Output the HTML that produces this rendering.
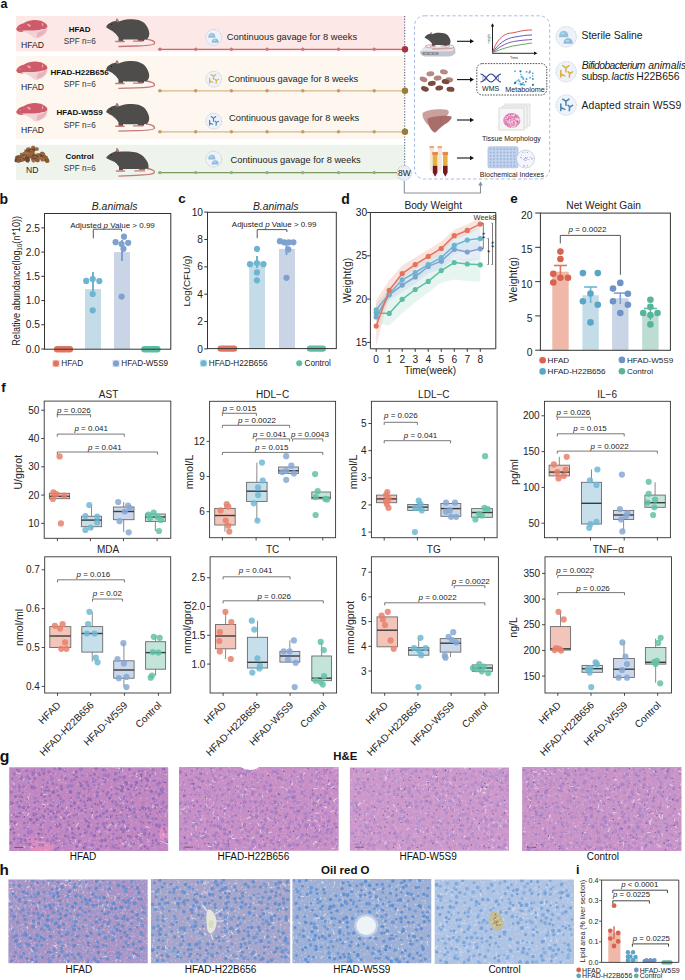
<!DOCTYPE html>
<html><head><meta charset="utf-8"><style>
html,body{margin:0;padding:0;background:#fff;width:685px;height:980px;overflow:hidden;}
svg{display:block;font-family:"Liberation Sans", sans-serif;}
</style></head><body>
<svg width="685" height="980" viewBox="0 0 685 980">
<defs>
<filter id="fw" x="0" y="0" width="1" height="1" filterUnits="objectBoundingBox">
 <feTurbulence type="fractalNoise" baseFrequency="0.45" numOctaves="2" seed="4"/>
 <feColorMatrix type="matrix" values="0 0 0 0 1  0 0 0 0 1  0 0 0 0 1  3.2 0 0 0 -1.75"/>
</filter>
<filter id="fd" x="0" y="0" width="1" height="1" filterUnits="objectBoundingBox">
 <feTurbulence type="fractalNoise" baseFrequency="0.18" numOctaves="2" seed="9"/>
 <feColorMatrix type="matrix" values="0 0 0 0 0.45  0 0 0 0 0.25  0 0 0 0 0.6  0 2.0 0 0 -0.9"/>
</filter>
<filter id="fb" x="0" y="0" width="1" height="1" filterUnits="objectBoundingBox"><feGaussianBlur stdDeviation="0.55"/></filter>
<filter id="fr" x="0" y="0" width="1" height="1" filterUnits="objectBoundingBox">
 <feTurbulence type="fractalNoise" baseFrequency="0.6" numOctaves="1" seed="2"/>
 <feColorMatrix type="matrix" values="0 0 0 0 0.78  0 0 0 0 0.3  0 0 0 0 0.5  0 0 2.6 0 -1.1"/>
</filter>
</defs>
<rect width="685" height="980" fill="#fff"/>
<text x="0.40" y="7.90" font-size="12.6" font-weight="bold" fill="#111">a</text>
<rect x="16.00" y="16.00" width="389.00" height="35.50" fill="#fce8e6"/>
<rect x="16.00" y="56.00" width="389.00" height="83.00" fill="#fdf7ef"/>
<rect x="16.00" y="144.80" width="389.00" height="35.00" fill="#eef3ec"/>
<g transform="translate(0,0)">
<path d="M20.8,30.8 C23,30.7 26,30.5 29.5,30.5 C31,30.5 33,30.5 36.5,30.2 C38,30.2 40,29.8 43,29 C44.5,29 46,28.5 47.3,27.2 C47.6,29 47.3,30.5 47,31.4 C46,33 45,34.5 43.5,35.4 C41.5,36.8 39,38 37.1,38.4 C36,38.5 35,38.4 34.2,38.1 C32.5,36.8 31,35.3 29.5,34.3 C27.5,33.2 25.5,32.3 23.7,32 C22,31.7 20.5,31.5 20.8,30.8 Z" fill="#f1d3d6"/>
<path d="M38,32 C41,31 44,30 46.8,28.5 C46.5,31 45,33.5 42,35.5 C40,36.5 38.5,37 37,37.5 C36.5,35 37,33.5 38,32 Z" fill="#e6b4ba"/>
<path d="M16.1,29 C18,25 21,23.5 23.7,23.2 C26,22 28,21 29.5,20.8 C32,20 34,20 35.4,20.1 C38,20.2 40.5,20.6 42.4,21.4 C44.5,22.3 46,23.3 46.5,24.3 C47.3,25.3 47.6,26.3 47.3,27.2 C46,28.5 44.5,29 43,29 C40,29.8 38,30.2 36.5,30.2 C33,30.5 31,30.5 29.5,30.5 C26,30.5 23,30.7 20.8,30.8 C18.5,30.8 16.8,30.2 16.1,29 Z" fill="#cf5a6a"/>
<path d="M16.1,29 C16.8,30.4 18,31.3 19,31.6 C20.5,31.8 22,31.9 23.7,32 C22,31.2 21,30.9 20.8,30.8 C18.5,30.8 16.8,30.2 16.1,29 Z" fill="#a83848"/>
<ellipse cx="29" cy="25.2" rx="2.2" ry="1.1" fill="#e8a0aa" transform="rotate(30,29,25.2)"/>
<ellipse cx="42.6" cy="24.6" rx="0.7" ry="1.8" fill="#e8a0aa"/>
<ellipse cx="20" cy="27.5" rx="1.2" ry="0.6" fill="#de8a96"/>
</g>
<g transform="translate(0,41.5)">
<path d="M20.8,30.8 C23,30.7 26,30.5 29.5,30.5 C31,30.5 33,30.5 36.5,30.2 C38,30.2 40,29.8 43,29 C44.5,29 46,28.5 47.3,27.2 C47.6,29 47.3,30.5 47,31.4 C46,33 45,34.5 43.5,35.4 C41.5,36.8 39,38 37.1,38.4 C36,38.5 35,38.4 34.2,38.1 C32.5,36.8 31,35.3 29.5,34.3 C27.5,33.2 25.5,32.3 23.7,32 C22,31.7 20.5,31.5 20.8,30.8 Z" fill="#f1d3d6"/>
<path d="M38,32 C41,31 44,30 46.8,28.5 C46.5,31 45,33.5 42,35.5 C40,36.5 38.5,37 37,37.5 C36.5,35 37,33.5 38,32 Z" fill="#e6b4ba"/>
<path d="M16.1,29 C18,25 21,23.5 23.7,23.2 C26,22 28,21 29.5,20.8 C32,20 34,20 35.4,20.1 C38,20.2 40.5,20.6 42.4,21.4 C44.5,22.3 46,23.3 46.5,24.3 C47.3,25.3 47.6,26.3 47.3,27.2 C46,28.5 44.5,29 43,29 C40,29.8 38,30.2 36.5,30.2 C33,30.5 31,30.5 29.5,30.5 C26,30.5 23,30.7 20.8,30.8 C18.5,30.8 16.8,30.2 16.1,29 Z" fill="#cf5a6a"/>
<path d="M16.1,29 C16.8,30.4 18,31.3 19,31.6 C20.5,31.8 22,31.9 23.7,32 C22,31.2 21,30.9 20.8,30.8 C18.5,30.8 16.8,30.2 16.1,29 Z" fill="#a83848"/>
<ellipse cx="29" cy="25.2" rx="2.2" ry="1.1" fill="#e8a0aa" transform="rotate(30,29,25.2)"/>
<ellipse cx="42.6" cy="24.6" rx="0.7" ry="1.8" fill="#e8a0aa"/>
<ellipse cx="20" cy="27.5" rx="1.2" ry="0.6" fill="#de8a96"/>
</g>
<g transform="translate(0,83)">
<path d="M20.8,30.8 C23,30.7 26,30.5 29.5,30.5 C31,30.5 33,30.5 36.5,30.2 C38,30.2 40,29.8 43,29 C44.5,29 46,28.5 47.3,27.2 C47.6,29 47.3,30.5 47,31.4 C46,33 45,34.5 43.5,35.4 C41.5,36.8 39,38 37.1,38.4 C36,38.5 35,38.4 34.2,38.1 C32.5,36.8 31,35.3 29.5,34.3 C27.5,33.2 25.5,32.3 23.7,32 C22,31.7 20.5,31.5 20.8,30.8 Z" fill="#f1d3d6"/>
<path d="M38,32 C41,31 44,30 46.8,28.5 C46.5,31 45,33.5 42,35.5 C40,36.5 38.5,37 37,37.5 C36.5,35 37,33.5 38,32 Z" fill="#e6b4ba"/>
<path d="M16.1,29 C18,25 21,23.5 23.7,23.2 C26,22 28,21 29.5,20.8 C32,20 34,20 35.4,20.1 C38,20.2 40.5,20.6 42.4,21.4 C44.5,22.3 46,23.3 46.5,24.3 C47.3,25.3 47.6,26.3 47.3,27.2 C46,28.5 44.5,29 43,29 C40,29.8 38,30.2 36.5,30.2 C33,30.5 31,30.5 29.5,30.5 C26,30.5 23,30.7 20.8,30.8 C18.5,30.8 16.8,30.2 16.1,29 Z" fill="#cf5a6a"/>
<path d="M16.1,29 C16.8,30.4 18,31.3 19,31.6 C20.5,31.8 22,31.9 23.7,32 C22,31.2 21,30.9 20.8,30.8 C18.5,30.8 16.8,30.2 16.1,29 Z" fill="#a83848"/>
<ellipse cx="29" cy="25.2" rx="2.2" ry="1.1" fill="#e8a0aa" transform="rotate(30,29,25.2)"/>
<ellipse cx="42.6" cy="24.6" rx="0.7" ry="1.8" fill="#e8a0aa"/>
<ellipse cx="20" cy="27.5" rx="1.2" ry="0.6" fill="#de8a96"/>
</g>
<g transform="translate(0,0)">
<rect x="31.24" y="145.73" width="3.8" height="3.2" rx="1.3" fill="#9a6842"/>
<rect x="31.14" y="147.17" width="3.8" height="3.2" rx="1.3" fill="#8a5a38"/>
<rect x="31.91" y="147.29" width="3.8" height="3.2" rx="1.3" fill="#9a6842"/>
<rect x="34.98" y="147.38" width="3.8" height="3.2" rx="1.3" fill="#a0714a"/>
<rect x="34.36" y="147.57" width="3.8" height="3.2" rx="1.3" fill="#9a6842"/>
<rect x="26.91" y="147.59" width="3.8" height="3.2" rx="1.3" fill="#7a4e30"/>
<rect x="25.90" y="147.85" width="3.8" height="3.2" rx="1.3" fill="#9a6842"/>
<rect x="27.97" y="147.88" width="3.8" height="3.2" rx="1.3" fill="#a0714a"/>
<rect x="31.38" y="148.59" width="3.8" height="3.2" rx="1.3" fill="#6e4428"/>
<rect x="27.77" y="148.92" width="3.8" height="3.2" rx="1.3" fill="#6e4428"/>
<rect x="24.32" y="149.51" width="3.8" height="3.2" rx="1.3" fill="#8a5a38"/>
<rect x="29.53" y="149.97" width="3.8" height="3.2" rx="1.3" fill="#a0714a"/>
<rect x="26.75" y="150.44" width="3.8" height="3.2" rx="1.3" fill="#7a4e30"/>
<rect x="30.84" y="150.77" width="3.8" height="3.2" rx="1.3" fill="#8a5a38"/>
<rect x="40.16" y="151.69" width="3.8" height="3.2" rx="1.3" fill="#8a5a38"/>
<rect x="22.76" y="151.79" width="3.8" height="3.2" rx="1.3" fill="#a0714a"/>
<rect x="26.23" y="151.98" width="3.8" height="3.2" rx="1.3" fill="#9a6842"/>
<rect x="24.50" y="152.29" width="3.8" height="3.2" rx="1.3" fill="#a0714a"/>
<rect x="29.28" y="152.60" width="3.8" height="3.2" rx="1.3" fill="#9a6842"/>
<rect x="19.86" y="152.79" width="3.8" height="3.2" rx="1.3" fill="#a0714a"/>
<rect x="41.34" y="152.80" width="3.8" height="3.2" rx="1.3" fill="#7a4e30"/>
<rect x="41.06" y="152.86" width="3.8" height="3.2" rx="1.3" fill="#8a5a38"/>
<rect x="40.41" y="152.87" width="3.8" height="3.2" rx="1.3" fill="#a0714a"/>
<rect x="36.50" y="152.93" width="3.8" height="3.2" rx="1.3" fill="#a0714a"/>
<rect x="22.29" y="153.33" width="3.8" height="3.2" rx="1.3" fill="#a0714a"/>
<rect x="32.87" y="153.44" width="3.8" height="3.2" rx="1.3" fill="#8a5a38"/>
<rect x="39.62" y="153.62" width="3.8" height="3.2" rx="1.3" fill="#9a6842"/>
<rect x="40.38" y="153.81" width="3.8" height="3.2" rx="1.3" fill="#9a6842"/>
<rect x="26.96" y="154.10" width="3.8" height="3.2" rx="1.3" fill="#9a6842"/>
<rect x="21.74" y="154.18" width="3.8" height="3.2" rx="1.3" fill="#8a5a38"/>
<rect x="41.46" y="154.18" width="3.8" height="3.2" rx="1.3" fill="#9a6842"/>
<rect x="38.68" y="154.20" width="3.8" height="3.2" rx="1.3" fill="#6e4428"/>
<rect x="32.78" y="154.22" width="3.8" height="3.2" rx="1.3" fill="#a0714a"/>
<rect x="20.29" y="154.24" width="3.8" height="3.2" rx="1.3" fill="#9a6842"/>
<rect x="21.95" y="154.44" width="3.8" height="3.2" rx="1.3" fill="#6e4428"/>
<rect x="31.48" y="154.45" width="3.8" height="3.2" rx="1.3" fill="#6e4428"/>
<rect x="36.03" y="154.65" width="3.8" height="3.2" rx="1.3" fill="#a0714a"/>
<rect x="23.37" y="154.73" width="3.8" height="3.2" rx="1.3" fill="#7a4e30"/>
<rect x="42.15" y="154.82" width="3.8" height="3.2" rx="1.3" fill="#9a6842"/>
<rect x="34.73" y="154.96" width="3.8" height="3.2" rx="1.3" fill="#6e4428"/>
<rect x="41.79" y="155.17" width="3.8" height="3.2" rx="1.3" fill="#6e4428"/>
<rect x="17.86" y="155.26" width="3.8" height="3.2" rx="1.3" fill="#9a6842"/>
<rect x="28.88" y="155.28" width="3.8" height="3.2" rx="1.3" fill="#8a5a38"/>
<rect x="22.83" y="155.45" width="3.8" height="3.2" rx="1.3" fill="#8a5a38"/>
<rect x="19.39" y="155.51" width="3.8" height="3.2" rx="1.3" fill="#8a5a38"/>
<rect x="16.46" y="155.51" width="3.8" height="3.2" rx="1.3" fill="#6e4428"/>
<rect x="42.94" y="155.61" width="3.8" height="3.2" rx="1.3" fill="#9a6842"/>
<rect x="22.55" y="155.74" width="3.8" height="3.2" rx="1.3" fill="#a0714a"/>
<rect x="15.33" y="155.76" width="3.8" height="3.2" rx="1.3" fill="#9a6842"/>
<rect x="16.51" y="155.82" width="3.8" height="3.2" rx="1.3" fill="#9a6842"/>
<rect x="44.12" y="155.90" width="3.8" height="3.2" rx="1.3" fill="#8a5a38"/>
<rect x="15.40" y="155.99" width="3.8" height="3.2" rx="1.3" fill="#7a4e30"/>
<rect x="33.16" y="156.09" width="3.8" height="3.2" rx="1.3" fill="#9a6842"/>
<rect x="25.39" y="156.15" width="3.8" height="3.2" rx="1.3" fill="#7a4e30"/>
<rect x="15.84" y="156.51" width="3.8" height="3.2" rx="1.3" fill="#6e4428"/>
<rect x="37.58" y="156.61" width="3.8" height="3.2" rx="1.3" fill="#9a6842"/>
<rect x="24.98" y="156.75" width="3.8" height="3.2" rx="1.3" fill="#6e4428"/>
<rect x="17.14" y="156.87" width="3.8" height="3.2" rx="1.3" fill="#7a4e30"/>
<rect x="16.43" y="156.91" width="3.8" height="3.2" rx="1.3" fill="#7a4e30"/>
<rect x="17.80" y="157.14" width="3.8" height="3.2" rx="1.3" fill="#6e4428"/>
<rect x="40.49" y="157.41" width="3.8" height="3.2" rx="1.3" fill="#a0714a"/>
<rect x="44.62" y="157.43" width="3.8" height="3.2" rx="1.3" fill="#9a6842"/>
<rect x="20.15" y="157.49" width="3.8" height="3.2" rx="1.3" fill="#8a5a38"/>
<rect x="31.24" y="157.52" width="3.8" height="3.2" rx="1.3" fill="#7a4e30"/>
<rect x="15.78" y="157.62" width="3.8" height="3.2" rx="1.3" fill="#a0714a"/>
<rect x="33.94" y="157.68" width="3.8" height="3.2" rx="1.3" fill="#6e4428"/>
<rect x="24.80" y="157.69" width="3.8" height="3.2" rx="1.3" fill="#6e4428"/>
<rect x="18.67" y="157.70" width="3.8" height="3.2" rx="1.3" fill="#a0714a"/>
<rect x="41.64" y="157.71" width="3.8" height="3.2" rx="1.3" fill="#6e4428"/>
<rect x="42.18" y="157.73" width="3.8" height="3.2" rx="1.3" fill="#9a6842"/>
<rect x="15.31" y="157.75" width="3.8" height="3.2" rx="1.3" fill="#6e4428"/>
<rect x="18.50" y="157.93" width="3.8" height="3.2" rx="1.3" fill="#9a6842"/>
<rect x="26.07" y="157.96" width="3.8" height="3.2" rx="1.3" fill="#6e4428"/>
<rect x="21.18" y="157.98" width="3.8" height="3.2" rx="1.3" fill="#6e4428"/>
<rect x="14.73" y="158.21" width="3.8" height="3.2" rx="1.3" fill="#8a5a38"/>
<rect x="44.73" y="158.25" width="3.8" height="3.2" rx="1.3" fill="#a0714a"/>
<rect x="40.71" y="158.39" width="3.8" height="3.2" rx="1.3" fill="#9a6842"/>
<rect x="15.48" y="158.42" width="3.8" height="3.2" rx="1.3" fill="#6e4428"/>
<rect x="44.68" y="158.48" width="3.8" height="3.2" rx="1.3" fill="#8a5a38"/>
<rect x="16.48" y="158.50" width="3.8" height="3.2" rx="1.3" fill="#9a6842"/>
<rect x="19.89" y="158.56" width="3.8" height="3.2" rx="1.3" fill="#9a6842"/>
<rect x="19.14" y="158.64" width="3.8" height="3.2" rx="1.3" fill="#9a6842"/>
<rect x="35.10" y="158.71" width="3.8" height="3.2" rx="1.3" fill="#a0714a"/>
<rect x="31.85" y="158.72" width="3.8" height="3.2" rx="1.3" fill="#6e4428"/>
<rect x="25.31" y="158.92" width="3.8" height="3.2" rx="1.3" fill="#8a5a38"/>
<rect x="17.31" y="158.96" width="3.8" height="3.2" rx="1.3" fill="#6e4428"/>
<rect x="35.90" y="158.97" width="3.8" height="3.2" rx="1.3" fill="#8a5a38"/>
<rect x="16.80" y="159.08" width="3.8" height="3.2" rx="1.3" fill="#7a4e30"/>
<rect x="14.61" y="159.12" width="3.8" height="3.2" rx="1.3" fill="#6e4428"/>
<rect x="44.77" y="159.15" width="3.8" height="3.2" rx="1.3" fill="#6e4428"/>
<rect x="25.80" y="159.22" width="3.8" height="3.2" rx="1.3" fill="#6e4428"/>
<rect x="31.71" y="159.22" width="3.8" height="3.2" rx="1.3" fill="#a0714a"/>
<rect x="16.56" y="159.23" width="3.8" height="3.2" rx="1.3" fill="#8a5a38"/>
<rect x="45.48" y="159.25" width="3.8" height="3.2" rx="1.3" fill="#6e4428"/>
<rect x="45.35" y="159.46" width="3.8" height="3.2" rx="1.3" fill="#8a5a38"/>
</g>
<text x="32.50" y="48.20" font-size="8.6" text-anchor="middle" fill="#222">HFAD</text>
<text x="32.50" y="90.40" font-size="8.6" text-anchor="middle" fill="#222">HFAD</text>
<text x="32.50" y="132.70" font-size="8.6" text-anchor="middle" fill="#222">HFAD</text>
<text x="32.30" y="173.20" font-size="8.6" text-anchor="middle" fill="#222">ND</text>
<text x="79.60" y="32.20" font-size="8" text-anchor="middle" font-weight="bold" fill="#111">HFAD</text>
<text x="79.80" y="43.60" font-size="8.2" text-anchor="middle" fill="#333">SPF n=6</text>
<text x="79.60" y="75.00" font-size="8" text-anchor="middle" font-weight="bold" fill="#111">HFAD-H22B656</text>
<text x="79.80" y="86.70" font-size="8.2" text-anchor="middle" fill="#333">SPF n=6</text>
<text x="79.60" y="115.20" font-size="8" text-anchor="middle" font-weight="bold" fill="#111">HFAD-W5S9</text>
<text x="79.80" y="127.60" font-size="8.2" text-anchor="middle" fill="#333">SPF n=6</text>
<text x="79.60" y="158.50" font-size="8" text-anchor="middle" font-weight="bold" fill="#111">Control</text>
<text x="79.80" y="171.30" font-size="8.2" text-anchor="middle" fill="#333">SPF n=6</text>
<g transform="translate(106.1,17.6) scale(1.0)">
<path d="M40,21.5 C46,22.3 49.5,23.8 48.2,26.3 C46.5,27.9 40,28.2 30,28.4 L12.4,28.9" fill="none" stroke="#c47a7a" stroke-width="1.3"/>
<rect x="12.50" y="20.00" width="4.50" height="3.60" fill="#4e4c4c"/>
<rect x="32.00" y="20.00" width="6.00" height="3.40" fill="#4e4c4c"/>
<path d="M9.8,23.9 L18,23.9" fill="none" stroke="#c47a7a" stroke-width="1.5" stroke-linecap="round"/>
<path d="M27.5,23.6 L36.5,23.6" fill="none" stroke="#c47a7a" stroke-width="1.3" stroke-linecap="round"/>
<path d="M0.1,9.5 C1,7.5 2,6.3 2.8,6 C4.5,4.8 6,4.2 7.1,3.8 L9.6,3.3 L10.6,0.8 C11.8,1.2 12.6,2.5 12.8,4 C16,2.5 19,1.7 22.9,1.6 C27,1.5 30,1.8 32.5,2.5 C36,3.6 38,5 39.5,6.9 C41.5,9.5 43,12.5 43.2,15.6 C43.3,18.5 42.2,20.8 40.4,21.8 C38,22.3 35,22.3 30,22 L20,22 L14.1,21.8 C12.6,20.3 11.6,18.6 10.6,17.4 C9,15.6 7,14 5.4,13 C3.2,11.9 1.2,10.8 0.1,9.5 Z" fill="#4f4c4c"/>
<path d="M9.9,3.4 L10.7,0.9 C11.7,1.4 12.4,2.6 12.5,4.6 C11.4,4.6 10.5,4.2 9.9,3.4 Z" fill="#c47a7a"/>
<circle cx="5.40" cy="6.90" r="0.55" fill="#1a1a1a"/>
<circle cx="0.40" cy="9.50" r="0.60" fill="#c47a7a"/>
</g>
<g transform="translate(106,59.5) scale(1.0)">
<path d="M40,21.5 C46,22.3 49.5,23.8 48.2,26.3 C46.5,27.9 40,28.2 30,28.4 L12.4,28.9" fill="none" stroke="#c47a7a" stroke-width="1.3"/>
<rect x="12.50" y="20.00" width="4.50" height="3.60" fill="#4e4c4c"/>
<rect x="32.00" y="20.00" width="6.00" height="3.40" fill="#4e4c4c"/>
<path d="M9.8,23.9 L18,23.9" fill="none" stroke="#c47a7a" stroke-width="1.5" stroke-linecap="round"/>
<path d="M27.5,23.6 L36.5,23.6" fill="none" stroke="#c47a7a" stroke-width="1.3" stroke-linecap="round"/>
<path d="M0.1,9.5 C1,7.5 2,6.3 2.8,6 C4.5,4.8 6,4.2 7.1,3.8 L9.6,3.3 L10.6,0.8 C11.8,1.2 12.6,2.5 12.8,4 C16,2.5 19,1.7 22.9,1.6 C27,1.5 30,1.8 32.5,2.5 C36,3.6 38,5 39.5,6.9 C41.5,9.5 43,12.5 43.2,15.6 C43.3,18.5 42.2,20.8 40.4,21.8 C38,22.3 35,22.3 30,22 L20,22 L14.1,21.8 C12.6,20.3 11.6,18.6 10.6,17.4 C9,15.6 7,14 5.4,13 C3.2,11.9 1.2,10.8 0.1,9.5 Z" fill="#4f4c4c"/>
<path d="M9.9,3.4 L10.7,0.9 C11.7,1.4 12.4,2.6 12.5,4.6 C11.4,4.6 10.5,4.2 9.9,3.4 Z" fill="#c47a7a"/>
<circle cx="5.40" cy="6.90" r="0.55" fill="#1a1a1a"/>
<circle cx="0.40" cy="9.50" r="0.60" fill="#c47a7a"/>
</g>
<g transform="translate(106,102.3) scale(1.0)">
<path d="M40,21.5 C46,22.3 49.5,23.8 48.2,26.3 C46.5,27.9 40,28.2 30,28.4 L12.4,28.9" fill="none" stroke="#c47a7a" stroke-width="1.3"/>
<rect x="12.50" y="20.00" width="4.50" height="3.60" fill="#4e4c4c"/>
<rect x="32.00" y="20.00" width="6.00" height="3.40" fill="#4e4c4c"/>
<path d="M9.8,23.9 L18,23.9" fill="none" stroke="#c47a7a" stroke-width="1.5" stroke-linecap="round"/>
<path d="M27.5,23.6 L36.5,23.6" fill="none" stroke="#c47a7a" stroke-width="1.3" stroke-linecap="round"/>
<path d="M0.1,9.5 C1,7.5 2,6.3 2.8,6 C4.5,4.8 6,4.2 7.1,3.8 L9.6,3.3 L10.6,0.8 C11.8,1.2 12.6,2.5 12.8,4 C16,2.5 19,1.7 22.9,1.6 C27,1.5 30,1.8 32.5,2.5 C36,3.6 38,5 39.5,6.9 C41.5,9.5 43,12.5 43.2,15.6 C43.3,18.5 42.2,20.8 40.4,21.8 C38,22.3 35,22.3 30,22 L20,22 L14.1,21.8 C12.6,20.3 11.6,18.6 10.6,17.4 C9,15.6 7,14 5.4,13 C3.2,11.9 1.2,10.8 0.1,9.5 Z" fill="#4f4c4c"/>
<path d="M9.9,3.4 L10.7,0.9 C11.7,1.4 12.4,2.6 12.5,4.6 C11.4,4.6 10.5,4.2 9.9,3.4 Z" fill="#c47a7a"/>
<circle cx="5.40" cy="6.90" r="0.55" fill="#1a1a1a"/>
<circle cx="0.40" cy="9.50" r="0.60" fill="#c47a7a"/>
</g>
<g transform="translate(106,146.5)">
<path d="M41,22 C46.5,22.8 49.5,24.3 48,26.6 C46,28.3 40,28.6 30,28.8 L12.5,29.6" fill="none" stroke="#c47a7a" stroke-width="1.3"/>
<rect x="13.00" y="20.00" width="4.00" height="3.60" fill="#4e4c4c"/>
<rect x="33.00" y="20.00" width="6.00" height="3.20" fill="#4e4c4c"/>
<path d="M10.5,24.6 L18.5,24.6" fill="none" stroke="#c47a7a" stroke-width="1.5" stroke-linecap="round"/>
<path d="M29,24.4 L38.5,24.4" fill="none" stroke="#c47a7a" stroke-width="1.3" stroke-linecap="round"/>
<path d="M0.2,11.1 C2,8.5 5,6.6 8,5.6 L9.8,4.8 L10.8,1.5 C12,2.2 12.8,3.6 12.9,5.2 C17,5 22,5 27.2,5.4 C33,5.8 38,9 41.4,15.3 C42.6,18 42.8,20.5 42.4,22 C38,22.8 33,22.6 28,22.4 L16,22.4 C13.5,21 12,19 10.5,17 C8,15 5,14 2.5,12.8 C1.2,12.3 0.5,11.8 0.2,11.1 Z" fill="#4f4c4c"/>
<path d="M10,4.8 L10.9,1.6 C11.9,2.2 12.6,3.5 12.6,5.6 C11.5,5.6 10.6,5.3 10,4.8 Z" fill="#c47a7a"/>
<circle cx="5.60" cy="8.30" r="0.55" fill="#1a1a1a"/>
<circle cx="0.50" cy="11.10" r="0.60" fill="#c47a7a"/>
</g>
<line x1="158.00" y1="49.30" x2="405.00" y2="49.30" stroke="#c46a72" stroke-width="1.3"/>
<circle cx="160.00" cy="49.30" r="1.70" fill="#c87880"/>
<circle cx="195.70" cy="49.30" r="1.70" fill="#c87880"/>
<circle cx="231.40" cy="49.30" r="1.70" fill="#c87880"/>
<circle cx="267.10" cy="49.30" r="1.70" fill="#c87880"/>
<circle cx="302.80" cy="49.30" r="1.70" fill="#c87880"/>
<circle cx="338.50" cy="49.30" r="1.70" fill="#c87880"/>
<circle cx="374.20" cy="49.30" r="1.70" fill="#c87880"/>
<line x1="158.00" y1="90.80" x2="405.00" y2="90.80" stroke="#d5b889" stroke-width="1.3"/>
<circle cx="160.00" cy="90.80" r="1.70" fill="#c49a66"/>
<circle cx="195.70" cy="90.80" r="1.70" fill="#c49a66"/>
<circle cx="231.40" cy="90.80" r="1.70" fill="#c49a66"/>
<circle cx="267.10" cy="90.80" r="1.70" fill="#c49a66"/>
<circle cx="302.80" cy="90.80" r="1.70" fill="#c49a66"/>
<circle cx="338.50" cy="90.80" r="1.70" fill="#c49a66"/>
<circle cx="374.20" cy="90.80" r="1.70" fill="#c49a66"/>
<line x1="158.00" y1="131.80" x2="405.00" y2="131.80" stroke="#d5b889" stroke-width="1.3"/>
<circle cx="160.00" cy="131.80" r="1.70" fill="#c49a66"/>
<circle cx="195.70" cy="131.80" r="1.70" fill="#c49a66"/>
<circle cx="231.40" cy="131.80" r="1.70" fill="#c49a66"/>
<circle cx="267.10" cy="131.80" r="1.70" fill="#c49a66"/>
<circle cx="302.80" cy="131.80" r="1.70" fill="#c49a66"/>
<circle cx="338.50" cy="131.80" r="1.70" fill="#c49a66"/>
<circle cx="374.20" cy="131.80" r="1.70" fill="#c49a66"/>
<line x1="158.00" y1="172.60" x2="405.00" y2="172.60" stroke="#7a9a62" stroke-width="1.3"/>
<circle cx="160.00" cy="172.60" r="1.70" fill="#8db07a"/>
<circle cx="195.70" cy="172.60" r="1.70" fill="#8db07a"/>
<circle cx="231.40" cy="172.60" r="1.70" fill="#8db07a"/>
<circle cx="267.10" cy="172.60" r="1.70" fill="#8db07a"/>
<circle cx="302.80" cy="172.60" r="1.70" fill="#8db07a"/>
<circle cx="338.50" cy="172.60" r="1.70" fill="#8db07a"/>
<circle cx="374.20" cy="172.60" r="1.70" fill="#8db07a"/>
<line x1="404.70" y1="16.00" x2="404.70" y2="166.00" stroke="#5a5f8a" stroke-width="1.1" stroke-dasharray="1.2,1.6"/>
<circle cx="405.00" cy="49.30" r="3.20" fill="#a8343f"/>
<circle cx="405.00" cy="90.80" r="3.20" fill="#9a7d35"/>
<circle cx="405.00" cy="131.80" r="3.20" fill="#9a7d35"/>
<circle cx="404.30" cy="173.00" r="7.30" fill="#e9eef8" stroke="#9ab0d8" stroke-width="0.7" stroke-dasharray="1.2,1"/>
<text x="404.30" y="176.20" font-size="8.5" text-anchor="middle" fill="#222">8W</text>
<path d="M404.3,181 L404.3,193 L480.5,193 L480.5,184.5" fill="none" stroke="#8a9099" stroke-width="1.1"/>
<path d="M478.2,185.6 L480.5,181.5 L482.8,185.6 Z" fill="#8a9099"/>
<text x="226.80" y="40.40" font-size="9.3" fill="#1e1e1e">Continuous gavage for 8 weeks</text>
<circle cx="213.70" cy="37.40" r="7.90" fill="#eef3fb" stroke="#a4b0c4" stroke-width="0.6" stroke-dasharray="0.9,0.7"/>
<g transform="translate(213.7,37.4) scale(0.95)">
<path d="M-5.7,0.4 C-5.9,-3.2 -4,-4.6 -2,-4.6 C0.2,-4.6 1.9,-3.2 1.7,0.4 Z" fill="#93c1dc"/>
<path d="M-2.1,5.6 C-2.3,2.4 -0.5,1.2 1.5,1.2 C3.7,1.2 5.4,2.4 5.2,5.6 Z" fill="#8cbcd8"/>
<ellipse cx="-2.6" cy="-2.6" rx="1.6" ry="0.8" fill="#b8d8ea"/>
<ellipse cx="1" cy="3.1" rx="1.6" ry="0.8" fill="#b8d8ea"/>
</g>
<text x="228.00" y="81.60" font-size="9.3" fill="#1e1e1e">Continuous gavage for 8 weeks</text>
<circle cx="213.70" cy="79.10" r="7.90" fill="#eef3fb" stroke="#a4b0c4" stroke-width="0.6" stroke-dasharray="0.9,0.7"/>
<g transform="translate(213.7,79.1) scale(0.95)" stroke="#deb040" stroke-width="1.25" fill="none" stroke-linecap="round" stroke-linejoin="round">
<path d="M-2.7,-4.8 L-0.2,-2.9 L2.2,-4.8 M-0.2,-2.9 L-0.2,0.2" fill="none"/>
<path d="M-4.3,-0.8 L-4.3,4.4 M-3.9,2.1 L-1.1,3.4" fill="none"/>
<path d="M1.5,0.2 L2.8,1.5 L5.1,0.2 M2.8,1.5 L2.5,4.4" fill="none"/>
</g>
<text x="229.00" y="121.10" font-size="9.3" fill="#1e1e1e">Continuous gavage for 8 weeks</text>
<circle cx="213.70" cy="121.10" r="7.90" fill="#eef3fb" stroke="#a4b0c4" stroke-width="0.6" stroke-dasharray="0.9,0.7"/>
<g transform="translate(213.7,121.1) scale(0.95)" stroke="#4d88aa" stroke-width="1.25" fill="none" stroke-linecap="round" stroke-linejoin="round">
<path d="M-2.7,-4.8 L-0.2,-2.9 L2.2,-4.8 M-0.2,-2.9 L-0.2,0.2" fill="none"/>
<path d="M-4.3,-0.8 L-4.3,4.4 M-3.9,2.1 L-1.1,3.4" fill="none"/>
<path d="M1.5,0.2 L2.8,1.5 L5.1,0.2 M2.8,1.5 L2.5,4.4" fill="none"/>
</g>
<text x="230.50" y="163.30" font-size="9.3" fill="#1e1e1e">Continuous gavage for 8 weeks</text>
<circle cx="213.70" cy="159.10" r="7.90" fill="#eef3fb" stroke="#a4b0c4" stroke-width="0.6" stroke-dasharray="0.9,0.7"/>
<g transform="translate(213.7,159.1) scale(0.95)">
<path d="M-5.7,0.4 C-5.9,-3.2 -4,-4.6 -2,-4.6 C0.2,-4.6 1.9,-3.2 1.7,0.4 Z" fill="#93c1dc"/>
<path d="M-2.1,5.6 C-2.3,2.4 -0.5,1.2 1.5,1.2 C3.7,1.2 5.4,2.4 5.2,5.6 Z" fill="#8cbcd8"/>
<ellipse cx="-2.6" cy="-2.6" rx="1.6" ry="0.8" fill="#b8d8ea"/>
<ellipse cx="1" cy="3.1" rx="1.6" ry="0.8" fill="#b8d8ea"/>
</g>
<rect x="414.5" y="15.8" width="135.2" height="163.2" rx="10" fill="none" stroke="#9db3da" stroke-width="0.9" stroke-dasharray="3.2,2.4"/>
<path d="M424,47.2 L455,47.2 L455.5,52.5 C455,54.5 452,56.3 448,56.6 L426,56.6 C422.5,56.3 420,54.5 420,52 Z" fill="#c2c5ce"/>
<path d="M424,47.2 L455,47.2 L452,51.2 L420.6,51.2 Z" fill="#e4e5ea"/>
<rect x="422.50" y="52.30" width="16.00" height="2.40" fill="#7e828b" rx="0.8"/>
<rect x="424.50" y="52.80" width="3.00" height="1.40" fill="#b0b4bc"/>
<rect x="429.00" y="52.80" width="3.00" height="1.40" fill="#b0b4bc"/>
<rect x="433.50" y="52.80" width="3.00" height="1.40" fill="#b0b4bc"/>
<ellipse cx="437.5" cy="46.3" rx="12.5" ry="1.9" fill="#f2f2f4"/>
<ellipse cx="437.5" cy="46.3" rx="12.5" ry="1.9" fill="none" stroke="#c47a7a" stroke-width="0.6"/>
<g transform="translate(424.6,31.8) scale(0.6)">
<path d="M40,21.5 C46,22.3 49.5,23.8 48.2,26.3 C46.5,27.9 40,28.2 30,28.4 L12.4,28.9" fill="none" stroke="#c47a7a" stroke-width="1.3"/>
<rect x="12.50" y="20.00" width="4.50" height="3.60" fill="#4e4c4c"/>
<rect x="32.00" y="20.00" width="6.00" height="3.40" fill="#4e4c4c"/>
<path d="M9.8,23.9 L18,23.9" fill="none" stroke="#c47a7a" stroke-width="1.5" stroke-linecap="round"/>
<path d="M27.5,23.6 L36.5,23.6" fill="none" stroke="#c47a7a" stroke-width="1.3" stroke-linecap="round"/>
<path d="M0.1,9.5 C1,7.5 2,6.3 2.8,6 C4.5,4.8 6,4.2 7.1,3.8 L9.6,3.3 L10.6,0.8 C11.8,1.2 12.6,2.5 12.8,4 C16,2.5 19,1.7 22.9,1.6 C27,1.5 30,1.8 32.5,2.5 C36,3.6 38,5 39.5,6.9 C41.5,9.5 43,12.5 43.2,15.6 C43.3,18.5 42.2,20.8 40.4,21.8 C38,22.3 35,22.3 30,22 L20,22 L14.1,21.8 C12.6,20.3 11.6,18.6 10.6,17.4 C9,15.6 7,14 5.4,13 C3.2,11.9 1.2,10.8 0.1,9.5 Z" fill="#4f4c4c"/>
<path d="M9.9,3.4 L10.7,0.9 C11.7,1.4 12.4,2.6 12.5,4.6 C11.4,4.6 10.5,4.2 9.9,3.4 Z" fill="#c47a7a"/>
<circle cx="5.40" cy="6.90" r="0.55" fill="#1a1a1a"/>
<circle cx="0.40" cy="9.50" r="0.60" fill="#c47a7a"/>
</g>
<line x1="457.00" y1="41.30" x2="471.00" y2="41.30" stroke="#111" stroke-width="1.1"/>
<path d="M470,39 L474,41.3 L470,43.6 Z" fill="#111"/>
<line x1="492.50" y1="24.50" x2="492.50" y2="53.30" stroke="#111" stroke-width="0.9"/>
<line x1="492.30" y1="53.30" x2="536.00" y2="53.30" stroke="#111" stroke-width="0.9"/>
<path d="M490.8,26.5 L492.5,23.3 L494.2,26.5 Z" fill="#111"/>
<path d="M534,51.6 L537.5,53.3 L534,55 Z" fill="#111"/>
<path d="M492.5,52.5 C497,38 505,33 512,33 C518,32 522,30 532,30" fill="none" stroke="#cc4040" stroke-width="0.9"/>
<path d="M492.5,52.5 C498,44 506,38 515,37 C521,36 526,35 532,35" fill="none" stroke="#4050b0" stroke-width="0.9"/>
<path d="M492.5,52.5 C500,46 508,42 517,41 C523,40 527,40 532,39.5" fill="none" stroke="#8040a0" stroke-width="0.9"/>
<path d="M492.5,52.5 C502,49 510,46 519,45 C525,44 528,43.5 532,43" fill="none" stroke="#50a050" stroke-width="0.9"/>
<text transform="translate(489.50,39.00) rotate(-90)" font-size="3.2" text-anchor="middle" fill="#333">weight</text>
<text x="514.00" y="59.00" font-size="3.6" text-anchor="middle" fill="#333">Time</text>
<ellipse cx="430.4" cy="73.8" rx="4" ry="2.5" fill="#b38c84" transform="rotate(-8,430.4,73.8)"/>
<ellipse cx="443.9" cy="71.9" rx="4" ry="2.5" fill="#b38c84" transform="rotate(10,443.9,71.9)"/>
<ellipse cx="423.5" cy="79.4" rx="4" ry="2.5" fill="#ae867e" transform="rotate(20,423.5,79.4)"/>
<ellipse cx="437.7" cy="78.1" rx="4" ry="2.5" fill="#b08880" transform="rotate(-8,437.7,78.1)"/>
<ellipse cx="449.2" cy="79.8" rx="4" ry="2.5" fill="#ad857d" transform="rotate(8,449.2,79.8)"/>
<ellipse cx="431.8" cy="83.4" rx="4" ry="2.5" fill="#7c4a40" transform="rotate(-5,431.8,83.4)"/>
<ellipse cx="445.6" cy="81.6" rx="4" ry="2.5" fill="#7a483e" transform="rotate(10,445.6,81.6)"/>
<ellipse cx="424.9" cy="88.9" rx="4" ry="2.5" fill="#7a483e" transform="rotate(20,424.9,88.9)"/>
<ellipse cx="439.3" cy="88" rx="4" ry="2.5" fill="#7c4a40" transform="rotate(-10,439.3,88)"/>
<ellipse cx="450.5" cy="89.3" rx="4" ry="2.5" fill="#7a483e" transform="rotate(5,450.5,89.3)"/>
<line x1="457.00" y1="79.60" x2="471.00" y2="79.60" stroke="#111" stroke-width="1.1"/>
<path d="M470,77.3 L474,79.6 L470,81.9 Z" fill="#111"/>
<rect x="476.8" y="63.6" width="70" height="31.4" rx="5.5" fill="none" stroke="#222" stroke-width="0.8" stroke-dasharray="1.6,1.2"/>
<path d="M480.5,74 C485,74 487,82 491,82 C495,82 497,74 501,74" fill="none" stroke="#2a3a8a" stroke-width="1.1"/>
<path d="M480.5,82 C485,82 487,74 491,74 C495,74 497,82 501,82" fill="none" stroke="#2a3a8a" stroke-width="1.1"/>
<line x1="483.00" y1="75.50" x2="483.00" y2="80.50" stroke="#5a6ab0" stroke-width="0.6"/>
<line x1="485.50" y1="75.50" x2="485.50" y2="80.50" stroke="#5a6ab0" stroke-width="0.6"/>
<line x1="496.00" y1="75.50" x2="496.00" y2="80.50" stroke="#5a6ab0" stroke-width="0.6"/>
<line x1="498.50" y1="75.50" x2="498.50" y2="80.50" stroke="#5a6ab0" stroke-width="0.6"/>
<text x="490.60" y="91.20" font-size="7" text-anchor="middle" fill="#222">WMS</text>
<circle cx="523.14" cy="78.40" r="1.15" fill="#60b0e0"/>
<circle cx="523.13" cy="82.83" r="0.71" fill="#2a78b8"/>
<circle cx="523.56" cy="79.21" r="0.71" fill="#60b0e0"/>
<circle cx="520.46" cy="71.36" r="1.09" fill="#2a78b8"/>
<circle cx="526.42" cy="78.93" r="0.84" fill="#60b0e0"/>
<circle cx="526.77" cy="79.23" r="0.69" fill="#3a90c8"/>
<circle cx="529.97" cy="70.95" r="0.62" fill="#3a90c8"/>
<circle cx="525.79" cy="81.67" r="0.80" fill="#2a78b8"/>
<circle cx="530.16" cy="77.79" r="0.98" fill="#60b0e0"/>
<circle cx="515.08" cy="71.27" r="0.99" fill="#60b0e0"/>
<circle cx="532.96" cy="84.94" r="1.10" fill="#2a78b8"/>
<circle cx="519.57" cy="81.37" r="0.91" fill="#3a90c8"/>
<circle cx="516.26" cy="81.49" r="0.84" fill="#60b0e0"/>
<circle cx="521.96" cy="84.37" r="1.11" fill="#3a90c8"/>
<circle cx="518.84" cy="83.91" r="0.63" fill="#60b0e0"/>
<circle cx="532.65" cy="75.96" r="0.64" fill="#2a78b8"/>
<circle cx="518.57" cy="80.12" r="0.80" fill="#60b0e0"/>
<circle cx="520.99" cy="84.46" r="1.05" fill="#3a90c8"/>
<circle cx="517.42" cy="80.61" r="0.61" fill="#60b0e0"/>
<circle cx="529.35" cy="72.67" r="0.94" fill="#60b0e0"/>
<circle cx="524.16" cy="84.78" r="1.06" fill="#60b0e0"/>
<circle cx="526.59" cy="71.75" r="0.85" fill="#3a90c8"/>
<circle cx="515.01" cy="82.97" r="1.18" fill="#2a78b8"/>
<circle cx="520.47" cy="83.27" r="0.73" fill="#60b0e0"/>
<circle cx="532.93" cy="79.03" r="0.95" fill="#3a90c8"/>
<circle cx="532.81" cy="73.20" r="0.75" fill="#2a78b8"/>
<circle cx="520.92" cy="74.44" r="0.64" fill="#3a90c8"/>
<circle cx="518.76" cy="79.55" r="0.61" fill="#60b0e0"/>
<circle cx="521.69" cy="76.80" r="1.18" fill="#60b0e0"/>
<circle cx="529.98" cy="72.04" r="0.83" fill="#2a78b8"/>
<text x="525.00" y="91.60" font-size="7.2" text-anchor="middle" fill="#222">Metabolome</text>
<path d="M422.5,113 C426,109.5 440,108.3 447,109.8 C449.5,111 449,113.5 447,115.5 L432,128 C427,125 422,119.5 422.5,113 Z" fill="#c9a09c"/>
<path d="M427.5,118.5 C434,115.5 446,115 451.6,116.4 C452.2,119 448.5,122 444.5,124.5 C441,127 438,130 435,132.8 C432,131.5 430,128.5 429,125.5 C428,122.5 427.3,120.5 427.5,118.5 Z" fill="#a86e6c"/>
<path d="M441,116 C441.5,119 441,122 439.5,125" fill="none" stroke="#94605e" stroke-width="0.5"/>
<line x1="457.00" y1="120.00" x2="471.00" y2="120.00" stroke="#111" stroke-width="1.1"/>
<path d="M470,117.7 L474,120 L470,122.3 Z" fill="#111"/>
<rect x="505.00" y="104.00" width="25.00" height="22.00" fill="#f2f2f2" stroke="#c8c8c8" stroke-width="0.5"/>
<rect x="502.00" y="106.00" width="25.00" height="22.00" fill="#f4f4f4" stroke="#c8c8c8" stroke-width="0.5"/>
<rect x="499.00" y="108.00" width="25.00" height="22.00" fill="#f6f6f6" stroke="#bdbdbd" stroke-width="0.5"/>
<ellipse cx="511.8" cy="120.5" rx="8.6" ry="7.6" fill="#e48cbc"/>
<circle cx="515.06" cy="125.50" r="0.80" fill="#f6d4e6"/>
<circle cx="508.25" cy="120.93" r="0.87" fill="#f6d4e6"/>
<circle cx="513.76" cy="115.82" r="0.75" fill="#f6d4e6"/>
<circle cx="511.84" cy="120.89" r="0.70" fill="#f6d4e6"/>
<circle cx="510.06" cy="119.56" r="0.87" fill="#f6d4e6"/>
<circle cx="512.21" cy="123.86" r="0.57" fill="#f6d4e6"/>
<circle cx="518.42" cy="120.41" r="0.90" fill="#f6d4e6"/>
<circle cx="510.74" cy="119.64" r="0.68" fill="#f6d4e6"/>
<circle cx="509.18" cy="120.54" r="0.93" fill="#f6d4e6"/>
<circle cx="509.75" cy="122.53" r="0.88" fill="#f6d4e6"/>
<circle cx="517.05" cy="125.26" r="0.73" fill="#f6d4e6"/>
<circle cx="507.53" cy="119.18" r="0.74" fill="#f6d4e6"/>
<circle cx="512.37" cy="121.74" r="0.90" fill="#f6d4e6"/>
<circle cx="512.45" cy="126.66" r="0.63" fill="#f6d4e6"/>
<circle cx="518.94" cy="119.21" r="0.85" fill="#f6d4e6"/>
<circle cx="512.27" cy="115.18" r="0.84" fill="#f6d4e6"/>
<circle cx="515.62" cy="123.86" r="0.88" fill="#f6d4e6"/>
<circle cx="514.04" cy="126.91" r="0.91" fill="#f6d4e6"/>
<circle cx="507.88" cy="122.78" r="0.73" fill="#f6d4e6"/>
<circle cx="506.01" cy="125.09" r="0.70" fill="#f6d4e6"/>
<circle cx="514.12" cy="120.86" r="0.84" fill="#f6d4e6"/>
<circle cx="517.22" cy="120.28" r="0.75" fill="#f6d4e6"/>
<circle cx="505.47" cy="118.61" r="0.64" fill="#f6d4e6"/>
<circle cx="507.35" cy="117.20" r="0.80" fill="#f6d4e6"/>
<circle cx="513.14" cy="123.12" r="0.69" fill="#f6d4e6"/>
<circle cx="515.87" cy="118.68" r="0.79" fill="#f6d4e6"/>
<circle cx="510.94" cy="122.61" r="0.58" fill="#f6d4e6"/>
<circle cx="514.44" cy="114.82" r="0.70" fill="#f6d4e6"/>
<circle cx="509.23" cy="115.24" r="0.91" fill="#f6d4e6"/>
<circle cx="516.54" cy="119.34" r="0.95" fill="#f6d4e6"/>
<circle cx="517.54" cy="119.21" r="0.90" fill="#f6d4e6"/>
<circle cx="507.09" cy="120.75" r="0.65" fill="#f6d4e6"/>
<circle cx="514.01" cy="118.52" r="0.58" fill="#f6d4e6"/>
<circle cx="514.10" cy="114.71" r="0.74" fill="#f6d4e6"/>
<circle cx="512.71" cy="119.13" r="0.65" fill="#f6d4e6"/>
<circle cx="510.56" cy="124.89" r="0.62" fill="#f6d4e6"/>
<circle cx="515.86" cy="122.22" r="0.91" fill="#f6d4e6"/>
<circle cx="518.41" cy="119.87" r="0.74" fill="#f6d4e6"/>
<circle cx="511.70" cy="127.35" r="0.76" fill="#f6d4e6"/>
<circle cx="511.63" cy="119.33" r="0.63" fill="#f6d4e6"/>
<circle cx="515.41" cy="115.19" r="0.50" fill="#c8508c"/>
<circle cx="516.19" cy="116.82" r="0.50" fill="#c8508c"/>
<circle cx="506.55" cy="122.89" r="0.50" fill="#c8508c"/>
<circle cx="514.30" cy="117.35" r="0.50" fill="#c8508c"/>
<circle cx="507.85" cy="119.71" r="0.50" fill="#c8508c"/>
<circle cx="511.89" cy="119.80" r="0.50" fill="#c8508c"/>
<circle cx="508.83" cy="114.22" r="0.50" fill="#c8508c"/>
<circle cx="517.67" cy="121.29" r="0.50" fill="#c8508c"/>
<circle cx="507.40" cy="115.42" r="0.50" fill="#c8508c"/>
<circle cx="508.43" cy="118.71" r="0.50" fill="#c8508c"/>
<circle cx="505.55" cy="124.33" r="0.50" fill="#c8508c"/>
<circle cx="514.13" cy="119.07" r="0.50" fill="#c8508c"/>
<circle cx="513.75" cy="121.70" r="0.50" fill="#c8508c"/>
<circle cx="516.88" cy="121.24" r="0.50" fill="#c8508c"/>
<circle cx="516.34" cy="125.54" r="0.50" fill="#c8508c"/>
<circle cx="510.26" cy="118.44" r="0.50" fill="#c8508c"/>
<circle cx="507.54" cy="119.54" r="0.50" fill="#c8508c"/>
<circle cx="508.19" cy="120.63" r="0.50" fill="#c8508c"/>
<circle cx="513.46" cy="123.09" r="0.50" fill="#c8508c"/>
<circle cx="507.13" cy="124.60" r="0.50" fill="#c8508c"/>
<circle cx="510.23" cy="120.03" r="0.50" fill="#c8508c"/>
<circle cx="510.05" cy="114.15" r="0.50" fill="#c8508c"/>
<circle cx="512.84" cy="114.35" r="0.50" fill="#c8508c"/>
<circle cx="517.04" cy="120.73" r="0.50" fill="#c8508c"/>
<circle cx="518.00" cy="122.88" r="0.50" fill="#c8508c"/>
<text x="511.40" y="141.40" font-size="7" text-anchor="middle" fill="#222">Tissue Morphology</text>
<rect x="429.50" y="146.00" width="4.50" height="2.50" fill="#f0a878"/>
<rect x="429.80" y="148.50" width="3.90" height="22.00" fill="#f2e6d8"/>
<rect x="437.50" y="146.00" width="4.50" height="2.50" fill="#f0a878"/>
<rect x="437.80" y="148.50" width="3.90" height="22.00" fill="#f2e6d8"/>
<rect x="432.30" y="151.90" width="5.60" height="3.10" fill="#e8884a"/>
<rect x="432.80" y="155.00" width="4.60" height="10.80" fill="#e4b040"/>
<path d="M432.8,165.8 L437.40000000000003,165.8 L437.40000000000003,172.4 L435.1,176.70000000000002 L432.8,172.4 Z" fill="#741822"/>
<rect x="442.50" y="151.90" width="5.60" height="3.10" fill="#e8884a"/>
<rect x="443.00" y="155.00" width="4.60" height="10.80" fill="#e4b040"/>
<path d="M443.0,165.8 L447.6,165.8 L447.6,172.4 L445.3,176.70000000000002 L443.0,172.4 Z" fill="#741822"/>
<line x1="457.00" y1="158.00" x2="471.00" y2="158.00" stroke="#111" stroke-width="1.1"/>
<path d="M470,155.7 L474,158 L470,160.3 Z" fill="#111"/>
<rect x="488.00" y="146.80" width="30.00" height="21.00" fill="#c4d4ec" stroke="#9ab0d0" stroke-width="0.6" rx="1.5"/>
<circle cx="490.60" cy="149.20" r="1.10" fill="#a0b8e0"/>
<circle cx="490.60" cy="152.50" r="1.10" fill="#a0b8e0"/>
<circle cx="490.60" cy="155.80" r="1.10" fill="#a0b8e0"/>
<circle cx="490.60" cy="159.10" r="1.10" fill="#a0b8e0"/>
<circle cx="490.60" cy="162.40" r="1.10" fill="#a0b8e0"/>
<circle cx="490.60" cy="165.70" r="1.10" fill="#a0b8e0"/>
<circle cx="494.00" cy="149.20" r="1.10" fill="#a0b8e0"/>
<circle cx="494.00" cy="152.50" r="1.10" fill="#a0b8e0"/>
<circle cx="494.00" cy="155.80" r="1.10" fill="#a0b8e0"/>
<circle cx="494.00" cy="159.10" r="1.10" fill="#a0b8e0"/>
<circle cx="494.00" cy="162.40" r="1.10" fill="#a0b8e0"/>
<circle cx="494.00" cy="165.70" r="1.10" fill="#a0b8e0"/>
<circle cx="497.40" cy="149.20" r="1.10" fill="#a0b8e0"/>
<circle cx="497.40" cy="152.50" r="1.10" fill="#a0b8e0"/>
<circle cx="497.40" cy="155.80" r="1.10" fill="#a0b8e0"/>
<circle cx="497.40" cy="159.10" r="1.10" fill="#a0b8e0"/>
<circle cx="497.40" cy="162.40" r="1.10" fill="#a0b8e0"/>
<circle cx="497.40" cy="165.70" r="1.10" fill="#a0b8e0"/>
<circle cx="500.80" cy="149.20" r="1.10" fill="#a0b8e0"/>
<circle cx="500.80" cy="152.50" r="1.10" fill="#a0b8e0"/>
<circle cx="500.80" cy="155.80" r="1.10" fill="#a0b8e0"/>
<circle cx="500.80" cy="159.10" r="1.10" fill="#a0b8e0"/>
<circle cx="500.80" cy="162.40" r="1.10" fill="#a0b8e0"/>
<circle cx="500.80" cy="165.70" r="1.10" fill="#a0b8e0"/>
<circle cx="504.20" cy="149.20" r="1.10" fill="#a0b8e0"/>
<circle cx="504.20" cy="152.50" r="1.10" fill="#a0b8e0"/>
<circle cx="504.20" cy="155.80" r="1.10" fill="#a0b8e0"/>
<circle cx="504.20" cy="159.10" r="1.10" fill="#a0b8e0"/>
<circle cx="504.20" cy="162.40" r="1.10" fill="#a0b8e0"/>
<circle cx="504.20" cy="165.70" r="1.10" fill="#a0b8e0"/>
<circle cx="507.60" cy="149.20" r="1.10" fill="#a0b8e0"/>
<circle cx="507.60" cy="152.50" r="1.10" fill="#a0b8e0"/>
<circle cx="507.60" cy="155.80" r="1.10" fill="#a0b8e0"/>
<circle cx="507.60" cy="159.10" r="1.10" fill="#a0b8e0"/>
<circle cx="507.60" cy="162.40" r="1.10" fill="#a0b8e0"/>
<circle cx="507.60" cy="165.70" r="1.10" fill="#a0b8e0"/>
<circle cx="511.00" cy="149.20" r="1.10" fill="#a0b8e0"/>
<circle cx="511.00" cy="152.50" r="1.10" fill="#a0b8e0"/>
<circle cx="511.00" cy="155.80" r="1.10" fill="#a0b8e0"/>
<circle cx="511.00" cy="159.10" r="1.10" fill="#a0b8e0"/>
<circle cx="511.00" cy="162.40" r="1.10" fill="#a0b8e0"/>
<circle cx="511.00" cy="165.70" r="1.10" fill="#a0b8e0"/>
<circle cx="514.40" cy="149.20" r="1.10" fill="#a0b8e0"/>
<circle cx="514.40" cy="152.50" r="1.10" fill="#a0b8e0"/>
<circle cx="514.40" cy="155.80" r="1.10" fill="#a0b8e0"/>
<circle cx="514.40" cy="159.10" r="1.10" fill="#a0b8e0"/>
<circle cx="514.40" cy="162.40" r="1.10" fill="#a0b8e0"/>
<circle cx="514.40" cy="165.70" r="1.10" fill="#a0b8e0"/>
<circle cx="525.50" cy="159.00" r="9.00" fill="#f4f6fc" stroke="#aab8d8" stroke-width="0.6"/>
<circle cx="521.51" cy="155.12" r="0.45" fill="#5060b0"/>
<circle cx="527.48" cy="152.21" r="0.45" fill="#5060b0"/>
<circle cx="525.06" cy="152.10" r="0.45" fill="#5060b0"/>
<circle cx="528.93" cy="159.63" r="0.45" fill="#5060b0"/>
<circle cx="530.06" cy="157.30" r="0.45" fill="#5060b0"/>
<circle cx="526.19" cy="158.50" r="0.45" fill="#5060b0"/>
<circle cx="523.69" cy="159.36" r="0.45" fill="#5060b0"/>
<circle cx="521.36" cy="157.83" r="0.45" fill="#5060b0"/>
<circle cx="527.12" cy="159.13" r="0.45" fill="#5060b0"/>
<circle cx="524.23" cy="165.76" r="0.45" fill="#5060b0"/>
<circle cx="525.62" cy="157.81" r="0.45" fill="#5060b0"/>
<circle cx="525.80" cy="158.00" r="0.45" fill="#5060b0"/>
<circle cx="524.80" cy="158.36" r="0.45" fill="#5060b0"/>
<circle cx="532.04" cy="159.07" r="0.45" fill="#5060b0"/>
<circle cx="525.91" cy="160.56" r="0.45" fill="#5060b0"/>
<circle cx="532.00" cy="158.28" r="0.45" fill="#5060b0"/>
<circle cx="523.74" cy="165.99" r="0.45" fill="#5060b0"/>
<circle cx="520.57" cy="157.76" r="0.45" fill="#5060b0"/>
<circle cx="527.48" cy="165.77" r="0.45" fill="#5060b0"/>
<circle cx="522.86" cy="152.25" r="0.45" fill="#5060b0"/>
<circle cx="527.26" cy="157.61" r="0.45" fill="#5060b0"/>
<circle cx="524.70" cy="159.95" r="0.45" fill="#5060b0"/>
<text x="511.90" y="176.50" font-size="7" text-anchor="middle" fill="#222">Biochemical Indexes</text>
<circle cx="566.20" cy="36.80" r="10.20" fill="#eef3fb" stroke="#a4b0c4" stroke-width="0.6" stroke-dasharray="0.9,0.7"/>
<g transform="translate(566.2,36.8) scale(1.25)">
<path d="M-5.7,0.4 C-5.9,-3.2 -4,-4.6 -2,-4.6 C0.2,-4.6 1.9,-3.2 1.7,0.4 Z" fill="#93c1dc"/>
<path d="M-2.1,5.6 C-2.3,2.4 -0.5,1.2 1.5,1.2 C3.7,1.2 5.4,2.4 5.2,5.6 Z" fill="#8cbcd8"/>
<ellipse cx="-2.6" cy="-2.6" rx="1.6" ry="0.8" fill="#b8d8ea"/>
<ellipse cx="1" cy="3.1" rx="1.6" ry="0.8" fill="#b8d8ea"/>
</g>
<circle cx="566.20" cy="71.60" r="10.20" fill="#eef3fb" stroke="#a4b0c4" stroke-width="0.6" stroke-dasharray="0.9,0.7"/>
<g transform="translate(566.2,71.6) scale(1.25)" stroke="#deb040" stroke-width="1.25" fill="none" stroke-linecap="round" stroke-linejoin="round">
<path d="M-2.7,-4.8 L-0.2,-2.9 L2.2,-4.8 M-0.2,-2.9 L-0.2,0.2" fill="none"/>
<path d="M-4.3,-0.8 L-4.3,4.4 M-3.9,2.1 L-1.1,3.4" fill="none"/>
<path d="M1.5,0.2 L2.8,1.5 L5.1,0.2 M2.8,1.5 L2.5,4.4" fill="none"/>
</g>
<circle cx="566.20" cy="105.10" r="10.20" fill="#eef3fb" stroke="#a4b0c4" stroke-width="0.6" stroke-dasharray="0.9,0.7"/>
<g transform="translate(566.2,105.1) scale(1.25)" stroke="#4d88aa" stroke-width="1.25" fill="none" stroke-linecap="round" stroke-linejoin="round">
<path d="M-2.7,-4.8 L-0.2,-2.9 L2.2,-4.8 M-0.2,-2.9 L-0.2,0.2" fill="none"/>
<path d="M-4.3,-0.8 L-4.3,4.4 M-3.9,2.1 L-1.1,3.4" fill="none"/>
<path d="M1.5,0.2 L2.8,1.5 L5.1,0.2 M2.8,1.5 L2.5,4.4" fill="none"/>
</g>
<text x="581.50" y="39.20" font-size="10.4" fill="#1a1a1a" textLength="61.1" lengthAdjust="spacing">Sterile Saline</text>
<text x="581.8" y="69.4" font-size="10.4" font-style="italic" fill="#1a1a1a"><tspan textLength="63.7" lengthAdjust="spacing">Bifidobacterium</tspan><tspan x="648.2">animalis</tspan></text>
<text x="581.8" y="80.2" font-size="10.4" fill="#1a1a1a"><tspan textLength="28.6" lengthAdjust="spacing">subsp.</tspan><tspan x="611.5" font-style="italic" textLength="22.7" lengthAdjust="spacing">lactis</tspan><tspan x="636.3">H22B656</tspan></text>
<text x="581.50" y="108.80" font-size="10.4" fill="#1a1a1a" textLength="99.8" lengthAdjust="spacing">Adapted strain W5S9</text>
<text x="-0.50" y="204.00" font-size="14" font-weight="bold" fill="#111">b</text>
<rect x="85.00" y="289.10" width="16.00" height="60.10" fill="#c3dce7"/>
<rect x="114.00" y="252.10" width="16.00" height="97.10" fill="#c9d4e7"/>
<line x1="93.00" y1="272.00" x2="93.00" y2="291.00" stroke="#6cb4cf" stroke-width="2"/>
<line x1="122.00" y1="240.00" x2="122.00" y2="261.00" stroke="#7ea2cf" stroke-width="2"/>
<circle cx="86.20" cy="280.90" r="3.10" fill="#6cb4cf"/>
<circle cx="92.70" cy="279.00" r="3.10" fill="#6cb4cf"/>
<circle cx="99.30" cy="281.10" r="3.10" fill="#6cb4cf"/>
<circle cx="92.70" cy="294.00" r="3.10" fill="#6cb4cf"/>
<circle cx="92.70" cy="310.30" r="3.10" fill="#6cb4cf"/>
<circle cx="115.60" cy="242.20" r="3.10" fill="#7ea2cf"/>
<circle cx="124.00" cy="236.70" r="3.10" fill="#7ea2cf"/>
<circle cx="128.20" cy="242.80" r="3.10" fill="#7ea2cf"/>
<circle cx="121.60" cy="244.10" r="3.10" fill="#7ea2cf"/>
<circle cx="123.50" cy="248.80" r="3.10" fill="#7ea2cf"/>
<circle cx="121.60" cy="296.60" r="3.10" fill="#7ea2cf"/>
<rect x="53.90" y="346.00" width="19.20" height="6.40" rx="3.20" fill="#e2735f"/>
<rect x="141.20" y="346.00" width="19.40" height="6.40" rx="3.20" fill="#5dbea5"/>
<rect x="44.50" y="213.50" width="126.30" height="135.70" fill="none" stroke="#333" stroke-width="1.0"/>
<line x1="41.30" y1="349.00" x2="44.50" y2="349.00" stroke="#333" stroke-width="1"/>
<text x="40.00" y="352.67" font-size="10.2" text-anchor="end" fill="#222">0.0</text>
<line x1="41.30" y1="324.77" x2="44.50" y2="324.77" stroke="#333" stroke-width="1"/>
<text x="40.00" y="328.45" font-size="10.2" text-anchor="end" fill="#222">0.5</text>
<line x1="41.30" y1="300.55" x2="44.50" y2="300.55" stroke="#333" stroke-width="1"/>
<text x="40.00" y="304.22" font-size="10.2" text-anchor="end" fill="#222">1.0</text>
<line x1="41.30" y1="276.32" x2="44.50" y2="276.32" stroke="#333" stroke-width="1"/>
<text x="40.00" y="280.00" font-size="10.2" text-anchor="end" fill="#222">1.5</text>
<line x1="41.30" y1="252.10" x2="44.50" y2="252.10" stroke="#333" stroke-width="1"/>
<text x="40.00" y="255.77" font-size="10.2" text-anchor="end" fill="#222">2.0</text>
<line x1="41.30" y1="227.88" x2="44.50" y2="227.88" stroke="#333" stroke-width="1"/>
<text x="40.00" y="231.55" font-size="10.2" text-anchor="end" fill="#222">2.5</text>
<text x="114.60" y="209.60" font-size="10.4" text-anchor="middle" font-style="italic" fill="#222">B.animals</text>
<text x="112.50" y="227.60" font-size="8" text-anchor="middle" fill="#222">Adjusted <tspan font-style="italic">p</tspan> Value &gt; 0.99</text>
<path d="M93.3,238.3 L93.3,229.2 L121.6,229.2 L121.6,231.5" fill="none" stroke="#444" stroke-width="0.9"/>
<text transform="translate(20.1,280.8) rotate(-90)" font-size="10.2" text-anchor="middle" fill="#222" textLength="129.8" lengthAdjust="spacingAndGlyphs">Relative abundance(log<tspan font-size="6.8" dy="2">10</tspan><tspan dy="-2">(n*10))</tspan></text>
<rect x="52.40" y="359.90" width="7.20" height="7.20" fill="#efb8a9" opacity="0.8"/>
<circle cx="56.00" cy="363.50" r="3.00" fill="#e2735f"/>
<text x="61.30" y="366.45" font-size="8.2" fill="#222">HFAD</text>
<rect x="112.40" y="359.90" width="7.20" height="7.20" fill="#c9d4e7" opacity="0.8"/>
<circle cx="116.00" cy="363.50" r="3.00" fill="#7ea2cf"/>
<text x="121.30" y="366.45" font-size="8.2" fill="#222">HFAD-W5S9</text>
<text x="178.30" y="202.50" font-size="13.5" font-weight="bold" fill="#111">c</text>
<rect x="249.20" y="262.03" width="15.80" height="86.87" fill="#c3dce7"/>
<rect x="279.00" y="248.90" width="16.00" height="100.00" fill="#c9d4e7"/>
<line x1="257.00" y1="256.00" x2="257.00" y2="268.00" stroke="#6cb4cf" stroke-width="2"/>
<line x1="286.50" y1="243.00" x2="286.50" y2="255.00" stroke="#7ea2cf" stroke-width="2"/>
<circle cx="256.90" cy="248.90" r="3.10" fill="#6cb4cf"/>
<circle cx="250.00" cy="264.20" r="3.10" fill="#6cb4cf"/>
<circle cx="256.90" cy="263.00" r="3.10" fill="#6cb4cf"/>
<circle cx="263.50" cy="264.20" r="3.10" fill="#6cb4cf"/>
<circle cx="256.90" cy="272.40" r="3.10" fill="#6cb4cf"/>
<circle cx="256.90" cy="280.30" r="3.10" fill="#6cb4cf"/>
<circle cx="279.90" cy="241.20" r="3.10" fill="#7ea2cf"/>
<circle cx="284.20" cy="242.30" r="3.10" fill="#7ea2cf"/>
<circle cx="288.80" cy="242.30" r="3.10" fill="#7ea2cf"/>
<circle cx="293.40" cy="242.30" r="3.10" fill="#7ea2cf"/>
<circle cx="288.30" cy="249.40" r="3.10" fill="#7ea2cf"/>
<circle cx="286.50" cy="277.80" r="3.10" fill="#7ea2cf"/>
<rect x="217.50" y="345.40" width="19.80" height="6.40" rx="3.20" fill="#e2735f"/>
<rect x="306.80" y="345.40" width="19.20" height="6.40" rx="3.20" fill="#5dbea5"/>
<rect x="207.50" y="212.30" width="128.80" height="136.30" fill="none" stroke="#333" stroke-width="1.0"/>
<line x1="204.30" y1="348.90" x2="207.50" y2="348.90" stroke="#333" stroke-width="1"/>
<text x="203.00" y="352.57" font-size="10.2" text-anchor="end" fill="#222">0</text>
<line x1="204.30" y1="321.54" x2="207.50" y2="321.54" stroke="#333" stroke-width="1"/>
<text x="203.00" y="325.21" font-size="10.2" text-anchor="end" fill="#222">2</text>
<line x1="204.30" y1="294.18" x2="207.50" y2="294.18" stroke="#333" stroke-width="1"/>
<text x="203.00" y="297.85" font-size="10.2" text-anchor="end" fill="#222">4</text>
<line x1="204.30" y1="266.82" x2="207.50" y2="266.82" stroke="#333" stroke-width="1"/>
<text x="203.00" y="270.49" font-size="10.2" text-anchor="end" fill="#222">6</text>
<line x1="204.30" y1="239.46" x2="207.50" y2="239.46" stroke="#333" stroke-width="1"/>
<text x="203.00" y="243.13" font-size="10.2" text-anchor="end" fill="#222">8</text>
<line x1="204.30" y1="212.10" x2="207.50" y2="212.10" stroke="#333" stroke-width="1"/>
<text x="203.00" y="215.77" font-size="10.2" text-anchor="end" fill="#222">10</text>
<text x="275.70" y="209.60" font-size="10.4" text-anchor="middle" font-style="italic" fill="#222">B.animals</text>
<text x="274.10" y="227.20" font-size="8" text-anchor="middle" fill="#222">Adjusted <tspan font-style="italic">p</tspan> Value &gt; 0.99</text>
<path d="M257.2,238.2 L257.2,229.6 L286.9,229.6 L286.9,232" fill="none" stroke="#444" stroke-width="0.9"/>
<text transform="translate(190.00,281.00) rotate(-90)" font-size="9.8" text-anchor="middle" fill="#222">Log(CFU/g)</text>
<rect x="199.90" y="359.60" width="7.20" height="7.20" fill="#c3dce7" opacity="0.8"/>
<circle cx="203.50" cy="363.20" r="3.00" fill="#6cb4cf"/>
<text x="208.80" y="366.15" font-size="8.2" fill="#222">HFAD-H22B656</text>
<circle cx="299.20" cy="363.20" r="3.00" fill="#5dbea5"/>
<text x="304.50" y="366.15" font-size="8.2" fill="#222">Control</text>
<text x="341.30" y="204.00" font-size="14" font-weight="bold" fill="#111">d</text>
<polygon points="376.20,303.90 389.21,291.40 402.22,282.30 415.23,275.50 428.24,268.40 441.25,259.60 454.26,258.50 467.27,259.00 480.28,257.80 480.28,281.80 467.27,281.00 454.26,279.50 441.25,282.60 428.24,292.40 415.23,302.50 402.22,313.30 389.21,325.40 376.20,322.90" fill="#d0ebe4" opacity="0.5"/>
<polygon points="376.20,311.90 389.21,288.80 402.22,279.10 415.23,270.90 428.24,260.40 441.25,253.20 454.26,241.30 467.27,243.00 480.28,239.80 480.28,258.80 467.27,262.00 454.26,258.30 441.25,269.20 428.24,273.40 415.23,283.90 402.22,292.10 389.21,300.80 376.20,322.90" fill="#cfdbef" opacity="0.5"/>
<polygon points="376.20,303.80 389.21,288.00 402.22,272.80 415.23,265.50 428.24,257.60 441.25,249.70 454.26,235.40 467.27,230.10 480.28,228.60 480.28,248.60 467.27,250.10 454.26,254.40 441.25,265.70 428.24,271.60 415.23,279.50 402.22,286.80 389.21,300.00 376.20,315.80" fill="#cbe3ee" opacity="0.5"/>
<polygon points="376.20,300.10 389.21,280.30 402.22,265.50 415.23,257.60 428.24,249.40 441.25,241.50 454.26,229.70 467.27,224.40 480.28,218.10 480.28,228.10 467.27,234.40 454.26,239.70 441.25,253.50 428.24,261.40 415.23,269.60 402.22,278.50 389.21,295.30 376.20,346.10" fill="#f4c8bc" opacity="0.5"/>
<polyline points="376.20,312.90 389.21,313.40 402.22,299.30 415.23,289.50 428.24,281.40 441.25,270.60 454.26,262.50 467.27,264.00 480.28,264.80" fill="none" stroke="#5dbea5" stroke-width="1.5"/>
<circle cx="376.20" cy="312.90" r="2.60" fill="#5dbea5"/>
<circle cx="389.21" cy="313.40" r="2.60" fill="#5dbea5"/>
<circle cx="402.22" cy="299.30" r="2.60" fill="#5dbea5"/>
<circle cx="415.23" cy="289.50" r="2.60" fill="#5dbea5"/>
<circle cx="428.24" cy="281.40" r="2.60" fill="#5dbea5"/>
<circle cx="441.25" cy="270.60" r="2.60" fill="#5dbea5"/>
<circle cx="454.26" cy="262.50" r="2.60" fill="#5dbea5"/>
<circle cx="467.27" cy="264.00" r="2.60" fill="#5dbea5"/>
<circle cx="480.28" cy="264.80" r="2.60" fill="#5dbea5"/>
<polyline points="376.20,316.90 389.21,294.80 402.22,285.10 415.23,276.90 428.24,266.40 441.25,261.20 454.26,249.30 467.27,252.00 480.28,248.80" fill="none" stroke="#7ea2cf" stroke-width="1.5"/>
<circle cx="376.20" cy="316.90" r="2.60" fill="#7ea2cf"/>
<circle cx="389.21" cy="294.80" r="2.60" fill="#7ea2cf"/>
<circle cx="402.22" cy="285.10" r="2.60" fill="#7ea2cf"/>
<circle cx="415.23" cy="276.90" r="2.60" fill="#7ea2cf"/>
<circle cx="428.24" cy="266.40" r="2.60" fill="#7ea2cf"/>
<circle cx="441.25" cy="261.20" r="2.60" fill="#7ea2cf"/>
<circle cx="454.26" cy="249.30" r="2.60" fill="#7ea2cf"/>
<circle cx="467.27" cy="252.00" r="2.60" fill="#7ea2cf"/>
<circle cx="480.28" cy="248.80" r="2.60" fill="#7ea2cf"/>
<polyline points="376.20,309.80 389.21,294.00 402.22,279.80 415.23,272.50 428.24,264.60 441.25,257.70 454.26,245.40 467.27,240.10 480.28,238.60" fill="none" stroke="#6cb4cf" stroke-width="1.5"/>
<circle cx="376.20" cy="309.80" r="2.60" fill="#6cb4cf"/>
<circle cx="389.21" cy="294.00" r="2.60" fill="#6cb4cf"/>
<circle cx="402.22" cy="279.80" r="2.60" fill="#6cb4cf"/>
<circle cx="415.23" cy="272.50" r="2.60" fill="#6cb4cf"/>
<circle cx="428.24" cy="264.60" r="2.60" fill="#6cb4cf"/>
<circle cx="441.25" cy="257.70" r="2.60" fill="#6cb4cf"/>
<circle cx="454.26" cy="245.40" r="2.60" fill="#6cb4cf"/>
<circle cx="467.27" cy="240.10" r="2.60" fill="#6cb4cf"/>
<circle cx="480.28" cy="238.60" r="2.60" fill="#6cb4cf"/>
<polyline points="376.20,326.10 389.21,290.30 402.22,273.50 415.23,264.60 428.24,256.40 441.25,248.50 454.26,235.70 467.27,230.40 480.28,224.10" fill="none" stroke="#e2735f" stroke-width="1.5"/>
<circle cx="376.20" cy="326.10" r="2.60" fill="#e2735f"/>
<circle cx="389.21" cy="290.30" r="2.60" fill="#e2735f"/>
<circle cx="402.22" cy="273.50" r="2.60" fill="#e2735f"/>
<circle cx="415.23" cy="264.60" r="2.60" fill="#e2735f"/>
<circle cx="428.24" cy="256.40" r="2.60" fill="#e2735f"/>
<circle cx="441.25" cy="248.50" r="2.60" fill="#e2735f"/>
<circle cx="454.26" cy="235.70" r="2.60" fill="#e2735f"/>
<circle cx="467.27" cy="230.40" r="2.60" fill="#e2735f"/>
<circle cx="480.28" cy="224.10" r="2.60" fill="#e2735f"/>
<path d="M370.4,212.5 L370.4,348.8 L495.8,348.8 L495.8,212.5 Z" fill="none" stroke="#333" stroke-width="1"/>
<line x1="367.20" y1="342.40" x2="370.40" y2="342.40" stroke="#333" stroke-width="1"/>
<text x="367.20" y="346.07" font-size="10.2" text-anchor="end" fill="#222">15</text>
<line x1="367.20" y1="299.10" x2="370.40" y2="299.10" stroke="#333" stroke-width="1"/>
<text x="367.20" y="302.77" font-size="10.2" text-anchor="end" fill="#222">20</text>
<line x1="367.20" y1="255.80" x2="370.40" y2="255.80" stroke="#333" stroke-width="1"/>
<text x="367.20" y="259.47" font-size="10.2" text-anchor="end" fill="#222">25</text>
<line x1="367.20" y1="212.50" x2="370.40" y2="212.50" stroke="#333" stroke-width="1"/>
<text x="367.20" y="216.17" font-size="10.2" text-anchor="end" fill="#222">30</text>
<line x1="376.20" y1="348.80" x2="376.20" y2="351.80" stroke="#333" stroke-width="1"/>
<text x="376.20" y="362.80" font-size="10.2" text-anchor="middle" fill="#222">0</text>
<line x1="389.21" y1="348.80" x2="389.21" y2="351.80" stroke="#333" stroke-width="1"/>
<text x="389.21" y="362.80" font-size="10.2" text-anchor="middle" fill="#222">1</text>
<line x1="402.22" y1="348.80" x2="402.22" y2="351.80" stroke="#333" stroke-width="1"/>
<text x="402.22" y="362.80" font-size="10.2" text-anchor="middle" fill="#222">2</text>
<line x1="415.23" y1="348.80" x2="415.23" y2="351.80" stroke="#333" stroke-width="1"/>
<text x="415.23" y="362.80" font-size="10.2" text-anchor="middle" fill="#222">3</text>
<line x1="428.24" y1="348.80" x2="428.24" y2="351.80" stroke="#333" stroke-width="1"/>
<text x="428.24" y="362.80" font-size="10.2" text-anchor="middle" fill="#222">4</text>
<line x1="441.25" y1="348.80" x2="441.25" y2="351.80" stroke="#333" stroke-width="1"/>
<text x="441.25" y="362.80" font-size="10.2" text-anchor="middle" fill="#222">5</text>
<line x1="454.26" y1="348.80" x2="454.26" y2="351.80" stroke="#333" stroke-width="1"/>
<text x="454.26" y="362.80" font-size="10.2" text-anchor="middle" fill="#222">6</text>
<line x1="467.27" y1="348.80" x2="467.27" y2="351.80" stroke="#333" stroke-width="1"/>
<text x="467.27" y="362.80" font-size="10.2" text-anchor="middle" fill="#222">7</text>
<line x1="480.28" y1="348.80" x2="480.28" y2="351.80" stroke="#333" stroke-width="1"/>
<text x="480.28" y="362.80" font-size="10.2" text-anchor="middle" fill="#222">8</text>
<text x="430.20" y="373.80" font-size="10" text-anchor="middle" fill="#222">Time(week)</text>
<text x="433.20" y="208.70" font-size="10.2" text-anchor="middle" fill="#222">Body Weight</text>
<text transform="translate(350.90,280.40) rotate(-90)" font-size="10.5" text-anchor="middle" fill="#222">Weight(g)</text>
<text x="485.00" y="219.80" font-size="7" text-anchor="middle" fill="#333" textLength="23" lengthAdjust="spacingAndGlyphs">Week8</text>
<path d="M482.2,223.2 L483.3,223.2 L483.3,248.6 L482.2,248.6" fill="none" stroke="#444" stroke-width="0.7"/>
<path d="M487.4,238.5 L488.5,238.5 L488.5,264.5 L487.4,264.5" fill="none" stroke="#444" stroke-width="0.7"/>
<path d="M491.4,223.2 L492.5,223.2 L492.5,264.5 L491.4,264.5" fill="none" stroke="#444" stroke-width="0.7"/>
<text transform="translate(480.4,233.6) rotate(90)" font-size="7.5" text-anchor="middle" fill="#111">*</text>
<text transform="translate(480.4,237.3) rotate(90)" font-size="7.5" text-anchor="middle" fill="#111">*</text>
<text transform="translate(485.3,251.3) rotate(90)" font-size="7.5" text-anchor="middle" fill="#111">*</text>
<text transform="translate(489.3,242.6) rotate(90)" font-size="7.5" text-anchor="middle" fill="#111">*</text>
<text transform="translate(489.3,246.2) rotate(90)" font-size="7.5" text-anchor="middle" fill="#111">*</text>
<text x="510.20" y="202.60" font-size="13.5" font-weight="bold" fill="#111">e</text>
<rect x="552.30" y="271.70" width="16.40" height="78.50" fill="#efb8a9"/>
<rect x="582.40" y="295.20" width="16.40" height="55.00" fill="#c3dce7"/>
<rect x="612.10" y="298.20" width="16.40" height="52.00" fill="#c9d4e7"/>
<rect x="642.20" y="314.60" width="16.40" height="35.60" fill="#bddcd2"/>
<line x1="560.40" y1="265.50" x2="560.40" y2="279.00" stroke="#e2735f" stroke-width="1.6"/>
<line x1="553.90" y1="265.50" x2="566.90" y2="265.50" stroke="#e2735f" stroke-width="1.6"/>
<line x1="590.60" y1="287.00" x2="590.60" y2="303.00" stroke="#6cb4cf" stroke-width="1.6"/>
<line x1="584.10" y1="287.00" x2="597.10" y2="287.00" stroke="#6cb4cf" stroke-width="1.6"/>
<line x1="620.30" y1="293.10" x2="620.30" y2="304.00" stroke="#7ea2cf" stroke-width="1.6"/>
<line x1="613.80" y1="293.10" x2="626.80" y2="293.10" stroke="#7ea2cf" stroke-width="1.6"/>
<line x1="650.40" y1="308.50" x2="650.40" y2="320.00" stroke="#5dbea5" stroke-width="1.6"/>
<line x1="643.90" y1="308.50" x2="656.90" y2="308.50" stroke="#5dbea5" stroke-width="1.6"/>
<circle cx="560.40" cy="251.60" r="3.30" fill="#d8634f"/>
<circle cx="560.40" cy="259.00" r="3.30" fill="#d8634f"/>
<circle cx="553.30" cy="273.70" r="3.30" fill="#d8634f"/>
<circle cx="560.40" cy="277.80" r="3.30" fill="#d8634f"/>
<circle cx="568.00" cy="277.80" r="3.30" fill="#d8634f"/>
<circle cx="553.30" cy="282.50" r="3.30" fill="#d8634f"/>
<circle cx="582.90" cy="273.10" r="3.30" fill="#5aa6c6"/>
<circle cx="597.80" cy="273.10" r="3.30" fill="#5aa6c6"/>
<circle cx="590.50" cy="293.50" r="3.30" fill="#5aa6c6"/>
<circle cx="582.90" cy="301.30" r="3.30" fill="#5aa6c6"/>
<circle cx="597.80" cy="304.80" r="3.30" fill="#5aa6c6"/>
<circle cx="590.50" cy="322.40" r="3.30" fill="#5aa6c6"/>
<circle cx="620.30" cy="282.90" r="3.30" fill="#6e93c6"/>
<circle cx="613.00" cy="288.60" r="3.30" fill="#6e93c6"/>
<circle cx="627.90" cy="293.80" r="3.30" fill="#6e93c6"/>
<circle cx="613.00" cy="301.30" r="3.30" fill="#6e93c6"/>
<circle cx="627.90" cy="304.80" r="3.30" fill="#6e93c6"/>
<circle cx="620.30" cy="313.00" r="3.30" fill="#6e93c6"/>
<circle cx="650.40" cy="299.70" r="3.30" fill="#55b49b"/>
<circle cx="650.40" cy="306.80" r="3.30" fill="#55b49b"/>
<circle cx="643.20" cy="313.00" r="3.30" fill="#55b49b"/>
<circle cx="650.40" cy="315.00" r="3.30" fill="#55b49b"/>
<circle cx="657.50" cy="313.00" r="3.30" fill="#55b49b"/>
<circle cx="650.40" cy="324.40" r="3.30" fill="#55b49b"/>
<rect x="540.40" y="213.10" width="130.00" height="137.20" fill="none" stroke="#333" stroke-width="1.0"/>
<line x1="535.20" y1="350.20" x2="540.40" y2="350.20" stroke="#333" stroke-width="1"/>
<text x="532.40" y="356.21" font-size="10.3" text-anchor="end" fill="#222">0</text>
<line x1="535.20" y1="315.90" x2="540.40" y2="315.90" stroke="#333" stroke-width="1"/>
<text x="532.40" y="321.91" font-size="10.3" text-anchor="end" fill="#222">5</text>
<line x1="535.20" y1="281.60" x2="540.40" y2="281.60" stroke="#333" stroke-width="1"/>
<text x="532.40" y="287.61" font-size="10.3" text-anchor="end" fill="#222">10</text>
<line x1="535.20" y1="247.30" x2="540.40" y2="247.30" stroke="#333" stroke-width="1"/>
<text x="532.40" y="253.31" font-size="10.3" text-anchor="end" fill="#222">15</text>
<line x1="535.20" y1="213.00" x2="540.40" y2="213.00" stroke="#333" stroke-width="1"/>
<text x="532.40" y="219.01" font-size="10.3" text-anchor="end" fill="#222">20</text>
<text x="603.60" y="208.60" font-size="10.2" text-anchor="middle" fill="#222">Net Weight Gain</text>
<path d="M560.3,243.4 L560.3,235.4 L620.4,235.4 L620.4,274.8" fill="none" stroke="#444" stroke-width="0.9"/>
<text x="587.50" y="232.30" font-size="8" text-anchor="middle" fill="#222"><tspan font-style="italic">p</tspan> = 0.0022</text>
<text transform="translate(517.20,279.60) rotate(-90)" font-size="10.5" text-anchor="middle" fill="#222">Weight(g)</text>
<circle cx="542.60" cy="360.20" r="3.30" fill="#d8634f"/>
<text x="547.60" y="363.10" font-size="8.1" fill="#222">HFAD</text>
<circle cx="621.90" cy="359.90" r="3.30" fill="#6e93c6"/>
<text x="626.90" y="362.80" font-size="8.1" fill="#222">HFAD-W5S9</text>
<circle cx="542.60" cy="371.40" r="3.30" fill="#5aa6c6"/>
<text x="547.60" y="374.30" font-size="8.1" fill="#222">HFAD-H22B656</text>
<circle cx="621.90" cy="371.20" r="3.30" fill="#55b49b"/>
<text x="626.90" y="374.10" font-size="8.1" fill="#222">Control</text>
<text x="1.20" y="391.90" font-size="13.5" font-weight="bold" fill="#111">f</text>
<rect x="49.40" y="493.30" width="20.20" height="5.40" fill="#f3c5ba" stroke="#6a6a6a" stroke-width="0.9"/>
<line x1="49.40" y1="496.30" x2="69.60" y2="496.30" stroke="#3a3a3a" stroke-width="1.4"/>
<line x1="91.50" y1="505.00" x2="91.50" y2="516.30" stroke="#8a8a8a" stroke-width="1"/>
<line x1="91.50" y1="526.70" x2="91.50" y2="530.00" stroke="#8a8a8a" stroke-width="1"/>
<rect x="81.40" y="516.30" width="20.20" height="10.40" fill="#c7dfea" stroke="#6a6a6a" stroke-width="0.9"/>
<line x1="81.40" y1="520.10" x2="101.60" y2="520.10" stroke="#3a3a3a" stroke-width="1.4"/>
<line x1="123.70" y1="502.00" x2="123.70" y2="507.00" stroke="#8a8a8a" stroke-width="1"/>
<line x1="123.70" y1="519.70" x2="123.70" y2="532.00" stroke="#8a8a8a" stroke-width="1"/>
<rect x="113.40" y="507.00" width="20.60" height="12.70" fill="#cbd7eb" stroke="#6a6a6a" stroke-width="0.9"/>
<line x1="113.40" y1="511.50" x2="134.00" y2="511.50" stroke="#3a3a3a" stroke-width="1.4"/>
<line x1="155.35" y1="521.40" x2="155.35" y2="531.00" stroke="#8a8a8a" stroke-width="1"/>
<rect x="145.40" y="514.00" width="19.90" height="7.40" fill="#c2e4d9" stroke="#6a6a6a" stroke-width="0.9"/>
<line x1="145.40" y1="517.00" x2="165.30" y2="517.00" stroke="#3a3a3a" stroke-width="1.4"/>
<circle cx="59.60" cy="456.40" r="3.10" fill="#e8806b" opacity="0.85"/>
<circle cx="53.40" cy="492.30" r="3.10" fill="#e8806b" opacity="0.85"/>
<circle cx="56.50" cy="494.20" r="3.10" fill="#e8806b" opacity="0.85"/>
<circle cx="64.30" cy="495.60" r="3.10" fill="#e8806b" opacity="0.85"/>
<circle cx="52.90" cy="499.00" r="3.10" fill="#e8806b" opacity="0.85"/>
<circle cx="60.90" cy="523.40" r="3.10" fill="#e8806b" opacity="0.85"/>
<circle cx="89.30" cy="505.00" r="3.10" fill="#6fb8d3" opacity="0.85"/>
<circle cx="85.40" cy="516.00" r="3.10" fill="#6fb8d3" opacity="0.85"/>
<circle cx="97.20" cy="516.50" r="3.10" fill="#6fb8d3" opacity="0.85"/>
<circle cx="97.20" cy="522.50" r="3.10" fill="#6fb8d3" opacity="0.85"/>
<circle cx="90.60" cy="527.50" r="3.10" fill="#6fb8d3" opacity="0.85"/>
<circle cx="85.40" cy="530.00" r="3.10" fill="#6fb8d3" opacity="0.85"/>
<circle cx="118.20" cy="502.00" r="3.10" fill="#86a8d4" opacity="0.85"/>
<circle cx="128.00" cy="505.50" r="3.10" fill="#86a8d4" opacity="0.85"/>
<circle cx="124.80" cy="511.50" r="3.10" fill="#86a8d4" opacity="0.85"/>
<circle cx="130.00" cy="508.00" r="3.10" fill="#86a8d4" opacity="0.85"/>
<circle cx="119.50" cy="521.20" r="3.10" fill="#86a8d4" opacity="0.85"/>
<circle cx="128.70" cy="532.30" r="3.10" fill="#86a8d4" opacity="0.85"/>
<circle cx="153.70" cy="512.50" r="3.10" fill="#62c2a8" opacity="0.85"/>
<circle cx="148.40" cy="514.70" r="3.10" fill="#62c2a8" opacity="0.85"/>
<circle cx="157.60" cy="516.80" r="3.10" fill="#62c2a8" opacity="0.85"/>
<circle cx="160.80" cy="519.90" r="3.10" fill="#62c2a8" opacity="0.85"/>
<circle cx="150.00" cy="518.00" r="3.10" fill="#62c2a8" opacity="0.85"/>
<circle cx="159.00" cy="531.00" r="3.10" fill="#62c2a8" opacity="0.85"/>
<rect x="44.20" y="401.10" width="126.60" height="137.20" fill="none" stroke="#333" stroke-width="0.9"/>
<line x1="41.20" y1="523.40" x2="44.20" y2="523.40" stroke="#333" stroke-width="0.9"/>
<text x="39.40" y="527.00" font-size="10" text-anchor="end" fill="#222">10</text>
<line x1="41.20" y1="495.10" x2="44.20" y2="495.10" stroke="#333" stroke-width="0.9"/>
<text x="39.40" y="498.70" font-size="10" text-anchor="end" fill="#222">20</text>
<line x1="41.20" y1="466.80" x2="44.20" y2="466.80" stroke="#333" stroke-width="0.9"/>
<text x="39.40" y="470.40" font-size="10" text-anchor="end" fill="#222">30</text>
<line x1="41.20" y1="438.50" x2="44.20" y2="438.50" stroke="#333" stroke-width="0.9"/>
<text x="39.40" y="442.10" font-size="10" text-anchor="end" fill="#222">40</text>
<line x1="41.20" y1="410.20" x2="44.20" y2="410.20" stroke="#333" stroke-width="0.9"/>
<text x="39.40" y="413.80" font-size="10" text-anchor="end" fill="#222">50</text>
<line x1="57.40" y1="538.30" x2="57.40" y2="541.10" stroke="#333" stroke-width="0.9"/>
<line x1="90.40" y1="538.30" x2="90.40" y2="541.10" stroke="#333" stroke-width="0.9"/>
<line x1="123.50" y1="538.30" x2="123.50" y2="541.10" stroke="#333" stroke-width="0.9"/>
<line x1="157.10" y1="538.30" x2="157.10" y2="541.10" stroke="#333" stroke-width="0.9"/>
<text x="108.60" y="397.70" font-size="10" text-anchor="middle" fill="#222">AST</text>
<text transform="translate(22.30,472.20) rotate(-90)" font-size="10.6" text-anchor="middle" fill="#222">U/gprot</text>
<path d="M57.3,417.3 L57.3,414.7 L90.6,414.7 L90.6,417.3" fill="none" stroke="#555" stroke-width="0.8"/>
<text x="73.90" y="412.70" font-size="8" text-anchor="middle" fill="#222"><tspan font-style="italic">p</tspan> = 0.026</text>
<path d="M57.3,436.70000000000005 L57.3,434.1 L124.3,434.1 L124.3,436.70000000000005" fill="none" stroke="#555" stroke-width="0.8"/>
<text x="91.20" y="430.80" font-size="8" text-anchor="middle" fill="#222"><tspan font-style="italic">p</tspan> = 0.041</text>
<path d="M57.3,454.6 L57.3,452 L157.5,452 L157.5,454.6" fill="none" stroke="#555" stroke-width="0.8"/>
<text x="104.80" y="449.50" font-size="8" text-anchor="middle" fill="#222"><tspan font-style="italic">p</tspan> = 0.041</text>
<line x1="224.95" y1="504.00" x2="224.95" y2="508.40" stroke="#8a8a8a" stroke-width="1"/>
<line x1="224.95" y1="525.00" x2="224.95" y2="531.60" stroke="#8a8a8a" stroke-width="1"/>
<rect x="214.70" y="508.40" width="20.50" height="16.60" fill="#f3c5ba" stroke="#6a6a6a" stroke-width="0.9"/>
<line x1="214.70" y1="515.50" x2="235.20" y2="515.50" stroke="#3a3a3a" stroke-width="1.4"/>
<line x1="256.85" y1="462.60" x2="256.85" y2="482.30" stroke="#8a8a8a" stroke-width="1"/>
<line x1="256.85" y1="501.50" x2="256.85" y2="520.60" stroke="#8a8a8a" stroke-width="1"/>
<rect x="246.60" y="482.30" width="20.50" height="19.20" fill="#c7dfea" stroke="#6a6a6a" stroke-width="0.9"/>
<line x1="246.60" y1="491.20" x2="267.10" y2="491.20" stroke="#3a3a3a" stroke-width="1.4"/>
<rect x="278.60" y="467.00" width="19.90" height="6.40" fill="#cbd7eb" stroke="#6a6a6a" stroke-width="0.9"/>
<line x1="278.60" y1="470.80" x2="298.50" y2="470.80" stroke="#3a3a3a" stroke-width="1.4"/>
<rect x="311.80" y="492.00" width="18.60" height="6.90" fill="#c2e4d9" stroke="#6a6a6a" stroke-width="0.9"/>
<line x1="311.80" y1="497.60" x2="330.40" y2="497.60" stroke="#3a3a3a" stroke-width="1.4"/>
<circle cx="226.70" cy="504.00" r="3.10" fill="#e8806b" opacity="0.85"/>
<circle cx="228.30" cy="506.60" r="3.10" fill="#e8806b" opacity="0.85"/>
<circle cx="220.60" cy="510.40" r="3.10" fill="#e8806b" opacity="0.85"/>
<circle cx="225.70" cy="520.60" r="3.10" fill="#e8806b" opacity="0.85"/>
<circle cx="228.30" cy="525.70" r="3.10" fill="#e8806b" opacity="0.85"/>
<circle cx="229.30" cy="531.60" r="3.10" fill="#e8806b" opacity="0.85"/>
<circle cx="262.00" cy="462.60" r="3.10" fill="#6fb8d3" opacity="0.85"/>
<circle cx="262.70" cy="480.50" r="3.10" fill="#6fb8d3" opacity="0.85"/>
<circle cx="258.10" cy="487.40" r="3.10" fill="#6fb8d3" opacity="0.85"/>
<circle cx="258.10" cy="495.10" r="3.10" fill="#6fb8d3" opacity="0.85"/>
<circle cx="253.80" cy="503.30" r="3.10" fill="#6fb8d3" opacity="0.85"/>
<circle cx="257.40" cy="520.60" r="3.10" fill="#6fb8d3" opacity="0.85"/>
<circle cx="286.20" cy="456.20" r="3.10" fill="#86a8d4" opacity="0.85"/>
<circle cx="291.40" cy="465.70" r="3.10" fill="#86a8d4" opacity="0.85"/>
<circle cx="286.20" cy="470.80" r="3.10" fill="#86a8d4" opacity="0.85"/>
<circle cx="293.90" cy="473.40" r="3.10" fill="#86a8d4" opacity="0.85"/>
<circle cx="282.40" cy="472.10" r="3.10" fill="#86a8d4" opacity="0.85"/>
<circle cx="286.20" cy="479.80" r="3.10" fill="#86a8d4" opacity="0.85"/>
<circle cx="315.10" cy="474.10" r="3.10" fill="#62c2a8" opacity="0.85"/>
<circle cx="317.70" cy="491.20" r="3.10" fill="#62c2a8" opacity="0.85"/>
<circle cx="315.60" cy="497.10" r="3.10" fill="#62c2a8" opacity="0.85"/>
<circle cx="325.30" cy="498.90" r="3.10" fill="#62c2a8" opacity="0.85"/>
<circle cx="327.10" cy="499.40" r="3.10" fill="#62c2a8" opacity="0.85"/>
<circle cx="315.60" cy="515.00" r="3.10" fill="#62c2a8" opacity="0.85"/>
<rect x="209.60" y="401.30" width="126.00" height="136.40" fill="none" stroke="#333" stroke-width="0.9"/>
<line x1="206.60" y1="511.70" x2="209.60" y2="511.70" stroke="#333" stroke-width="0.9"/>
<text x="204.80" y="515.30" font-size="10" text-anchor="end" fill="#222">6</text>
<line x1="206.60" y1="476.54" x2="209.60" y2="476.54" stroke="#333" stroke-width="0.9"/>
<text x="204.80" y="480.14" font-size="10" text-anchor="end" fill="#222">9</text>
<line x1="206.60" y1="441.38" x2="209.60" y2="441.38" stroke="#333" stroke-width="0.9"/>
<text x="204.80" y="444.98" font-size="10" text-anchor="end" fill="#222">12</text>
<line x1="222.40" y1="537.70" x2="222.40" y2="540.50" stroke="#333" stroke-width="0.9"/>
<line x1="256.10" y1="537.70" x2="256.10" y2="540.50" stroke="#333" stroke-width="0.9"/>
<line x1="289.60" y1="537.70" x2="289.60" y2="540.50" stroke="#333" stroke-width="0.9"/>
<line x1="322.80" y1="537.70" x2="322.80" y2="540.50" stroke="#333" stroke-width="0.9"/>
<text x="272.60" y="397.90" font-size="10" text-anchor="middle" fill="#222">HDL&#8722;C</text>
<text transform="translate(192.90,472.00) rotate(-90)" font-size="10.6" text-anchor="middle" fill="#222">mmol/L</text>
<path d="M222.4,415.90000000000003 L222.4,413.3 L256.4,413.3 L256.4,415.90000000000003" fill="none" stroke="#555" stroke-width="0.8"/>
<text x="239.40" y="410.80" font-size="8" text-anchor="middle" fill="#222"><tspan font-style="italic">p</tspan> = 0.015</text>
<path d="M222.4,427.90000000000003 L222.4,425.3 L289.6,425.3 L289.6,427.90000000000003" fill="none" stroke="#555" stroke-width="0.8"/>
<text x="256.90" y="422.80" font-size="8" text-anchor="middle" fill="#222"><tspan font-style="italic">p</tspan> = 0.0022</text>
<path d="M256.1,441.5 L256.1,438.9 L289.6,438.9 L289.6,441.5" fill="none" stroke="#555" stroke-width="0.8"/>
<text x="269.60" y="436.80" font-size="8" text-anchor="middle" fill="#222"><tspan font-style="italic">p</tspan> = 0.041</text>
<path d="M292.6,441.5 L292.6,438.9 L322.8,438.9 L322.8,441.5" fill="none" stroke="#555" stroke-width="0.8"/>
<text x="310.00" y="436.80" font-size="8" text-anchor="middle" fill="#222"><tspan font-style="italic">p</tspan> = 0.0043</text>
<path d="M222.4,455.0 L222.4,452.4 L322.8,452.4 L322.8,455.0" fill="none" stroke="#555" stroke-width="0.8"/>
<text x="271.70" y="449.60" font-size="8" text-anchor="middle" fill="#222"><tspan font-style="italic">p</tspan> = 0.015</text>
<rect x="376.50" y="495.10" width="20.20" height="7.60" fill="#f3c5ba" stroke="#6a6a6a" stroke-width="0.9"/>
<line x1="376.50" y1="498.90" x2="396.70" y2="498.90" stroke="#3a3a3a" stroke-width="1.4"/>
<rect x="407.70" y="504.50" width="20.40" height="5.90" fill="#c7dfea" stroke="#6a6a6a" stroke-width="0.9"/>
<line x1="407.70" y1="507.10" x2="428.10" y2="507.10" stroke="#3a3a3a" stroke-width="1.4"/>
<rect x="440.90" y="503.50" width="19.90" height="12.80" fill="#cbd7eb" stroke="#6a6a6a" stroke-width="0.9"/>
<line x1="440.90" y1="508.60" x2="460.80" y2="508.60" stroke="#3a3a3a" stroke-width="1.4"/>
<rect x="471.60" y="508.60" width="20.90" height="8.70" fill="#c2e4d9" stroke="#6a6a6a" stroke-width="0.9"/>
<line x1="471.60" y1="512.50" x2="492.50" y2="512.50" stroke="#3a3a3a" stroke-width="1.4"/>
<circle cx="387.30" cy="492.00" r="3.10" fill="#e8806b" opacity="0.85"/>
<circle cx="386.00" cy="495.00" r="3.10" fill="#e8806b" opacity="0.85"/>
<circle cx="388.50" cy="498.90" r="3.10" fill="#e8806b" opacity="0.85"/>
<circle cx="386.00" cy="501.50" r="3.10" fill="#e8806b" opacity="0.85"/>
<circle cx="388.50" cy="507.90" r="3.10" fill="#e8806b" opacity="0.85"/>
<circle cx="386.80" cy="504.00" r="3.10" fill="#e8806b" opacity="0.85"/>
<circle cx="418.70" cy="500.70" r="3.10" fill="#6fb8d3" opacity="0.85"/>
<circle cx="420.50" cy="504.00" r="3.10" fill="#6fb8d3" opacity="0.85"/>
<circle cx="415.40" cy="507.90" r="3.10" fill="#6fb8d3" opacity="0.85"/>
<circle cx="421.80" cy="510.40" r="3.10" fill="#6fb8d3" opacity="0.85"/>
<circle cx="418.70" cy="507.90" r="3.10" fill="#6fb8d3" opacity="0.85"/>
<circle cx="414.90" cy="532.10" r="3.10" fill="#6fb8d3" opacity="0.85"/>
<circle cx="446.00" cy="502.70" r="3.10" fill="#86a8d4" opacity="0.85"/>
<circle cx="455.00" cy="502.70" r="3.10" fill="#86a8d4" opacity="0.85"/>
<circle cx="449.90" cy="510.40" r="3.10" fill="#86a8d4" opacity="0.85"/>
<circle cx="446.00" cy="511.70" r="3.10" fill="#86a8d4" opacity="0.85"/>
<circle cx="451.10" cy="516.80" r="3.10" fill="#86a8d4" opacity="0.85"/>
<circle cx="456.20" cy="516.80" r="3.10" fill="#86a8d4" opacity="0.85"/>
<circle cx="485.10" cy="456.20" r="3.10" fill="#62c2a8" opacity="0.85"/>
<circle cx="484.40" cy="507.90" r="3.10" fill="#62c2a8" opacity="0.85"/>
<circle cx="487.70" cy="509.10" r="3.10" fill="#62c2a8" opacity="0.85"/>
<circle cx="479.20" cy="514.20" r="3.10" fill="#62c2a8" opacity="0.85"/>
<circle cx="475.40" cy="519.40" r="3.10" fill="#62c2a8" opacity="0.85"/>
<circle cx="481.80" cy="515.50" r="3.10" fill="#62c2a8" opacity="0.85"/>
<rect x="371.40" y="401.30" width="125.70" height="136.40" fill="none" stroke="#333" stroke-width="0.9"/>
<line x1="368.40" y1="532.10" x2="371.40" y2="532.10" stroke="#333" stroke-width="0.9"/>
<text x="366.60" y="535.70" font-size="10" text-anchor="end" fill="#222">1</text>
<line x1="368.40" y1="504.95" x2="371.40" y2="504.95" stroke="#333" stroke-width="0.9"/>
<text x="366.60" y="508.55" font-size="10" text-anchor="end" fill="#222">2</text>
<line x1="368.40" y1="477.80" x2="371.40" y2="477.80" stroke="#333" stroke-width="0.9"/>
<text x="366.60" y="481.40" font-size="10" text-anchor="end" fill="#222">3</text>
<line x1="368.40" y1="450.65" x2="371.40" y2="450.65" stroke="#333" stroke-width="0.9"/>
<text x="366.60" y="454.25" font-size="10" text-anchor="end" fill="#222">4</text>
<line x1="368.40" y1="423.50" x2="371.40" y2="423.50" stroke="#333" stroke-width="0.9"/>
<text x="366.60" y="427.10" font-size="10" text-anchor="end" fill="#222">5</text>
<line x1="384.20" y1="537.70" x2="384.20" y2="540.50" stroke="#333" stroke-width="0.9"/>
<line x1="417.40" y1="537.70" x2="417.40" y2="540.50" stroke="#333" stroke-width="0.9"/>
<line x1="450.60" y1="537.70" x2="450.60" y2="540.50" stroke="#333" stroke-width="0.9"/>
<line x1="484.40" y1="537.70" x2="484.40" y2="540.50" stroke="#333" stroke-width="0.9"/>
<text x="433.80" y="397.90" font-size="10" text-anchor="middle" fill="#222">LDL&#8722;C</text>
<text transform="translate(356.50,472.00) rotate(-90)" font-size="10.6" text-anchor="middle" fill="#222">mmol/L</text>
<path d="M384.2,424.90000000000003 L384.2,422.3 L417.4,422.3 L417.4,424.90000000000003" fill="none" stroke="#555" stroke-width="0.8"/>
<text x="400.80" y="418.40" font-size="8" text-anchor="middle" fill="#222"><tspan font-style="italic">p</tspan> = 0.026</text>
<path d="M384.2,443.3 L384.2,440.7 L450.6,440.7 L450.6,443.3" fill="none" stroke="#555" stroke-width="0.8"/>
<text x="420.50" y="437.60" font-size="8" text-anchor="middle" fill="#222"><tspan font-style="italic">p</tspan> = 0.041</text>
<line x1="559.30" y1="456.80" x2="559.30" y2="465.20" stroke="#8a8a8a" stroke-width="1"/>
<rect x="549.10" y="465.20" width="20.40" height="10.70" fill="#f3c5ba" stroke="#6a6a6a" stroke-width="0.9"/>
<line x1="549.10" y1="472.10" x2="569.50" y2="472.10" stroke="#3a3a3a" stroke-width="1.4"/>
<line x1="591.50" y1="469.50" x2="591.50" y2="482.30" stroke="#8a8a8a" stroke-width="1"/>
<rect x="581.50" y="482.30" width="20.00" height="41.70" fill="#c7dfea" stroke="#6a6a6a" stroke-width="0.9"/>
<line x1="581.50" y1="503.30" x2="601.50" y2="503.30" stroke="#3a3a3a" stroke-width="1.4"/>
<line x1="623.60" y1="519.40" x2="623.60" y2="530.80" stroke="#8a8a8a" stroke-width="1"/>
<rect x="613.50" y="510.40" width="20.20" height="9.00" fill="#cbd7eb" stroke="#6a6a6a" stroke-width="0.9"/>
<line x1="613.50" y1="515.00" x2="633.70" y2="515.00" stroke="#3a3a3a" stroke-width="1.4"/>
<line x1="655.10" y1="482.30" x2="655.10" y2="495.10" stroke="#8a8a8a" stroke-width="1"/>
<rect x="644.90" y="495.10" width="20.40" height="12.20" fill="#c2e4d9" stroke="#6a6a6a" stroke-width="0.9"/>
<line x1="644.90" y1="502.70" x2="665.30" y2="502.70" stroke="#3a3a3a" stroke-width="1.4"/>
<circle cx="566.70" cy="456.80" r="3.10" fill="#e8806b" opacity="0.85"/>
<circle cx="553.90" cy="464.40" r="3.10" fill="#e8806b" opacity="0.85"/>
<circle cx="565.70" cy="469.50" r="3.10" fill="#e8806b" opacity="0.85"/>
<circle cx="557.30" cy="472.10" r="3.10" fill="#e8806b" opacity="0.85"/>
<circle cx="563.70" cy="475.90" r="3.10" fill="#e8806b" opacity="0.85"/>
<circle cx="558.50" cy="478.50" r="3.10" fill="#e8806b" opacity="0.85"/>
<circle cx="597.40" cy="469.50" r="3.10" fill="#6fb8d3" opacity="0.85"/>
<circle cx="590.00" cy="480.30" r="3.10" fill="#6fb8d3" opacity="0.85"/>
<circle cx="596.40" cy="484.90" r="3.10" fill="#6fb8d3" opacity="0.85"/>
<circle cx="596.40" cy="521.90" r="3.10" fill="#6fb8d3" opacity="0.85"/>
<circle cx="590.50" cy="524.00" r="3.10" fill="#6fb8d3" opacity="0.85"/>
<circle cx="589.20" cy="527.80" r="3.10" fill="#6fb8d3" opacity="0.85"/>
<circle cx="621.90" cy="474.60" r="3.10" fill="#86a8d4" opacity="0.85"/>
<circle cx="619.90" cy="509.10" r="3.10" fill="#86a8d4" opacity="0.85"/>
<circle cx="627.50" cy="513.00" r="3.10" fill="#86a8d4" opacity="0.85"/>
<circle cx="621.10" cy="519.40" r="3.10" fill="#86a8d4" opacity="0.85"/>
<circle cx="622.40" cy="531.40" r="3.10" fill="#86a8d4" opacity="0.85"/>
<circle cx="626.00" cy="516.00" r="3.10" fill="#86a8d4" opacity="0.85"/>
<circle cx="648.70" cy="481.80" r="3.10" fill="#62c2a8" opacity="0.85"/>
<circle cx="648.70" cy="493.80" r="3.10" fill="#62c2a8" opacity="0.85"/>
<circle cx="655.10" cy="499.70" r="3.10" fill="#62c2a8" opacity="0.85"/>
<circle cx="647.50" cy="502.70" r="3.10" fill="#62c2a8" opacity="0.85"/>
<circle cx="654.40" cy="507.30" r="3.10" fill="#62c2a8" opacity="0.85"/>
<circle cx="653.10" cy="515.00" r="3.10" fill="#62c2a8" opacity="0.85"/>
<rect x="544.50" y="401.30" width="125.90" height="136.40" fill="none" stroke="#333" stroke-width="0.9"/>
<line x1="541.50" y1="523.20" x2="544.50" y2="523.20" stroke="#333" stroke-width="0.9"/>
<text x="539.70" y="526.80" font-size="10" text-anchor="end" fill="#222">50</text>
<line x1="541.50" y1="487.40" x2="544.50" y2="487.40" stroke="#333" stroke-width="0.9"/>
<text x="539.70" y="491.00" font-size="10" text-anchor="end" fill="#222">100</text>
<line x1="541.50" y1="451.60" x2="544.50" y2="451.60" stroke="#333" stroke-width="0.9"/>
<text x="539.70" y="455.20" font-size="10" text-anchor="end" fill="#222">150</text>
<line x1="541.50" y1="415.80" x2="544.50" y2="415.80" stroke="#333" stroke-width="0.9"/>
<text x="539.70" y="419.40" font-size="10" text-anchor="end" fill="#222">200</text>
<line x1="557.30" y1="537.70" x2="557.30" y2="540.50" stroke="#333" stroke-width="0.9"/>
<line x1="590.50" y1="537.70" x2="590.50" y2="540.50" stroke="#333" stroke-width="0.9"/>
<line x1="624.20" y1="537.70" x2="624.20" y2="540.50" stroke="#333" stroke-width="0.9"/>
<line x1="657.40" y1="537.70" x2="657.40" y2="540.50" stroke="#333" stroke-width="0.9"/>
<text x="607.10" y="397.90" font-size="10" text-anchor="middle" fill="#222">IL&#8722;6</text>
<text transform="translate(517.50,472.00) rotate(-90)" font-size="10.6" text-anchor="middle" fill="#222">pg/ml</text>
<path d="M557.3,419.8 L557.3,417.2 L590.5,417.2 L590.5,419.8" fill="none" stroke="#555" stroke-width="0.8"/>
<text x="573.40" y="414.60" font-size="8" text-anchor="middle" fill="#222"><tspan font-style="italic">p</tspan> = 0.026</text>
<path d="M557.3,436.40000000000003 L557.3,433.8 L624.2,433.8 L624.2,436.40000000000003" fill="none" stroke="#555" stroke-width="0.8"/>
<text x="590.00" y="431.20" font-size="8" text-anchor="middle" fill="#222"><tspan font-style="italic">p</tspan> = 0.015</text>
<path d="M557.3,453.70000000000005 L557.3,451.1 L657.4,451.1 L657.4,453.70000000000005" fill="none" stroke="#555" stroke-width="0.8"/>
<text x="609.60" y="449.10" font-size="8" text-anchor="middle" fill="#222"><tspan font-style="italic">p</tspan> = 0.0022</text>
<rect x="49.80" y="626.60" width="21.00" height="20.90" fill="#f3c5ba" stroke="#6a6a6a" stroke-width="0.9"/>
<line x1="49.80" y1="636.00" x2="70.80" y2="636.00" stroke="#3a3a3a" stroke-width="1.4"/>
<line x1="92.25" y1="611.80" x2="92.25" y2="626.60" stroke="#8a8a8a" stroke-width="1"/>
<line x1="92.25" y1="652.10" x2="92.25" y2="661.60" stroke="#8a8a8a" stroke-width="1"/>
<rect x="81.80" y="626.60" width="20.90" height="25.50" fill="#c7dfea" stroke="#6a6a6a" stroke-width="0.9"/>
<line x1="81.80" y1="633.50" x2="102.70" y2="633.50" stroke="#3a3a3a" stroke-width="1.4"/>
<line x1="123.90" y1="643.20" x2="123.90" y2="660.80" stroke="#8a8a8a" stroke-width="1"/>
<line x1="123.90" y1="678.20" x2="123.90" y2="687.10" stroke="#8a8a8a" stroke-width="1"/>
<rect x="113.70" y="660.80" width="20.40" height="17.40" fill="#cbd7eb" stroke="#6a6a6a" stroke-width="0.9"/>
<line x1="113.70" y1="670.00" x2="134.10" y2="670.00" stroke="#3a3a3a" stroke-width="1.4"/>
<line x1="155.60" y1="636.00" x2="155.60" y2="641.70" stroke="#8a8a8a" stroke-width="1"/>
<line x1="155.60" y1="669.20" x2="155.60" y2="675.60" stroke="#8a8a8a" stroke-width="1"/>
<rect x="145.60" y="641.70" width="20.00" height="27.50" fill="#c2e4d9" stroke="#6a6a6a" stroke-width="0.9"/>
<line x1="145.60" y1="652.60" x2="165.60" y2="652.60" stroke="#3a3a3a" stroke-width="1.4"/>
<circle cx="54.90" cy="625.80" r="3.10" fill="#e8806b" opacity="0.85"/>
<circle cx="62.60" cy="624.00" r="3.10" fill="#e8806b" opacity="0.85"/>
<circle cx="60.00" cy="628.40" r="3.10" fill="#e8806b" opacity="0.85"/>
<circle cx="65.10" cy="642.40" r="3.10" fill="#e8806b" opacity="0.85"/>
<circle cx="61.30" cy="648.80" r="3.10" fill="#e8806b" opacity="0.85"/>
<circle cx="66.40" cy="648.80" r="3.10" fill="#e8806b" opacity="0.85"/>
<circle cx="89.40" cy="611.80" r="3.10" fill="#6fb8d3" opacity="0.85"/>
<circle cx="88.10" cy="624.00" r="3.10" fill="#6fb8d3" opacity="0.85"/>
<circle cx="86.90" cy="633.50" r="3.10" fill="#6fb8d3" opacity="0.85"/>
<circle cx="94.50" cy="633.50" r="3.10" fill="#6fb8d3" opacity="0.85"/>
<circle cx="95.80" cy="657.70" r="3.10" fill="#6fb8d3" opacity="0.85"/>
<circle cx="97.60" cy="662.30" r="3.10" fill="#6fb8d3" opacity="0.85"/>
<circle cx="123.40" cy="643.20" r="3.10" fill="#86a8d4" opacity="0.85"/>
<circle cx="117.50" cy="659.00" r="3.10" fill="#86a8d4" opacity="0.85"/>
<circle cx="123.90" cy="663.40" r="3.10" fill="#86a8d4" opacity="0.85"/>
<circle cx="118.80" cy="678.20" r="3.10" fill="#86a8d4" opacity="0.85"/>
<circle cx="126.50" cy="676.90" r="3.10" fill="#86a8d4" opacity="0.85"/>
<circle cx="126.50" cy="687.10" r="3.10" fill="#86a8d4" opacity="0.85"/>
<circle cx="153.80" cy="636.80" r="3.10" fill="#62c2a8" opacity="0.85"/>
<circle cx="159.70" cy="637.80" r="3.10" fill="#62c2a8" opacity="0.85"/>
<circle cx="152.80" cy="652.10" r="3.10" fill="#62c2a8" opacity="0.85"/>
<circle cx="158.40" cy="652.60" r="3.10" fill="#62c2a8" opacity="0.85"/>
<circle cx="152.00" cy="675.60" r="3.10" fill="#62c2a8" opacity="0.85"/>
<circle cx="150.70" cy="677.70" r="3.10" fill="#62c2a8" opacity="0.85"/>
<rect x="44.70" y="556.80" width="126.00" height="136.20" fill="none" stroke="#333" stroke-width="0.9"/>
<line x1="41.70" y1="686.40" x2="44.70" y2="686.40" stroke="#333" stroke-width="0.9"/>
<text x="39.90" y="690.00" font-size="10" text-anchor="end" fill="#222">0.4</text>
<line x1="41.70" y1="647.53" x2="44.70" y2="647.53" stroke="#333" stroke-width="0.9"/>
<text x="39.90" y="651.13" font-size="10" text-anchor="end" fill="#222">0.5</text>
<line x1="41.70" y1="608.66" x2="44.70" y2="608.66" stroke="#333" stroke-width="0.9"/>
<text x="39.90" y="612.26" font-size="10" text-anchor="end" fill="#222">0.6</text>
<line x1="41.70" y1="569.79" x2="44.70" y2="569.79" stroke="#333" stroke-width="0.9"/>
<text x="39.90" y="573.39" font-size="10" text-anchor="end" fill="#222">0.7</text>
<line x1="57.50" y1="693.00" x2="57.50" y2="695.80" stroke="#333" stroke-width="0.9"/>
<line x1="90.70" y1="693.00" x2="90.70" y2="695.80" stroke="#333" stroke-width="0.9"/>
<line x1="124.40" y1="693.00" x2="124.40" y2="695.80" stroke="#333" stroke-width="0.9"/>
<line x1="158.40" y1="693.00" x2="158.40" y2="695.80" stroke="#333" stroke-width="0.9"/>
<text x="108.00" y="553.40" font-size="10" text-anchor="middle" fill="#222">MDA</text>
<text transform="translate(22.90,627.40) rotate(-90)" font-size="10.6" text-anchor="middle" fill="#222">nmol/ml</text>
<path d="M57.5,582.4 L57.5,579.8 L124.4,579.8 L124.4,582.4" fill="none" stroke="#555" stroke-width="0.8"/>
<text x="93.30" y="577.30" font-size="8" text-anchor="middle" fill="#222"><tspan font-style="italic">p</tspan> = 0.016</text>
<path d="M92.5,601.6 L92.5,599 L122.6,599 L122.6,601.6" fill="none" stroke="#555" stroke-width="0.8"/>
<text x="107.30" y="596.40" font-size="8" text-anchor="middle" fill="#222"><tspan font-style="italic">p</tspan> = 0.02</text>
<line x1="225.60" y1="612.30" x2="225.60" y2="624.50" stroke="#8a8a8a" stroke-width="1"/>
<line x1="225.60" y1="648.80" x2="225.60" y2="659.00" stroke="#8a8a8a" stroke-width="1"/>
<rect x="215.50" y="624.50" width="20.20" height="24.30" fill="#f3c5ba" stroke="#6a6a6a" stroke-width="0.9"/>
<line x1="215.50" y1="636.00" x2="235.70" y2="636.00" stroke="#3a3a3a" stroke-width="1.4"/>
<line x1="257.50" y1="620.70" x2="257.50" y2="637.30" stroke="#8a8a8a" stroke-width="1"/>
<line x1="257.50" y1="668.00" x2="257.50" y2="670.00" stroke="#8a8a8a" stroke-width="1"/>
<rect x="247.40" y="637.30" width="20.20" height="30.70" fill="#c7dfea" stroke="#6a6a6a" stroke-width="0.9"/>
<line x1="247.40" y1="662.30" x2="267.60" y2="662.30" stroke="#3a3a3a" stroke-width="1.4"/>
<line x1="289.85" y1="640.40" x2="289.85" y2="651.40" stroke="#8a8a8a" stroke-width="1"/>
<rect x="279.90" y="651.40" width="19.90" height="10.70" fill="#cbd7eb" stroke="#6a6a6a" stroke-width="0.9"/>
<line x1="279.90" y1="656.00" x2="299.80" y2="656.00" stroke="#3a3a3a" stroke-width="1.4"/>
<line x1="321.65" y1="642.40" x2="321.65" y2="656.00" stroke="#8a8a8a" stroke-width="1"/>
<rect x="311.80" y="656.00" width="19.70" height="24.70" fill="#c2e4d9" stroke="#6a6a6a" stroke-width="0.9"/>
<line x1="311.80" y1="678.20" x2="331.50" y2="678.20" stroke="#3a3a3a" stroke-width="1.4"/>
<circle cx="225.40" cy="611.80" r="3.10" fill="#e8806b" opacity="0.85"/>
<circle cx="231.30" cy="622.00" r="3.10" fill="#e8806b" opacity="0.85"/>
<circle cx="219.80" cy="632.20" r="3.10" fill="#e8806b" opacity="0.85"/>
<circle cx="219.30" cy="641.10" r="3.10" fill="#e8806b" opacity="0.85"/>
<circle cx="219.80" cy="651.40" r="3.10" fill="#e8806b" opacity="0.85"/>
<circle cx="230.80" cy="659.00" r="3.10" fill="#e8806b" opacity="0.85"/>
<circle cx="251.80" cy="620.70" r="3.10" fill="#6fb8d3" opacity="0.85"/>
<circle cx="254.30" cy="629.60" r="3.10" fill="#6fb8d3" opacity="0.85"/>
<circle cx="257.40" cy="658.30" r="3.10" fill="#6fb8d3" opacity="0.85"/>
<circle cx="259.90" cy="665.90" r="3.10" fill="#6fb8d3" opacity="0.85"/>
<circle cx="259.40" cy="668.50" r="3.10" fill="#6fb8d3" opacity="0.85"/>
<circle cx="252.30" cy="672.60" r="3.10" fill="#6fb8d3" opacity="0.85"/>
<circle cx="293.90" cy="640.40" r="3.10" fill="#86a8d4" opacity="0.85"/>
<circle cx="283.70" cy="651.40" r="3.10" fill="#86a8d4" opacity="0.85"/>
<circle cx="289.60" cy="651.40" r="3.10" fill="#86a8d4" opacity="0.85"/>
<circle cx="288.00" cy="659.80" r="3.10" fill="#86a8d4" opacity="0.85"/>
<circle cx="295.70" cy="662.80" r="3.10" fill="#86a8d4" opacity="0.85"/>
<circle cx="294.70" cy="687.10" r="3.10" fill="#86a8d4" opacity="0.85"/>
<circle cx="320.70" cy="641.90" r="3.10" fill="#62c2a8" opacity="0.85"/>
<circle cx="323.80" cy="650.10" r="3.10" fill="#62c2a8" opacity="0.85"/>
<circle cx="324.10" cy="676.10" r="3.10" fill="#62c2a8" opacity="0.85"/>
<circle cx="315.60" cy="680.70" r="3.10" fill="#62c2a8" opacity="0.85"/>
<circle cx="322.80" cy="684.60" r="3.10" fill="#62c2a8" opacity="0.85"/>
<circle cx="320.70" cy="682.00" r="3.10" fill="#62c2a8" opacity="0.85"/>
<rect x="210.10" y="556.80" width="126.50" height="136.20" fill="none" stroke="#333" stroke-width="0.9"/>
<line x1="207.10" y1="664.10" x2="210.10" y2="664.10" stroke="#333" stroke-width="0.9"/>
<text x="205.30" y="667.70" font-size="10" text-anchor="end" fill="#222">1.0</text>
<line x1="207.10" y1="635.30" x2="210.10" y2="635.30" stroke="#333" stroke-width="0.9"/>
<text x="205.30" y="638.90" font-size="10" text-anchor="end" fill="#222">1.5</text>
<line x1="207.10" y1="606.50" x2="210.10" y2="606.50" stroke="#333" stroke-width="0.9"/>
<text x="205.30" y="610.10" font-size="10" text-anchor="end" fill="#222">2.0</text>
<line x1="207.10" y1="577.70" x2="210.10" y2="577.70" stroke="#333" stroke-width="0.9"/>
<text x="205.30" y="581.30" font-size="10" text-anchor="end" fill="#222">2.5</text>
<line x1="223.10" y1="693.00" x2="223.10" y2="695.80" stroke="#333" stroke-width="0.9"/>
<line x1="256.90" y1="693.00" x2="256.90" y2="695.80" stroke="#333" stroke-width="0.9"/>
<line x1="290.10" y1="693.00" x2="290.10" y2="695.80" stroke="#333" stroke-width="0.9"/>
<line x1="323.30" y1="693.00" x2="323.30" y2="695.80" stroke="#333" stroke-width="0.9"/>
<text x="272.70" y="553.40" font-size="10" text-anchor="middle" fill="#222">TC</text>
<text transform="translate(191.10,627.40) rotate(-90)" font-size="10.6" text-anchor="middle" fill="#222">mmol/gprot</text>
<path d="M223.1,579.4 L223.1,576.8 L290.1,576.8 L290.1,579.4" fill="none" stroke="#555" stroke-width="0.8"/>
<text x="255.60" y="573.40" font-size="8" text-anchor="middle" fill="#222"><tspan font-style="italic">p</tspan> = 0.041</text>
<path d="M223.1,603.4 L223.1,600.8 L323.3,600.8 L323.3,603.4" fill="none" stroke="#555" stroke-width="0.8"/>
<text x="274.20" y="598.50" font-size="8" text-anchor="middle" fill="#222"><tspan font-style="italic">p</tspan> = 0.026</text>
<rect x="377.00" y="616.90" width="20.50" height="29.90" fill="#f3c5ba" stroke="#6a6a6a" stroke-width="0.9"/>
<line x1="377.00" y1="630.20" x2="397.50" y2="630.20" stroke="#3a3a3a" stroke-width="1.4"/>
<line x1="418.70" y1="637.30" x2="418.70" y2="647.50" stroke="#8a8a8a" stroke-width="1"/>
<rect x="408.50" y="647.50" width="20.40" height="7.70" fill="#c7dfea" stroke="#6a6a6a" stroke-width="0.9"/>
<line x1="408.50" y1="650.10" x2="428.90" y2="650.10" stroke="#3a3a3a" stroke-width="1.4"/>
<line x1="450.50" y1="652.10" x2="450.50" y2="657.00" stroke="#8a8a8a" stroke-width="1"/>
<rect x="440.20" y="638.60" width="20.60" height="13.50" fill="#cbd7eb" stroke="#6a6a6a" stroke-width="0.9"/>
<line x1="440.20" y1="643.20" x2="460.80" y2="643.20" stroke="#3a3a3a" stroke-width="1.4"/>
<rect x="472.30" y="664.90" width="20.20" height="6.40" fill="#c2e4d9" stroke="#6a6a6a" stroke-width="0.9"/>
<line x1="472.30" y1="668.00" x2="492.50" y2="668.00" stroke="#3a3a3a" stroke-width="1.4"/>
<circle cx="387.80" cy="611.80" r="3.10" fill="#e8806b" opacity="0.85"/>
<circle cx="381.60" cy="615.60" r="3.10" fill="#e8806b" opacity="0.85"/>
<circle cx="382.90" cy="619.40" r="3.10" fill="#e8806b" opacity="0.85"/>
<circle cx="390.60" cy="640.40" r="3.10" fill="#e8806b" opacity="0.85"/>
<circle cx="393.70" cy="648.80" r="3.10" fill="#e8806b" opacity="0.85"/>
<circle cx="385.00" cy="625.00" r="3.10" fill="#e8806b" opacity="0.85"/>
<circle cx="420.50" cy="637.80" r="3.10" fill="#6fb8d3" opacity="0.85"/>
<circle cx="414.10" cy="648.00" r="3.10" fill="#6fb8d3" opacity="0.85"/>
<circle cx="425.60" cy="648.00" r="3.10" fill="#6fb8d3" opacity="0.85"/>
<circle cx="421.20" cy="655.20" r="3.10" fill="#6fb8d3" opacity="0.85"/>
<circle cx="419.20" cy="650.60" r="3.10" fill="#6fb8d3" opacity="0.85"/>
<circle cx="418.40" cy="687.10" r="3.10" fill="#6fb8d3" opacity="0.85"/>
<circle cx="453.20" cy="632.20" r="3.10" fill="#86a8d4" opacity="0.85"/>
<circle cx="448.60" cy="636.80" r="3.10" fill="#86a8d4" opacity="0.85"/>
<circle cx="456.20" cy="642.40" r="3.10" fill="#86a8d4" opacity="0.85"/>
<circle cx="444.80" cy="655.70" r="3.10" fill="#86a8d4" opacity="0.85"/>
<circle cx="445.50" cy="657.70" r="3.10" fill="#86a8d4" opacity="0.85"/>
<circle cx="452.00" cy="640.00" r="3.10" fill="#86a8d4" opacity="0.85"/>
<circle cx="479.20" cy="664.10" r="3.10" fill="#62c2a8" opacity="0.85"/>
<circle cx="476.70" cy="669.20" r="3.10" fill="#62c2a8" opacity="0.85"/>
<circle cx="483.80" cy="666.70" r="3.10" fill="#62c2a8" opacity="0.85"/>
<circle cx="481.80" cy="671.30" r="3.10" fill="#62c2a8" opacity="0.85"/>
<circle cx="488.20" cy="673.10" r="3.10" fill="#62c2a8" opacity="0.85"/>
<circle cx="472.90" cy="668.00" r="3.10" fill="#62c2a8" opacity="0.85"/>
<rect x="371.40" y="556.80" width="127.00" height="136.20" fill="none" stroke="#333" stroke-width="0.9"/>
<line x1="368.40" y1="671.00" x2="371.40" y2="671.00" stroke="#333" stroke-width="0.9"/>
<text x="366.60" y="674.60" font-size="10" text-anchor="end" fill="#222">3</text>
<line x1="368.40" y1="646.30" x2="371.40" y2="646.30" stroke="#333" stroke-width="0.9"/>
<text x="366.60" y="649.90" font-size="10" text-anchor="end" fill="#222">4</text>
<line x1="368.40" y1="621.60" x2="371.40" y2="621.60" stroke="#333" stroke-width="0.9"/>
<text x="366.60" y="625.20" font-size="10" text-anchor="end" fill="#222">5</text>
<line x1="368.40" y1="596.90" x2="371.40" y2="596.90" stroke="#333" stroke-width="0.9"/>
<text x="366.60" y="600.50" font-size="10" text-anchor="end" fill="#222">6</text>
<line x1="368.40" y1="572.20" x2="371.40" y2="572.20" stroke="#333" stroke-width="0.9"/>
<text x="366.60" y="575.80" font-size="10" text-anchor="end" fill="#222">7</text>
<line x1="384.70" y1="693.00" x2="384.70" y2="695.80" stroke="#333" stroke-width="0.9"/>
<line x1="417.90" y1="693.00" x2="417.90" y2="695.80" stroke="#333" stroke-width="0.9"/>
<line x1="451.10" y1="693.00" x2="451.10" y2="695.80" stroke="#333" stroke-width="0.9"/>
<line x1="484.90" y1="693.00" x2="484.90" y2="695.80" stroke="#333" stroke-width="0.9"/>
<text x="433.80" y="553.40" font-size="10" text-anchor="middle" fill="#222">TG</text>
<text transform="translate(353.90,627.40) rotate(-90)" font-size="10.6" text-anchor="middle" fill="#222">mmol/gprot</text>
<path d="M454.2,588.3000000000001 L454.2,585.7 L484.9,585.7 L484.9,588.3000000000001" fill="none" stroke="#555" stroke-width="0.8"/>
<text x="470.80" y="583.70" font-size="8" text-anchor="middle" fill="#222"><tspan font-style="italic">p</tspan> = 0.0022</text>
<path d="M384.7,605.4 L384.7,602.8 L484.9,602.8 L484.9,605.4" fill="none" stroke="#555" stroke-width="0.8"/>
<text x="437.60" y="600.30" font-size="8" text-anchor="middle" fill="#222"><tspan font-style="italic">p</tspan> = 0.0022</text>
<line x1="560.50" y1="611.80" x2="560.50" y2="626.60" stroke="#8a8a8a" stroke-width="1"/>
<rect x="550.40" y="626.60" width="20.20" height="23.50" fill="#f3c5ba" stroke="#6a6a6a" stroke-width="0.9"/>
<line x1="550.40" y1="648.80" x2="570.60" y2="648.80" stroke="#3a3a3a" stroke-width="1.4"/>
<rect x="582.00" y="665.40" width="20.50" height="6.90" fill="#c7dfea" stroke="#6a6a6a" stroke-width="0.9"/>
<line x1="582.00" y1="668.70" x2="602.50" y2="668.70" stroke="#3a3a3a" stroke-width="1.4"/>
<line x1="623.95" y1="642.40" x2="623.95" y2="658.50" stroke="#8a8a8a" stroke-width="1"/>
<rect x="613.50" y="658.50" width="20.90" height="18.90" fill="#cbd7eb" stroke="#6a6a6a" stroke-width="0.9"/>
<line x1="613.50" y1="669.20" x2="634.40" y2="669.20" stroke="#3a3a3a" stroke-width="1.4"/>
<line x1="655.65" y1="638.60" x2="655.65" y2="647.50" stroke="#8a8a8a" stroke-width="1"/>
<line x1="655.65" y1="664.10" x2="655.65" y2="682.80" stroke="#8a8a8a" stroke-width="1"/>
<rect x="645.40" y="647.50" width="20.50" height="16.60" fill="#c2e4d9" stroke="#6a6a6a" stroke-width="0.9"/>
<line x1="645.40" y1="662.30" x2="665.90" y2="662.30" stroke="#3a3a3a" stroke-width="1.4"/>
<circle cx="558.50" cy="611.80" r="3.10" fill="#e8806b" opacity="0.85"/>
<circle cx="563.70" cy="619.40" r="3.10" fill="#e8806b" opacity="0.85"/>
<circle cx="556.00" cy="648.00" r="3.10" fill="#e8806b" opacity="0.85"/>
<circle cx="559.10" cy="648.80" r="3.10" fill="#e8806b" opacity="0.85"/>
<circle cx="561.10" cy="650.60" r="3.10" fill="#e8806b" opacity="0.85"/>
<circle cx="554.70" cy="650.10" r="3.10" fill="#e8806b" opacity="0.85"/>
<circle cx="595.60" cy="662.30" r="3.10" fill="#6fb8d3" opacity="0.85"/>
<circle cx="596.90" cy="664.10" r="3.10" fill="#6fb8d3" opacity="0.85"/>
<circle cx="590.50" cy="668.00" r="3.10" fill="#6fb8d3" opacity="0.85"/>
<circle cx="589.70" cy="672.60" r="3.10" fill="#6fb8d3" opacity="0.85"/>
<circle cx="591.20" cy="687.10" r="3.10" fill="#6fb8d3" opacity="0.85"/>
<circle cx="587.90" cy="669.20" r="3.10" fill="#6fb8d3" opacity="0.85"/>
<circle cx="622.40" cy="642.40" r="3.10" fill="#86a8d4" opacity="0.85"/>
<circle cx="625.50" cy="656.50" r="3.10" fill="#86a8d4" opacity="0.85"/>
<circle cx="627.00" cy="664.10" r="3.10" fill="#86a8d4" opacity="0.85"/>
<circle cx="618.60" cy="677.70" r="3.10" fill="#86a8d4" opacity="0.85"/>
<circle cx="627.00" cy="677.70" r="3.10" fill="#86a8d4" opacity="0.85"/>
<circle cx="622.00" cy="670.00" r="3.10" fill="#86a8d4" opacity="0.85"/>
<circle cx="660.70" cy="637.80" r="3.10" fill="#62c2a8" opacity="0.85"/>
<circle cx="658.20" cy="642.90" r="3.10" fill="#62c2a8" opacity="0.85"/>
<circle cx="656.90" cy="660.80" r="3.10" fill="#62c2a8" opacity="0.85"/>
<circle cx="655.60" cy="664.10" r="3.10" fill="#62c2a8" opacity="0.85"/>
<circle cx="660.20" cy="683.30" r="3.10" fill="#62c2a8" opacity="0.85"/>
<circle cx="654.00" cy="662.00" r="3.10" fill="#62c2a8" opacity="0.85"/>
<rect x="545.00" y="556.80" width="126.50" height="136.20" fill="none" stroke="#333" stroke-width="0.9"/>
<line x1="542.00" y1="676.10" x2="545.00" y2="676.10" stroke="#333" stroke-width="0.9"/>
<text x="540.20" y="679.70" font-size="10" text-anchor="end" fill="#222">150</text>
<line x1="542.00" y1="650.43" x2="545.00" y2="650.43" stroke="#333" stroke-width="0.9"/>
<text x="540.20" y="654.03" font-size="10" text-anchor="end" fill="#222">200</text>
<line x1="542.00" y1="624.75" x2="545.00" y2="624.75" stroke="#333" stroke-width="0.9"/>
<text x="540.20" y="628.35" font-size="10" text-anchor="end" fill="#222">250</text>
<line x1="542.00" y1="599.08" x2="545.00" y2="599.08" stroke="#333" stroke-width="0.9"/>
<text x="540.20" y="602.68" font-size="10" text-anchor="end" fill="#222">300</text>
<line x1="542.00" y1="573.40" x2="545.00" y2="573.40" stroke="#333" stroke-width="0.9"/>
<text x="540.20" y="577.00" font-size="10" text-anchor="end" fill="#222">350</text>
<line x1="557.80" y1="693.00" x2="557.80" y2="695.80" stroke="#333" stroke-width="0.9"/>
<line x1="591.00" y1="693.00" x2="591.00" y2="695.80" stroke="#333" stroke-width="0.9"/>
<line x1="624.50" y1="693.00" x2="624.50" y2="695.80" stroke="#333" stroke-width="0.9"/>
<line x1="657.70" y1="693.00" x2="657.70" y2="695.80" stroke="#333" stroke-width="0.9"/>
<text x="608.40" y="553.40" font-size="10" text-anchor="middle" fill="#222">TNF&#8722;&#945;</text>
<text transform="translate(516.80,627.40) rotate(-90)" font-size="10.6" text-anchor="middle" fill="#222">ng/L</text>
<path d="M557.8,578.1 L557.8,575.5 L591,575.5 L591,578.1" fill="none" stroke="#555" stroke-width="0.8"/>
<text x="575.20" y="572.90" font-size="8" text-anchor="middle" fill="#222"><tspan font-style="italic">p</tspan> = 0.0022</text>
<path d="M557.8,595.2 L557.8,592.6 L624.5,592.6 L624.5,595.2" fill="none" stroke="#555" stroke-width="0.8"/>
<text x="593.00" y="590.60" font-size="8" text-anchor="middle" fill="#222"><tspan font-style="italic">p</tspan> = 0.026</text>
<text transform="translate(61.30,705.80) rotate(-45)" font-size="10" text-anchor="end" fill="#222">HFAD</text>
<text transform="translate(94.50,705.80) rotate(-45)" font-size="10" text-anchor="end" fill="#222">HFAD-H22B656</text>
<text transform="translate(128.20,705.80) rotate(-45)" font-size="10" text-anchor="end" fill="#222">HFAD-W5S9</text>
<text transform="translate(162.20,705.80) rotate(-45)" font-size="10" text-anchor="end" fill="#222">Control</text>
<text transform="translate(226.90,705.80) rotate(-45)" font-size="10" text-anchor="end" fill="#222">HFAD</text>
<text transform="translate(260.70,705.80) rotate(-45)" font-size="10" text-anchor="end" fill="#222">HFAD-H22B656</text>
<text transform="translate(293.90,705.80) rotate(-45)" font-size="10" text-anchor="end" fill="#222">HFAD-W5S9</text>
<text transform="translate(327.10,705.80) rotate(-45)" font-size="10" text-anchor="end" fill="#222">Control</text>
<text transform="translate(388.50,705.80) rotate(-45)" font-size="10" text-anchor="end" fill="#222">HFAD</text>
<text transform="translate(421.70,705.80) rotate(-45)" font-size="10" text-anchor="end" fill="#222">HFAD-H22B656</text>
<text transform="translate(454.90,705.80) rotate(-45)" font-size="10" text-anchor="end" fill="#222">HFAD-W5S9</text>
<text transform="translate(488.70,705.80) rotate(-45)" font-size="10" text-anchor="end" fill="#222">Control</text>
<text transform="translate(561.60,705.80) rotate(-45)" font-size="10" text-anchor="end" fill="#222">HFAD</text>
<text transform="translate(594.80,705.80) rotate(-45)" font-size="10" text-anchor="end" fill="#222">HFAD-H22B656</text>
<text transform="translate(628.30,705.80) rotate(-45)" font-size="10" text-anchor="end" fill="#222">HFAD-W5S9</text>
<text transform="translate(661.50,705.80) rotate(-45)" font-size="10" text-anchor="end" fill="#222">Control</text>
<text x="-0.30" y="761.50" font-size="15.8" font-weight="bold" fill="#111">g</text>
<text x="345.30" y="760.20" font-size="11.4" text-anchor="middle" font-weight="bold" fill="#111">H&amp;E</text>
<clipPath id="cp1"><rect x="9.2" y="767.3" width="159" height="83.6"/></clipPath>
<g clip-path="url(#cp1)"><g filter="url(#fb)">
<rect x="8.20" y="766.30" width="161.00" height="85.60" fill="#c186c0"/>
<rect x="9.2" y="767.3" width="159" height="83.6" filter="url(#fd)" opacity="0.55"/>
<ellipse cx="41.2" cy="847.3" rx="12" ry="6" fill="#e88cb8" opacity="0.75"/>
<ellipse cx="164.2" cy="833.3" rx="5" ry="7" fill="#e890c0" opacity="0.7"/>
<ellipse cx="31.2" cy="839.3" rx="6" ry="3" fill="#e090c0" opacity="0.6"/>
<line x1="14.20" y1="847.40" x2="23.20" y2="847.40" stroke="#333" stroke-width="0.6"/>
<g opacity="0.6"><circle cx="18.4" cy="770.9" r="1.8" fill="#8066b8"/><circle cx="26.6" cy="770.7" r="1.7" fill="#8a6cc0"/><circle cx="32.1" cy="771.2" r="1.3" fill="#8a6cc0"/><circle cx="43.0" cy="769.5" r="1.9" fill="#8066b8"/><circle cx="49.2" cy="771.9" r="1.8" fill="#8a6cc0"/><circle cx="54.9" cy="768.4" r="1.6" fill="#8a6cc0"/><circle cx="59.9" cy="768.5" r="1.9" fill="#7a5cb4"/><circle cx="64.6" cy="770.6" r="1.9" fill="#8a6cc0"/><circle cx="76.0" cy="772.0" r="1.7" fill="#7a5cb4"/><circle cx="80.9" cy="769.2" r="1.9" fill="#8066b8"/><circle cx="96.3" cy="768.7" r="1.8" fill="#7a5cb4"/><circle cx="103.2" cy="770.0" r="1.5" fill="#7a5cb4"/><circle cx="105.1" cy="770.4" r="1.4" fill="#8a6cc0"/><circle cx="121.8" cy="769.0" r="1.7" fill="#7a5cb4"/><circle cx="129.5" cy="769.3" r="1.5" fill="#7a5cb4"/><circle cx="139.2" cy="771.0" r="1.3" fill="#8066b8"/><circle cx="142.5" cy="770.8" r="1.2" fill="#7a5cb4"/><circle cx="152.8" cy="769.8" r="1.8" fill="#8a6cc0"/><circle cx="163.6" cy="768.8" r="1.7" fill="#7a5cb4"/><circle cx="14.3" cy="773.8" r="1.6" fill="#8066b8"/><circle cx="21.4" cy="776.8" r="1.2" fill="#7a5cb4"/><circle cx="27.4" cy="776.9" r="1.9" fill="#8a6cc0"/><circle cx="32.8" cy="774.7" r="1.3" fill="#8066b8"/><circle cx="33.5" cy="773.0" r="1.8" fill="#8066b8"/><circle cx="38.7" cy="773.2" r="1.4" fill="#7a5cb4"/><circle cx="44.0" cy="773.3" r="1.6" fill="#8066b8"/><circle cx="51.3" cy="776.3" r="1.3" fill="#8a6cc0"/><circle cx="61.5" cy="776.7" r="1.2" fill="#7a5cb4"/><circle cx="73.8" cy="775.3" r="1.3" fill="#8066b8"/><circle cx="76.6" cy="777.2" r="1.6" fill="#7a5cb4"/><circle cx="82.3" cy="775.8" r="1.7" fill="#8a6cc0"/><circle cx="90.4" cy="775.3" r="1.7" fill="#8a6cc0"/><circle cx="94.4" cy="773.9" r="1.5" fill="#8066b8"/><circle cx="98.6" cy="777.5" r="1.2" fill="#8066b8"/><circle cx="104.9" cy="775.2" r="1.7" fill="#8066b8"/><circle cx="108.0" cy="775.6" r="2.0" fill="#8a6cc0"/><circle cx="115.5" cy="773.6" r="1.9" fill="#8066b8"/><circle cx="119.9" cy="777.1" r="1.2" fill="#8066b8"/><circle cx="124.0" cy="777.2" r="1.8" fill="#8066b8"/><circle cx="132.4" cy="777.3" r="1.3" fill="#8a6cc0"/><circle cx="134.6" cy="773.3" r="1.5" fill="#8a6cc0"/><circle cx="141.0" cy="775.1" r="1.5" fill="#7a5cb4"/><circle cx="147.4" cy="773.0" r="1.6" fill="#8a6cc0"/><circle cx="150.1" cy="775.6" r="1.3" fill="#7a5cb4"/><circle cx="164.7" cy="773.4" r="1.4" fill="#8066b8"/><circle cx="12.6" cy="778.9" r="1.3" fill="#8066b8"/><circle cx="21.0" cy="779.4" r="1.7" fill="#8066b8"/><circle cx="29.7" cy="779.1" r="1.6" fill="#8066b8"/><circle cx="34.7" cy="778.4" r="1.6" fill="#8066b8"/><circle cx="43.3" cy="780.0" r="1.3" fill="#8a6cc0"/><circle cx="47.8" cy="782.7" r="1.5" fill="#8066b8"/><circle cx="52.0" cy="779.4" r="1.9" fill="#8a6cc0"/><circle cx="65.9" cy="778.7" r="1.8" fill="#8066b8"/><circle cx="71.5" cy="780.6" r="1.5" fill="#8a6cc0"/><circle cx="74.7" cy="779.4" r="1.6" fill="#8a6cc0"/><circle cx="80.1" cy="782.6" r="1.3" fill="#7a5cb4"/><circle cx="86.6" cy="782.2" r="1.6" fill="#8066b8"/><circle cx="93.3" cy="781.7" r="1.4" fill="#8066b8"/><circle cx="95.4" cy="780.5" r="1.2" fill="#8a6cc0"/><circle cx="105.0" cy="781.9" r="1.4" fill="#8066b8"/><circle cx="114.7" cy="779.8" r="1.7" fill="#7a5cb4"/><circle cx="117.1" cy="779.8" r="1.7" fill="#8a6cc0"/><circle cx="124.9" cy="781.7" r="1.4" fill="#8a6cc0"/><circle cx="126.3" cy="782.8" r="1.9" fill="#7a5cb4"/><circle cx="136.0" cy="782.3" r="1.8" fill="#8066b8"/><circle cx="141.3" cy="780.5" r="1.4" fill="#7a5cb4"/><circle cx="146.1" cy="778.4" r="1.7" fill="#8066b8"/><circle cx="147.7" cy="780.5" r="1.7" fill="#7a5cb4"/><circle cx="153.0" cy="781.1" r="1.2" fill="#8066b8"/><circle cx="159.8" cy="782.8" r="1.3" fill="#7a5cb4"/><circle cx="164.3" cy="781.4" r="1.6" fill="#8a6cc0"/><circle cx="14.3" cy="786.9" r="1.4" fill="#8a6cc0"/><circle cx="19.7" cy="786.9" r="1.9" fill="#8a6cc0"/><circle cx="23.7" cy="786.5" r="1.5" fill="#8a6cc0"/><circle cx="32.2" cy="787.1" r="2.0" fill="#7a5cb4"/><circle cx="34.5" cy="788.0" r="1.9" fill="#8a6cc0"/><circle cx="42.6" cy="785.4" r="1.4" fill="#8066b8"/><circle cx="46.7" cy="787.2" r="1.5" fill="#7a5cb4"/><circle cx="52.9" cy="783.6" r="1.8" fill="#8a6cc0"/><circle cx="56.4" cy="784.5" r="1.2" fill="#8a6cc0"/><circle cx="61.1" cy="785.9" r="1.2" fill="#7a5cb4"/><circle cx="68.0" cy="786.1" r="1.7" fill="#8066b8"/><circle cx="71.7" cy="785.5" r="2.0" fill="#8066b8"/><circle cx="81.2" cy="785.2" r="1.9" fill="#7a5cb4"/><circle cx="88.3" cy="785.6" r="2.0" fill="#8066b8"/><circle cx="94.5" cy="784.9" r="1.2" fill="#8a6cc0"/><circle cx="98.8" cy="784.5" r="1.2" fill="#8a6cc0"/><circle cx="116.1" cy="788.1" r="1.5" fill="#8066b8"/><circle cx="122.5" cy="787.4" r="1.9" fill="#8066b8"/><circle cx="126.6" cy="784.4" r="1.7" fill="#8066b8"/><circle cx="131.5" cy="785.9" r="1.9" fill="#8066b8"/><circle cx="135.5" cy="785.0" r="1.2" fill="#7a5cb4"/><circle cx="141.4" cy="785.9" r="1.3" fill="#8a6cc0"/><circle cx="146.5" cy="785.7" r="1.5" fill="#7a5cb4"/><circle cx="158.2" cy="784.6" r="2.0" fill="#8066b8"/><circle cx="162.8" cy="788.2" r="1.7" fill="#8066b8"/><circle cx="11.4" cy="792.3" r="1.7" fill="#8066b8"/><circle cx="19.5" cy="790.3" r="1.3" fill="#8066b8"/><circle cx="22.8" cy="792.9" r="1.2" fill="#8a6cc0"/><circle cx="44.9" cy="791.1" r="1.7" fill="#7a5cb4"/><circle cx="48.5" cy="790.4" r="1.7" fill="#8066b8"/><circle cx="53.3" cy="792.2" r="1.9" fill="#7a5cb4"/><circle cx="61.5" cy="789.1" r="1.8" fill="#7a5cb4"/><circle cx="70.5" cy="792.0" r="1.9" fill="#7a5cb4"/><circle cx="78.8" cy="793.0" r="1.8" fill="#7a5cb4"/><circle cx="84.2" cy="788.8" r="1.4" fill="#8066b8"/><circle cx="89.8" cy="789.0" r="1.8" fill="#8a6cc0"/><circle cx="97.4" cy="792.3" r="1.7" fill="#8066b8"/><circle cx="103.1" cy="791.1" r="1.1" fill="#7a5cb4"/><circle cx="107.8" cy="792.7" r="1.7" fill="#8066b8"/><circle cx="118.2" cy="789.3" r="1.3" fill="#8066b8"/><circle cx="121.7" cy="790.7" r="1.9" fill="#7a5cb4"/><circle cx="127.5" cy="789.1" r="1.7" fill="#8a6cc0"/><circle cx="135.1" cy="789.2" r="1.6" fill="#7a5cb4"/><circle cx="139.7" cy="793.2" r="1.3" fill="#7a5cb4"/><circle cx="144.7" cy="790.3" r="1.1" fill="#8066b8"/><circle cx="151.4" cy="791.2" r="1.7" fill="#7a5cb4"/><circle cx="156.1" cy="792.3" r="1.6" fill="#8a6cc0"/><circle cx="162.4" cy="791.8" r="1.9" fill="#8066b8"/><circle cx="15.5" cy="796.6" r="1.6" fill="#7a5cb4"/><circle cx="20.5" cy="796.7" r="1.8" fill="#8066b8"/><circle cx="35.1" cy="798.3" r="1.4" fill="#8066b8"/><circle cx="41.6" cy="794.4" r="1.3" fill="#7a5cb4"/><circle cx="44.4" cy="796.3" r="1.7" fill="#8066b8"/><circle cx="50.0" cy="796.1" r="1.5" fill="#8066b8"/><circle cx="58.1" cy="795.3" r="1.5" fill="#8066b8"/><circle cx="60.7" cy="798.7" r="1.6" fill="#8a6cc0"/><circle cx="70.6" cy="798.1" r="1.1" fill="#8066b8"/><circle cx="78.1" cy="796.5" r="2.0" fill="#8066b8"/><circle cx="83.8" cy="795.8" r="1.2" fill="#8066b8"/><circle cx="88.6" cy="798.4" r="1.6" fill="#8066b8"/><circle cx="97.0" cy="795.9" r="1.6" fill="#7a5cb4"/><circle cx="106.2" cy="794.8" r="1.2" fill="#7a5cb4"/><circle cx="109.7" cy="798.1" r="1.8" fill="#7a5cb4"/><circle cx="116.7" cy="794.1" r="1.7" fill="#8a6cc0"/><circle cx="119.6" cy="797.9" r="1.1" fill="#8a6cc0"/><circle cx="124.8" cy="797.4" r="2.0" fill="#8a6cc0"/><circle cx="130.2" cy="794.2" r="1.4" fill="#8066b8"/><circle cx="136.7" cy="795.3" r="1.5" fill="#8066b8"/><circle cx="153.4" cy="798.5" r="1.5" fill="#7a5cb4"/><circle cx="159.6" cy="794.1" r="1.7" fill="#7a5cb4"/><circle cx="11.9" cy="802.9" r="2.0" fill="#8066b8"/><circle cx="17.1" cy="802.5" r="1.5" fill="#8a6cc0"/><circle cx="21.1" cy="801.3" r="1.3" fill="#8066b8"/><circle cx="26.3" cy="802.9" r="1.2" fill="#8a6cc0"/><circle cx="34.9" cy="802.4" r="1.3" fill="#8066b8"/><circle cx="38.1" cy="801.3" r="1.5" fill="#8a6cc0"/><circle cx="45.5" cy="801.0" r="1.3" fill="#8066b8"/><circle cx="51.2" cy="800.0" r="1.1" fill="#7a5cb4"/><circle cx="53.1" cy="802.3" r="1.1" fill="#8a6cc0"/><circle cx="59.6" cy="803.1" r="1.7" fill="#7a5cb4"/><circle cx="63.1" cy="801.5" r="1.7" fill="#7a5cb4"/><circle cx="72.0" cy="801.5" r="1.4" fill="#8066b8"/><circle cx="74.3" cy="802.9" r="1.8" fill="#7a5cb4"/><circle cx="80.9" cy="800.5" r="1.2" fill="#7a5cb4"/><circle cx="84.2" cy="802.0" r="1.3" fill="#7a5cb4"/><circle cx="90.3" cy="799.6" r="2.0" fill="#7a5cb4"/><circle cx="94.6" cy="803.9" r="1.6" fill="#7a5cb4"/><circle cx="100.6" cy="802.9" r="1.6" fill="#8066b8"/><circle cx="112.8" cy="801.6" r="1.6" fill="#7a5cb4"/><circle cx="115.5" cy="803.2" r="1.3" fill="#8a6cc0"/><circle cx="120.9" cy="800.3" r="1.4" fill="#8a6cc0"/><circle cx="126.9" cy="801.5" r="1.6" fill="#8066b8"/><circle cx="132.3" cy="803.0" r="1.7" fill="#8066b8"/><circle cx="142.8" cy="803.5" r="1.2" fill="#8a6cc0"/><circle cx="151.5" cy="803.4" r="1.1" fill="#7a5cb4"/><circle cx="155.4" cy="800.4" r="1.5" fill="#8a6cc0"/><circle cx="162.4" cy="803.3" r="1.6" fill="#8a6cc0"/><circle cx="163.8" cy="802.0" r="1.3" fill="#8066b8"/><circle cx="19.5" cy="806.6" r="1.8" fill="#8066b8"/><circle cx="23.8" cy="807.6" r="1.9" fill="#7a5cb4"/><circle cx="28.4" cy="807.1" r="1.7" fill="#8066b8"/><circle cx="35.0" cy="808.1" r="1.3" fill="#8a6cc0"/><circle cx="38.8" cy="809.1" r="1.5" fill="#8066b8"/><circle cx="48.1" cy="809.1" r="1.3" fill="#7a5cb4"/><circle cx="50.5" cy="805.6" r="1.4" fill="#7a5cb4"/><circle cx="57.6" cy="806.8" r="1.7" fill="#8066b8"/><circle cx="62.3" cy="808.7" r="1.4" fill="#7a5cb4"/><circle cx="71.1" cy="806.2" r="1.7" fill="#7a5cb4"/><circle cx="78.7" cy="807.8" r="1.4" fill="#7a5cb4"/><circle cx="85.3" cy="805.5" r="1.4" fill="#8066b8"/><circle cx="92.3" cy="806.5" r="1.2" fill="#8066b8"/><circle cx="97.5" cy="804.8" r="1.2" fill="#7a5cb4"/><circle cx="102.8" cy="806.6" r="1.8" fill="#8a6cc0"/><circle cx="117.2" cy="805.2" r="1.4" fill="#8066b8"/><circle cx="120.5" cy="806.0" r="1.6" fill="#8a6cc0"/><circle cx="127.0" cy="807.2" r="2.0" fill="#8066b8"/><circle cx="134.2" cy="809.2" r="1.7" fill="#8a6cc0"/><circle cx="142.6" cy="807.7" r="1.7" fill="#7a5cb4"/><circle cx="144.9" cy="808.3" r="2.0" fill="#7a5cb4"/><circle cx="154.6" cy="808.0" r="1.6" fill="#8066b8"/><circle cx="156.6" cy="805.3" r="1.8" fill="#8066b8"/><circle cx="161.7" cy="808.8" r="1.1" fill="#7a5cb4"/><circle cx="167.0" cy="807.0" r="1.9" fill="#8066b8"/><circle cx="13.4" cy="814.7" r="1.3" fill="#8a6cc0"/><circle cx="19.0" cy="813.2" r="1.2" fill="#8066b8"/><circle cx="20.3" cy="813.2" r="1.6" fill="#8066b8"/><circle cx="26.2" cy="810.5" r="1.1" fill="#7a5cb4"/><circle cx="34.0" cy="814.5" r="1.9" fill="#7a5cb4"/><circle cx="36.3" cy="813.7" r="1.3" fill="#8066b8"/><circle cx="45.0" cy="811.0" r="1.4" fill="#8066b8"/><circle cx="51.0" cy="811.2" r="1.8" fill="#8066b8"/><circle cx="56.3" cy="812.3" r="1.5" fill="#8066b8"/><circle cx="58.9" cy="811.5" r="1.7" fill="#8a6cc0"/><circle cx="66.3" cy="812.7" r="2.0" fill="#8a6cc0"/><circle cx="69.2" cy="813.8" r="1.3" fill="#8a6cc0"/><circle cx="76.5" cy="814.4" r="1.4" fill="#8a6cc0"/><circle cx="81.8" cy="810.2" r="1.8" fill="#8066b8"/><circle cx="85.5" cy="812.4" r="1.2" fill="#8a6cc0"/><circle cx="91.9" cy="812.7" r="1.3" fill="#7a5cb4"/><circle cx="96.4" cy="812.6" r="1.3" fill="#8a6cc0"/><circle cx="103.3" cy="813.2" r="1.7" fill="#8066b8"/><circle cx="106.5" cy="811.6" r="1.3" fill="#7a5cb4"/><circle cx="114.5" cy="810.9" r="1.9" fill="#7a5cb4"/><circle cx="121.7" cy="810.2" r="1.8" fill="#8a6cc0"/><circle cx="130.2" cy="810.0" r="1.5" fill="#7a5cb4"/><circle cx="134.0" cy="812.5" r="1.8" fill="#8a6cc0"/><circle cx="146.4" cy="814.5" r="1.4" fill="#7a5cb4"/><circle cx="150.2" cy="810.1" r="1.8" fill="#8a6cc0"/><circle cx="157.2" cy="813.5" r="1.2" fill="#8a6cc0"/><circle cx="159.9" cy="812.0" r="1.2" fill="#7a5cb4"/><circle cx="163.8" cy="810.9" r="1.4" fill="#8a6cc0"/><circle cx="16.4" cy="816.7" r="1.5" fill="#7a5cb4"/><circle cx="19.4" cy="816.5" r="1.1" fill="#8066b8"/><circle cx="30.6" cy="819.4" r="2.0" fill="#7a5cb4"/><circle cx="36.9" cy="819.3" r="1.9" fill="#7a5cb4"/><circle cx="43.0" cy="815.6" r="1.6" fill="#8066b8"/><circle cx="44.2" cy="817.3" r="1.5" fill="#7a5cb4"/><circle cx="51.0" cy="818.3" r="1.8" fill="#8066b8"/><circle cx="55.6" cy="817.1" r="1.8" fill="#8066b8"/><circle cx="63.7" cy="818.3" r="1.7" fill="#7a5cb4"/><circle cx="67.9" cy="815.5" r="1.8" fill="#8066b8"/><circle cx="73.8" cy="815.8" r="1.2" fill="#7a5cb4"/><circle cx="84.8" cy="819.2" r="1.2" fill="#8a6cc0"/><circle cx="96.0" cy="817.8" r="1.8" fill="#8a6cc0"/><circle cx="100.0" cy="815.9" r="1.6" fill="#7a5cb4"/><circle cx="107.0" cy="817.3" r="1.4" fill="#8a6cc0"/><circle cx="111.3" cy="815.7" r="1.7" fill="#8066b8"/><circle cx="117.2" cy="818.2" r="1.3" fill="#8a6cc0"/><circle cx="121.2" cy="815.8" r="1.7" fill="#8066b8"/><circle cx="126.0" cy="816.9" r="1.9" fill="#8a6cc0"/><circle cx="130.9" cy="815.7" r="1.5" fill="#8066b8"/><circle cx="135.8" cy="816.9" r="1.8" fill="#8066b8"/><circle cx="147.9" cy="816.7" r="1.8" fill="#8066b8"/><circle cx="153.1" cy="818.7" r="1.6" fill="#8066b8"/><circle cx="156.2" cy="818.8" r="1.4" fill="#7a5cb4"/><circle cx="11.3" cy="821.5" r="1.6" fill="#7a5cb4"/><circle cx="14.8" cy="822.8" r="1.7" fill="#7a5cb4"/><circle cx="24.1" cy="823.0" r="1.2" fill="#7a5cb4"/><circle cx="33.9" cy="822.6" r="1.5" fill="#7a5cb4"/><circle cx="40.7" cy="824.8" r="1.5" fill="#8066b8"/><circle cx="43.2" cy="822.7" r="1.1" fill="#8066b8"/><circle cx="56.1" cy="825.0" r="1.3" fill="#7a5cb4"/><circle cx="59.7" cy="824.6" r="1.6" fill="#7a5cb4"/><circle cx="69.0" cy="824.7" r="1.4" fill="#7a5cb4"/><circle cx="86.5" cy="821.1" r="1.5" fill="#7a5cb4"/><circle cx="89.0" cy="822.6" r="1.3" fill="#8066b8"/><circle cx="97.8" cy="824.0" r="1.4" fill="#8a6cc0"/><circle cx="103.6" cy="823.8" r="1.8" fill="#8066b8"/><circle cx="106.7" cy="822.9" r="1.3" fill="#8a6cc0"/><circle cx="112.0" cy="822.6" r="1.2" fill="#8a6cc0"/><circle cx="119.1" cy="823.1" r="1.9" fill="#8066b8"/><circle cx="123.5" cy="821.5" r="2.0" fill="#7a5cb4"/><circle cx="141.2" cy="821.4" r="1.5" fill="#8a6cc0"/><circle cx="149.3" cy="822.4" r="1.4" fill="#7a5cb4"/><circle cx="156.9" cy="824.9" r="1.9" fill="#7a5cb4"/><circle cx="159.2" cy="825.0" r="1.8" fill="#8a6cc0"/><circle cx="164.5" cy="824.8" r="1.2" fill="#8066b8"/><circle cx="12.5" cy="828.9" r="1.4" fill="#7a5cb4"/><circle cx="24.5" cy="827.9" r="1.3" fill="#8a6cc0"/><circle cx="28.4" cy="829.2" r="1.2" fill="#8066b8"/><circle cx="40.8" cy="829.5" r="1.7" fill="#8a6cc0"/><circle cx="50.1" cy="827.8" r="1.8" fill="#8a6cc0"/><circle cx="57.2" cy="826.5" r="1.3" fill="#7a5cb4"/><circle cx="66.7" cy="830.0" r="1.4" fill="#8a6cc0"/><circle cx="71.9" cy="828.8" r="1.5" fill="#7a5cb4"/><circle cx="78.8" cy="828.3" r="1.6" fill="#7a5cb4"/><circle cx="85.0" cy="829.1" r="1.2" fill="#8066b8"/><circle cx="88.5" cy="826.7" r="1.7" fill="#7a5cb4"/><circle cx="97.1" cy="828.2" r="1.9" fill="#8066b8"/><circle cx="105.3" cy="827.8" r="1.9" fill="#8a6cc0"/><circle cx="109.7" cy="830.1" r="1.6" fill="#7a5cb4"/><circle cx="116.8" cy="830.4" r="1.2" fill="#8a6cc0"/><circle cx="121.6" cy="829.0" r="1.8" fill="#7a5cb4"/><circle cx="127.0" cy="828.3" r="1.9" fill="#7a5cb4"/><circle cx="134.7" cy="828.9" r="1.9" fill="#8066b8"/><circle cx="141.9" cy="829.2" r="1.9" fill="#8a6cc0"/><circle cx="145.3" cy="829.7" r="1.2" fill="#7a5cb4"/><circle cx="159.0" cy="826.4" r="1.5" fill="#7a5cb4"/><circle cx="164.0" cy="828.8" r="1.6" fill="#7a5cb4"/><circle cx="14.2" cy="832.9" r="1.5" fill="#7a5cb4"/><circle cx="24.5" cy="835.2" r="1.5" fill="#8a6cc0"/><circle cx="29.1" cy="832.6" r="1.9" fill="#7a5cb4"/><circle cx="31.1" cy="831.5" r="1.8" fill="#8a6cc0"/><circle cx="39.0" cy="834.0" r="1.5" fill="#7a5cb4"/><circle cx="41.5" cy="834.1" r="1.2" fill="#8066b8"/><circle cx="48.7" cy="831.2" r="1.1" fill="#8066b8"/><circle cx="55.9" cy="834.5" r="1.2" fill="#8066b8"/><circle cx="58.7" cy="833.6" r="1.2" fill="#8066b8"/><circle cx="65.3" cy="835.7" r="1.5" fill="#7a5cb4"/><circle cx="72.5" cy="833.2" r="1.2" fill="#7a5cb4"/><circle cx="75.5" cy="835.0" r="1.5" fill="#8066b8"/><circle cx="80.3" cy="834.5" r="1.2" fill="#7a5cb4"/><circle cx="85.9" cy="831.9" r="2.0" fill="#8a6cc0"/><circle cx="91.6" cy="833.7" r="1.6" fill="#8a6cc0"/><circle cx="94.3" cy="835.6" r="1.9" fill="#7a5cb4"/><circle cx="100.3" cy="834.1" r="1.6" fill="#8066b8"/><circle cx="113.0" cy="834.3" r="1.4" fill="#8a6cc0"/><circle cx="122.9" cy="831.4" r="1.7" fill="#7a5cb4"/><circle cx="137.9" cy="833.4" r="1.2" fill="#8066b8"/><circle cx="144.3" cy="832.9" r="2.0" fill="#8066b8"/><circle cx="148.9" cy="835.0" r="1.4" fill="#8a6cc0"/><circle cx="153.7" cy="835.2" r="1.6" fill="#8066b8"/><circle cx="165.4" cy="831.8" r="1.7" fill="#8a6cc0"/><circle cx="14.1" cy="838.9" r="1.6" fill="#8066b8"/><circle cx="21.1" cy="839.6" r="1.8" fill="#8066b8"/><circle cx="25.2" cy="840.3" r="1.7" fill="#8066b8"/><circle cx="29.5" cy="839.1" r="1.3" fill="#7a5cb4"/><circle cx="35.4" cy="839.2" r="1.3" fill="#7a5cb4"/><circle cx="40.2" cy="839.5" r="1.3" fill="#7a5cb4"/><circle cx="47.4" cy="840.7" r="2.0" fill="#8a6cc0"/><circle cx="53.2" cy="840.3" r="1.9" fill="#8a6cc0"/><circle cx="56.6" cy="838.1" r="1.5" fill="#8066b8"/><circle cx="63.3" cy="840.7" r="1.6" fill="#8a6cc0"/><circle cx="68.7" cy="837.0" r="1.7" fill="#8a6cc0"/><circle cx="73.1" cy="837.5" r="1.4" fill="#7a5cb4"/><circle cx="79.1" cy="840.9" r="1.3" fill="#7a5cb4"/><circle cx="93.5" cy="840.5" r="1.2" fill="#8a6cc0"/><circle cx="101.6" cy="840.8" r="1.8" fill="#7a5cb4"/><circle cx="105.1" cy="839.9" r="1.8" fill="#7a5cb4"/><circle cx="112.2" cy="839.7" r="1.4" fill="#8066b8"/><circle cx="116.9" cy="838.4" r="1.4" fill="#7a5cb4"/><circle cx="120.8" cy="837.4" r="2.0" fill="#8066b8"/><circle cx="124.4" cy="840.9" r="1.4" fill="#8066b8"/><circle cx="130.4" cy="837.0" r="1.8" fill="#8066b8"/><circle cx="136.5" cy="836.7" r="1.5" fill="#7a5cb4"/><circle cx="140.3" cy="839.1" r="1.9" fill="#8a6cc0"/><circle cx="148.5" cy="837.7" r="1.2" fill="#8a6cc0"/><circle cx="156.3" cy="840.5" r="1.4" fill="#7a5cb4"/><circle cx="165.2" cy="839.0" r="1.1" fill="#7a5cb4"/><circle cx="166.5" cy="841.0" r="1.6" fill="#8a6cc0"/><circle cx="10.6" cy="842.8" r="1.9" fill="#8066b8"/><circle cx="20.9" cy="842.4" r="1.8" fill="#8a6cc0"/><circle cx="29.8" cy="844.4" r="1.7" fill="#7a5cb4"/><circle cx="33.7" cy="846.1" r="1.7" fill="#7a5cb4"/><circle cx="39.4" cy="844.7" r="1.6" fill="#8a6cc0"/><circle cx="42.5" cy="844.8" r="1.9" fill="#8a6cc0"/><circle cx="49.9" cy="842.3" r="1.7" fill="#8a6cc0"/><circle cx="55.9" cy="842.9" r="1.5" fill="#8a6cc0"/><circle cx="64.6" cy="844.8" r="1.8" fill="#8066b8"/><circle cx="70.4" cy="843.0" r="1.2" fill="#8a6cc0"/><circle cx="76.7" cy="846.4" r="1.4" fill="#7a5cb4"/><circle cx="78.6" cy="842.0" r="1.1" fill="#7a5cb4"/><circle cx="85.5" cy="844.2" r="1.9" fill="#8a6cc0"/><circle cx="92.1" cy="844.7" r="1.8" fill="#8066b8"/><circle cx="101.1" cy="846.2" r="1.2" fill="#7a5cb4"/><circle cx="106.6" cy="846.1" r="1.4" fill="#7a5cb4"/><circle cx="112.3" cy="846.2" r="1.9" fill="#8a6cc0"/><circle cx="116.0" cy="845.0" r="1.4" fill="#8a6cc0"/><circle cx="125.2" cy="846.2" r="1.5" fill="#8066b8"/><circle cx="130.7" cy="844.5" r="2.0" fill="#7a5cb4"/><circle cx="132.0" cy="844.7" r="1.5" fill="#8a6cc0"/><circle cx="141.4" cy="842.1" r="1.5" fill="#8a6cc0"/><circle cx="144.9" cy="846.2" r="1.5" fill="#7a5cb4"/><circle cx="151.8" cy="845.5" r="1.3" fill="#8a6cc0"/><circle cx="153.1" cy="842.8" r="1.2" fill="#8066b8"/><circle cx="158.3" cy="844.0" r="1.8" fill="#8a6cc0"/><circle cx="55.6" cy="849.4" r="1.8" fill="#8066b8"/><circle cx="84.6" cy="847.7" r="1.6" fill="#8066b8"/><circle cx="97.9" cy="848.9" r="1.6" fill="#7a5cb4"/><circle cx="115.0" cy="848.3" r="1.7" fill="#8a6cc0"/><circle cx="118.3" cy="848.6" r="1.3" fill="#7a5cb4"/><circle cx="131.3" cy="848.5" r="1.1" fill="#8a6cc0"/><circle cx="141.1" cy="848.6" r="1.4" fill="#8a6cc0"/><circle cx="147.6" cy="848.7" r="1.4" fill="#8066b8"/></g>
<g opacity="0.7"><circle cx="16.9" cy="769.3" r="0.6" fill="#5a4aa0"/><circle cx="34.5" cy="770.1" r="0.6" fill="#5a4aa0"/><circle cx="39.9" cy="775.2" r="0.7" fill="#4a3c96"/><circle cx="53.3" cy="773.3" r="0.6" fill="#4a3c96"/><circle cx="88.1" cy="773.4" r="0.7" fill="#5a4aa0"/><circle cx="95.1" cy="774.7" r="0.5" fill="#5a4aa0"/><circle cx="119.3" cy="772.3" r="0.6" fill="#4a3c96"/><circle cx="141.8" cy="773.9" r="0.5" fill="#4a3c96"/><circle cx="152.4" cy="773.0" r="0.6" fill="#5a4aa0"/><circle cx="19.5" cy="784.7" r="0.5" fill="#4a3c96"/><circle cx="28.6" cy="782.7" r="0.6" fill="#5a4aa0"/><circle cx="33.3" cy="781.9" r="0.7" fill="#5a4aa0"/><circle cx="70.5" cy="782.1" r="0.5" fill="#5a4aa0"/><circle cx="83.5" cy="781.0" r="0.5" fill="#5a4aa0"/><circle cx="92.9" cy="778.8" r="0.8" fill="#5a4aa0"/><circle cx="103.0" cy="778.7" r="0.8" fill="#5a4aa0"/><circle cx="105.6" cy="779.7" r="0.6" fill="#5a4aa0"/><circle cx="136.9" cy="782.9" r="0.7" fill="#4a3c96"/><circle cx="141.1" cy="776.9" r="0.7" fill="#4a3c96"/><circle cx="155.0" cy="780.8" r="0.7" fill="#4a3c96"/><circle cx="165.3" cy="782.4" r="0.7" fill="#4a3c96"/><circle cx="41.5" cy="789.1" r="0.7" fill="#5a4aa0"/><circle cx="57.2" cy="790.9" r="0.6" fill="#4a3c96"/><circle cx="67.5" cy="788.4" r="0.5" fill="#4a3c96"/><circle cx="80.7" cy="786.8" r="0.5" fill="#5a4aa0"/><circle cx="88.2" cy="791.9" r="0.6" fill="#5a4aa0"/><circle cx="98.2" cy="787.9" r="0.6" fill="#4a3c96"/><circle cx="111.2" cy="789.5" r="0.7" fill="#5a4aa0"/><circle cx="120.9" cy="786.0" r="0.7" fill="#4a3c96"/><circle cx="129.0" cy="789.5" r="0.7" fill="#5a4aa0"/><circle cx="139.8" cy="789.0" r="0.5" fill="#4a3c96"/><circle cx="149.8" cy="787.3" r="0.6" fill="#5a4aa0"/><circle cx="160.4" cy="789.7" r="0.7" fill="#4a3c96"/><circle cx="22.2" cy="797.3" r="0.6" fill="#4a3c96"/><circle cx="27.1" cy="799.5" r="0.5" fill="#4a3c96"/><circle cx="41.6" cy="795.3" r="0.6" fill="#5a4aa0"/><circle cx="59.7" cy="796.0" r="0.6" fill="#5a4aa0"/><circle cx="71.5" cy="798.9" r="0.6" fill="#5a4aa0"/><circle cx="87.7" cy="800.5" r="0.8" fill="#5a4aa0"/><circle cx="99.4" cy="800.8" r="0.6" fill="#5a4aa0"/><circle cx="111.5" cy="794.9" r="0.6" fill="#4a3c96"/><circle cx="115.8" cy="801.6" r="0.7" fill="#5a4aa0"/><circle cx="123.3" cy="798.5" r="0.7" fill="#5a4aa0"/><circle cx="131.2" cy="797.6" r="0.7" fill="#5a4aa0"/><circle cx="144.1" cy="801.8" r="0.5" fill="#5a4aa0"/><circle cx="153.9" cy="801.8" r="0.6" fill="#5a4aa0"/><circle cx="159.0" cy="796.1" r="0.5" fill="#5a4aa0"/><circle cx="33.3" cy="809.0" r="0.6" fill="#4a3c96"/><circle cx="43.8" cy="806.3" r="0.6" fill="#4a3c96"/><circle cx="52.7" cy="806.1" r="0.6" fill="#4a3c96"/><circle cx="58.4" cy="805.4" r="0.5" fill="#4a3c96"/><circle cx="74.7" cy="808.9" r="0.6" fill="#4a3c96"/><circle cx="85.6" cy="808.7" r="0.8" fill="#4a3c96"/><circle cx="96.8" cy="811.5" r="0.6" fill="#5a4aa0"/><circle cx="107.3" cy="810.1" r="0.7" fill="#5a4aa0"/><circle cx="122.4" cy="807.5" r="0.6" fill="#5a4aa0"/><circle cx="129.3" cy="808.7" r="0.8" fill="#5a4aa0"/><circle cx="139.9" cy="809.9" r="0.7" fill="#4a3c96"/><circle cx="148.6" cy="808.1" r="0.8" fill="#4a3c96"/><circle cx="163.4" cy="807.0" r="0.6" fill="#5a4aa0"/><circle cx="17.7" cy="816.5" r="0.5" fill="#5a4aa0"/><circle cx="24.2" cy="816.9" r="0.8" fill="#4a3c96"/><circle cx="40.2" cy="817.5" r="0.7" fill="#4a3c96"/><circle cx="48.2" cy="813.9" r="0.8" fill="#5a4aa0"/><circle cx="53.6" cy="813.4" r="0.8" fill="#4a3c96"/><circle cx="61.0" cy="815.0" r="0.5" fill="#4a3c96"/><circle cx="69.8" cy="817.5" r="0.8" fill="#5a4aa0"/><circle cx="77.6" cy="818.1" r="0.5" fill="#5a4aa0"/><circle cx="89.6" cy="818.3" r="0.5" fill="#4a3c96"/><circle cx="96.9" cy="816.3" r="0.6" fill="#5a4aa0"/><circle cx="110.4" cy="817.7" r="0.6" fill="#4a3c96"/><circle cx="116.7" cy="815.7" r="0.6" fill="#4a3c96"/><circle cx="127.7" cy="814.6" r="0.6" fill="#5a4aa0"/><circle cx="131.8" cy="814.7" r="0.6" fill="#5a4aa0"/><circle cx="142.1" cy="817.0" r="0.6" fill="#4a3c96"/><circle cx="150.6" cy="813.9" r="0.7" fill="#5a4aa0"/><circle cx="162.7" cy="820.7" r="0.7" fill="#5a4aa0"/><circle cx="10.5" cy="829.7" r="0.8" fill="#4a3c96"/><circle cx="27.7" cy="822.4" r="0.6" fill="#5a4aa0"/><circle cx="61.2" cy="827.3" r="0.6" fill="#4a3c96"/><circle cx="68.3" cy="821.8" r="0.7" fill="#5a4aa0"/><circle cx="73.5" cy="823.1" r="0.7" fill="#4a3c96"/><circle cx="88.3" cy="825.3" r="0.7" fill="#5a4aa0"/><circle cx="104.2" cy="826.7" r="0.7" fill="#4a3c96"/><circle cx="112.9" cy="823.9" r="0.8" fill="#4a3c96"/><circle cx="124.4" cy="829.8" r="0.8" fill="#5a4aa0"/><circle cx="128.1" cy="824.9" r="0.6" fill="#5a4aa0"/><circle cx="143.4" cy="823.0" r="0.7" fill="#5a4aa0"/><circle cx="152.6" cy="824.2" r="0.6" fill="#5a4aa0"/><circle cx="154.0" cy="825.5" r="0.6" fill="#4a3c96"/><circle cx="18.2" cy="838.6" r="0.6" fill="#5a4aa0"/><circle cx="27.2" cy="836.3" r="0.6" fill="#5a4aa0"/><circle cx="38.1" cy="833.4" r="0.7" fill="#4a3c96"/><circle cx="45.7" cy="834.6" r="0.7" fill="#5a4aa0"/><circle cx="54.0" cy="836.2" r="0.8" fill="#4a3c96"/><circle cx="66.2" cy="832.0" r="0.5" fill="#4a3c96"/><circle cx="75.0" cy="838.4" r="0.7" fill="#5a4aa0"/><circle cx="84.8" cy="832.6" r="0.7" fill="#5a4aa0"/><circle cx="95.3" cy="831.6" r="0.6" fill="#4a3c96"/><circle cx="108.8" cy="836.5" r="0.6" fill="#4a3c96"/><circle cx="127.9" cy="835.8" r="0.8" fill="#4a3c96"/><circle cx="132.9" cy="833.2" r="0.5" fill="#5a4aa0"/><circle cx="145.0" cy="835.2" r="0.7" fill="#5a4aa0"/><circle cx="149.6" cy="833.0" r="0.6" fill="#4a3c96"/><circle cx="158.8" cy="831.8" r="0.7" fill="#5a4aa0"/><circle cx="17.4" cy="843.5" r="0.5" fill="#5a4aa0"/><circle cx="26.4" cy="843.6" r="0.7" fill="#4a3c96"/><circle cx="51.0" cy="844.3" r="0.5" fill="#4a3c96"/><circle cx="58.5" cy="847.7" r="0.8" fill="#4a3c96"/><circle cx="69.9" cy="840.4" r="0.6" fill="#5a4aa0"/><circle cx="80.1" cy="840.6" r="0.6" fill="#5a4aa0"/><circle cx="83.3" cy="847.7" r="0.8" fill="#5a4aa0"/><circle cx="100.2" cy="840.9" r="0.6" fill="#5a4aa0"/><circle cx="119.8" cy="843.2" r="0.5" fill="#5a4aa0"/><circle cx="134.4" cy="843.7" r="0.8" fill="#5a4aa0"/><circle cx="152.5" cy="840.3" r="0.7" fill="#5a4aa0"/><circle cx="166.9" cy="842.4" r="0.6" fill="#5a4aa0"/></g>
<g fill="#fff" opacity="0.6"><rect x="101.6" y="783.6" width="1" height="1"/><rect x="156.1" y="806.4" width="1" height="1"/><rect x="43.3" y="785.8" width="2.1" height="0.9" transform="rotate(125,43.3,785.8)"/><rect x="163.6" y="773.2" width="3.8" height="0.9" transform="rotate(16,163.6,773.2)"/><rect x="67.5" y="806.7" width="2.7" height="0.9" transform="rotate(115,67.5,806.7)"/><rect x="42.3" y="803.3" width="4.0" height="0.9" transform="rotate(20,42.3,803.3)"/><rect x="117.3" y="822.9" width="1" height="1"/><rect x="71.9" y="799.0" width="3.5" height="0.9" transform="rotate(73,71.9,799.0)"/><rect x="10.2" y="806.1" width="1" height="1"/><rect x="64.1" y="769.1" width="1" height="1"/><rect x="10.7" y="814.5" width="2.0" height="0.9" transform="rotate(6,10.7,814.5)"/><rect x="19.7" y="779.9" width="1" height="1"/><rect x="125.0" y="797.6" width="1" height="1"/><rect x="84.7" y="809.0" width="1" height="1"/><rect x="58.7" y="840.0" width="1" height="1"/><rect x="117.9" y="767.8" width="2.5" height="0.9" transform="rotate(6,117.9,767.8)"/><rect x="159.6" y="840.5" width="1" height="1"/><rect x="28.1" y="826.3" width="1" height="1"/><rect x="137.9" y="833.5" width="3.9" height="0.9" transform="rotate(32,137.9,833.5)"/><rect x="126.6" y="841.9" width="1.9" height="0.9" transform="rotate(160,126.6,841.9)"/><rect x="161.4" y="841.2" width="3.1" height="0.9" transform="rotate(12,161.4,841.2)"/><rect x="118.8" y="796.6" width="4.0" height="0.9" transform="rotate(50,118.8,796.6)"/><rect x="23.6" y="845.7" width="1.8" height="0.9" transform="rotate(37,23.6,845.7)"/><rect x="165.2" y="842.6" width="3.5" height="0.9" transform="rotate(17,165.2,842.6)"/><rect x="150.3" y="768.3" width="1" height="1"/><rect x="145.4" y="805.7" width="1" height="1"/><rect x="137.1" y="787.2" width="3.2" height="0.9" transform="rotate(119,137.1,787.2)"/><rect x="94.3" y="795.3" width="1" height="1"/><rect x="55.0" y="824.1" width="1" height="1"/><rect x="72.9" y="771.8" width="1.9" height="0.9" transform="rotate(12,72.9,771.8)"/><rect x="28.4" y="795.9" width="3.5" height="0.9" transform="rotate(81,28.4,795.9)"/><rect x="116.8" y="824.8" width="3.1" height="0.9" transform="rotate(119,116.8,824.8)"/><rect x="29.5" y="812.9" width="3.7" height="0.9" transform="rotate(122,29.5,812.9)"/><rect x="47.5" y="803.7" width="1.6" height="0.9" transform="rotate(53,47.5,803.7)"/><rect x="17.1" y="850.3" width="1" height="1"/><rect x="79.0" y="823.0" width="4.4" height="0.9" transform="rotate(128,79.0,823.0)"/><rect x="132.1" y="806.2" width="1" height="1"/><rect x="155.8" y="772.2" width="2.3" height="0.9" transform="rotate(81,155.8,772.2)"/><rect x="107.2" y="779.3" width="1" height="1"/><rect x="145.6" y="772.4" width="1" height="1"/><rect x="51.5" y="820.7" width="1" height="1"/><rect x="164.5" y="834.0" width="1.9" height="0.9" transform="rotate(131,164.5,834.0)"/><rect x="122.7" y="802.2" width="2.2" height="0.9" transform="rotate(43,122.7,802.2)"/><rect x="135.8" y="775.3" width="2.0" height="0.9" transform="rotate(35,135.8,775.3)"/><rect x="125.3" y="816.4" width="1" height="1"/><rect x="152.3" y="804.8" width="3.0" height="0.9" transform="rotate(34,152.3,804.8)"/><rect x="122.9" y="844.1" width="1" height="1"/><rect x="45.3" y="816.8" width="1" height="1"/><rect x="62.1" y="845.1" width="1" height="1"/><rect x="100.9" y="807.5" width="1.6" height="0.9" transform="rotate(20,100.9,807.5)"/><rect x="106.4" y="826.9" width="1" height="1"/><rect x="105.0" y="850.4" width="1.7" height="0.9" transform="rotate(24,105.0,850.4)"/><rect x="55.0" y="811.7" width="1" height="1"/><rect x="56.5" y="787.0" width="1" height="1"/><rect x="71.0" y="814.0" width="4.3" height="0.9" transform="rotate(154,71.0,814.0)"/><rect x="129.3" y="845.5" width="2.4" height="0.9" transform="rotate(6,129.3,845.5)"/><rect x="152.0" y="806.5" width="2.0" height="0.9" transform="rotate(27,152.0,806.5)"/><rect x="79.0" y="844.7" width="1" height="1"/><rect x="129.7" y="830.5" width="2.2" height="0.9" transform="rotate(140,129.7,830.5)"/><rect x="92.8" y="770.1" width="1" height="1"/><rect x="29.6" y="816.8" width="1" height="1"/><rect x="111.6" y="824.3" width="4.3" height="0.9" transform="rotate(143,111.6,824.3)"/><rect x="107.3" y="849.2" width="1" height="1"/><rect x="18.0" y="823.4" width="2.6" height="0.9" transform="rotate(119,18.0,823.4)"/><rect x="145.1" y="771.0" width="1" height="1"/><rect x="16.1" y="772.0" width="4.5" height="0.9" transform="rotate(23,16.1,772.0)"/><rect x="142.0" y="843.9" width="3.9" height="0.9" transform="rotate(124,142.0,843.9)"/><rect x="124.8" y="789.8" width="1" height="1"/><rect x="125.0" y="824.5" width="3.8" height="0.9" transform="rotate(72,125.0,824.5)"/><rect x="91.3" y="808.1" width="1" height="1"/><rect x="76.1" y="839.1" width="3.6" height="0.9" transform="rotate(95,76.1,839.1)"/><rect x="10.9" y="825.5" width="3.4" height="0.9" transform="rotate(113,10.9,825.5)"/><rect x="30.9" y="846.2" width="2.8" height="0.9" transform="rotate(25,30.9,846.2)"/><rect x="19.4" y="775.8" width="1" height="1"/><rect x="24.7" y="812.6" width="1" height="1"/><rect x="81.4" y="835.4" width="1" height="1"/><rect x="35.4" y="773.7" width="1" height="1"/><rect x="147.0" y="838.6" width="1" height="1"/><rect x="90.3" y="847.4" width="1" height="1"/><rect x="130.5" y="843.5" width="3.3" height="0.9" transform="rotate(133,130.5,843.5)"/><rect x="11.2" y="788.6" width="1" height="1"/><rect x="93.3" y="814.3" width="4.1" height="0.9" transform="rotate(102,93.3,814.3)"/><rect x="165.0" y="813.5" width="1" height="1"/><rect x="23.1" y="779.0" width="1" height="1"/><rect x="140.6" y="777.3" width="2.4" height="0.9" transform="rotate(90,140.6,777.3)"/><rect x="31.5" y="780.6" width="2.0" height="0.9" transform="rotate(143,31.5,780.6)"/><rect x="137.3" y="773.5" width="1.5" height="0.9" transform="rotate(120,137.3,773.5)"/><rect x="60.4" y="780.2" width="2.0" height="0.9" transform="rotate(160,60.4,780.2)"/><rect x="123.7" y="843.4" width="2.5" height="0.9" transform="rotate(155,123.7,843.4)"/><rect x="132.1" y="815.9" width="3.6" height="0.9" transform="rotate(160,132.1,815.9)"/><rect x="60.0" y="815.2" width="4.3" height="0.9" transform="rotate(51,60.0,815.2)"/><rect x="164.3" y="780.5" width="1" height="1"/><rect x="122.7" y="768.2" width="4.2" height="0.9" transform="rotate(78,122.7,768.2)"/><rect x="148.1" y="788.3" width="2.1" height="0.9" transform="rotate(167,148.1,788.3)"/><rect x="25.8" y="802.0" width="1" height="1"/><rect x="148.0" y="840.6" width="1.9" height="0.9" transform="rotate(32,148.0,840.6)"/><rect x="103.9" y="801.2" width="1" height="1"/><rect x="107.0" y="818.7" width="1" height="1"/><rect x="41.8" y="842.1" width="1" height="1"/><rect x="140.0" y="832.7" width="2.6" height="0.9" transform="rotate(10,140.0,832.7)"/><rect x="123.2" y="784.1" width="1" height="1"/><rect x="145.5" y="825.5" width="3.9" height="0.9" transform="rotate(27,145.5,825.5)"/><rect x="36.7" y="808.8" width="1" height="1"/><rect x="110.2" y="787.0" width="1" height="1"/><rect x="60.2" y="802.4" width="1.6" height="0.9" transform="rotate(126,60.2,802.4)"/><rect x="110.7" y="808.1" width="1" height="1"/><rect x="67.4" y="815.1" width="1" height="1"/><rect x="18.5" y="833.5" width="2.3" height="0.9" transform="rotate(54,18.5,833.5)"/><rect x="43.8" y="837.8" width="3.0" height="0.9" transform="rotate(173,43.8,837.8)"/><rect x="54.5" y="832.8" width="1" height="1"/><rect x="149.8" y="779.4" width="1" height="1"/><rect x="13.6" y="782.6" width="2.3" height="0.9" transform="rotate(56,13.6,782.6)"/><rect x="99.7" y="829.7" width="3.8" height="0.9" transform="rotate(92,99.7,829.7)"/><rect x="45.2" y="850.7" width="4.0" height="0.9" transform="rotate(67,45.2,850.7)"/><rect x="46.6" y="795.0" width="4.1" height="0.9" transform="rotate(175,46.6,795.0)"/><rect x="22.1" y="812.3" width="2.2" height="0.9" transform="rotate(3,22.1,812.3)"/><rect x="120.9" y="811.5" width="1.7" height="0.9" transform="rotate(104,120.9,811.5)"/><rect x="63.6" y="775.5" width="1" height="1"/><rect x="70.0" y="827.1" width="3.2" height="0.9" transform="rotate(75,70.0,827.1)"/><rect x="50.4" y="813.0" width="1" height="1"/></g>
<rect x="9.2" y="767.3" width="159" height="83.6" filter="url(#fw)" opacity="0.28"/>
</g></g>
<clipPath id="cp2"><rect x="179" y="767" width="159.7" height="83.7"/></clipPath>
<g clip-path="url(#cp2)"><g filter="url(#fb)">
<rect x="178.00" y="766.00" width="161.70" height="85.70" fill="#c98fc5"/>
<rect x="179" y="767" width="159.7" height="83.7" filter="url(#fd)" opacity="0.45"/>
<path d="M241,767 C245,771 255,771 259,767 Z" fill="#fff"/>
<line x1="184.00" y1="847.20" x2="193.00" y2="847.20" stroke="#333" stroke-width="0.6"/>
<g opacity="0.6"><circle cx="180.2" cy="771.9" r="1.9" fill="#8a70c0"/><circle cx="192.7" cy="771.6" r="1.5" fill="#9478c6"/><circle cx="197.3" cy="768.5" r="1.2" fill="#8a70c0"/><circle cx="202.2" cy="769.5" r="1.4" fill="#a080cc"/><circle cx="212.1" cy="770.4" r="1.7" fill="#8a70c0"/><circle cx="220.6" cy="769.1" r="1.4" fill="#8a70c0"/><circle cx="229.0" cy="771.4" r="1.3" fill="#9478c6"/><circle cx="232.4" cy="770.6" r="1.1" fill="#a080cc"/><circle cx="242.3" cy="769.3" r="1.3" fill="#9478c6"/><circle cx="247.6" cy="771.2" r="1.9" fill="#a080cc"/><circle cx="250.5" cy="771.4" r="1.4" fill="#9478c6"/><circle cx="273.9" cy="771.4" r="1.9" fill="#9478c6"/><circle cx="277.6" cy="770.2" r="1.5" fill="#a080cc"/><circle cx="294.1" cy="771.5" r="1.5" fill="#9478c6"/><circle cx="316.5" cy="769.5" r="1.3" fill="#a080cc"/><circle cx="317.5" cy="771.7" r="1.3" fill="#9478c6"/><circle cx="324.9" cy="771.1" r="2.0" fill="#9478c6"/><circle cx="185.8" cy="773.7" r="1.3" fill="#a080cc"/><circle cx="190.0" cy="774.1" r="1.1" fill="#9478c6"/><circle cx="195.8" cy="776.8" r="1.5" fill="#9478c6"/><circle cx="200.3" cy="773.6" r="1.7" fill="#9478c6"/><circle cx="204.9" cy="774.7" r="1.7" fill="#a080cc"/><circle cx="212.3" cy="775.0" r="1.7" fill="#9478c6"/><circle cx="220.5" cy="775.8" r="1.8" fill="#9478c6"/><circle cx="225.3" cy="777.2" r="1.8" fill="#9478c6"/><circle cx="238.4" cy="774.7" r="1.7" fill="#8a70c0"/><circle cx="241.2" cy="772.7" r="1.9" fill="#a080cc"/><circle cx="245.8" cy="774.5" r="1.5" fill="#8a70c0"/><circle cx="255.4" cy="774.9" r="1.8" fill="#a080cc"/><circle cx="262.7" cy="775.6" r="1.7" fill="#a080cc"/><circle cx="268.3" cy="776.0" r="1.2" fill="#a080cc"/><circle cx="272.5" cy="772.6" r="1.4" fill="#a080cc"/><circle cx="277.8" cy="773.7" r="1.3" fill="#9478c6"/><circle cx="291.6" cy="776.1" r="1.3" fill="#9478c6"/><circle cx="301.0" cy="776.0" r="1.9" fill="#a080cc"/><circle cx="304.3" cy="775.1" r="1.1" fill="#a080cc"/><circle cx="311.9" cy="774.9" r="1.2" fill="#9478c6"/><circle cx="316.6" cy="775.3" r="1.9" fill="#a080cc"/><circle cx="324.5" cy="774.5" r="1.2" fill="#9478c6"/><circle cx="330.6" cy="773.0" r="1.4" fill="#9478c6"/><circle cx="337.5" cy="775.2" r="1.2" fill="#a080cc"/><circle cx="188.8" cy="780.1" r="1.3" fill="#9478c6"/><circle cx="192.2" cy="780.2" r="1.3" fill="#8a70c0"/><circle cx="198.8" cy="778.8" r="1.8" fill="#9478c6"/><circle cx="201.7" cy="781.5" r="1.4" fill="#8a70c0"/><circle cx="208.9" cy="780.9" r="1.7" fill="#8a70c0"/><circle cx="215.4" cy="780.1" r="1.9" fill="#8a70c0"/><circle cx="216.6" cy="781.1" r="1.2" fill="#a080cc"/><circle cx="231.6" cy="781.9" r="1.4" fill="#8a70c0"/><circle cx="252.1" cy="782.2" r="1.3" fill="#a080cc"/><circle cx="257.0" cy="780.0" r="1.4" fill="#a080cc"/><circle cx="261.6" cy="781.9" r="1.2" fill="#9478c6"/><circle cx="266.4" cy="782.3" r="1.5" fill="#a080cc"/><circle cx="278.1" cy="777.9" r="1.7" fill="#8a70c0"/><circle cx="281.7" cy="779.2" r="1.4" fill="#8a70c0"/><circle cx="285.9" cy="780.0" r="1.2" fill="#9478c6"/><circle cx="292.9" cy="782.6" r="1.2" fill="#a080cc"/><circle cx="299.7" cy="781.8" r="1.2" fill="#9478c6"/><circle cx="302.3" cy="781.5" r="2.0" fill="#a080cc"/><circle cx="311.0" cy="781.4" r="1.8" fill="#a080cc"/><circle cx="319.9" cy="777.9" r="1.3" fill="#a080cc"/><circle cx="335.5" cy="780.6" r="1.7" fill="#9478c6"/><circle cx="191.2" cy="783.7" r="1.2" fill="#8a70c0"/><circle cx="193.4" cy="784.1" r="1.5" fill="#8a70c0"/><circle cx="198.6" cy="787.0" r="1.2" fill="#8a70c0"/><circle cx="213.9" cy="784.4" r="1.9" fill="#a080cc"/><circle cx="228.7" cy="784.3" r="1.9" fill="#8a70c0"/><circle cx="236.5" cy="787.6" r="1.9" fill="#8a70c0"/><circle cx="242.9" cy="784.6" r="1.4" fill="#8a70c0"/><circle cx="246.3" cy="787.5" r="1.7" fill="#9478c6"/><circle cx="253.3" cy="787.1" r="1.8" fill="#9478c6"/><circle cx="258.2" cy="787.6" r="1.3" fill="#9478c6"/><circle cx="270.5" cy="785.1" r="1.8" fill="#8a70c0"/><circle cx="284.6" cy="787.6" r="1.7" fill="#a080cc"/><circle cx="301.2" cy="786.4" r="1.4" fill="#9478c6"/><circle cx="317.8" cy="784.1" r="1.9" fill="#a080cc"/><circle cx="323.1" cy="784.3" r="1.4" fill="#9478c6"/><circle cx="328.6" cy="786.2" r="1.3" fill="#8a70c0"/><circle cx="332.3" cy="785.3" r="1.7" fill="#9478c6"/><circle cx="337.3" cy="783.4" r="1.2" fill="#8a70c0"/><circle cx="181.5" cy="789.9" r="1.3" fill="#9478c6"/><circle cx="194.2" cy="789.1" r="1.6" fill="#8a70c0"/><circle cx="197.9" cy="792.7" r="1.2" fill="#a080cc"/><circle cx="204.9" cy="791.4" r="1.7" fill="#a080cc"/><circle cx="208.5" cy="792.0" r="1.5" fill="#a080cc"/><circle cx="215.3" cy="790.5" r="1.2" fill="#8a70c0"/><circle cx="220.3" cy="789.6" r="1.4" fill="#9478c6"/><circle cx="228.4" cy="789.9" r="1.3" fill="#8a70c0"/><circle cx="240.9" cy="791.0" r="1.4" fill="#a080cc"/><circle cx="245.1" cy="792.1" r="1.5" fill="#8a70c0"/><circle cx="252.7" cy="791.9" r="1.2" fill="#9478c6"/><circle cx="256.1" cy="792.1" r="1.2" fill="#9478c6"/><circle cx="264.8" cy="788.9" r="1.8" fill="#a080cc"/><circle cx="270.3" cy="790.3" r="1.9" fill="#8a70c0"/><circle cx="289.4" cy="791.7" r="1.9" fill="#9478c6"/><circle cx="293.8" cy="791.4" r="1.7" fill="#8a70c0"/><circle cx="304.5" cy="790.1" r="1.6" fill="#a080cc"/><circle cx="325.8" cy="792.9" r="1.9" fill="#9478c6"/><circle cx="336.4" cy="789.2" r="1.3" fill="#a080cc"/><circle cx="184.4" cy="795.7" r="1.6" fill="#8a70c0"/><circle cx="190.4" cy="794.5" r="1.8" fill="#a080cc"/><circle cx="194.7" cy="794.4" r="1.2" fill="#8a70c0"/><circle cx="198.8" cy="794.8" r="1.6" fill="#a080cc"/><circle cx="206.5" cy="794.4" r="1.3" fill="#9478c6"/><circle cx="209.0" cy="796.8" r="1.7" fill="#a080cc"/><circle cx="217.8" cy="795.9" r="1.9" fill="#a080cc"/><circle cx="222.7" cy="794.9" r="1.4" fill="#9478c6"/><circle cx="226.4" cy="794.6" r="1.3" fill="#9478c6"/><circle cx="233.6" cy="794.3" r="1.2" fill="#9478c6"/><circle cx="238.3" cy="796.7" r="1.5" fill="#8a70c0"/><circle cx="243.2" cy="797.4" r="1.9" fill="#9478c6"/><circle cx="246.0" cy="795.8" r="1.3" fill="#9478c6"/><circle cx="252.4" cy="794.5" r="1.4" fill="#8a70c0"/><circle cx="259.6" cy="794.9" r="1.6" fill="#9478c6"/><circle cx="263.4" cy="797.3" r="1.7" fill="#a080cc"/><circle cx="267.8" cy="797.6" r="1.1" fill="#8a70c0"/><circle cx="274.7" cy="796.4" r="1.2" fill="#8a70c0"/><circle cx="279.0" cy="795.0" r="1.3" fill="#8a70c0"/><circle cx="285.9" cy="798.2" r="2.0" fill="#9478c6"/><circle cx="288.4" cy="797.4" r="1.6" fill="#a080cc"/><circle cx="294.1" cy="796.9" r="2.0" fill="#8a70c0"/><circle cx="302.2" cy="793.9" r="2.0" fill="#a080cc"/><circle cx="304.9" cy="796.2" r="1.2" fill="#9478c6"/><circle cx="312.6" cy="794.4" r="1.8" fill="#8a70c0"/><circle cx="317.7" cy="797.5" r="1.9" fill="#9478c6"/><circle cx="323.6" cy="797.2" r="1.6" fill="#a080cc"/><circle cx="330.7" cy="798.5" r="1.4" fill="#8a70c0"/><circle cx="180.2" cy="803.3" r="1.6" fill="#8a70c0"/><circle cx="187.6" cy="802.4" r="1.7" fill="#a080cc"/><circle cx="190.7" cy="803.6" r="1.7" fill="#9478c6"/><circle cx="196.9" cy="800.9" r="1.5" fill="#9478c6"/><circle cx="207.3" cy="803.2" r="1.7" fill="#a080cc"/><circle cx="214.5" cy="802.8" r="1.2" fill="#a080cc"/><circle cx="216.9" cy="799.8" r="1.8" fill="#a080cc"/><circle cx="224.8" cy="803.8" r="1.6" fill="#a080cc"/><circle cx="231.6" cy="800.5" r="1.6" fill="#9478c6"/><circle cx="234.5" cy="800.2" r="1.4" fill="#a080cc"/><circle cx="241.1" cy="803.7" r="1.3" fill="#8a70c0"/><circle cx="244.7" cy="801.7" r="2.0" fill="#8a70c0"/><circle cx="250.6" cy="801.6" r="1.4" fill="#9478c6"/><circle cx="255.2" cy="801.8" r="1.7" fill="#8a70c0"/><circle cx="261.2" cy="802.7" r="1.7" fill="#a080cc"/><circle cx="264.4" cy="802.4" r="1.1" fill="#9478c6"/><circle cx="270.4" cy="802.8" r="1.2" fill="#a080cc"/><circle cx="274.9" cy="802.1" r="2.0" fill="#8a70c0"/><circle cx="281.2" cy="803.2" r="1.2" fill="#8a70c0"/><circle cx="294.3" cy="801.4" r="1.8" fill="#9478c6"/><circle cx="298.1" cy="802.4" r="1.9" fill="#a080cc"/><circle cx="304.7" cy="803.8" r="1.3" fill="#a080cc"/><circle cx="314.2" cy="803.8" r="1.9" fill="#8a70c0"/><circle cx="318.2" cy="799.4" r="1.3" fill="#8a70c0"/><circle cx="325.4" cy="801.3" r="1.9" fill="#8a70c0"/><circle cx="329.1" cy="803.1" r="1.7" fill="#8a70c0"/><circle cx="336.0" cy="801.5" r="1.6" fill="#9478c6"/><circle cx="189.3" cy="804.4" r="1.4" fill="#a080cc"/><circle cx="194.4" cy="805.4" r="1.4" fill="#8a70c0"/><circle cx="200.7" cy="806.0" r="1.3" fill="#8a70c0"/><circle cx="206.6" cy="809.0" r="1.3" fill="#a080cc"/><circle cx="212.7" cy="806.8" r="1.5" fill="#9478c6"/><circle cx="214.5" cy="805.0" r="1.4" fill="#9478c6"/><circle cx="220.6" cy="808.4" r="1.2" fill="#8a70c0"/><circle cx="228.6" cy="805.4" r="1.8" fill="#8a70c0"/><circle cx="232.9" cy="807.4" r="1.9" fill="#9478c6"/><circle cx="239.5" cy="807.9" r="1.8" fill="#a080cc"/><circle cx="243.1" cy="806.5" r="1.8" fill="#8a70c0"/><circle cx="249.8" cy="807.9" r="1.2" fill="#a080cc"/><circle cx="259.6" cy="806.1" r="1.1" fill="#a080cc"/><circle cx="263.5" cy="805.7" r="1.6" fill="#a080cc"/><circle cx="267.2" cy="807.9" r="1.1" fill="#9478c6"/><circle cx="275.7" cy="808.5" r="1.8" fill="#8a70c0"/><circle cx="277.6" cy="804.7" r="1.7" fill="#9478c6"/><circle cx="283.8" cy="807.3" r="1.2" fill="#8a70c0"/><circle cx="291.3" cy="807.9" r="1.3" fill="#9478c6"/><circle cx="293.4" cy="808.0" r="1.7" fill="#a080cc"/><circle cx="302.1" cy="807.5" r="2.0" fill="#a080cc"/><circle cx="307.1" cy="805.7" r="1.4" fill="#a080cc"/><circle cx="317.7" cy="807.3" r="1.4" fill="#8a70c0"/><circle cx="320.9" cy="805.3" r="1.6" fill="#8a70c0"/><circle cx="333.0" cy="807.6" r="1.3" fill="#a080cc"/><circle cx="182.6" cy="812.1" r="1.4" fill="#a080cc"/><circle cx="184.9" cy="813.4" r="1.2" fill="#9478c6"/><circle cx="189.9" cy="811.1" r="1.6" fill="#9478c6"/><circle cx="199.1" cy="811.5" r="1.8" fill="#8a70c0"/><circle cx="204.6" cy="809.7" r="1.7" fill="#a080cc"/><circle cx="207.8" cy="813.6" r="1.4" fill="#9478c6"/><circle cx="214.4" cy="811.9" r="2.0" fill="#a080cc"/><circle cx="224.3" cy="811.1" r="1.7" fill="#9478c6"/><circle cx="231.2" cy="810.2" r="1.2" fill="#a080cc"/><circle cx="244.6" cy="809.7" r="1.2" fill="#a080cc"/><circle cx="251.4" cy="811.5" r="1.3" fill="#9478c6"/><circle cx="256.8" cy="810.9" r="1.3" fill="#9478c6"/><circle cx="262.7" cy="811.1" r="1.7" fill="#8a70c0"/><circle cx="267.5" cy="810.0" r="1.1" fill="#8a70c0"/><circle cx="272.0" cy="811.6" r="1.9" fill="#9478c6"/><circle cx="276.3" cy="812.7" r="1.9" fill="#8a70c0"/><circle cx="284.6" cy="814.1" r="1.6" fill="#9478c6"/><circle cx="286.9" cy="814.2" r="1.8" fill="#9478c6"/><circle cx="294.7" cy="812.0" r="1.8" fill="#a080cc"/><circle cx="297.9" cy="811.3" r="2.0" fill="#8a70c0"/><circle cx="305.2" cy="813.6" r="1.8" fill="#9478c6"/><circle cx="309.6" cy="813.0" r="1.5" fill="#9478c6"/><circle cx="313.0" cy="810.5" r="1.6" fill="#9478c6"/><circle cx="317.4" cy="814.2" r="1.3" fill="#a080cc"/><circle cx="325.7" cy="813.3" r="1.6" fill="#a080cc"/><circle cx="336.5" cy="810.4" r="1.3" fill="#9478c6"/><circle cx="184.8" cy="818.4" r="1.8" fill="#9478c6"/><circle cx="188.9" cy="817.4" r="1.5" fill="#a080cc"/><circle cx="197.0" cy="817.5" r="1.5" fill="#a080cc"/><circle cx="199.5" cy="815.8" r="2.0" fill="#a080cc"/><circle cx="217.2" cy="815.9" r="1.6" fill="#9478c6"/><circle cx="221.2" cy="819.5" r="1.9" fill="#a080cc"/><circle cx="232.2" cy="816.6" r="1.5" fill="#a080cc"/><circle cx="235.4" cy="815.3" r="1.4" fill="#a080cc"/><circle cx="250.2" cy="818.4" r="1.5" fill="#a080cc"/><circle cx="252.4" cy="817.2" r="1.4" fill="#9478c6"/><circle cx="256.7" cy="816.6" r="2.0" fill="#8a70c0"/><circle cx="265.1" cy="819.2" r="1.2" fill="#8a70c0"/><circle cx="270.9" cy="817.9" r="1.4" fill="#a080cc"/><circle cx="275.2" cy="819.1" r="1.9" fill="#9478c6"/><circle cx="286.3" cy="816.7" r="1.8" fill="#a080cc"/><circle cx="295.9" cy="819.5" r="1.2" fill="#8a70c0"/><circle cx="306.1" cy="816.1" r="1.5" fill="#9478c6"/><circle cx="311.9" cy="819.5" r="1.6" fill="#a080cc"/><circle cx="317.8" cy="815.4" r="1.8" fill="#a080cc"/><circle cx="322.2" cy="816.5" r="1.3" fill="#a080cc"/><circle cx="329.5" cy="816.7" r="1.4" fill="#a080cc"/><circle cx="336.4" cy="815.0" r="1.7" fill="#a080cc"/><circle cx="184.0" cy="824.0" r="1.3" fill="#a080cc"/><circle cx="186.0" cy="821.8" r="1.4" fill="#8a70c0"/><circle cx="193.9" cy="822.1" r="1.8" fill="#9478c6"/><circle cx="196.0" cy="824.5" r="2.0" fill="#8a70c0"/><circle cx="201.0" cy="822.5" r="1.4" fill="#9478c6"/><circle cx="207.3" cy="821.4" r="1.3" fill="#8a70c0"/><circle cx="211.5" cy="822.1" r="1.4" fill="#8a70c0"/><circle cx="218.3" cy="825.0" r="1.7" fill="#9478c6"/><circle cx="222.4" cy="820.7" r="1.7" fill="#8a70c0"/><circle cx="227.8" cy="822.3" r="1.4" fill="#9478c6"/><circle cx="232.4" cy="821.4" r="2.0" fill="#9478c6"/><circle cx="238.4" cy="822.0" r="1.3" fill="#a080cc"/><circle cx="244.4" cy="824.7" r="1.7" fill="#8a70c0"/><circle cx="252.2" cy="824.7" r="1.3" fill="#a080cc"/><circle cx="257.8" cy="823.3" r="1.1" fill="#8a70c0"/><circle cx="261.4" cy="821.7" r="1.2" fill="#8a70c0"/><circle cx="266.1" cy="820.8" r="1.6" fill="#9478c6"/><circle cx="278.7" cy="820.8" r="1.6" fill="#a080cc"/><circle cx="283.3" cy="822.6" r="1.4" fill="#a080cc"/><circle cx="289.3" cy="824.0" r="1.7" fill="#a080cc"/><circle cx="290.8" cy="821.3" r="1.5" fill="#a080cc"/><circle cx="299.3" cy="825.0" r="1.7" fill="#8a70c0"/><circle cx="303.0" cy="821.1" r="1.5" fill="#9478c6"/><circle cx="306.9" cy="824.4" r="2.0" fill="#8a70c0"/><circle cx="313.3" cy="824.9" r="2.0" fill="#8a70c0"/><circle cx="319.5" cy="820.7" r="1.7" fill="#a080cc"/><circle cx="323.8" cy="823.3" r="1.2" fill="#9478c6"/><circle cx="328.8" cy="821.2" r="1.9" fill="#8a70c0"/><circle cx="334.9" cy="824.0" r="1.6" fill="#8a70c0"/><circle cx="185.9" cy="829.1" r="1.5" fill="#9478c6"/><circle cx="193.4" cy="825.9" r="1.7" fill="#9478c6"/><circle cx="205.1" cy="830.0" r="1.5" fill="#a080cc"/><circle cx="211.6" cy="825.6" r="1.2" fill="#8a70c0"/><circle cx="214.9" cy="825.6" r="1.8" fill="#8a70c0"/><circle cx="220.4" cy="827.8" r="1.9" fill="#8a70c0"/><circle cx="224.6" cy="829.3" r="1.8" fill="#8a70c0"/><circle cx="232.2" cy="826.7" r="1.4" fill="#9478c6"/><circle cx="236.7" cy="828.6" r="1.7" fill="#a080cc"/><circle cx="240.5" cy="828.1" r="1.2" fill="#9478c6"/><circle cx="245.7" cy="829.9" r="1.4" fill="#8a70c0"/><circle cx="252.9" cy="827.2" r="1.3" fill="#a080cc"/><circle cx="259.8" cy="827.7" r="1.3" fill="#a080cc"/><circle cx="263.1" cy="827.6" r="2.0" fill="#8a70c0"/><circle cx="267.4" cy="829.3" r="1.2" fill="#8a70c0"/><circle cx="273.3" cy="825.7" r="1.2" fill="#9478c6"/><circle cx="279.4" cy="829.5" r="1.4" fill="#8a70c0"/><circle cx="288.0" cy="827.8" r="2.0" fill="#8a70c0"/><circle cx="295.3" cy="828.2" r="1.2" fill="#9478c6"/><circle cx="298.6" cy="829.5" r="1.6" fill="#a080cc"/><circle cx="305.9" cy="826.2" r="1.9" fill="#9478c6"/><circle cx="317.5" cy="830.3" r="1.5" fill="#8a70c0"/><circle cx="323.4" cy="826.3" r="1.7" fill="#8a70c0"/><circle cx="328.0" cy="829.5" r="1.5" fill="#8a70c0"/><circle cx="332.0" cy="828.9" r="1.7" fill="#9478c6"/><circle cx="336.5" cy="826.7" r="1.5" fill="#8a70c0"/><circle cx="194.4" cy="835.5" r="1.6" fill="#9478c6"/><circle cx="195.8" cy="831.4" r="1.5" fill="#a080cc"/><circle cx="203.5" cy="834.2" r="1.6" fill="#8a70c0"/><circle cx="206.4" cy="835.4" r="1.5" fill="#a080cc"/><circle cx="214.3" cy="835.3" r="1.9" fill="#8a70c0"/><circle cx="216.5" cy="833.0" r="1.5" fill="#8a70c0"/><circle cx="224.7" cy="833.8" r="1.8" fill="#8a70c0"/><circle cx="229.6" cy="832.6" r="1.6" fill="#9478c6"/><circle cx="232.7" cy="835.4" r="1.3" fill="#9478c6"/><circle cx="241.8" cy="832.6" r="1.3" fill="#a080cc"/><circle cx="246.8" cy="830.9" r="1.2" fill="#a080cc"/><circle cx="249.7" cy="831.5" r="1.6" fill="#9478c6"/><circle cx="257.2" cy="832.5" r="1.7" fill="#9478c6"/><circle cx="262.1" cy="835.5" r="1.8" fill="#9478c6"/><circle cx="266.9" cy="831.9" r="1.9" fill="#a080cc"/><circle cx="279.0" cy="835.5" r="1.3" fill="#9478c6"/><circle cx="280.5" cy="831.9" r="1.4" fill="#a080cc"/><circle cx="290.7" cy="832.5" r="1.2" fill="#8a70c0"/><circle cx="302.8" cy="834.8" r="2.0" fill="#9478c6"/><circle cx="307.1" cy="835.1" r="1.5" fill="#9478c6"/><circle cx="315.7" cy="832.1" r="1.4" fill="#9478c6"/><circle cx="319.6" cy="831.9" r="1.9" fill="#9478c6"/><circle cx="326.6" cy="831.8" r="1.9" fill="#9478c6"/><circle cx="330.9" cy="832.7" r="2.0" fill="#9478c6"/><circle cx="185.0" cy="837.7" r="1.8" fill="#a080cc"/><circle cx="190.8" cy="839.7" r="1.8" fill="#9478c6"/><circle cx="197.1" cy="836.9" r="1.8" fill="#9478c6"/><circle cx="202.1" cy="838.1" r="1.5" fill="#8a70c0"/><circle cx="204.6" cy="836.4" r="1.7" fill="#8a70c0"/><circle cx="208.4" cy="837.5" r="1.3" fill="#9478c6"/><circle cx="215.5" cy="839.0" r="1.4" fill="#a080cc"/><circle cx="223.0" cy="840.0" r="1.2" fill="#9478c6"/><circle cx="228.2" cy="840.6" r="1.4" fill="#8a70c0"/><circle cx="229.7" cy="838.8" r="1.2" fill="#9478c6"/><circle cx="237.4" cy="840.3" r="1.9" fill="#8a70c0"/><circle cx="244.5" cy="838.8" r="1.4" fill="#8a70c0"/><circle cx="247.7" cy="840.6" r="1.6" fill="#9478c6"/><circle cx="254.3" cy="840.2" r="1.9" fill="#a080cc"/><circle cx="260.6" cy="836.3" r="1.7" fill="#8a70c0"/><circle cx="262.9" cy="839.7" r="1.2" fill="#9478c6"/><circle cx="271.2" cy="840.3" r="1.5" fill="#8a70c0"/><circle cx="273.6" cy="838.4" r="1.3" fill="#a080cc"/><circle cx="285.3" cy="840.5" r="1.9" fill="#9478c6"/><circle cx="289.7" cy="836.3" r="1.3" fill="#9478c6"/><circle cx="296.6" cy="836.4" r="1.9" fill="#a080cc"/><circle cx="300.3" cy="837.6" r="2.0" fill="#a080cc"/><circle cx="306.4" cy="840.4" r="1.6" fill="#9478c6"/><circle cx="312.9" cy="837.3" r="1.9" fill="#9478c6"/><circle cx="316.6" cy="836.5" r="1.7" fill="#9478c6"/><circle cx="320.8" cy="839.9" r="2.0" fill="#a080cc"/><circle cx="327.1" cy="838.6" r="1.6" fill="#a080cc"/><circle cx="335.8" cy="839.3" r="1.4" fill="#8a70c0"/><circle cx="181.6" cy="843.5" r="1.6" fill="#a080cc"/><circle cx="186.6" cy="843.0" r="1.2" fill="#9478c6"/><circle cx="210.3" cy="844.5" r="1.8" fill="#a080cc"/><circle cx="214.6" cy="843.5" r="1.2" fill="#8a70c0"/><circle cx="217.5" cy="844.8" r="1.8" fill="#8a70c0"/><circle cx="224.3" cy="843.5" r="1.7" fill="#9478c6"/><circle cx="228.0" cy="845.4" r="2.0" fill="#8a70c0"/><circle cx="239.3" cy="843.2" r="1.6" fill="#a080cc"/><circle cx="244.9" cy="845.1" r="1.2" fill="#a080cc"/><circle cx="252.2" cy="846.0" r="1.7" fill="#9478c6"/><circle cx="254.2" cy="842.7" r="1.9" fill="#9478c6"/><circle cx="259.0" cy="844.9" r="1.1" fill="#8a70c0"/><circle cx="265.2" cy="844.8" r="1.9" fill="#9478c6"/><circle cx="273.4" cy="844.1" r="1.3" fill="#8a70c0"/><circle cx="277.9" cy="842.4" r="1.5" fill="#9478c6"/><circle cx="280.1" cy="845.3" r="1.4" fill="#9478c6"/><circle cx="289.5" cy="845.2" r="1.9" fill="#8a70c0"/><circle cx="293.7" cy="844.4" r="1.4" fill="#8a70c0"/><circle cx="297.2" cy="845.2" r="1.7" fill="#9478c6"/><circle cx="303.9" cy="842.5" r="1.5" fill="#a080cc"/><circle cx="307.9" cy="846.2" r="1.7" fill="#a080cc"/><circle cx="318.2" cy="844.9" r="1.2" fill="#9478c6"/><circle cx="325.4" cy="844.2" r="1.8" fill="#9478c6"/><circle cx="332.1" cy="843.3" r="1.7" fill="#a080cc"/><circle cx="183.9" cy="848.0" r="1.6" fill="#8a70c0"/><circle cx="197.1" cy="848.9" r="1.5" fill="#9478c6"/><circle cx="199.8" cy="848.5" r="1.1" fill="#9478c6"/><circle cx="210.9" cy="848.2" r="1.2" fill="#9478c6"/><circle cx="216.4" cy="847.2" r="1.7" fill="#9478c6"/><circle cx="221.4" cy="849.5" r="1.9" fill="#9478c6"/><circle cx="226.0" cy="849.1" r="1.8" fill="#a080cc"/><circle cx="250.2" cy="849.2" r="1.7" fill="#a080cc"/><circle cx="260.2" cy="847.0" r="1.7" fill="#9478c6"/><circle cx="274.8" cy="849.6" r="1.7" fill="#8a70c0"/><circle cx="292.6" cy="849.1" r="1.4" fill="#8a70c0"/><circle cx="307.7" cy="847.9" r="1.1" fill="#a080cc"/><circle cx="316.9" cy="847.6" r="1.6" fill="#9478c6"/></g>
<g opacity="0.7"><circle cx="186.3" cy="775.2" r="0.7" fill="#4a3c96"/><circle cx="190.7" cy="770.4" r="0.5" fill="#5a4aa0"/><circle cx="201.2" cy="774.0" r="0.7" fill="#4a3c96"/><circle cx="211.0" cy="768.5" r="0.6" fill="#4a3c96"/><circle cx="216.9" cy="770.2" r="0.5" fill="#5a4aa0"/><circle cx="235.9" cy="771.7" r="0.7" fill="#5a4aa0"/><circle cx="243.3" cy="773.7" r="0.7" fill="#5a4aa0"/><circle cx="252.5" cy="773.9" r="0.6" fill="#5a4aa0"/><circle cx="268.3" cy="775.4" r="0.6" fill="#4a3c96"/><circle cx="276.2" cy="772.6" r="0.6" fill="#4a3c96"/><circle cx="283.7" cy="771.3" r="0.7" fill="#4a3c96"/><circle cx="302.0" cy="774.7" r="0.6" fill="#5a4aa0"/><circle cx="308.3" cy="768.5" r="0.8" fill="#5a4aa0"/><circle cx="319.4" cy="772.5" r="0.5" fill="#5a4aa0"/><circle cx="327.6" cy="769.6" r="0.6" fill="#5a4aa0"/><circle cx="184.0" cy="782.4" r="0.6" fill="#5a4aa0"/><circle cx="193.2" cy="783.8" r="0.8" fill="#5a4aa0"/><circle cx="203.7" cy="781.2" r="0.6" fill="#4a3c96"/><circle cx="214.3" cy="776.9" r="0.5" fill="#4a3c96"/><circle cx="244.9" cy="782.2" r="0.6" fill="#5a4aa0"/><circle cx="254.1" cy="777.8" r="0.7" fill="#4a3c96"/><circle cx="261.1" cy="778.5" r="0.6" fill="#5a4aa0"/><circle cx="267.8" cy="778.0" r="0.5" fill="#4a3c96"/><circle cx="281.1" cy="778.0" r="0.7" fill="#5a4aa0"/><circle cx="290.7" cy="782.2" r="0.6" fill="#4a3c96"/><circle cx="301.6" cy="778.3" r="0.6" fill="#5a4aa0"/><circle cx="317.8" cy="778.3" r="0.5" fill="#5a4aa0"/><circle cx="321.9" cy="779.2" r="0.6" fill="#5a4aa0"/><circle cx="328.6" cy="780.8" r="0.7" fill="#4a3c96"/><circle cx="184.5" cy="790.8" r="0.6" fill="#4a3c96"/><circle cx="193.8" cy="787.1" r="0.6" fill="#5a4aa0"/><circle cx="200.3" cy="787.7" r="0.8" fill="#5a4aa0"/><circle cx="212.8" cy="787.3" r="0.7" fill="#4a3c96"/><circle cx="219.9" cy="789.1" r="0.5" fill="#4a3c96"/><circle cx="229.1" cy="789.0" r="0.5" fill="#4a3c96"/><circle cx="235.5" cy="791.4" r="0.7" fill="#4a3c96"/><circle cx="249.7" cy="787.3" r="0.6" fill="#5a4aa0"/><circle cx="253.1" cy="791.8" r="0.7" fill="#5a4aa0"/><circle cx="264.3" cy="785.9" r="0.7" fill="#4a3c96"/><circle cx="278.5" cy="793.4" r="0.7" fill="#5a4aa0"/><circle cx="292.0" cy="786.9" r="0.5" fill="#4a3c96"/><circle cx="301.9" cy="792.0" r="0.8" fill="#4a3c96"/><circle cx="312.4" cy="790.3" r="0.7" fill="#5a4aa0"/><circle cx="327.3" cy="789.1" r="0.6" fill="#5a4aa0"/><circle cx="333.8" cy="788.6" r="0.8" fill="#5a4aa0"/><circle cx="184.0" cy="795.8" r="0.7" fill="#4a3c96"/><circle cx="197.1" cy="802.0" r="0.7" fill="#5a4aa0"/><circle cx="205.6" cy="797.5" r="0.7" fill="#5a4aa0"/><circle cx="222.5" cy="800.6" r="0.6" fill="#5a4aa0"/><circle cx="235.0" cy="801.4" r="0.5" fill="#5a4aa0"/><circle cx="261.7" cy="800.2" r="0.5" fill="#4a3c96"/><circle cx="271.9" cy="795.9" r="0.6" fill="#5a4aa0"/><circle cx="278.7" cy="794.5" r="0.7" fill="#4a3c96"/><circle cx="292.3" cy="797.4" r="0.8" fill="#4a3c96"/><circle cx="310.7" cy="797.7" r="0.6" fill="#4a3c96"/><circle cx="320.7" cy="794.9" r="0.8" fill="#5a4aa0"/><circle cx="330.0" cy="798.9" r="0.7" fill="#4a3c96"/><circle cx="185.2" cy="804.2" r="0.8" fill="#4a3c96"/><circle cx="193.2" cy="806.0" r="0.6" fill="#4a3c96"/><circle cx="205.2" cy="807.0" r="0.7" fill="#5a4aa0"/><circle cx="209.8" cy="810.0" r="0.7" fill="#5a4aa0"/><circle cx="217.1" cy="807.9" r="0.6" fill="#5a4aa0"/><circle cx="224.6" cy="810.3" r="0.7" fill="#5a4aa0"/><circle cx="235.8" cy="805.0" r="0.6" fill="#4a3c96"/><circle cx="248.5" cy="811.1" r="0.8" fill="#4a3c96"/><circle cx="256.1" cy="807.9" r="0.6" fill="#4a3c96"/><circle cx="266.6" cy="810.0" r="0.6" fill="#5a4aa0"/><circle cx="272.1" cy="804.1" r="0.6" fill="#5a4aa0"/><circle cx="286.1" cy="806.1" r="0.7" fill="#5a4aa0"/><circle cx="291.2" cy="807.7" r="0.8" fill="#5a4aa0"/><circle cx="299.6" cy="810.7" r="0.6" fill="#5a4aa0"/><circle cx="312.8" cy="809.5" r="0.7" fill="#4a3c96"/><circle cx="322.3" cy="810.7" r="0.7" fill="#5a4aa0"/><circle cx="324.2" cy="806.1" r="0.6" fill="#4a3c96"/><circle cx="187.7" cy="814.2" r="0.5" fill="#5a4aa0"/><circle cx="195.3" cy="815.0" r="0.5" fill="#4a3c96"/><circle cx="214.4" cy="817.9" r="0.7" fill="#4a3c96"/><circle cx="235.9" cy="815.6" r="0.6" fill="#5a4aa0"/><circle cx="250.4" cy="814.9" r="0.7" fill="#5a4aa0"/><circle cx="260.5" cy="812.7" r="0.5" fill="#4a3c96"/><circle cx="265.2" cy="814.5" r="0.6" fill="#4a3c96"/><circle cx="279.9" cy="815.6" r="0.7" fill="#5a4aa0"/><circle cx="286.0" cy="817.0" r="0.8" fill="#4a3c96"/><circle cx="296.8" cy="814.4" r="0.5" fill="#5a4aa0"/><circle cx="305.5" cy="818.3" r="0.8" fill="#5a4aa0"/><circle cx="312.0" cy="816.4" r="0.6" fill="#5a4aa0"/><circle cx="326.8" cy="819.4" r="0.5" fill="#4a3c96"/><circle cx="335.7" cy="813.3" r="0.7" fill="#5a4aa0"/><circle cx="180.8" cy="828.7" r="0.7" fill="#5a4aa0"/><circle cx="204.9" cy="828.6" r="0.7" fill="#4a3c96"/><circle cx="210.2" cy="825.3" r="0.6" fill="#4a3c96"/><circle cx="218.1" cy="826.5" r="0.8" fill="#5a4aa0"/><circle cx="229.2" cy="824.1" r="0.5" fill="#5a4aa0"/><circle cx="240.0" cy="827.3" r="0.6" fill="#5a4aa0"/><circle cx="243.7" cy="826.4" r="0.6" fill="#4a3c96"/><circle cx="252.0" cy="829.3" r="0.7" fill="#5a4aa0"/><circle cx="264.1" cy="824.2" r="0.8" fill="#5a4aa0"/><circle cx="275.6" cy="822.5" r="0.7" fill="#4a3c96"/><circle cx="281.1" cy="828.8" r="0.7" fill="#4a3c96"/><circle cx="293.4" cy="821.6" r="0.7" fill="#5a4aa0"/><circle cx="300.4" cy="827.4" r="0.7" fill="#5a4aa0"/><circle cx="306.6" cy="829.0" r="0.7" fill="#5a4aa0"/><circle cx="315.5" cy="827.8" r="0.7" fill="#5a4aa0"/><circle cx="327.4" cy="825.7" r="0.6" fill="#4a3c96"/><circle cx="336.2" cy="827.8" r="0.7" fill="#5a4aa0"/><circle cx="184.5" cy="837.6" r="0.8" fill="#4a3c96"/><circle cx="199.8" cy="833.3" r="0.8" fill="#5a4aa0"/><circle cx="207.7" cy="831.8" r="0.5" fill="#4a3c96"/><circle cx="218.9" cy="836.5" r="0.6" fill="#5a4aa0"/><circle cx="227.3" cy="834.6" r="0.7" fill="#4a3c96"/><circle cx="230.3" cy="831.9" r="0.7" fill="#4a3c96"/><circle cx="247.9" cy="836.3" r="0.8" fill="#5a4aa0"/><circle cx="261.8" cy="836.0" r="0.6" fill="#5a4aa0"/><circle cx="267.4" cy="838.2" r="0.7" fill="#4a3c96"/><circle cx="274.3" cy="835.9" r="0.5" fill="#5a4aa0"/><circle cx="287.9" cy="834.4" r="0.5" fill="#5a4aa0"/><circle cx="293.6" cy="831.2" r="0.8" fill="#4a3c96"/><circle cx="306.2" cy="834.2" r="0.6" fill="#5a4aa0"/><circle cx="310.0" cy="836.0" r="0.8" fill="#4a3c96"/><circle cx="322.8" cy="834.2" r="0.6" fill="#4a3c96"/><circle cx="185.1" cy="843.5" r="0.6" fill="#4a3c96"/><circle cx="194.4" cy="846.9" r="0.5" fill="#5a4aa0"/><circle cx="204.7" cy="843.7" r="0.7" fill="#5a4aa0"/><circle cx="208.4" cy="843.7" r="0.8" fill="#5a4aa0"/><circle cx="218.6" cy="842.9" r="0.6" fill="#5a4aa0"/><circle cx="228.5" cy="843.2" r="0.7" fill="#4a3c96"/><circle cx="252.9" cy="842.2" r="0.6" fill="#5a4aa0"/><circle cx="264.1" cy="845.9" r="0.6" fill="#5a4aa0"/><circle cx="271.0" cy="843.1" r="0.5" fill="#4a3c96"/><circle cx="279.0" cy="842.2" r="0.6" fill="#5a4aa0"/><circle cx="293.7" cy="842.6" r="0.5" fill="#5a4aa0"/><circle cx="298.9" cy="844.5" r="0.5" fill="#4a3c96"/><circle cx="308.9" cy="839.9" r="0.5" fill="#4a3c96"/><circle cx="319.7" cy="841.3" r="0.6" fill="#4a3c96"/><circle cx="336.4" cy="846.5" r="0.6" fill="#5a4aa0"/><circle cx="229.3" cy="849.1" r="0.6" fill="#5a4aa0"/></g>
<g fill="#fff" opacity="0.6"><rect x="202.7" y="818.6" width="3.3" height="0.9" transform="rotate(128,202.7,818.6)"/><rect x="240.4" y="818.7" width="1" height="1"/><rect x="185.9" y="811.4" width="1" height="1"/><rect x="262.0" y="840.6" width="1" height="1"/><rect x="239.2" y="786.0" width="3.6" height="0.9" transform="rotate(146,239.2,786.0)"/><rect x="276.3" y="804.0" width="1" height="1"/><rect x="214.5" y="811.4" width="3.4" height="0.9" transform="rotate(112,214.5,811.4)"/><rect x="286.0" y="787.6" width="3.6" height="0.9" transform="rotate(60,286.0,787.6)"/><rect x="260.4" y="829.6" width="4.2" height="0.9" transform="rotate(72,260.4,829.6)"/><rect x="205.7" y="784.4" width="1" height="1"/><rect x="279.8" y="803.2" width="1" height="1"/><rect x="249.4" y="823.0" width="1" height="1"/><rect x="310.8" y="820.5" width="2.8" height="0.9" transform="rotate(171,310.8,820.5)"/><rect x="278.9" y="839.7" width="1" height="1"/><rect x="241.4" y="829.2" width="1" height="1"/><rect x="325.1" y="819.2" width="1" height="1"/><rect x="334.5" y="811.2" width="4.3" height="0.9" transform="rotate(169,334.5,811.2)"/><rect x="206.5" y="773.1" width="1" height="1"/><rect x="320.0" y="799.2" width="4.3" height="0.9" transform="rotate(123,320.0,799.2)"/><rect x="213.0" y="804.5" width="1" height="1"/><rect x="214.3" y="801.7" width="2.2" height="0.9" transform="rotate(86,214.3,801.7)"/><rect x="191.9" y="799.6" width="2.0" height="0.9" transform="rotate(21,191.9,799.6)"/><rect x="245.7" y="793.6" width="1" height="1"/><rect x="245.2" y="787.4" width="3.7" height="0.9" transform="rotate(53,245.2,787.4)"/><rect x="211.2" y="805.9" width="1" height="1"/><rect x="311.5" y="805.7" width="1" height="1"/><rect x="281.6" y="786.0" width="3.9" height="0.9" transform="rotate(31,281.6,786.0)"/><rect x="241.2" y="837.1" width="1" height="1"/><rect x="325.8" y="806.3" width="2.2" height="0.9" transform="rotate(50,325.8,806.3)"/><rect x="282.7" y="825.8" width="1" height="1"/><rect x="291.6" y="847.3" width="1" height="1"/><rect x="254.8" y="837.0" width="3.7" height="0.9" transform="rotate(140,254.8,837.0)"/><rect x="317.4" y="772.1" width="1.9" height="0.9" transform="rotate(171,317.4,772.1)"/><rect x="251.1" y="817.4" width="4.4" height="0.9" transform="rotate(158,251.1,817.4)"/><rect x="233.5" y="778.2" width="1" height="1"/><rect x="251.4" y="787.8" width="3.2" height="0.9" transform="rotate(2,251.4,787.8)"/><rect x="223.9" y="813.6" width="1" height="1"/><rect x="256.4" y="846.8" width="3.8" height="0.9" transform="rotate(136,256.4,846.8)"/><rect x="332.1" y="769.6" width="1" height="1"/><rect x="267.9" y="817.1" width="4.2" height="0.9" transform="rotate(49,267.9,817.1)"/><rect x="319.2" y="825.7" width="1" height="1"/><rect x="267.4" y="773.6" width="1" height="1"/><rect x="195.7" y="829.8" width="1" height="1"/><rect x="212.0" y="779.8" width="4.4" height="0.9" transform="rotate(32,212.0,779.8)"/><rect x="215.4" y="841.0" width="2.9" height="0.9" transform="rotate(61,215.4,841.0)"/><rect x="236.2" y="847.7" width="2.1" height="0.9" transform="rotate(87,236.2,847.7)"/><rect x="196.4" y="824.8" width="3.6" height="0.9" transform="rotate(88,196.4,824.8)"/><rect x="193.2" y="771.6" width="1" height="1"/><rect x="337.7" y="768.5" width="4.0" height="0.9" transform="rotate(179,337.7,768.5)"/><rect x="337.0" y="811.3" width="1" height="1"/><rect x="187.9" y="806.5" width="1" height="1"/><rect x="241.4" y="803.9" width="3.9" height="0.9" transform="rotate(68,241.4,803.9)"/><rect x="334.4" y="786.3" width="3.7" height="0.9" transform="rotate(145,334.4,786.3)"/><rect x="309.0" y="824.1" width="1" height="1"/><rect x="313.9" y="820.0" width="4.1" height="0.9" transform="rotate(15,313.9,820.0)"/><rect x="316.0" y="841.6" width="4.3" height="0.9" transform="rotate(133,316.0,841.6)"/><rect x="212.0" y="769.0" width="3.5" height="0.9" transform="rotate(39,212.0,769.0)"/><rect x="310.2" y="835.5" width="1" height="1"/><rect x="335.2" y="848.4" width="3.7" height="0.9" transform="rotate(166,335.2,848.4)"/><rect x="218.1" y="816.0" width="3.9" height="0.9" transform="rotate(72,218.1,816.0)"/><rect x="180.6" y="811.9" width="1.7" height="0.9" transform="rotate(51,180.6,811.9)"/><rect x="262.6" y="794.9" width="3.5" height="0.9" transform="rotate(72,262.6,794.9)"/><rect x="191.7" y="832.7" width="2.6" height="0.9" transform="rotate(85,191.7,832.7)"/><rect x="315.9" y="841.7" width="1" height="1"/><rect x="226.0" y="794.2" width="1" height="1"/><rect x="260.4" y="820.2" width="1" height="1"/><rect x="209.6" y="799.2" width="1" height="1"/><rect x="232.0" y="838.0" width="3.0" height="0.9" transform="rotate(3,232.0,838.0)"/><rect x="224.2" y="816.9" width="1" height="1"/><rect x="185.2" y="808.8" width="4.0" height="0.9" transform="rotate(163,185.2,808.8)"/><rect x="320.3" y="829.1" width="3.1" height="0.9" transform="rotate(111,320.3,829.1)"/><rect x="237.8" y="791.3" width="1" height="1"/><rect x="322.1" y="787.2" width="2.6" height="0.9" transform="rotate(28,322.1,787.2)"/><rect x="241.0" y="774.8" width="1" height="1"/><rect x="233.9" y="834.5" width="4.4" height="0.9" transform="rotate(132,233.9,834.5)"/><rect x="206.0" y="798.0" width="1" height="1"/><rect x="243.4" y="794.5" width="2.5" height="0.9" transform="rotate(149,243.4,794.5)"/><rect x="319.4" y="813.7" width="4.2" height="0.9" transform="rotate(179,319.4,813.7)"/><rect x="298.6" y="817.3" width="1" height="1"/><rect x="330.4" y="783.5" width="2.8" height="0.9" transform="rotate(137,330.4,783.5)"/><rect x="336.3" y="836.8" width="1" height="1"/><rect x="204.5" y="818.2" width="1" height="1"/><rect x="271.7" y="832.2" width="3.3" height="0.9" transform="rotate(161,271.7,832.2)"/><rect x="204.6" y="835.7" width="4.3" height="0.9" transform="rotate(163,204.6,835.7)"/><rect x="210.2" y="783.8" width="1" height="1"/><rect x="251.9" y="798.4" width="1" height="1"/><rect x="232.6" y="777.9" width="1" height="1"/><rect x="319.1" y="847.3" width="2.5" height="0.9" transform="rotate(134,319.1,847.3)"/><rect x="334.1" y="799.7" width="3.0" height="0.9" transform="rotate(60,334.1,799.7)"/><rect x="207.1" y="831.4" width="2.2" height="0.9" transform="rotate(134,207.1,831.4)"/><rect x="257.4" y="822.2" width="4.0" height="0.9" transform="rotate(52,257.4,822.2)"/><rect x="242.0" y="796.2" width="1" height="1"/><rect x="289.4" y="839.3" width="1" height="1"/><rect x="315.4" y="841.7" width="1" height="1"/><rect x="325.8" y="825.1" width="1" height="1"/><rect x="241.1" y="775.9" width="1" height="1"/><rect x="245.2" y="795.3" width="1" height="1"/><rect x="299.7" y="836.5" width="4.3" height="0.9" transform="rotate(141,299.7,836.5)"/><rect x="335.2" y="845.9" width="1" height="1"/><rect x="321.0" y="816.4" width="1" height="1"/><rect x="337.1" y="798.4" width="4.3" height="0.9" transform="rotate(135,337.1,798.4)"/><rect x="323.4" y="805.7" width="4.1" height="0.9" transform="rotate(22,323.4,805.7)"/><rect x="222.4" y="777.2" width="2.7" height="0.9" transform="rotate(168,222.4,777.2)"/><rect x="305.6" y="772.9" width="3.8" height="0.9" transform="rotate(134,305.6,772.9)"/><rect x="209.4" y="807.3" width="1" height="1"/><rect x="324.9" y="774.9" width="1" height="1"/><rect x="321.1" y="818.9" width="1" height="1"/><rect x="226.5" y="808.2" width="3.2" height="0.9" transform="rotate(144,226.5,808.2)"/><rect x="207.9" y="845.8" width="3.7" height="0.9" transform="rotate(6,207.9,845.8)"/><rect x="191.8" y="822.1" width="3.7" height="0.9" transform="rotate(4,191.8,822.1)"/><rect x="277.0" y="822.2" width="1" height="1"/><rect x="293.5" y="781.7" width="4.1" height="0.9" transform="rotate(107,293.5,781.7)"/><rect x="282.1" y="807.8" width="1" height="1"/><rect x="313.8" y="787.9" width="4.1" height="0.9" transform="rotate(1,313.8,787.9)"/><rect x="212.8" y="815.4" width="1" height="1"/><rect x="284.1" y="845.5" width="1" height="1"/><rect x="206.5" y="803.0" width="3.7" height="0.9" transform="rotate(69,206.5,803.0)"/><rect x="283.1" y="819.6" width="1" height="1"/><rect x="338.4" y="788.1" width="1" height="1"/><rect x="282.1" y="769.3" width="1" height="1"/><rect x="242.7" y="823.3" width="1.9" height="0.9" transform="rotate(76,242.7,823.3)"/></g>
<rect x="179" y="767" width="159.7" height="83.7" filter="url(#fw)" opacity="0.28"/>
</g></g>
<clipPath id="cp3"><rect x="349.9" y="767.4" width="159.1" height="83.3"/></clipPath>
<g clip-path="url(#cp3)"><g filter="url(#fb)">
<rect x="348.90" y="766.40" width="161.10" height="85.30" fill="#ce98ca"/>
<rect x="349.9" y="767.4" width="159.1" height="83.3" filter="url(#fd)" opacity="0.35"/>
<line x1="354.90" y1="847.20" x2="363.90" y2="847.20" stroke="#333" stroke-width="0.6"/>
<g opacity="0.6"><circle cx="356.3" cy="771.1" r="1.6" fill="#9a80c8"/><circle cx="362.8" cy="770.4" r="1.8" fill="#a890d0"/><circle cx="368.5" cy="771.9" r="1.8" fill="#9a80c8"/><circle cx="384.7" cy="772.0" r="1.9" fill="#a890d0"/><circle cx="388.0" cy="770.6" r="1.7" fill="#a890d0"/><circle cx="401.8" cy="769.5" r="1.3" fill="#9a80c8"/><circle cx="405.2" cy="769.6" r="1.9" fill="#a088cc"/><circle cx="408.8" cy="768.8" r="1.4" fill="#a088cc"/><circle cx="415.9" cy="770.9" r="1.9" fill="#9a80c8"/><circle cx="421.3" cy="772.2" r="1.5" fill="#a890d0"/><circle cx="426.8" cy="768.7" r="1.3" fill="#a088cc"/><circle cx="434.0" cy="770.6" r="1.6" fill="#9a80c8"/><circle cx="436.9" cy="772.1" r="1.9" fill="#a088cc"/><circle cx="444.0" cy="770.2" r="1.9" fill="#a890d0"/><circle cx="448.8" cy="772.1" r="1.3" fill="#9a80c8"/><circle cx="451.6" cy="770.1" r="1.2" fill="#a890d0"/><circle cx="473.6" cy="771.1" r="1.5" fill="#a088cc"/><circle cx="480.6" cy="771.6" r="1.7" fill="#a088cc"/><circle cx="486.5" cy="771.6" r="1.5" fill="#a088cc"/><circle cx="500.4" cy="771.7" r="2.0" fill="#a890d0"/><circle cx="503.9" cy="769.0" r="1.3" fill="#a890d0"/><circle cx="380.1" cy="773.9" r="1.8" fill="#a890d0"/><circle cx="389.1" cy="773.6" r="1.5" fill="#a890d0"/><circle cx="393.4" cy="773.3" r="1.8" fill="#a890d0"/><circle cx="402.7" cy="774.2" r="1.2" fill="#a088cc"/><circle cx="410.5" cy="777.3" r="1.2" fill="#9a80c8"/><circle cx="412.1" cy="773.4" r="1.6" fill="#a088cc"/><circle cx="416.6" cy="775.4" r="1.6" fill="#a890d0"/><circle cx="427.5" cy="776.3" r="1.8" fill="#a088cc"/><circle cx="435.0" cy="773.3" r="1.7" fill="#a088cc"/><circle cx="446.1" cy="777.4" r="1.8" fill="#a890d0"/><circle cx="454.6" cy="777.2" r="1.2" fill="#9a80c8"/><circle cx="460.1" cy="774.2" r="1.5" fill="#a088cc"/><circle cx="465.1" cy="773.5" r="1.7" fill="#9a80c8"/><circle cx="472.0" cy="776.4" r="1.6" fill="#a890d0"/><circle cx="475.7" cy="777.5" r="1.1" fill="#a088cc"/><circle cx="484.7" cy="775.5" r="2.0" fill="#a088cc"/><circle cx="489.9" cy="776.3" r="1.2" fill="#a088cc"/><circle cx="492.4" cy="776.8" r="2.0" fill="#a088cc"/><circle cx="496.8" cy="774.3" r="2.0" fill="#a890d0"/><circle cx="505.6" cy="777.0" r="1.7" fill="#9a80c8"/><circle cx="507.1" cy="775.6" r="1.8" fill="#9a80c8"/><circle cx="358.1" cy="779.4" r="1.6" fill="#9a80c8"/><circle cx="364.1" cy="782.9" r="2.0" fill="#9a80c8"/><circle cx="368.0" cy="781.2" r="1.6" fill="#a890d0"/><circle cx="380.5" cy="778.3" r="1.6" fill="#9a80c8"/><circle cx="384.4" cy="782.8" r="1.3" fill="#9a80c8"/><circle cx="395.8" cy="778.6" r="1.8" fill="#a088cc"/><circle cx="399.0" cy="782.8" r="1.1" fill="#a890d0"/><circle cx="404.6" cy="779.8" r="1.8" fill="#a890d0"/><circle cx="408.7" cy="779.1" r="1.3" fill="#a088cc"/><circle cx="415.3" cy="782.3" r="1.2" fill="#a088cc"/><circle cx="428.3" cy="781.6" r="1.9" fill="#9a80c8"/><circle cx="431.7" cy="778.4" r="2.0" fill="#a088cc"/><circle cx="436.6" cy="781.2" r="1.6" fill="#9a80c8"/><circle cx="443.4" cy="778.7" r="1.9" fill="#9a80c8"/><circle cx="446.3" cy="780.0" r="1.4" fill="#a088cc"/><circle cx="453.9" cy="779.1" r="1.9" fill="#9a80c8"/><circle cx="460.8" cy="779.1" r="1.4" fill="#9a80c8"/><circle cx="465.5" cy="780.7" r="1.1" fill="#a890d0"/><circle cx="466.9" cy="778.8" r="1.9" fill="#a890d0"/><circle cx="475.8" cy="782.9" r="1.8" fill="#a088cc"/><circle cx="482.1" cy="782.2" r="1.6" fill="#a088cc"/><circle cx="488.7" cy="780.6" r="1.4" fill="#a088cc"/><circle cx="496.1" cy="779.0" r="1.8" fill="#a088cc"/><circle cx="500.5" cy="781.5" r="1.8" fill="#a890d0"/><circle cx="506.0" cy="780.1" r="1.8" fill="#9a80c8"/><circle cx="356.1" cy="783.8" r="2.0" fill="#a890d0"/><circle cx="360.0" cy="784.1" r="1.4" fill="#a890d0"/><circle cx="364.6" cy="786.6" r="1.7" fill="#9a80c8"/><circle cx="371.1" cy="786.7" r="1.3" fill="#9a80c8"/><circle cx="374.5" cy="785.5" r="1.4" fill="#a890d0"/><circle cx="383.4" cy="786.3" r="1.9" fill="#9a80c8"/><circle cx="389.0" cy="786.9" r="1.7" fill="#9a80c8"/><circle cx="390.0" cy="786.8" r="2.0" fill="#9a80c8"/><circle cx="398.8" cy="787.5" r="1.2" fill="#a088cc"/><circle cx="405.2" cy="788.1" r="1.6" fill="#9a80c8"/><circle cx="409.9" cy="788.3" r="1.4" fill="#a088cc"/><circle cx="413.4" cy="786.3" r="1.9" fill="#9a80c8"/><circle cx="416.6" cy="788.0" r="1.5" fill="#a088cc"/><circle cx="429.0" cy="787.3" r="1.2" fill="#9a80c8"/><circle cx="432.7" cy="784.6" r="1.6" fill="#a088cc"/><circle cx="442.0" cy="784.0" r="1.6" fill="#9a80c8"/><circle cx="446.7" cy="785.0" r="1.5" fill="#a088cc"/><circle cx="450.6" cy="785.5" r="1.3" fill="#a088cc"/><circle cx="453.7" cy="787.0" r="1.2" fill="#a890d0"/><circle cx="462.7" cy="784.7" r="2.0" fill="#a088cc"/><circle cx="467.5" cy="787.0" r="1.3" fill="#9a80c8"/><circle cx="472.4" cy="784.9" r="2.0" fill="#a890d0"/><circle cx="478.7" cy="784.8" r="1.3" fill="#a088cc"/><circle cx="481.9" cy="786.0" r="1.9" fill="#a088cc"/><circle cx="489.8" cy="786.7" r="1.3" fill="#9a80c8"/><circle cx="491.8" cy="787.6" r="2.0" fill="#a088cc"/><circle cx="500.0" cy="788.3" r="1.3" fill="#a890d0"/><circle cx="501.9" cy="787.8" r="1.3" fill="#a890d0"/><circle cx="507.6" cy="785.6" r="1.2" fill="#a088cc"/><circle cx="359.2" cy="792.7" r="1.9" fill="#9a80c8"/><circle cx="364.5" cy="789.9" r="1.4" fill="#a890d0"/><circle cx="368.0" cy="791.5" r="1.5" fill="#a890d0"/><circle cx="379.4" cy="792.9" r="1.3" fill="#a088cc"/><circle cx="383.9" cy="793.2" r="1.8" fill="#a890d0"/><circle cx="388.3" cy="792.2" r="1.4" fill="#9a80c8"/><circle cx="394.5" cy="790.9" r="1.6" fill="#a088cc"/><circle cx="400.3" cy="790.5" r="1.6" fill="#9a80c8"/><circle cx="403.2" cy="790.7" r="1.2" fill="#a890d0"/><circle cx="408.9" cy="792.0" r="2.0" fill="#9a80c8"/><circle cx="418.1" cy="790.6" r="1.6" fill="#9a80c8"/><circle cx="423.8" cy="790.7" r="1.4" fill="#a890d0"/><circle cx="433.2" cy="789.9" r="1.9" fill="#a890d0"/><circle cx="436.4" cy="793.6" r="1.9" fill="#9a80c8"/><circle cx="442.7" cy="791.2" r="1.5" fill="#a088cc"/><circle cx="447.4" cy="790.5" r="1.6" fill="#9a80c8"/><circle cx="452.1" cy="793.6" r="1.9" fill="#a088cc"/><circle cx="459.7" cy="792.9" r="1.8" fill="#a088cc"/><circle cx="465.4" cy="790.3" r="1.5" fill="#a890d0"/><circle cx="471.2" cy="793.0" r="1.5" fill="#a088cc"/><circle cx="475.0" cy="792.7" r="1.8" fill="#a088cc"/><circle cx="478.6" cy="789.3" r="1.4" fill="#a890d0"/><circle cx="488.0" cy="791.5" r="1.6" fill="#a890d0"/><circle cx="502.0" cy="789.7" r="2.0" fill="#a088cc"/><circle cx="507.7" cy="789.9" r="1.6" fill="#a088cc"/><circle cx="372.3" cy="795.3" r="1.6" fill="#a890d0"/><circle cx="380.0" cy="794.3" r="1.5" fill="#9a80c8"/><circle cx="389.3" cy="797.2" r="1.2" fill="#a890d0"/><circle cx="397.5" cy="795.2" r="1.6" fill="#9a80c8"/><circle cx="402.2" cy="796.9" r="1.3" fill="#a088cc"/><circle cx="410.4" cy="795.6" r="1.6" fill="#a890d0"/><circle cx="411.8" cy="795.4" r="2.0" fill="#a890d0"/><circle cx="424.8" cy="796.9" r="1.5" fill="#9a80c8"/><circle cx="428.1" cy="796.0" r="1.9" fill="#a088cc"/><circle cx="436.6" cy="798.8" r="1.5" fill="#9a80c8"/><circle cx="440.3" cy="796.6" r="1.2" fill="#a088cc"/><circle cx="443.2" cy="797.1" r="1.8" fill="#a890d0"/><circle cx="455.0" cy="797.3" r="1.6" fill="#a088cc"/><circle cx="467.6" cy="795.0" r="1.1" fill="#9a80c8"/><circle cx="469.5" cy="794.6" r="1.4" fill="#a890d0"/><circle cx="478.9" cy="797.7" r="1.5" fill="#a088cc"/><circle cx="484.5" cy="798.3" r="1.8" fill="#9a80c8"/><circle cx="488.3" cy="796.2" r="1.7" fill="#a890d0"/><circle cx="496.6" cy="794.7" r="1.6" fill="#a088cc"/><circle cx="503.3" cy="797.0" r="1.1" fill="#a088cc"/><circle cx="352.4" cy="803.5" r="2.0" fill="#a890d0"/><circle cx="356.0" cy="802.9" r="1.7" fill="#9a80c8"/><circle cx="378.3" cy="800.8" r="1.8" fill="#a088cc"/><circle cx="382.3" cy="800.3" r="1.5" fill="#a890d0"/><circle cx="387.9" cy="802.1" r="1.1" fill="#a890d0"/><circle cx="405.8" cy="802.1" r="1.3" fill="#9a80c8"/><circle cx="409.9" cy="803.1" r="1.7" fill="#9a80c8"/><circle cx="415.7" cy="801.8" r="1.9" fill="#a088cc"/><circle cx="421.6" cy="801.8" r="1.8" fill="#a088cc"/><circle cx="425.8" cy="801.1" r="1.6" fill="#a088cc"/><circle cx="430.5" cy="802.8" r="2.0" fill="#9a80c8"/><circle cx="439.5" cy="803.2" r="1.5" fill="#a890d0"/><circle cx="443.6" cy="802.0" r="2.0" fill="#a890d0"/><circle cx="449.6" cy="800.8" r="1.6" fill="#9a80c8"/><circle cx="453.0" cy="801.3" r="1.7" fill="#a088cc"/><circle cx="459.4" cy="799.6" r="1.4" fill="#a088cc"/><circle cx="469.6" cy="803.6" r="1.7" fill="#a088cc"/><circle cx="480.9" cy="802.8" r="2.0" fill="#a088cc"/><circle cx="486.6" cy="800.2" r="1.8" fill="#9a80c8"/><circle cx="492.1" cy="802.3" r="1.1" fill="#a088cc"/><circle cx="498.0" cy="802.8" r="1.1" fill="#a890d0"/><circle cx="501.4" cy="800.3" r="1.3" fill="#a890d0"/><circle cx="505.2" cy="804.1" r="1.2" fill="#9a80c8"/><circle cx="357.5" cy="807.6" r="1.7" fill="#a088cc"/><circle cx="359.9" cy="809.3" r="1.2" fill="#9a80c8"/><circle cx="368.0" cy="808.8" r="1.5" fill="#9a80c8"/><circle cx="372.9" cy="806.2" r="1.6" fill="#9a80c8"/><circle cx="377.1" cy="808.6" r="1.3" fill="#a088cc"/><circle cx="383.3" cy="807.8" r="1.7" fill="#a890d0"/><circle cx="388.8" cy="805.4" r="1.4" fill="#a890d0"/><circle cx="400.8" cy="807.7" r="1.5" fill="#a890d0"/><circle cx="408.4" cy="805.6" r="1.9" fill="#9a80c8"/><circle cx="411.6" cy="806.0" r="1.4" fill="#a088cc"/><circle cx="416.5" cy="806.8" r="2.0" fill="#9a80c8"/><circle cx="422.4" cy="808.0" r="1.8" fill="#9a80c8"/><circle cx="428.3" cy="808.6" r="1.6" fill="#a088cc"/><circle cx="436.1" cy="805.3" r="1.5" fill="#a088cc"/><circle cx="438.7" cy="806.0" r="1.7" fill="#9a80c8"/><circle cx="447.5" cy="807.5" r="1.5" fill="#a088cc"/><circle cx="450.0" cy="807.7" r="1.5" fill="#a088cc"/><circle cx="457.6" cy="804.8" r="1.7" fill="#a088cc"/><circle cx="460.0" cy="805.2" r="1.7" fill="#9a80c8"/><circle cx="468.5" cy="808.0" r="1.4" fill="#a890d0"/><circle cx="473.2" cy="807.8" r="1.2" fill="#a088cc"/><circle cx="482.5" cy="804.8" r="1.7" fill="#9a80c8"/><circle cx="490.0" cy="808.1" r="1.2" fill="#a890d0"/><circle cx="497.7" cy="805.2" r="1.9" fill="#9a80c8"/><circle cx="504.3" cy="807.2" r="1.6" fill="#a088cc"/><circle cx="507.1" cy="808.0" r="1.5" fill="#a890d0"/><circle cx="354.8" cy="810.5" r="2.0" fill="#a088cc"/><circle cx="356.8" cy="812.4" r="1.5" fill="#9a80c8"/><circle cx="364.7" cy="813.3" r="1.6" fill="#a890d0"/><circle cx="366.1" cy="814.5" r="1.2" fill="#a088cc"/><circle cx="373.0" cy="812.0" r="1.3" fill="#a890d0"/><circle cx="389.0" cy="812.9" r="1.6" fill="#a088cc"/><circle cx="392.6" cy="811.2" r="1.2" fill="#9a80c8"/><circle cx="401.6" cy="811.2" r="1.8" fill="#9a80c8"/><circle cx="404.8" cy="811.9" r="1.4" fill="#9a80c8"/><circle cx="417.0" cy="811.6" r="1.2" fill="#a890d0"/><circle cx="427.8" cy="812.3" r="1.8" fill="#a890d0"/><circle cx="434.0" cy="813.3" r="1.1" fill="#a088cc"/><circle cx="436.8" cy="810.1" r="1.5" fill="#9a80c8"/><circle cx="444.8" cy="810.3" r="1.5" fill="#9a80c8"/><circle cx="446.5" cy="812.7" r="1.8" fill="#a088cc"/><circle cx="452.9" cy="810.2" r="1.3" fill="#9a80c8"/><circle cx="460.2" cy="814.7" r="1.5" fill="#a088cc"/><circle cx="463.5" cy="814.3" r="1.9" fill="#a088cc"/><circle cx="467.1" cy="814.1" r="1.6" fill="#a890d0"/><circle cx="473.1" cy="811.2" r="1.3" fill="#9a80c8"/><circle cx="479.2" cy="810.6" r="1.6" fill="#a890d0"/><circle cx="483.0" cy="810.8" r="1.2" fill="#9a80c8"/><circle cx="492.0" cy="810.7" r="1.7" fill="#a088cc"/><circle cx="495.3" cy="810.3" r="1.8" fill="#a088cc"/><circle cx="501.9" cy="814.7" r="1.2" fill="#a890d0"/><circle cx="356.7" cy="817.2" r="1.3" fill="#a890d0"/><circle cx="358.8" cy="818.4" r="1.2" fill="#a890d0"/><circle cx="364.5" cy="820.0" r="1.2" fill="#9a80c8"/><circle cx="371.9" cy="815.9" r="1.8" fill="#a890d0"/><circle cx="382.6" cy="815.5" r="1.1" fill="#a088cc"/><circle cx="385.5" cy="818.9" r="1.8" fill="#9a80c8"/><circle cx="392.2" cy="816.0" r="1.6" fill="#9a80c8"/><circle cx="399.9" cy="819.2" r="1.9" fill="#9a80c8"/><circle cx="403.7" cy="817.5" r="1.4" fill="#9a80c8"/><circle cx="407.7" cy="819.8" r="1.2" fill="#9a80c8"/><circle cx="411.1" cy="815.6" r="1.4" fill="#a890d0"/><circle cx="417.1" cy="817.8" r="1.4" fill="#a890d0"/><circle cx="423.6" cy="819.2" r="1.7" fill="#a088cc"/><circle cx="428.2" cy="815.6" r="1.4" fill="#9a80c8"/><circle cx="433.8" cy="817.5" r="1.6" fill="#a890d0"/><circle cx="439.3" cy="818.6" r="1.7" fill="#a890d0"/><circle cx="444.8" cy="819.9" r="1.9" fill="#a890d0"/><circle cx="457.2" cy="819.5" r="1.8" fill="#a890d0"/><circle cx="462.3" cy="815.6" r="1.3" fill="#a890d0"/><circle cx="467.8" cy="818.4" r="1.5" fill="#a088cc"/><circle cx="475.8" cy="817.5" r="1.4" fill="#a088cc"/><circle cx="481.7" cy="820.0" r="1.6" fill="#9a80c8"/><circle cx="485.9" cy="820.0" r="2.0" fill="#9a80c8"/><circle cx="491.6" cy="819.7" r="1.9" fill="#9a80c8"/><circle cx="497.0" cy="818.3" r="1.1" fill="#a890d0"/><circle cx="502.9" cy="815.6" r="1.8" fill="#a088cc"/><circle cx="351.0" cy="822.2" r="1.6" fill="#a088cc"/><circle cx="359.6" cy="825.2" r="1.4" fill="#9a80c8"/><circle cx="366.7" cy="824.4" r="2.0" fill="#a088cc"/><circle cx="374.8" cy="822.3" r="2.0" fill="#a890d0"/><circle cx="393.4" cy="821.9" r="1.5" fill="#9a80c8"/><circle cx="401.3" cy="820.8" r="1.7" fill="#a890d0"/><circle cx="405.9" cy="821.2" r="1.6" fill="#9a80c8"/><circle cx="408.8" cy="822.0" r="1.6" fill="#9a80c8"/><circle cx="417.6" cy="823.6" r="1.9" fill="#a890d0"/><circle cx="419.9" cy="820.8" r="1.6" fill="#a088cc"/><circle cx="433.7" cy="823.0" r="1.8" fill="#9a80c8"/><circle cx="437.0" cy="822.3" r="1.6" fill="#a890d0"/><circle cx="441.0" cy="823.5" r="1.4" fill="#9a80c8"/><circle cx="448.4" cy="823.0" r="1.4" fill="#9a80c8"/><circle cx="453.7" cy="821.4" r="2.0" fill="#a890d0"/><circle cx="457.7" cy="822.8" r="1.2" fill="#a088cc"/><circle cx="462.7" cy="825.1" r="1.7" fill="#9a80c8"/><circle cx="467.6" cy="821.9" r="1.6" fill="#a890d0"/><circle cx="472.7" cy="822.9" r="1.7" fill="#9a80c8"/><circle cx="480.0" cy="821.6" r="1.4" fill="#a088cc"/><circle cx="486.3" cy="823.4" r="1.5" fill="#a890d0"/><circle cx="492.4" cy="825.4" r="1.4" fill="#9a80c8"/><circle cx="496.4" cy="824.0" r="1.3" fill="#a088cc"/><circle cx="499.8" cy="820.7" r="1.9" fill="#a890d0"/><circle cx="356.1" cy="830.5" r="1.2" fill="#9a80c8"/><circle cx="362.0" cy="830.6" r="1.7" fill="#a088cc"/><circle cx="367.0" cy="827.3" r="2.0" fill="#9a80c8"/><circle cx="371.7" cy="830.3" r="1.4" fill="#a088cc"/><circle cx="378.3" cy="826.4" r="1.4" fill="#9a80c8"/><circle cx="381.0" cy="827.7" r="1.5" fill="#9a80c8"/><circle cx="392.9" cy="828.3" r="2.0" fill="#a890d0"/><circle cx="411.7" cy="828.7" r="1.4" fill="#a890d0"/><circle cx="418.6" cy="828.0" r="1.8" fill="#a088cc"/><circle cx="422.6" cy="826.4" r="1.7" fill="#a890d0"/><circle cx="427.6" cy="829.5" r="1.3" fill="#9a80c8"/><circle cx="436.8" cy="827.5" r="1.7" fill="#9a80c8"/><circle cx="439.7" cy="829.1" r="2.0" fill="#a890d0"/><circle cx="446.6" cy="830.3" r="1.4" fill="#a890d0"/><circle cx="454.7" cy="826.3" r="1.2" fill="#a890d0"/><circle cx="459.8" cy="829.7" r="1.6" fill="#9a80c8"/><circle cx="468.4" cy="829.2" r="1.4" fill="#9a80c8"/><circle cx="470.1" cy="827.9" r="1.3" fill="#a088cc"/><circle cx="477.2" cy="829.9" r="1.9" fill="#a890d0"/><circle cx="482.3" cy="829.2" r="2.0" fill="#a890d0"/><circle cx="486.4" cy="829.4" r="1.6" fill="#a890d0"/><circle cx="494.6" cy="826.1" r="1.4" fill="#9a80c8"/><circle cx="496.4" cy="826.0" r="2.0" fill="#a088cc"/><circle cx="504.7" cy="826.0" r="1.8" fill="#9a80c8"/><circle cx="507.4" cy="826.2" r="1.1" fill="#a088cc"/><circle cx="352.6" cy="833.2" r="1.9" fill="#a088cc"/><circle cx="364.3" cy="833.4" r="1.3" fill="#9a80c8"/><circle cx="369.5" cy="831.5" r="1.3" fill="#9a80c8"/><circle cx="379.1" cy="832.8" r="1.9" fill="#a088cc"/><circle cx="384.6" cy="835.0" r="1.6" fill="#a890d0"/><circle cx="390.5" cy="832.6" r="1.6" fill="#a088cc"/><circle cx="395.2" cy="833.0" r="1.9" fill="#a088cc"/><circle cx="401.0" cy="832.4" r="1.2" fill="#a890d0"/><circle cx="409.0" cy="835.4" r="1.8" fill="#a088cc"/><circle cx="417.9" cy="831.6" r="1.9" fill="#9a80c8"/><circle cx="427.1" cy="831.4" r="1.3" fill="#9a80c8"/><circle cx="433.7" cy="835.4" r="1.2" fill="#a088cc"/><circle cx="440.7" cy="834.0" r="1.4" fill="#9a80c8"/><circle cx="447.6" cy="833.1" r="1.6" fill="#a088cc"/><circle cx="453.0" cy="835.3" r="1.7" fill="#a088cc"/><circle cx="462.7" cy="831.5" r="1.7" fill="#a890d0"/><circle cx="467.9" cy="832.0" r="1.1" fill="#a890d0"/><circle cx="472.3" cy="833.9" r="2.0" fill="#a088cc"/><circle cx="484.7" cy="833.9" r="1.2" fill="#9a80c8"/><circle cx="491.6" cy="831.7" r="1.1" fill="#a088cc"/><circle cx="493.3" cy="831.8" r="1.6" fill="#a890d0"/><circle cx="502.1" cy="834.7" r="1.6" fill="#a890d0"/><circle cx="353.8" cy="840.8" r="1.1" fill="#a088cc"/><circle cx="361.9" cy="837.7" r="1.3" fill="#9a80c8"/><circle cx="363.6" cy="837.2" r="1.3" fill="#a088cc"/><circle cx="370.8" cy="839.3" r="2.0" fill="#a088cc"/><circle cx="386.4" cy="838.8" r="1.1" fill="#a088cc"/><circle cx="396.9" cy="836.6" r="2.0" fill="#9a80c8"/><circle cx="401.2" cy="837.2" r="1.6" fill="#a890d0"/><circle cx="407.4" cy="838.4" r="2.0" fill="#a890d0"/><circle cx="414.2" cy="840.1" r="1.5" fill="#9a80c8"/><circle cx="425.0" cy="837.7" r="1.6" fill="#9a80c8"/><circle cx="431.1" cy="840.8" r="1.5" fill="#9a80c8"/><circle cx="442.0" cy="839.1" r="2.0" fill="#a088cc"/><circle cx="448.5" cy="838.3" r="1.7" fill="#a088cc"/><circle cx="454.1" cy="838.5" r="1.2" fill="#9a80c8"/><circle cx="461.8" cy="837.4" r="1.6" fill="#a890d0"/><circle cx="468.8" cy="838.1" r="1.9" fill="#9a80c8"/><circle cx="473.0" cy="837.1" r="1.3" fill="#a890d0"/><circle cx="477.8" cy="837.8" r="1.6" fill="#a088cc"/><circle cx="484.4" cy="839.3" r="1.7" fill="#a890d0"/><circle cx="487.9" cy="837.5" r="1.4" fill="#9a80c8"/><circle cx="492.0" cy="836.6" r="1.7" fill="#a088cc"/><circle cx="498.8" cy="837.7" r="1.4" fill="#9a80c8"/><circle cx="505.3" cy="840.4" r="1.9" fill="#a088cc"/><circle cx="358.0" cy="844.6" r="1.4" fill="#9a80c8"/><circle cx="362.9" cy="844.4" r="1.8" fill="#9a80c8"/><circle cx="368.6" cy="844.3" r="1.9" fill="#9a80c8"/><circle cx="373.9" cy="845.0" r="1.6" fill="#9a80c8"/><circle cx="378.6" cy="843.3" r="1.7" fill="#a890d0"/><circle cx="386.7" cy="846.5" r="1.8" fill="#9a80c8"/><circle cx="388.9" cy="842.6" r="1.6" fill="#a088cc"/><circle cx="394.4" cy="843.9" r="1.7" fill="#9a80c8"/><circle cx="401.5" cy="845.0" r="1.7" fill="#a890d0"/><circle cx="406.9" cy="842.7" r="1.4" fill="#a890d0"/><circle cx="411.0" cy="843.5" r="1.4" fill="#a890d0"/><circle cx="415.0" cy="841.9" r="1.2" fill="#a088cc"/><circle cx="421.6" cy="845.4" r="1.5" fill="#9a80c8"/><circle cx="424.4" cy="842.7" r="1.7" fill="#a890d0"/><circle cx="433.6" cy="842.2" r="1.6" fill="#a088cc"/><circle cx="436.1" cy="845.1" r="1.8" fill="#a890d0"/><circle cx="447.2" cy="842.9" r="1.4" fill="#9a80c8"/><circle cx="455.4" cy="845.4" r="1.1" fill="#a088cc"/><circle cx="460.4" cy="844.2" r="1.7" fill="#a088cc"/><circle cx="464.6" cy="845.5" r="1.8" fill="#a088cc"/><circle cx="467.7" cy="846.1" r="1.5" fill="#9a80c8"/><circle cx="476.5" cy="844.4" r="1.5" fill="#a890d0"/><circle cx="479.7" cy="846.4" r="1.6" fill="#a088cc"/><circle cx="489.2" cy="842.9" r="1.9" fill="#a890d0"/><circle cx="494.9" cy="843.4" r="1.4" fill="#a088cc"/><circle cx="504.9" cy="845.2" r="1.9" fill="#9a80c8"/><circle cx="359.1" cy="849.1" r="1.1" fill="#a088cc"/><circle cx="368.1" cy="848.3" r="1.5" fill="#a088cc"/><circle cx="373.3" cy="849.7" r="1.5" fill="#a890d0"/><circle cx="387.6" cy="849.2" r="1.4" fill="#9a80c8"/><circle cx="408.8" cy="848.4" r="1.9" fill="#9a80c8"/><circle cx="450.9" cy="849.7" r="1.7" fill="#9a80c8"/><circle cx="462.5" cy="847.3" r="1.4" fill="#a088cc"/><circle cx="466.2" cy="848.5" r="1.2" fill="#a088cc"/><circle cx="470.1" cy="848.8" r="1.4" fill="#a890d0"/><circle cx="474.7" cy="847.9" r="1.6" fill="#a088cc"/><circle cx="484.4" cy="847.8" r="1.2" fill="#9a80c8"/><circle cx="487.7" cy="847.9" r="1.5" fill="#a890d0"/><circle cx="499.4" cy="847.7" r="1.8" fill="#a088cc"/><circle cx="502.5" cy="848.2" r="1.7" fill="#a088cc"/></g>
<g opacity="0.7"><circle cx="353.5" cy="769.0" r="0.8" fill="#4a3c96"/><circle cx="366.7" cy="772.9" r="0.5" fill="#5a4aa0"/><circle cx="375.3" cy="769.8" r="0.8" fill="#4a3c96"/><circle cx="392.4" cy="770.5" r="0.6" fill="#4a3c96"/><circle cx="400.9" cy="771.4" r="0.7" fill="#4a3c96"/><circle cx="420.3" cy="771.0" r="0.5" fill="#5a4aa0"/><circle cx="429.3" cy="769.6" r="0.7" fill="#4a3c96"/><circle cx="436.6" cy="775.6" r="0.5" fill="#4a3c96"/><circle cx="445.6" cy="770.4" r="0.8" fill="#4a3c96"/><circle cx="456.5" cy="773.2" r="0.7" fill="#5a4aa0"/><circle cx="460.2" cy="773.5" r="0.6" fill="#5a4aa0"/><circle cx="469.9" cy="768.7" r="0.7" fill="#4a3c96"/><circle cx="483.5" cy="773.8" r="0.6" fill="#4a3c96"/><circle cx="490.4" cy="773.1" r="0.5" fill="#5a4aa0"/><circle cx="496.2" cy="771.5" r="0.6" fill="#5a4aa0"/><circle cx="503.4" cy="772.9" r="0.6" fill="#5a4aa0"/><circle cx="367.9" cy="779.0" r="0.8" fill="#4a3c96"/><circle cx="373.5" cy="779.1" r="0.6" fill="#4a3c96"/><circle cx="388.5" cy="777.0" r="0.6" fill="#5a4aa0"/><circle cx="392.2" cy="781.0" r="0.6" fill="#5a4aa0"/><circle cx="403.5" cy="780.7" r="0.5" fill="#4a3c96"/><circle cx="409.5" cy="780.4" r="0.7" fill="#5a4aa0"/><circle cx="419.3" cy="777.6" r="0.8" fill="#4a3c96"/><circle cx="428.4" cy="782.3" r="0.7" fill="#4a3c96"/><circle cx="437.3" cy="778.9" r="0.7" fill="#4a3c96"/><circle cx="455.0" cy="780.2" r="0.8" fill="#5a4aa0"/><circle cx="466.5" cy="778.6" r="0.7" fill="#5a4aa0"/><circle cx="484.8" cy="783.4" r="0.7" fill="#5a4aa0"/><circle cx="497.8" cy="780.8" r="0.8" fill="#5a4aa0"/><circle cx="502.2" cy="783.1" r="0.6" fill="#4a3c96"/><circle cx="355.8" cy="789.3" r="0.7" fill="#4a3c96"/><circle cx="360.6" cy="788.4" r="0.6" fill="#4a3c96"/><circle cx="373.9" cy="791.5" r="0.7" fill="#5a4aa0"/><circle cx="394.4" cy="793.5" r="0.6" fill="#4a3c96"/><circle cx="398.2" cy="789.0" r="0.8" fill="#5a4aa0"/><circle cx="404.6" cy="789.6" r="0.6" fill="#4a3c96"/><circle cx="419.9" cy="793.0" r="0.6" fill="#4a3c96"/><circle cx="428.5" cy="789.7" r="0.6" fill="#4a3c96"/><circle cx="435.1" cy="787.8" r="0.7" fill="#5a4aa0"/><circle cx="448.4" cy="793.7" r="0.5" fill="#4a3c96"/><circle cx="453.1" cy="787.7" r="0.6" fill="#5a4aa0"/><circle cx="460.1" cy="786.8" r="0.7" fill="#4a3c96"/><circle cx="474.5" cy="793.9" r="0.6" fill="#5a4aa0"/><circle cx="482.4" cy="787.5" r="0.7" fill="#4a3c96"/><circle cx="486.5" cy="787.5" r="0.8" fill="#4a3c96"/><circle cx="499.5" cy="786.5" r="0.8" fill="#5a4aa0"/><circle cx="354.9" cy="796.7" r="0.6" fill="#4a3c96"/><circle cx="365.2" cy="801.7" r="0.7" fill="#5a4aa0"/><circle cx="380.3" cy="802.0" r="0.7" fill="#5a4aa0"/><circle cx="388.1" cy="802.1" r="0.7" fill="#5a4aa0"/><circle cx="393.7" cy="795.6" r="0.5" fill="#4a3c96"/><circle cx="401.8" cy="796.7" r="0.6" fill="#4a3c96"/><circle cx="412.5" cy="796.7" r="0.6" fill="#5a4aa0"/><circle cx="427.1" cy="801.0" r="0.7" fill="#4a3c96"/><circle cx="439.9" cy="799.0" r="0.8" fill="#5a4aa0"/><circle cx="459.6" cy="802.1" r="0.8" fill="#4a3c96"/><circle cx="470.6" cy="800.2" r="0.7" fill="#4a3c96"/><circle cx="488.8" cy="797.3" r="0.6" fill="#4a3c96"/><circle cx="490.9" cy="802.6" r="0.6" fill="#4a3c96"/><circle cx="504.4" cy="800.2" r="0.7" fill="#4a3c96"/><circle cx="356.6" cy="805.8" r="0.6" fill="#5a4aa0"/><circle cx="365.7" cy="811.1" r="0.6" fill="#4a3c96"/><circle cx="374.8" cy="807.3" r="0.8" fill="#5a4aa0"/><circle cx="385.0" cy="811.2" r="0.7" fill="#4a3c96"/><circle cx="388.0" cy="808.2" r="0.7" fill="#5a4aa0"/><circle cx="398.1" cy="804.3" r="0.7" fill="#5a4aa0"/><circle cx="406.7" cy="806.2" r="0.6" fill="#5a4aa0"/><circle cx="418.5" cy="805.5" r="0.5" fill="#4a3c96"/><circle cx="442.5" cy="806.6" r="0.7" fill="#4a3c96"/><circle cx="462.9" cy="809.7" r="0.6" fill="#5a4aa0"/><circle cx="468.3" cy="809.0" r="0.6" fill="#4a3c96"/><circle cx="476.9" cy="810.2" r="0.8" fill="#5a4aa0"/><circle cx="359.6" cy="814.7" r="0.8" fill="#4a3c96"/><circle cx="369.9" cy="820.9" r="0.6" fill="#5a4aa0"/><circle cx="374.6" cy="819.6" r="0.6" fill="#4a3c96"/><circle cx="383.3" cy="814.9" r="0.5" fill="#4a3c96"/><circle cx="393.4" cy="814.8" r="0.6" fill="#4a3c96"/><circle cx="407.6" cy="814.6" r="0.6" fill="#4a3c96"/><circle cx="411.9" cy="817.2" r="0.8" fill="#4a3c96"/><circle cx="420.5" cy="819.0" r="0.6" fill="#5a4aa0"/><circle cx="431.9" cy="816.9" r="0.6" fill="#5a4aa0"/><circle cx="452.0" cy="816.1" r="0.8" fill="#5a4aa0"/><circle cx="459.7" cy="820.2" r="0.7" fill="#4a3c96"/><circle cx="468.9" cy="818.9" r="0.6" fill="#5a4aa0"/><circle cx="484.9" cy="817.1" r="0.7" fill="#5a4aa0"/><circle cx="493.2" cy="813.7" r="0.8" fill="#5a4aa0"/><circle cx="504.5" cy="813.3" r="0.8" fill="#4a3c96"/><circle cx="507.9" cy="820.8" r="0.6" fill="#5a4aa0"/><circle cx="355.6" cy="821.9" r="0.8" fill="#5a4aa0"/><circle cx="366.9" cy="824.5" r="0.5" fill="#4a3c96"/><circle cx="371.1" cy="827.5" r="0.6" fill="#4a3c96"/><circle cx="385.0" cy="827.1" r="0.8" fill="#5a4aa0"/><circle cx="387.0" cy="822.4" r="0.7" fill="#5a4aa0"/><circle cx="400.9" cy="822.6" r="0.6" fill="#4a3c96"/><circle cx="411.5" cy="822.9" r="0.6" fill="#5a4aa0"/><circle cx="438.8" cy="822.3" r="0.5" fill="#4a3c96"/><circle cx="452.6" cy="829.4" r="0.7" fill="#5a4aa0"/><circle cx="460.8" cy="825.5" r="0.8" fill="#5a4aa0"/><circle cx="471.4" cy="825.9" r="0.5" fill="#4a3c96"/><circle cx="479.5" cy="823.4" r="0.6" fill="#4a3c96"/><circle cx="486.3" cy="828.2" r="0.5" fill="#5a4aa0"/><circle cx="355.3" cy="837.2" r="0.6" fill="#4a3c96"/><circle cx="367.7" cy="833.9" r="0.5" fill="#5a4aa0"/><circle cx="374.1" cy="833.0" r="0.8" fill="#5a4aa0"/><circle cx="389.8" cy="832.8" r="0.6" fill="#5a4aa0"/><circle cx="394.0" cy="833.3" r="0.6" fill="#4a3c96"/><circle cx="425.1" cy="836.9" r="0.5" fill="#5a4aa0"/><circle cx="434.6" cy="834.5" r="0.6" fill="#5a4aa0"/><circle cx="438.3" cy="837.2" r="0.6" fill="#4a3c96"/><circle cx="450.7" cy="836.5" r="0.5" fill="#4a3c96"/><circle cx="456.5" cy="834.1" r="0.6" fill="#4a3c96"/><circle cx="466.2" cy="838.8" r="0.7" fill="#5a4aa0"/><circle cx="478.3" cy="838.5" r="0.7" fill="#5a4aa0"/><circle cx="499.2" cy="838.9" r="0.7" fill="#5a4aa0"/><circle cx="355.9" cy="844.5" r="0.7" fill="#4a3c96"/><circle cx="360.6" cy="842.4" r="0.8" fill="#5a4aa0"/><circle cx="370.8" cy="845.9" r="0.5" fill="#4a3c96"/><circle cx="380.2" cy="841.1" r="0.7" fill="#5a4aa0"/><circle cx="393.7" cy="847.5" r="0.7" fill="#4a3c96"/><circle cx="403.0" cy="840.4" r="0.7" fill="#5a4aa0"/><circle cx="412.3" cy="845.6" r="0.7" fill="#5a4aa0"/><circle cx="417.4" cy="847.4" r="0.7" fill="#4a3c96"/><circle cx="428.1" cy="847.0" r="0.5" fill="#5a4aa0"/><circle cx="433.1" cy="843.6" r="0.8" fill="#5a4aa0"/><circle cx="449.4" cy="847.1" r="0.6" fill="#4a3c96"/><circle cx="471.5" cy="845.0" r="0.7" fill="#4a3c96"/><circle cx="484.1" cy="846.0" r="0.7" fill="#4a3c96"/><circle cx="488.9" cy="847.5" r="0.7" fill="#5a4aa0"/><circle cx="498.9" cy="847.2" r="0.6" fill="#4a3c96"/><circle cx="463.2" cy="848.9" r="0.7" fill="#5a4aa0"/></g>
<g fill="#fff" opacity="0.6"><rect x="505.7" y="805.4" width="1" height="1"/><rect x="466.8" y="785.3" width="1.9" height="0.9" transform="rotate(108,466.8,785.3)"/><rect x="410.7" y="841.5" width="1" height="1"/><rect x="368.8" y="774.3" width="1.6" height="0.9" transform="rotate(149,368.8,774.3)"/><rect x="385.7" y="776.3" width="2.1" height="0.9" transform="rotate(94,385.7,776.3)"/><rect x="415.0" y="828.5" width="1" height="1"/><rect x="415.9" y="832.9" width="1" height="1"/><rect x="481.5" y="788.1" width="4.3" height="0.9" transform="rotate(104,481.5,788.1)"/><rect x="448.3" y="806.9" width="2.1" height="0.9" transform="rotate(51,448.3,806.9)"/><rect x="506.8" y="841.3" width="1" height="1"/><rect x="434.0" y="826.4" width="1.9" height="0.9" transform="rotate(87,434.0,826.4)"/><rect x="416.7" y="788.5" width="1.8" height="0.9" transform="rotate(165,416.7,788.5)"/><rect x="479.2" y="825.7" width="4.5" height="0.9" transform="rotate(87,479.2,825.7)"/><rect x="506.9" y="814.3" width="1" height="1"/><rect x="462.7" y="791.7" width="1" height="1"/><rect x="444.9" y="800.2" width="1" height="1"/><rect x="420.6" y="829.8" width="1.6" height="0.9" transform="rotate(80,420.6,829.8)"/><rect x="452.8" y="840.1" width="1" height="1"/><rect x="439.9" y="819.3" width="3.2" height="0.9" transform="rotate(70,439.9,819.3)"/><rect x="452.7" y="799.1" width="3.2" height="0.9" transform="rotate(60,452.7,799.1)"/><rect x="457.4" y="794.7" width="1" height="1"/><rect x="485.0" y="812.1" width="1" height="1"/><rect x="399.1" y="844.0" width="4.0" height="0.9" transform="rotate(65,399.1,844.0)"/><rect x="355.1" y="818.6" width="1" height="1"/><rect x="500.1" y="824.2" width="3.4" height="0.9" transform="rotate(60,500.1,824.2)"/><rect x="360.5" y="769.7" width="1" height="1"/><rect x="449.6" y="781.0" width="4.1" height="0.9" transform="rotate(52,449.6,781.0)"/><rect x="395.4" y="827.7" width="1" height="1"/><rect x="400.6" y="788.4" width="1" height="1"/><rect x="413.5" y="816.9" width="2.8" height="0.9" transform="rotate(143,413.5,816.9)"/><rect x="371.6" y="831.9" width="1" height="1"/><rect x="458.3" y="812.9" width="1" height="1"/><rect x="498.5" y="768.2" width="2.5" height="0.9" transform="rotate(3,498.5,768.2)"/><rect x="388.4" y="805.8" width="1" height="1"/><rect x="486.9" y="789.1" width="3.8" height="0.9" transform="rotate(180,486.9,789.1)"/><rect x="437.5" y="776.8" width="3.1" height="0.9" transform="rotate(168,437.5,776.8)"/><rect x="486.7" y="832.7" width="1" height="1"/><rect x="478.0" y="788.5" width="3.8" height="0.9" transform="rotate(78,478.0,788.5)"/><rect x="476.3" y="830.5" width="1" height="1"/><rect x="425.7" y="783.6" width="1" height="1"/><rect x="453.9" y="810.3" width="1" height="1"/><rect x="505.7" y="846.0" width="3.3" height="0.9" transform="rotate(52,505.7,846.0)"/><rect x="459.6" y="791.1" width="1" height="1"/><rect x="423.2" y="831.1" width="1.6" height="0.9" transform="rotate(50,423.2,831.1)"/><rect x="475.8" y="810.9" width="1" height="1"/><rect x="446.4" y="794.5" width="2.1" height="0.9" transform="rotate(68,446.4,794.5)"/><rect x="367.1" y="821.5" width="3.6" height="0.9" transform="rotate(82,367.1,821.5)"/><rect x="393.5" y="804.0" width="3.5" height="0.9" transform="rotate(58,393.5,804.0)"/><rect x="365.6" y="800.7" width="2.4" height="0.9" transform="rotate(121,365.6,800.7)"/><rect x="503.4" y="807.6" width="1" height="1"/><rect x="433.2" y="835.7" width="1" height="1"/><rect x="451.9" y="770.1" width="2.7" height="0.9" transform="rotate(135,451.9,770.1)"/><rect x="505.1" y="820.4" width="1" height="1"/><rect x="468.5" y="847.6" width="1" height="1"/><rect x="499.1" y="802.9" width="2.3" height="0.9" transform="rotate(20,499.1,802.9)"/><rect x="492.2" y="822.2" width="2.9" height="0.9" transform="rotate(5,492.2,822.2)"/><rect x="436.5" y="797.5" width="4.1" height="0.9" transform="rotate(47,436.5,797.5)"/><rect x="465.3" y="835.6" width="2.1" height="0.9" transform="rotate(120,465.3,835.6)"/><rect x="397.9" y="847.1" width="2.2" height="0.9" transform="rotate(53,397.9,847.1)"/><rect x="488.0" y="824.7" width="1" height="1"/><rect x="485.3" y="806.0" width="1" height="1"/><rect x="473.5" y="792.3" width="2.8" height="0.9" transform="rotate(97,473.5,792.3)"/><rect x="475.6" y="821.7" width="1" height="1"/><rect x="445.9" y="789.4" width="1" height="1"/><rect x="506.1" y="820.5" width="1" height="1"/><rect x="387.0" y="777.2" width="3.7" height="0.9" transform="rotate(107,387.0,777.2)"/><rect x="425.3" y="812.7" width="1.9" height="0.9" transform="rotate(9,425.3,812.7)"/><rect x="400.6" y="787.7" width="2.5" height="0.9" transform="rotate(61,400.6,787.7)"/><rect x="481.0" y="845.3" width="1" height="1"/><rect x="467.2" y="768.3" width="3.6" height="0.9" transform="rotate(180,467.2,768.3)"/><rect x="486.4" y="784.0" width="3.1" height="0.9" transform="rotate(18,486.4,784.0)"/><rect x="408.1" y="806.6" width="2.7" height="0.9" transform="rotate(5,408.1,806.6)"/><rect x="497.3" y="821.8" width="1" height="1"/><rect x="359.9" y="803.5" width="2.7" height="0.9" transform="rotate(114,359.9,803.5)"/><rect x="477.4" y="790.3" width="1" height="1"/><rect x="350.7" y="779.6" width="1" height="1"/><rect x="485.7" y="792.7" width="3.3" height="0.9" transform="rotate(173,485.7,792.7)"/><rect x="364.1" y="849.8" width="1" height="1"/><rect x="397.5" y="809.5" width="2.7" height="0.9" transform="rotate(104,397.5,809.5)"/><rect x="409.7" y="828.4" width="3.7" height="0.9" transform="rotate(149,409.7,828.4)"/><rect x="500.0" y="780.2" width="1" height="1"/><rect x="463.4" y="782.6" width="1" height="1"/><rect x="429.8" y="782.2" width="3.9" height="0.9" transform="rotate(180,429.8,782.2)"/><rect x="387.1" y="841.7" width="3.4" height="0.9" transform="rotate(125,387.1,841.7)"/><rect x="488.2" y="843.0" width="1" height="1"/><rect x="484.1" y="806.0" width="1" height="1"/><rect x="418.3" y="828.0" width="1" height="1"/><rect x="414.2" y="835.7" width="1" height="1"/><rect x="375.2" y="816.3" width="1.6" height="0.9" transform="rotate(107,375.2,816.3)"/><rect x="461.5" y="800.5" width="1" height="1"/><rect x="388.3" y="769.1" width="3.8" height="0.9" transform="rotate(115,388.3,769.1)"/><rect x="435.9" y="840.7" width="2.7" height="0.9" transform="rotate(22,435.9,840.7)"/><rect x="454.5" y="831.2" width="2.5" height="0.9" transform="rotate(108,454.5,831.2)"/><rect x="433.9" y="775.6" width="2.5" height="0.9" transform="rotate(115,433.9,775.6)"/><rect x="505.2" y="809.6" width="3.1" height="0.9" transform="rotate(34,505.2,809.6)"/><rect x="431.2" y="788.7" width="1" height="1"/><rect x="430.8" y="831.8" width="1" height="1"/><rect x="482.3" y="776.0" width="1" height="1"/><rect x="445.0" y="781.1" width="1" height="1"/><rect x="359.0" y="802.6" width="2.9" height="0.9" transform="rotate(9,359.0,802.6)"/><rect x="483.4" y="830.6" width="1" height="1"/><rect x="473.8" y="818.9" width="1" height="1"/><rect x="502.4" y="778.2" width="1" height="1"/><rect x="436.6" y="768.6" width="1" height="1"/><rect x="458.1" y="795.7" width="1" height="1"/><rect x="425.7" y="827.9" width="1" height="1"/><rect x="486.7" y="809.5" width="2.2" height="0.9" transform="rotate(137,486.7,809.5)"/><rect x="440.9" y="845.1" width="1" height="1"/><rect x="360.9" y="837.3" width="1" height="1"/><rect x="423.8" y="788.6" width="1.6" height="0.9" transform="rotate(96,423.8,788.6)"/><rect x="484.7" y="820.9" width="2.0" height="0.9" transform="rotate(147,484.7,820.9)"/><rect x="491.5" y="839.0" width="2.8" height="0.9" transform="rotate(20,491.5,839.0)"/><rect x="366.7" y="813.1" width="2.7" height="0.9" transform="rotate(94,366.7,813.1)"/><rect x="401.3" y="815.9" width="1" height="1"/><rect x="490.3" y="804.6" width="1" height="1"/><rect x="465.6" y="781.1" width="1" height="1"/><rect x="378.6" y="808.7" width="1" height="1"/><rect x="494.1" y="847.6" width="2.6" height="0.9" transform="rotate(154,494.1,847.6)"/><rect x="389.7" y="817.1" width="4.2" height="0.9" transform="rotate(170,389.7,817.1)"/><rect x="355.0" y="849.4" width="1" height="1"/></g>
<rect x="349.9" y="767.4" width="159.1" height="83.3" filter="url(#fw)" opacity="0.28"/>
</g></g>
<clipPath id="cp4"><rect x="522.1" y="767.1" width="159.4" height="83.8"/></clipPath>
<g clip-path="url(#cp4)"><g filter="url(#fb)">
<rect x="521.10" y="766.10" width="161.40" height="85.80" fill="#cb94c7"/>
<rect x="522.1" y="767.1" width="159.4" height="83.8" filter="url(#fd)" opacity="0.4"/>
<line x1="527.10" y1="847.40" x2="536.10" y2="847.40" stroke="#333" stroke-width="0.6"/>
<g opacity="0.6"><circle cx="524.5" cy="770.8" r="1.8" fill="#9c80c8"/><circle cx="532.0" cy="770.9" r="1.7" fill="#9078c4"/><circle cx="555.0" cy="769.3" r="1.8" fill="#a488cc"/><circle cx="560.5" cy="770.5" r="1.8" fill="#a488cc"/><circle cx="566.5" cy="770.1" r="2.0" fill="#a488cc"/><circle cx="574.0" cy="770.8" r="1.9" fill="#a488cc"/><circle cx="579.6" cy="769.9" r="1.7" fill="#9078c4"/><circle cx="586.6" cy="769.8" r="1.9" fill="#9078c4"/><circle cx="591.7" cy="771.2" r="1.7" fill="#9c80c8"/><circle cx="607.3" cy="769.6" r="1.7" fill="#9078c4"/><circle cx="614.6" cy="770.9" r="1.2" fill="#9078c4"/><circle cx="619.3" cy="768.8" r="1.1" fill="#9c80c8"/><circle cx="626.0" cy="768.5" r="1.4" fill="#a488cc"/><circle cx="633.8" cy="769.5" r="1.2" fill="#9c80c8"/><circle cx="640.5" cy="770.6" r="1.9" fill="#a488cc"/><circle cx="651.5" cy="768.2" r="1.3" fill="#a488cc"/><circle cx="655.0" cy="770.3" r="1.9" fill="#a488cc"/><circle cx="661.8" cy="769.0" r="1.7" fill="#9c80c8"/><circle cx="668.4" cy="769.2" r="1.8" fill="#9078c4"/><circle cx="672.1" cy="771.5" r="1.4" fill="#a488cc"/><circle cx="678.6" cy="769.3" r="1.3" fill="#9c80c8"/><circle cx="527.0" cy="773.3" r="1.8" fill="#a488cc"/><circle cx="533.5" cy="776.3" r="1.6" fill="#9c80c8"/><circle cx="535.7" cy="774.3" r="1.3" fill="#9078c4"/><circle cx="542.7" cy="773.2" r="1.7" fill="#a488cc"/><circle cx="549.9" cy="775.3" r="1.2" fill="#9c80c8"/><circle cx="565.9" cy="772.9" r="1.9" fill="#a488cc"/><circle cx="568.6" cy="774.7" r="1.8" fill="#9078c4"/><circle cx="575.5" cy="774.9" r="1.3" fill="#a488cc"/><circle cx="580.8" cy="774.9" r="1.6" fill="#9c80c8"/><circle cx="583.8" cy="774.0" r="1.7" fill="#a488cc"/><circle cx="589.0" cy="774.9" r="1.5" fill="#a488cc"/><circle cx="599.3" cy="776.4" r="1.6" fill="#9c80c8"/><circle cx="606.1" cy="774.4" r="1.4" fill="#9c80c8"/><circle cx="624.1" cy="776.6" r="1.9" fill="#9c80c8"/><circle cx="627.3" cy="774.2" r="1.7" fill="#9c80c8"/><circle cx="635.2" cy="774.1" r="2.0" fill="#9c80c8"/><circle cx="638.6" cy="775.8" r="1.6" fill="#9078c4"/><circle cx="644.7" cy="772.8" r="1.2" fill="#9c80c8"/><circle cx="651.6" cy="775.7" r="1.8" fill="#a488cc"/><circle cx="655.3" cy="774.3" r="2.0" fill="#9c80c8"/><circle cx="658.0" cy="773.9" r="1.9" fill="#a488cc"/><circle cx="666.0" cy="776.7" r="2.0" fill="#9c80c8"/><circle cx="668.2" cy="773.9" r="1.9" fill="#a488cc"/><circle cx="680.4" cy="773.4" r="1.5" fill="#9078c4"/><circle cx="526.5" cy="781.2" r="1.6" fill="#9078c4"/><circle cx="528.1" cy="778.8" r="1.5" fill="#9078c4"/><circle cx="535.1" cy="781.7" r="1.7" fill="#a488cc"/><circle cx="542.0" cy="781.6" r="1.7" fill="#a488cc"/><circle cx="551.7" cy="781.0" r="1.7" fill="#a488cc"/><circle cx="556.9" cy="779.5" r="1.3" fill="#a488cc"/><circle cx="565.9" cy="778.6" r="1.4" fill="#9078c4"/><circle cx="574.2" cy="782.4" r="1.9" fill="#9078c4"/><circle cx="585.4" cy="781.3" r="1.9" fill="#9c80c8"/><circle cx="586.5" cy="781.3" r="1.5" fill="#a488cc"/><circle cx="591.9" cy="778.1" r="1.4" fill="#9078c4"/><circle cx="599.3" cy="778.3" r="1.5" fill="#9078c4"/><circle cx="608.0" cy="780.1" r="1.3" fill="#a488cc"/><circle cx="627.1" cy="779.4" r="1.3" fill="#a488cc"/><circle cx="628.8" cy="782.7" r="1.6" fill="#9078c4"/><circle cx="639.2" cy="781.5" r="1.6" fill="#a488cc"/><circle cx="644.4" cy="779.6" r="1.6" fill="#9078c4"/><circle cx="658.3" cy="778.8" r="1.9" fill="#a488cc"/><circle cx="660.6" cy="781.5" r="1.5" fill="#9c80c8"/><circle cx="669.7" cy="778.1" r="1.7" fill="#a488cc"/><circle cx="672.4" cy="778.6" r="1.7" fill="#9c80c8"/><circle cx="528.4" cy="784.0" r="1.6" fill="#9078c4"/><circle cx="531.8" cy="786.0" r="1.9" fill="#a488cc"/><circle cx="537.2" cy="786.2" r="1.6" fill="#9078c4"/><circle cx="545.1" cy="784.0" r="1.2" fill="#9078c4"/><circle cx="550.6" cy="785.0" r="1.9" fill="#a488cc"/><circle cx="554.0" cy="783.7" r="1.2" fill="#a488cc"/><circle cx="560.7" cy="786.3" r="1.7" fill="#9c80c8"/><circle cx="563.0" cy="783.5" r="1.6" fill="#9078c4"/><circle cx="571.1" cy="786.5" r="1.8" fill="#9c80c8"/><circle cx="573.6" cy="787.9" r="1.2" fill="#9c80c8"/><circle cx="583.8" cy="783.5" r="1.5" fill="#9078c4"/><circle cx="592.3" cy="786.2" r="1.6" fill="#9c80c8"/><circle cx="601.8" cy="783.3" r="1.9" fill="#a488cc"/><circle cx="606.7" cy="784.0" r="1.7" fill="#a488cc"/><circle cx="613.9" cy="785.7" r="1.2" fill="#9078c4"/><circle cx="617.8" cy="787.7" r="1.8" fill="#9c80c8"/><circle cx="622.5" cy="784.2" r="1.9" fill="#9078c4"/><circle cx="627.7" cy="785.2" r="1.5" fill="#a488cc"/><circle cx="634.9" cy="784.1" r="1.9" fill="#9078c4"/><circle cx="636.9" cy="785.4" r="1.2" fill="#a488cc"/><circle cx="644.2" cy="785.0" r="1.7" fill="#9078c4"/><circle cx="649.5" cy="787.5" r="1.5" fill="#a488cc"/><circle cx="660.0" cy="787.5" r="1.9" fill="#9078c4"/><circle cx="667.1" cy="787.9" r="1.4" fill="#a488cc"/><circle cx="669.3" cy="786.1" r="1.4" fill="#a488cc"/><circle cx="673.6" cy="788.0" r="1.9" fill="#9c80c8"/><circle cx="523.2" cy="792.4" r="1.2" fill="#9078c4"/><circle cx="529.0" cy="790.8" r="1.6" fill="#9078c4"/><circle cx="536.1" cy="792.0" r="1.2" fill="#9c80c8"/><circle cx="545.6" cy="792.3" r="2.0" fill="#9078c4"/><circle cx="549.7" cy="789.1" r="1.1" fill="#a488cc"/><circle cx="557.8" cy="789.7" r="1.3" fill="#a488cc"/><circle cx="560.1" cy="790.1" r="1.8" fill="#9078c4"/><circle cx="569.0" cy="789.7" r="1.2" fill="#a488cc"/><circle cx="572.3" cy="791.5" r="1.1" fill="#9c80c8"/><circle cx="575.6" cy="790.0" r="1.7" fill="#9078c4"/><circle cx="582.3" cy="790.6" r="1.9" fill="#a488cc"/><circle cx="588.5" cy="791.2" r="1.5" fill="#a488cc"/><circle cx="595.5" cy="788.8" r="1.2" fill="#9c80c8"/><circle cx="600.0" cy="791.3" r="1.6" fill="#a488cc"/><circle cx="605.7" cy="791.3" r="1.5" fill="#9c80c8"/><circle cx="610.0" cy="790.5" r="1.3" fill="#9c80c8"/><circle cx="614.5" cy="789.0" r="1.2" fill="#9078c4"/><circle cx="619.9" cy="789.4" r="1.2" fill="#9c80c8"/><circle cx="624.9" cy="792.8" r="1.5" fill="#9c80c8"/><circle cx="631.9" cy="792.1" r="1.6" fill="#9078c4"/><circle cx="633.7" cy="789.7" r="1.3" fill="#a488cc"/><circle cx="639.1" cy="792.3" r="1.5" fill="#9c80c8"/><circle cx="648.9" cy="792.5" r="1.7" fill="#a488cc"/><circle cx="658.3" cy="792.1" r="1.5" fill="#9078c4"/><circle cx="660.2" cy="792.6" r="1.6" fill="#a488cc"/><circle cx="668.9" cy="792.3" r="1.5" fill="#a488cc"/><circle cx="530.5" cy="798.5" r="1.7" fill="#9078c4"/><circle cx="536.0" cy="798.4" r="1.4" fill="#9c80c8"/><circle cx="541.1" cy="795.4" r="1.9" fill="#9c80c8"/><circle cx="546.5" cy="797.5" r="1.1" fill="#9c80c8"/><circle cx="557.4" cy="795.9" r="1.5" fill="#9c80c8"/><circle cx="570.7" cy="797.0" r="1.7" fill="#a488cc"/><circle cx="582.0" cy="796.9" r="1.2" fill="#a488cc"/><circle cx="587.4" cy="797.4" r="1.7" fill="#9c80c8"/><circle cx="590.5" cy="794.8" r="1.3" fill="#a488cc"/><circle cx="595.9" cy="796.4" r="1.7" fill="#9c80c8"/><circle cx="601.2" cy="796.3" r="1.4" fill="#9078c4"/><circle cx="608.6" cy="794.4" r="1.8" fill="#a488cc"/><circle cx="616.1" cy="796.5" r="1.8" fill="#a488cc"/><circle cx="628.9" cy="796.9" r="1.9" fill="#9c80c8"/><circle cx="631.1" cy="797.5" r="1.8" fill="#9c80c8"/><circle cx="645.7" cy="794.2" r="1.5" fill="#9c80c8"/><circle cx="655.0" cy="797.0" r="1.8" fill="#9078c4"/><circle cx="661.8" cy="794.8" r="1.8" fill="#9c80c8"/><circle cx="663.6" cy="796.8" r="1.1" fill="#a488cc"/><circle cx="669.0" cy="797.7" r="2.0" fill="#9c80c8"/><circle cx="674.6" cy="795.6" r="1.9" fill="#a488cc"/><circle cx="680.3" cy="798.1" r="1.3" fill="#9c80c8"/><circle cx="525.4" cy="799.2" r="1.4" fill="#a488cc"/><circle cx="538.9" cy="801.9" r="1.4" fill="#9078c4"/><circle cx="545.4" cy="803.5" r="1.9" fill="#9c80c8"/><circle cx="553.1" cy="803.6" r="1.5" fill="#9078c4"/><circle cx="554.5" cy="803.0" r="1.3" fill="#9078c4"/><circle cx="567.8" cy="801.1" r="1.5" fill="#a488cc"/><circle cx="570.7" cy="800.3" r="1.3" fill="#9c80c8"/><circle cx="578.7" cy="802.4" r="1.2" fill="#9c80c8"/><circle cx="584.0" cy="803.6" r="1.1" fill="#a488cc"/><circle cx="589.6" cy="802.0" r="1.8" fill="#a488cc"/><circle cx="594.1" cy="801.8" r="1.8" fill="#9c80c8"/><circle cx="598.0" cy="800.7" r="1.4" fill="#9c80c8"/><circle cx="602.3" cy="803.1" r="1.9" fill="#9078c4"/><circle cx="610.5" cy="799.9" r="1.3" fill="#9078c4"/><circle cx="613.2" cy="801.4" r="1.4" fill="#a488cc"/><circle cx="618.3" cy="801.9" r="1.5" fill="#9c80c8"/><circle cx="625.1" cy="801.5" r="1.5" fill="#a488cc"/><circle cx="628.8" cy="800.0" r="1.3" fill="#a488cc"/><circle cx="637.3" cy="803.9" r="1.1" fill="#a488cc"/><circle cx="643.3" cy="800.0" r="1.7" fill="#a488cc"/><circle cx="647.0" cy="799.9" r="1.2" fill="#9078c4"/><circle cx="653.3" cy="800.9" r="1.7" fill="#9078c4"/><circle cx="661.4" cy="802.9" r="1.2" fill="#a488cc"/><circle cx="673.2" cy="799.5" r="1.7" fill="#9c80c8"/><circle cx="677.0" cy="800.8" r="2.0" fill="#9078c4"/><circle cx="528.1" cy="806.8" r="1.5" fill="#a488cc"/><circle cx="534.3" cy="808.3" r="1.6" fill="#9078c4"/><circle cx="540.3" cy="808.3" r="1.6" fill="#a488cc"/><circle cx="542.4" cy="807.9" r="1.4" fill="#9c80c8"/><circle cx="548.7" cy="806.4" r="1.5" fill="#a488cc"/><circle cx="555.8" cy="807.2" r="1.4" fill="#a488cc"/><circle cx="557.8" cy="807.2" r="1.8" fill="#9c80c8"/><circle cx="562.9" cy="806.8" r="1.2" fill="#9078c4"/><circle cx="575.0" cy="805.8" r="1.7" fill="#a488cc"/><circle cx="586.5" cy="808.8" r="1.5" fill="#9c80c8"/><circle cx="591.2" cy="808.5" r="2.0" fill="#9078c4"/><circle cx="613.6" cy="806.1" r="1.3" fill="#9c80c8"/><circle cx="619.9" cy="804.8" r="1.3" fill="#9078c4"/><circle cx="621.2" cy="807.2" r="1.6" fill="#a488cc"/><circle cx="627.5" cy="808.6" r="1.5" fill="#9c80c8"/><circle cx="633.6" cy="807.0" r="1.6" fill="#9078c4"/><circle cx="640.2" cy="808.5" r="1.9" fill="#9c80c8"/><circle cx="645.0" cy="809.2" r="1.1" fill="#9c80c8"/><circle cx="647.4" cy="808.2" r="1.4" fill="#a488cc"/><circle cx="653.1" cy="806.9" r="1.1" fill="#9078c4"/><circle cx="659.3" cy="808.1" r="1.9" fill="#9078c4"/><circle cx="670.4" cy="806.0" r="1.6" fill="#9c80c8"/><circle cx="674.6" cy="808.8" r="1.5" fill="#9078c4"/><circle cx="530.2" cy="809.9" r="1.3" fill="#9c80c8"/><circle cx="536.9" cy="813.9" r="1.9" fill="#9078c4"/><circle cx="541.9" cy="813.7" r="2.0" fill="#a488cc"/><circle cx="545.4" cy="810.5" r="1.3" fill="#9078c4"/><circle cx="555.6" cy="811.8" r="1.9" fill="#a488cc"/><circle cx="559.6" cy="812.6" r="1.6" fill="#a488cc"/><circle cx="566.2" cy="812.8" r="1.6" fill="#a488cc"/><circle cx="572.3" cy="812.4" r="1.2" fill="#9c80c8"/><circle cx="576.6" cy="813.2" r="1.3" fill="#a488cc"/><circle cx="583.2" cy="813.6" r="1.3" fill="#9078c4"/><circle cx="587.1" cy="811.5" r="1.4" fill="#a488cc"/><circle cx="592.3" cy="810.7" r="1.3" fill="#a488cc"/><circle cx="598.2" cy="811.3" r="1.6" fill="#9078c4"/><circle cx="604.0" cy="812.3" r="1.4" fill="#a488cc"/><circle cx="609.3" cy="813.6" r="1.2" fill="#a488cc"/><circle cx="615.4" cy="811.0" r="1.7" fill="#a488cc"/><circle cx="622.5" cy="812.7" r="1.8" fill="#9078c4"/><circle cx="632.5" cy="810.8" r="1.4" fill="#9c80c8"/><circle cx="639.2" cy="812.2" r="2.0" fill="#9c80c8"/><circle cx="645.8" cy="811.5" r="1.8" fill="#a488cc"/><circle cx="651.4" cy="811.2" r="1.2" fill="#9078c4"/><circle cx="658.6" cy="810.0" r="1.4" fill="#a488cc"/><circle cx="660.4" cy="812.7" r="1.2" fill="#9c80c8"/><circle cx="672.6" cy="812.5" r="1.1" fill="#9c80c8"/><circle cx="525.5" cy="816.2" r="1.7" fill="#9c80c8"/><circle cx="531.6" cy="816.7" r="1.5" fill="#9c80c8"/><circle cx="540.3" cy="816.1" r="1.9" fill="#9078c4"/><circle cx="544.3" cy="818.4" r="1.4" fill="#9c80c8"/><circle cx="546.6" cy="816.4" r="1.6" fill="#a488cc"/><circle cx="561.2" cy="818.2" r="1.2" fill="#9078c4"/><circle cx="564.7" cy="817.5" r="1.1" fill="#9c80c8"/><circle cx="572.1" cy="817.2" r="1.9" fill="#9c80c8"/><circle cx="575.5" cy="816.8" r="1.6" fill="#a488cc"/><circle cx="585.7" cy="817.8" r="1.9" fill="#9078c4"/><circle cx="591.6" cy="816.2" r="2.0" fill="#9078c4"/><circle cx="597.1" cy="817.5" r="1.2" fill="#a488cc"/><circle cx="602.8" cy="819.8" r="1.7" fill="#9c80c8"/><circle cx="604.8" cy="817.3" r="1.9" fill="#9078c4"/><circle cx="611.4" cy="815.6" r="1.3" fill="#9078c4"/><circle cx="622.7" cy="817.0" r="1.8" fill="#9c80c8"/><circle cx="628.4" cy="818.7" r="1.9" fill="#9c80c8"/><circle cx="634.7" cy="819.0" r="1.3" fill="#a488cc"/><circle cx="639.5" cy="815.7" r="1.8" fill="#9078c4"/><circle cx="642.1" cy="816.3" r="1.9" fill="#9c80c8"/><circle cx="649.9" cy="819.5" r="1.4" fill="#9c80c8"/><circle cx="659.3" cy="818.1" r="1.3" fill="#a488cc"/><circle cx="665.0" cy="818.7" r="1.8" fill="#a488cc"/><circle cx="669.1" cy="815.3" r="1.6" fill="#a488cc"/><circle cx="524.4" cy="821.8" r="1.2" fill="#9c80c8"/><circle cx="529.0" cy="823.6" r="1.5" fill="#9c80c8"/><circle cx="534.1" cy="820.7" r="1.3" fill="#a488cc"/><circle cx="539.5" cy="821.3" r="1.5" fill="#a488cc"/><circle cx="550.0" cy="822.9" r="1.2" fill="#9c80c8"/><circle cx="558.5" cy="822.0" r="1.2" fill="#9078c4"/><circle cx="561.9" cy="822.8" r="1.9" fill="#a488cc"/><circle cx="566.2" cy="823.1" r="1.3" fill="#9c80c8"/><circle cx="585.2" cy="823.6" r="1.5" fill="#a488cc"/><circle cx="588.7" cy="823.7" r="1.5" fill="#9078c4"/><circle cx="595.4" cy="822.8" r="1.4" fill="#a488cc"/><circle cx="601.2" cy="824.7" r="1.6" fill="#9c80c8"/><circle cx="605.7" cy="821.9" r="1.8" fill="#9078c4"/><circle cx="609.5" cy="824.4" r="1.6" fill="#a488cc"/><circle cx="614.7" cy="822.9" r="1.6" fill="#9c80c8"/><circle cx="618.3" cy="823.8" r="1.1" fill="#9078c4"/><circle cx="624.8" cy="821.9" r="2.0" fill="#9078c4"/><circle cx="629.0" cy="820.7" r="1.2" fill="#9c80c8"/><circle cx="637.5" cy="823.2" r="1.6" fill="#9c80c8"/><circle cx="640.0" cy="821.3" r="1.6" fill="#a488cc"/><circle cx="647.2" cy="822.3" r="1.7" fill="#9c80c8"/><circle cx="653.1" cy="825.0" r="1.6" fill="#a488cc"/><circle cx="656.0" cy="820.5" r="1.4" fill="#9c80c8"/><circle cx="664.8" cy="822.9" r="1.5" fill="#9c80c8"/><circle cx="667.7" cy="824.7" r="1.4" fill="#9078c4"/><circle cx="676.6" cy="823.3" r="2.0" fill="#9c80c8"/><circle cx="532.5" cy="827.4" r="1.9" fill="#a488cc"/><circle cx="536.6" cy="828.1" r="1.2" fill="#a488cc"/><circle cx="544.7" cy="830.2" r="1.7" fill="#9078c4"/><circle cx="554.0" cy="828.1" r="1.8" fill="#9078c4"/><circle cx="563.7" cy="826.8" r="1.5" fill="#9c80c8"/><circle cx="568.0" cy="826.1" r="1.8" fill="#a488cc"/><circle cx="574.4" cy="829.2" r="1.4" fill="#a488cc"/><circle cx="583.5" cy="826.4" r="1.7" fill="#9c80c8"/><circle cx="592.8" cy="826.7" r="2.0" fill="#9078c4"/><circle cx="596.8" cy="830.1" r="1.6" fill="#9c80c8"/><circle cx="603.9" cy="826.5" r="2.0" fill="#9078c4"/><circle cx="605.7" cy="826.5" r="1.8" fill="#a488cc"/><circle cx="615.3" cy="830.4" r="1.5" fill="#9078c4"/><circle cx="620.8" cy="828.7" r="2.0" fill="#9078c4"/><circle cx="629.0" cy="827.2" r="1.8" fill="#9078c4"/><circle cx="633.1" cy="830.0" r="1.9" fill="#a488cc"/><circle cx="637.9" cy="826.9" r="2.0" fill="#9078c4"/><circle cx="642.4" cy="829.8" r="1.2" fill="#a488cc"/><circle cx="656.4" cy="826.2" r="1.3" fill="#9c80c8"/><circle cx="660.5" cy="826.0" r="1.4" fill="#a488cc"/><circle cx="666.6" cy="827.2" r="1.6" fill="#9078c4"/><circle cx="671.3" cy="826.1" r="1.7" fill="#9c80c8"/><circle cx="677.7" cy="826.6" r="1.1" fill="#9c80c8"/><circle cx="523.3" cy="834.8" r="1.3" fill="#9078c4"/><circle cx="536.0" cy="834.1" r="1.3" fill="#9078c4"/><circle cx="545.9" cy="833.5" r="1.2" fill="#9078c4"/><circle cx="553.0" cy="833.6" r="1.4" fill="#9078c4"/><circle cx="554.8" cy="833.2" r="1.4" fill="#9c80c8"/><circle cx="561.8" cy="832.0" r="1.6" fill="#9c80c8"/><circle cx="565.5" cy="832.5" r="1.1" fill="#9078c4"/><circle cx="571.4" cy="834.5" r="1.4" fill="#a488cc"/><circle cx="576.9" cy="831.5" r="1.6" fill="#a488cc"/><circle cx="582.1" cy="834.0" r="1.3" fill="#a488cc"/><circle cx="586.1" cy="835.4" r="1.9" fill="#a488cc"/><circle cx="598.2" cy="832.7" r="1.7" fill="#9078c4"/><circle cx="605.6" cy="835.1" r="1.4" fill="#9c80c8"/><circle cx="608.4" cy="833.7" r="1.3" fill="#9c80c8"/><circle cx="614.9" cy="831.4" r="2.0" fill="#9c80c8"/><circle cx="618.1" cy="835.1" r="1.6" fill="#9c80c8"/><circle cx="623.3" cy="835.6" r="1.9" fill="#a488cc"/><circle cx="631.9" cy="835.4" r="1.6" fill="#a488cc"/><circle cx="634.4" cy="831.8" r="1.2" fill="#9078c4"/><circle cx="642.6" cy="831.6" r="1.6" fill="#9c80c8"/><circle cx="646.7" cy="835.6" r="1.8" fill="#a488cc"/><circle cx="650.2" cy="832.3" r="1.3" fill="#9078c4"/><circle cx="658.6" cy="831.8" r="1.8" fill="#9078c4"/><circle cx="660.4" cy="834.8" r="1.5" fill="#a488cc"/><circle cx="666.7" cy="831.1" r="1.3" fill="#9c80c8"/><circle cx="672.4" cy="835.1" r="1.1" fill="#9078c4"/><circle cx="680.1" cy="833.9" r="1.8" fill="#9078c4"/><circle cx="534.0" cy="838.9" r="1.3" fill="#a488cc"/><circle cx="545.0" cy="838.2" r="1.3" fill="#a488cc"/><circle cx="552.3" cy="839.7" r="1.7" fill="#9c80c8"/><circle cx="561.2" cy="836.7" r="1.7" fill="#9078c4"/><circle cx="575.5" cy="840.5" r="1.9" fill="#a488cc"/><circle cx="581.4" cy="837.3" r="1.1" fill="#9c80c8"/><circle cx="585.3" cy="839.2" r="1.8" fill="#9c80c8"/><circle cx="590.4" cy="838.6" r="1.3" fill="#9078c4"/><circle cx="598.4" cy="838.3" r="1.7" fill="#9078c4"/><circle cx="599.5" cy="841.0" r="2.0" fill="#a488cc"/><circle cx="606.1" cy="836.7" r="1.7" fill="#9078c4"/><circle cx="610.4" cy="838.2" r="2.0" fill="#a488cc"/><circle cx="619.1" cy="838.5" r="1.4" fill="#9078c4"/><circle cx="621.9" cy="840.2" r="1.5" fill="#9c80c8"/><circle cx="626.9" cy="836.7" r="1.7" fill="#9c80c8"/><circle cx="633.1" cy="837.6" r="1.4" fill="#9078c4"/><circle cx="637.0" cy="838.2" r="1.9" fill="#9c80c8"/><circle cx="644.5" cy="839.5" r="1.2" fill="#a488cc"/><circle cx="655.9" cy="838.7" r="1.2" fill="#9078c4"/><circle cx="666.8" cy="840.1" r="1.8" fill="#9c80c8"/><circle cx="677.7" cy="838.0" r="1.9" fill="#a488cc"/><circle cx="524.4" cy="842.9" r="1.5" fill="#a488cc"/><circle cx="531.7" cy="844.1" r="1.3" fill="#9c80c8"/><circle cx="543.0" cy="846.3" r="1.2" fill="#9078c4"/><circle cx="543.9" cy="842.7" r="1.9" fill="#a488cc"/><circle cx="551.0" cy="841.6" r="1.4" fill="#a488cc"/><circle cx="558.2" cy="841.9" r="1.1" fill="#a488cc"/><circle cx="561.0" cy="846.3" r="1.8" fill="#9c80c8"/><circle cx="567.8" cy="844.9" r="1.4" fill="#a488cc"/><circle cx="577.0" cy="842.7" r="1.5" fill="#9c80c8"/><circle cx="582.5" cy="843.2" r="1.6" fill="#9078c4"/><circle cx="586.8" cy="845.9" r="1.4" fill="#a488cc"/><circle cx="597.7" cy="841.9" r="1.4" fill="#9078c4"/><circle cx="604.7" cy="842.4" r="1.8" fill="#a488cc"/><circle cx="610.4" cy="845.4" r="1.6" fill="#9c80c8"/><circle cx="620.7" cy="845.0" r="1.3" fill="#9078c4"/><circle cx="624.5" cy="845.0" r="1.3" fill="#a488cc"/><circle cx="628.8" cy="845.6" r="1.4" fill="#9078c4"/><circle cx="634.2" cy="843.5" r="1.9" fill="#a488cc"/><circle cx="648.6" cy="842.3" r="1.3" fill="#a488cc"/><circle cx="651.6" cy="843.2" r="2.0" fill="#9c80c8"/><circle cx="658.3" cy="842.0" r="1.2" fill="#a488cc"/><circle cx="663.8" cy="842.8" r="1.7" fill="#a488cc"/><circle cx="668.2" cy="845.1" r="1.9" fill="#9c80c8"/><circle cx="671.2" cy="845.2" r="1.3" fill="#9078c4"/><circle cx="679.6" cy="843.9" r="1.5" fill="#9c80c8"/><circle cx="528.7" cy="849.2" r="1.9" fill="#9078c4"/><circle cx="532.1" cy="848.4" r="1.4" fill="#9c80c8"/><circle cx="536.5" cy="849.7" r="1.2" fill="#9c80c8"/><circle cx="547.8" cy="847.6" r="1.1" fill="#9c80c8"/><circle cx="560.4" cy="847.3" r="1.4" fill="#9078c4"/><circle cx="563.7" cy="849.2" r="1.7" fill="#9c80c8"/><circle cx="573.9" cy="847.1" r="1.6" fill="#a488cc"/><circle cx="579.0" cy="846.9" r="1.4" fill="#a488cc"/><circle cx="589.5" cy="847.3" r="1.9" fill="#9078c4"/><circle cx="597.0" cy="847.5" r="1.6" fill="#a488cc"/><circle cx="600.9" cy="848.4" r="1.9" fill="#9c80c8"/><circle cx="606.9" cy="846.9" r="1.2" fill="#9078c4"/><circle cx="614.4" cy="849.0" r="1.3" fill="#9078c4"/><circle cx="617.1" cy="849.7" r="1.4" fill="#a488cc"/><circle cx="624.4" cy="848.1" r="1.2" fill="#9c80c8"/><circle cx="628.9" cy="848.7" r="1.7" fill="#a488cc"/><circle cx="631.3" cy="847.7" r="1.4" fill="#9c80c8"/><circle cx="638.4" cy="848.6" r="1.7" fill="#9c80c8"/><circle cx="645.0" cy="847.1" r="1.8" fill="#9c80c8"/><circle cx="678.0" cy="848.4" r="1.2" fill="#9c80c8"/></g>
<g opacity="0.7"><circle cx="523.2" cy="769.7" r="0.8" fill="#5a4aa0"/><circle cx="538.7" cy="774.1" r="0.7" fill="#5a4aa0"/><circle cx="545.4" cy="769.2" r="0.6" fill="#4a3c96"/><circle cx="554.9" cy="772.1" r="0.7" fill="#5a4aa0"/><circle cx="565.4" cy="773.3" r="0.7" fill="#4a3c96"/><circle cx="575.5" cy="770.9" r="0.7" fill="#4a3c96"/><circle cx="615.7" cy="770.2" r="0.6" fill="#5a4aa0"/><circle cx="629.4" cy="768.5" r="0.7" fill="#5a4aa0"/><circle cx="636.8" cy="775.1" r="0.7" fill="#4a3c96"/><circle cx="643.4" cy="769.5" r="0.8" fill="#5a4aa0"/><circle cx="655.7" cy="771.7" r="0.8" fill="#4a3c96"/><circle cx="663.8" cy="768.5" r="0.5" fill="#5a4aa0"/><circle cx="667.5" cy="771.4" r="0.8" fill="#4a3c96"/><circle cx="533.6" cy="782.4" r="0.7" fill="#4a3c96"/><circle cx="537.0" cy="782.5" r="0.6" fill="#5a4aa0"/><circle cx="546.4" cy="778.4" r="0.6" fill="#5a4aa0"/><circle cx="561.0" cy="778.3" r="0.7" fill="#4a3c96"/><circle cx="568.0" cy="783.5" r="0.6" fill="#4a3c96"/><circle cx="574.4" cy="778.8" r="0.6" fill="#4a3c96"/><circle cx="595.0" cy="778.6" r="0.5" fill="#4a3c96"/><circle cx="605.6" cy="776.6" r="0.6" fill="#5a4aa0"/><circle cx="613.9" cy="777.8" r="0.6" fill="#4a3c96"/><circle cx="617.2" cy="780.5" r="0.5" fill="#5a4aa0"/><circle cx="639.7" cy="781.1" r="0.6" fill="#5a4aa0"/><circle cx="645.3" cy="778.1" r="0.7" fill="#4a3c96"/><circle cx="661.0" cy="784.1" r="0.5" fill="#4a3c96"/><circle cx="665.8" cy="777.9" r="0.5" fill="#4a3c96"/><circle cx="673.0" cy="781.6" r="0.7" fill="#5a4aa0"/><circle cx="527.7" cy="786.6" r="0.6" fill="#4a3c96"/><circle cx="538.2" cy="791.7" r="0.8" fill="#4a3c96"/><circle cx="547.0" cy="790.3" r="0.7" fill="#4a3c96"/><circle cx="562.1" cy="791.0" r="0.5" fill="#4a3c96"/><circle cx="569.3" cy="791.0" r="0.7" fill="#4a3c96"/><circle cx="577.9" cy="785.7" r="0.7" fill="#5a4aa0"/><circle cx="587.2" cy="790.7" r="0.8" fill="#5a4aa0"/><circle cx="595.7" cy="786.5" r="0.8" fill="#4a3c96"/><circle cx="610.5" cy="787.0" r="0.7" fill="#5a4aa0"/><circle cx="619.9" cy="786.9" r="0.6" fill="#5a4aa0"/><circle cx="628.3" cy="786.9" r="0.5" fill="#4a3c96"/><circle cx="637.5" cy="789.3" r="0.5" fill="#5a4aa0"/><circle cx="643.6" cy="787.6" r="0.7" fill="#4a3c96"/><circle cx="649.7" cy="790.6" r="0.6" fill="#5a4aa0"/><circle cx="663.4" cy="792.0" r="0.7" fill="#5a4aa0"/><circle cx="674.0" cy="789.5" r="0.5" fill="#5a4aa0"/><circle cx="679.9" cy="787.8" r="0.7" fill="#5a4aa0"/><circle cx="530.5" cy="801.9" r="0.7" fill="#4a3c96"/><circle cx="536.2" cy="795.5" r="0.7" fill="#4a3c96"/><circle cx="557.0" cy="802.1" r="0.6" fill="#5a4aa0"/><circle cx="570.2" cy="802.5" r="0.6" fill="#4a3c96"/><circle cx="573.9" cy="798.6" r="0.8" fill="#4a3c96"/><circle cx="585.0" cy="798.0" r="0.6" fill="#5a4aa0"/><circle cx="593.5" cy="794.8" r="0.6" fill="#5a4aa0"/><circle cx="605.5" cy="795.3" r="0.8" fill="#5a4aa0"/><circle cx="608.3" cy="799.8" r="0.7" fill="#5a4aa0"/><circle cx="618.7" cy="802.5" r="0.5" fill="#5a4aa0"/><circle cx="633.0" cy="794.6" r="0.6" fill="#4a3c96"/><circle cx="641.9" cy="801.9" r="0.6" fill="#5a4aa0"/><circle cx="648.2" cy="794.9" r="0.8" fill="#4a3c96"/><circle cx="653.4" cy="798.3" r="0.7" fill="#5a4aa0"/><circle cx="662.5" cy="796.2" r="0.6" fill="#5a4aa0"/><circle cx="672.6" cy="799.6" r="0.7" fill="#4a3c96"/><circle cx="528.1" cy="806.7" r="0.5" fill="#5a4aa0"/><circle cx="535.9" cy="811.5" r="0.7" fill="#4a3c96"/><circle cx="546.3" cy="807.6" r="0.6" fill="#4a3c96"/><circle cx="564.9" cy="807.9" r="0.7" fill="#5a4aa0"/><circle cx="568.1" cy="808.4" r="0.7" fill="#5a4aa0"/><circle cx="578.0" cy="809.8" r="0.6" fill="#5a4aa0"/><circle cx="590.1" cy="807.9" r="0.6" fill="#4a3c96"/><circle cx="595.2" cy="808.9" r="0.6" fill="#4a3c96"/><circle cx="604.7" cy="804.0" r="0.7" fill="#5a4aa0"/><circle cx="613.9" cy="809.1" r="0.8" fill="#4a3c96"/><circle cx="628.8" cy="808.0" r="0.5" fill="#5a4aa0"/><circle cx="634.3" cy="804.4" r="0.8" fill="#5a4aa0"/><circle cx="644.6" cy="804.9" r="0.6" fill="#4a3c96"/><circle cx="655.2" cy="811.3" r="0.5" fill="#5a4aa0"/><circle cx="660.9" cy="805.3" r="0.5" fill="#4a3c96"/><circle cx="668.2" cy="805.0" r="0.5" fill="#5a4aa0"/><circle cx="533.3" cy="816.6" r="0.5" fill="#4a3c96"/><circle cx="541.2" cy="815.5" r="0.5" fill="#4a3c96"/><circle cx="549.0" cy="813.2" r="0.6" fill="#5a4aa0"/><circle cx="560.1" cy="813.4" r="0.5" fill="#5a4aa0"/><circle cx="569.1" cy="813.9" r="0.7" fill="#4a3c96"/><circle cx="585.8" cy="820.2" r="0.7" fill="#4a3c96"/><circle cx="596.6" cy="819.8" r="0.5" fill="#5a4aa0"/><circle cx="613.3" cy="819.6" r="0.8" fill="#5a4aa0"/><circle cx="623.9" cy="814.0" r="0.7" fill="#5a4aa0"/><circle cx="628.9" cy="814.0" r="0.5" fill="#5a4aa0"/><circle cx="649.3" cy="812.8" r="0.8" fill="#5a4aa0"/><circle cx="656.8" cy="815.6" r="0.7" fill="#4a3c96"/><circle cx="662.3" cy="813.8" r="0.8" fill="#5a4aa0"/><circle cx="673.6" cy="819.2" r="0.5" fill="#5a4aa0"/><circle cx="529.1" cy="823.0" r="0.7" fill="#4a3c96"/><circle cx="538.9" cy="823.8" r="0.8" fill="#4a3c96"/><circle cx="562.3" cy="825.1" r="0.7" fill="#4a3c96"/><circle cx="584.0" cy="823.4" r="0.6" fill="#5a4aa0"/><circle cx="590.2" cy="826.0" r="0.5" fill="#5a4aa0"/><circle cx="618.2" cy="824.0" r="0.6" fill="#4a3c96"/><circle cx="622.1" cy="828.8" r="0.7" fill="#4a3c96"/><circle cx="646.4" cy="823.3" r="0.7" fill="#5a4aa0"/><circle cx="650.9" cy="828.7" r="0.6" fill="#4a3c96"/><circle cx="662.1" cy="826.0" r="0.6" fill="#5a4aa0"/><circle cx="674.1" cy="825.4" r="0.8" fill="#4a3c96"/><circle cx="539.7" cy="834.2" r="0.6" fill="#5a4aa0"/><circle cx="548.6" cy="836.1" r="0.8" fill="#4a3c96"/><circle cx="567.9" cy="835.1" r="0.5" fill="#5a4aa0"/><circle cx="582.6" cy="833.0" r="0.7" fill="#4a3c96"/><circle cx="604.9" cy="835.7" r="0.8" fill="#5a4aa0"/><circle cx="612.3" cy="832.9" r="0.6" fill="#5a4aa0"/><circle cx="619.5" cy="831.8" r="0.5" fill="#4a3c96"/><circle cx="630.4" cy="835.4" r="0.6" fill="#5a4aa0"/><circle cx="636.5" cy="834.3" r="0.6" fill="#4a3c96"/><circle cx="645.9" cy="837.0" r="0.6" fill="#4a3c96"/><circle cx="655.3" cy="832.5" r="0.6" fill="#4a3c96"/><circle cx="666.9" cy="830.7" r="0.8" fill="#4a3c96"/><circle cx="527.8" cy="846.7" r="0.7" fill="#4a3c96"/><circle cx="536.6" cy="844.8" r="0.6" fill="#4a3c96"/><circle cx="541.7" cy="844.8" r="0.8" fill="#4a3c96"/><circle cx="555.6" cy="844.7" r="0.6" fill="#4a3c96"/><circle cx="559.1" cy="846.6" r="0.6" fill="#4a3c96"/><circle cx="579.2" cy="845.6" r="0.7" fill="#5a4aa0"/><circle cx="610.8" cy="847.6" r="0.6" fill="#5a4aa0"/><circle cx="619.8" cy="841.8" r="0.7" fill="#5a4aa0"/><circle cx="625.5" cy="841.5" r="0.7" fill="#4a3c96"/><circle cx="646.2" cy="845.1" r="0.8" fill="#5a4aa0"/><circle cx="650.5" cy="842.1" r="0.6" fill="#4a3c96"/><circle cx="664.1" cy="843.0" r="0.7" fill="#4a3c96"/><circle cx="668.6" cy="840.4" r="0.7" fill="#4a3c96"/><circle cx="559.7" cy="848.7" r="0.7" fill="#5a4aa0"/><circle cx="585.3" cy="849.0" r="0.7" fill="#5a4aa0"/><circle cx="595.6" cy="848.8" r="0.6" fill="#5a4aa0"/><circle cx="665.3" cy="849.7" r="0.7" fill="#5a4aa0"/></g>
<g fill="#fff" opacity="0.6"><rect x="675.1" y="840.2" width="1" height="1"/><rect x="558.4" y="794.8" width="1" height="1"/><rect x="650.7" y="768.5" width="1.9" height="0.9" transform="rotate(161,650.7,768.5)"/><rect x="626.6" y="794.7" width="1" height="1"/><rect x="659.5" y="815.8" width="3.4" height="0.9" transform="rotate(58,659.5,815.8)"/><rect x="622.3" y="801.4" width="2.3" height="0.9" transform="rotate(97,622.3,801.4)"/><rect x="550.7" y="814.7" width="3.9" height="0.9" transform="rotate(108,550.7,814.7)"/><rect x="654.1" y="788.2" width="2.5" height="0.9" transform="rotate(166,654.1,788.2)"/><rect x="680.2" y="783.9" width="1" height="1"/><rect x="528.6" y="823.0" width="1" height="1"/><rect x="609.4" y="820.1" width="1" height="1"/><rect x="680.9" y="782.1" width="1" height="1"/><rect x="528.5" y="798.8" width="3.4" height="0.9" transform="rotate(29,528.5,798.8)"/><rect x="535.6" y="780.0" width="2.2" height="0.9" transform="rotate(146,535.6,780.0)"/><rect x="533.6" y="819.1" width="1" height="1"/><rect x="622.6" y="813.0" width="1" height="1"/><rect x="636.8" y="793.1" width="1" height="1"/><rect x="632.7" y="839.0" width="1" height="1"/><rect x="655.9" y="810.6" width="1" height="1"/><rect x="639.0" y="815.6" width="2.1" height="0.9" transform="rotate(165,639.0,815.6)"/><rect x="599.3" y="805.0" width="3.3" height="0.9" transform="rotate(104,599.3,805.0)"/><rect x="651.7" y="818.4" width="4.4" height="0.9" transform="rotate(102,651.7,818.4)"/><rect x="623.6" y="837.8" width="2.1" height="0.9" transform="rotate(124,623.6,837.8)"/><rect x="548.1" y="794.9" width="2.1" height="0.9" transform="rotate(15,548.1,794.9)"/><rect x="558.8" y="788.0" width="1" height="1"/><rect x="535.4" y="783.9" width="2.2" height="0.9" transform="rotate(91,535.4,783.9)"/><rect x="606.7" y="787.0" width="1.7" height="0.9" transform="rotate(88,606.7,787.0)"/><rect x="663.1" y="814.2" width="4.3" height="0.9" transform="rotate(99,663.1,814.2)"/><rect x="600.9" y="800.1" width="3.8" height="0.9" transform="rotate(68,600.9,800.1)"/><rect x="619.8" y="790.2" width="1" height="1"/><rect x="543.4" y="796.9" width="1" height="1"/><rect x="668.0" y="805.6" width="2.8" height="0.9" transform="rotate(101,668.0,805.6)"/><rect x="526.8" y="796.3" width="1" height="1"/><rect x="528.1" y="782.0" width="2.4" height="0.9" transform="rotate(144,528.1,782.0)"/><rect x="631.2" y="823.7" width="1.9" height="0.9" transform="rotate(79,631.2,823.7)"/><rect x="649.5" y="808.1" width="4.0" height="0.9" transform="rotate(146,649.5,808.1)"/><rect x="533.0" y="775.0" width="2.8" height="0.9" transform="rotate(56,533.0,775.0)"/><rect x="590.2" y="848.6" width="1" height="1"/><rect x="675.3" y="818.9" width="2.0" height="0.9" transform="rotate(102,675.3,818.9)"/><rect x="615.2" y="779.1" width="1" height="1"/><rect x="570.4" y="842.0" width="2.2" height="0.9" transform="rotate(37,570.4,842.0)"/><rect x="653.4" y="836.5" width="1" height="1"/><rect x="613.7" y="779.3" width="4.3" height="0.9" transform="rotate(6,613.7,779.3)"/><rect x="542.5" y="827.1" width="3.3" height="0.9" transform="rotate(51,542.5,827.1)"/><rect x="551.2" y="772.9" width="1" height="1"/><rect x="567.9" y="767.7" width="1" height="1"/><rect x="679.8" y="812.8" width="3.3" height="0.9" transform="rotate(75,679.8,812.8)"/><rect x="561.1" y="802.0" width="1" height="1"/><rect x="626.9" y="836.8" width="1" height="1"/><rect x="604.8" y="849.3" width="3.5" height="0.9" transform="rotate(93,604.8,849.3)"/><rect x="670.1" y="806.5" width="2.9" height="0.9" transform="rotate(160,670.1,806.5)"/><rect x="531.3" y="804.9" width="3.9" height="0.9" transform="rotate(118,531.3,804.9)"/><rect x="529.6" y="793.6" width="1" height="1"/><rect x="651.1" y="832.7" width="4.0" height="0.9" transform="rotate(172,651.1,832.7)"/><rect x="652.6" y="812.7" width="1" height="1"/><rect x="543.1" y="770.1" width="3.0" height="0.9" transform="rotate(10,543.1,770.1)"/><rect x="672.7" y="815.3" width="1" height="1"/><rect x="642.4" y="846.2" width="4.3" height="0.9" transform="rotate(89,642.4,846.2)"/><rect x="574.7" y="825.6" width="2.1" height="0.9" transform="rotate(28,574.7,825.6)"/><rect x="579.5" y="769.5" width="1" height="1"/><rect x="578.7" y="787.3" width="1" height="1"/><rect x="523.0" y="831.0" width="2.7" height="0.9" transform="rotate(16,523.0,831.0)"/><rect x="679.3" y="770.4" width="3.3" height="0.9" transform="rotate(32,679.3,770.4)"/><rect x="553.8" y="838.2" width="1.9" height="0.9" transform="rotate(171,553.8,838.2)"/><rect x="558.7" y="769.3" width="3.3" height="0.9" transform="rotate(33,558.7,769.3)"/><rect x="609.9" y="828.0" width="4.5" height="0.9" transform="rotate(108,609.9,828.0)"/><rect x="573.3" y="786.8" width="3.4" height="0.9" transform="rotate(174,573.3,786.8)"/><rect x="600.9" y="808.6" width="3.6" height="0.9" transform="rotate(41,600.9,808.6)"/><rect x="562.2" y="810.2" width="1" height="1"/><rect x="551.3" y="806.7" width="1" height="1"/><rect x="640.7" y="836.3" width="1" height="1"/><rect x="614.1" y="786.0" width="1" height="1"/><rect x="669.9" y="783.7" width="4.1" height="0.9" transform="rotate(36,669.9,783.7)"/><rect x="537.6" y="779.8" width="1" height="1"/><rect x="638.3" y="802.5" width="1" height="1"/><rect x="634.8" y="799.8" width="3.4" height="0.9" transform="rotate(124,634.8,799.8)"/><rect x="674.9" y="825.9" width="2.4" height="0.9" transform="rotate(35,674.9,825.9)"/><rect x="637.8" y="793.0" width="2.3" height="0.9" transform="rotate(34,637.8,793.0)"/><rect x="601.4" y="826.5" width="1" height="1"/><rect x="538.1" y="813.4" width="1" height="1"/><rect x="585.2" y="777.5" width="1" height="1"/><rect x="653.5" y="770.4" width="2.6" height="0.9" transform="rotate(55,653.5,770.4)"/><rect x="540.5" y="774.2" width="3.2" height="0.9" transform="rotate(172,540.5,774.2)"/><rect x="566.2" y="847.4" width="1.9" height="0.9" transform="rotate(25,566.2,847.4)"/><rect x="525.9" y="843.8" width="1" height="1"/><rect x="678.4" y="812.4" width="2.5" height="0.9" transform="rotate(67,678.4,812.4)"/><rect x="547.3" y="773.8" width="1" height="1"/><rect x="661.0" y="845.4" width="2.3" height="0.9" transform="rotate(111,661.0,845.4)"/><rect x="656.6" y="843.6" width="4.1" height="0.9" transform="rotate(34,656.6,843.6)"/><rect x="678.7" y="838.2" width="3.8" height="0.9" transform="rotate(108,678.7,838.2)"/><rect x="613.1" y="812.6" width="1" height="1"/><rect x="531.5" y="814.8" width="1" height="1"/><rect x="609.7" y="797.3" width="3.5" height="0.9" transform="rotate(160,609.7,797.3)"/><rect x="674.4" y="847.9" width="1" height="1"/><rect x="658.3" y="835.6" width="1" height="1"/><rect x="588.4" y="823.8" width="1" height="1"/><rect x="564.5" y="833.0" width="1" height="1"/><rect x="582.6" y="803.5" width="1" height="1"/><rect x="532.7" y="770.8" width="4.1" height="0.9" transform="rotate(19,532.7,770.8)"/><rect x="668.7" y="797.0" width="4.2" height="0.9" transform="rotate(119,668.7,797.0)"/><rect x="623.8" y="842.0" width="3.6" height="0.9" transform="rotate(84,623.8,842.0)"/><rect x="640.4" y="799.2" width="3.5" height="0.9" transform="rotate(152,640.4,799.2)"/><rect x="606.9" y="788.2" width="2.2" height="0.9" transform="rotate(15,606.9,788.2)"/><rect x="536.5" y="785.9" width="1" height="1"/><rect x="611.1" y="838.3" width="1" height="1"/><rect x="576.4" y="796.3" width="1" height="1"/><rect x="525.2" y="780.8" width="2.7" height="0.9" transform="rotate(26,525.2,780.8)"/><rect x="547.4" y="818.9" width="1" height="1"/><rect x="584.5" y="831.8" width="1.9" height="0.9" transform="rotate(19,584.5,831.8)"/><rect x="647.0" y="790.2" width="1" height="1"/><rect x="660.1" y="814.4" width="3.5" height="0.9" transform="rotate(99,660.1,814.4)"/><rect x="616.8" y="812.6" width="3.7" height="0.9" transform="rotate(175,616.8,812.6)"/><rect x="662.3" y="833.2" width="3.3" height="0.9" transform="rotate(80,662.3,833.2)"/><rect x="550.1" y="835.7" width="4.3" height="0.9" transform="rotate(105,550.1,835.7)"/><rect x="572.7" y="795.5" width="1" height="1"/><rect x="538.3" y="788.4" width="3.4" height="0.9" transform="rotate(175,538.3,788.4)"/><rect x="649.3" y="820.5" width="4.4" height="0.9" transform="rotate(66,649.3,820.5)"/><rect x="620.0" y="818.0" width="2.2" height="0.9" transform="rotate(163,620.0,818.0)"/><rect x="661.8" y="825.7" width="1" height="1"/><rect x="680.3" y="808.1" width="1" height="1"/><rect x="588.6" y="823.5" width="1" height="1"/></g>
<rect x="522.1" y="767.1" width="159.4" height="83.8" filter="url(#fw)" opacity="0.28"/>
</g></g>
<text x="83.00" y="859.80" font-size="10" text-anchor="middle" fill="#111">HFAD</text>
<text x="253.40" y="859.80" font-size="10" text-anchor="middle" fill="#111">HFAD-H22B656</text>
<text x="428.10" y="859.80" font-size="10" text-anchor="middle" fill="#111">HFAD-W5S9</text>
<text x="602.90" y="859.80" font-size="10" text-anchor="middle" fill="#111">Control</text>
<text x="-0.50" y="875.10" font-size="15.3" font-weight="bold" fill="#111">h</text>
<text x="345.30" y="873.50" font-size="11.5" text-anchor="middle" font-weight="bold" fill="#111">Oil red O</text>
<clipPath id="cp5"><rect x="8.4" y="879.4" width="139.3" height="83.8"/></clipPath>
<g clip-path="url(#cp5)"><g filter="url(#fb)">
<rect x="7.40" y="878.40" width="141.30" height="85.80" fill="#9e95c7"/>
<rect x="8.4" y="879.4" width="139.3" height="83.8" filter="url(#fr)" opacity="0.5"/>
<g fill="#fff" opacity="0.6000000000000001"><rect x="17.7" y="906.7" width="3.8" height="0.9" transform="rotate(51,17.7,906.7)"/><rect x="105.1" y="918.8" width="1" height="1"/><rect x="71.2" y="951.9" width="1" height="1"/><rect x="27.9" y="926.9" width="2.1" height="0.9" transform="rotate(96,27.9,926.9)"/><rect x="105.3" y="895.2" width="2.3" height="0.9" transform="rotate(43,105.3,895.2)"/><rect x="33.6" y="942.5" width="1" height="1"/><rect x="12.6" y="927.6" width="2.7" height="0.9" transform="rotate(116,12.6,927.6)"/><rect x="83.4" y="943.2" width="1" height="1"/><rect x="103.5" y="904.0" width="3.1" height="0.9" transform="rotate(105,103.5,904.0)"/><rect x="132.8" y="953.3" width="3.6" height="0.9" transform="rotate(74,132.8,953.3)"/><rect x="66.7" y="960.4" width="4.0" height="0.9" transform="rotate(74,66.7,960.4)"/><rect x="140.5" y="921.8" width="2.5" height="0.9" transform="rotate(106,140.5,921.8)"/><rect x="105.4" y="908.1" width="3.8" height="0.9" transform="rotate(106,105.4,908.1)"/><rect x="76.6" y="929.1" width="1" height="1"/><rect x="81.4" y="879.9" width="3.0" height="0.9" transform="rotate(157,81.4,879.9)"/><rect x="117.5" y="959.4" width="3.0" height="0.9" transform="rotate(131,117.5,959.4)"/><rect x="8.7" y="897.7" width="4.1" height="0.9" transform="rotate(83,8.7,897.7)"/><rect x="57.9" y="945.4" width="4.4" height="0.9" transform="rotate(170,57.9,945.4)"/><rect x="30.9" y="947.9" width="4.2" height="0.9" transform="rotate(60,30.9,947.9)"/><rect x="68.8" y="881.1" width="4.1" height="0.9" transform="rotate(178,68.8,881.1)"/><rect x="142.7" y="907.9" width="1.6" height="0.9" transform="rotate(123,142.7,907.9)"/><rect x="91.9" y="892.3" width="2.2" height="0.9" transform="rotate(136,91.9,892.3)"/><rect x="146.2" y="935.5" width="1" height="1"/><rect x="97.9" y="899.4" width="1" height="1"/><rect x="14.0" y="955.5" width="1" height="1"/><rect x="92.3" y="925.0" width="2.6" height="0.9" transform="rotate(30,92.3,925.0)"/><rect x="97.6" y="905.5" width="1" height="1"/><rect x="105.0" y="881.9" width="3.1" height="0.9" transform="rotate(152,105.0,881.9)"/><rect x="27.0" y="923.7" width="1" height="1"/><rect x="107.0" y="919.4" width="1" height="1"/><rect x="10.5" y="953.8" width="1" height="1"/><rect x="60.9" y="888.0" width="3.5" height="0.9" transform="rotate(127,60.9,888.0)"/><rect x="82.2" y="886.4" width="1.8" height="0.9" transform="rotate(88,82.2,886.4)"/><rect x="49.4" y="881.6" width="3.9" height="0.9" transform="rotate(99,49.4,881.6)"/><rect x="10.3" y="904.5" width="2.7" height="0.9" transform="rotate(40,10.3,904.5)"/><rect x="8.5" y="895.2" width="2.4" height="0.9" transform="rotate(154,8.5,895.2)"/><rect x="104.5" y="943.4" width="1" height="1"/><rect x="68.8" y="905.7" width="1" height="1"/><rect x="58.5" y="905.1" width="3.3" height="0.9" transform="rotate(10,58.5,905.1)"/><rect x="64.0" y="884.5" width="3.0" height="0.9" transform="rotate(12,64.0,884.5)"/><rect x="85.0" y="960.8" width="3.9" height="0.9" transform="rotate(103,85.0,960.8)"/><rect x="42.2" y="917.3" width="1" height="1"/><rect x="24.0" y="916.9" width="1" height="1"/><rect x="135.3" y="955.5" width="3.7" height="0.9" transform="rotate(120,135.3,955.5)"/><rect x="52.2" y="899.4" width="1" height="1"/><rect x="56.9" y="956.0" width="3.6" height="0.9" transform="rotate(156,56.9,956.0)"/><rect x="62.0" y="939.2" width="1" height="1"/><rect x="108.9" y="903.0" width="3.8" height="0.9" transform="rotate(107,108.9,903.0)"/><rect x="93.6" y="899.0" width="1" height="1"/><rect x="107.1" y="912.2" width="1" height="1"/><rect x="102.1" y="959.9" width="3.7" height="0.9" transform="rotate(171,102.1,959.9)"/><rect x="27.3" y="893.2" width="3.2" height="0.9" transform="rotate(111,27.3,893.2)"/><rect x="66.4" y="951.2" width="1" height="1"/><rect x="91.5" y="938.2" width="1" height="1"/><rect x="30.6" y="886.2" width="4.2" height="0.9" transform="rotate(150,30.6,886.2)"/><rect x="83.6" y="891.9" width="1" height="1"/><rect x="126.7" y="942.3" width="2.9" height="0.9" transform="rotate(9,126.7,942.3)"/><rect x="41.5" y="906.4" width="1" height="1"/><rect x="115.4" y="927.2" width="1" height="1"/><rect x="107.1" y="892.7" width="4.5" height="0.9" transform="rotate(54,107.1,892.7)"/><rect x="67.5" y="902.2" width="1" height="1"/><rect x="141.5" y="909.9" width="1.6" height="0.9" transform="rotate(58,141.5,909.9)"/><rect x="98.4" y="881.4" width="1" height="1"/><rect x="122.4" y="911.8" width="1" height="1"/><rect x="124.6" y="889.2" width="1" height="1"/><rect x="127.6" y="922.5" width="1" height="1"/><rect x="42.9" y="879.6" width="2.5" height="0.9" transform="rotate(179,42.9,879.6)"/><rect x="53.8" y="885.2" width="3.0" height="0.9" transform="rotate(44,53.8,885.2)"/><rect x="12.9" y="888.6" width="3.8" height="0.9" transform="rotate(168,12.9,888.6)"/><rect x="38.1" y="904.2" width="3.0" height="0.9" transform="rotate(89,38.1,904.2)"/><rect x="109.2" y="931.3" width="1.6" height="0.9" transform="rotate(106,109.2,931.3)"/><rect x="68.0" y="884.1" width="3.6" height="0.9" transform="rotate(27,68.0,884.1)"/><rect x="65.2" y="944.0" width="3.0" height="0.9" transform="rotate(44,65.2,944.0)"/><rect x="74.3" y="888.6" width="1" height="1"/><rect x="85.6" y="950.1" width="1" height="1"/><rect x="115.4" y="902.2" width="1" height="1"/><rect x="73.9" y="882.2" width="1" height="1"/><rect x="45.3" y="898.7" width="1" height="1"/><rect x="39.8" y="957.5" width="1" height="1"/><rect x="33.3" y="961.3" width="4.2" height="0.9" transform="rotate(113,33.3,961.3)"/><rect x="54.4" y="945.3" width="3.9" height="0.9" transform="rotate(39,54.4,945.3)"/><rect x="78.2" y="944.3" width="1" height="1"/><rect x="66.2" y="962.4" width="1" height="1"/><rect x="107.9" y="925.9" width="1" height="1"/><rect x="25.9" y="891.2" width="1" height="1"/><rect x="132.4" y="936.5" width="1" height="1"/><rect x="135.1" y="955.5" width="1" height="1"/><rect x="63.8" y="883.2" width="3.4" height="0.9" transform="rotate(153,63.8,883.2)"/><rect x="28.2" y="899.4" width="3.6" height="0.9" transform="rotate(9,28.2,899.4)"/><rect x="77.5" y="958.0" width="1" height="1"/><rect x="69.5" y="893.9" width="1" height="1"/><rect x="146.9" y="943.2" width="2.0" height="0.9" transform="rotate(24,146.9,943.2)"/><rect x="80.5" y="885.4" width="1" height="1"/><rect x="77.6" y="924.5" width="1" height="1"/><rect x="65.8" y="929.4" width="4.5" height="0.9" transform="rotate(169,65.8,929.4)"/><rect x="140.7" y="917.7" width="3.2" height="0.9" transform="rotate(19,140.7,917.7)"/><rect x="65.9" y="923.9" width="1" height="1"/><rect x="139.9" y="936.1" width="1" height="1"/><rect x="92.1" y="925.7" width="4.4" height="0.9" transform="rotate(54,92.1,925.7)"/><rect x="114.5" y="934.5" width="2.5" height="0.9" transform="rotate(144,114.5,934.5)"/><rect x="58.7" y="913.9" width="1" height="1"/><rect x="37.3" y="926.4" width="2.2" height="0.9" transform="rotate(135,37.3,926.4)"/><rect x="119.1" y="901.6" width="1" height="1"/><rect x="9.1" y="900.7" width="2.7" height="0.9" transform="rotate(36,9.1,900.7)"/><rect x="11.8" y="917.9" width="1.7" height="0.9" transform="rotate(62,11.8,917.9)"/><rect x="71.1" y="912.1" width="1.9" height="0.9" transform="rotate(103,71.1,912.1)"/><rect x="134.3" y="897.4" width="4.0" height="0.9" transform="rotate(131,134.3,897.4)"/><rect x="69.1" y="962.0" width="1" height="1"/><rect x="41.6" y="882.8" width="1" height="1"/><rect x="107.2" y="956.8" width="4.1" height="0.9" transform="rotate(180,107.2,956.8)"/><rect x="75.6" y="909.0" width="3.0" height="0.9" transform="rotate(115,75.6,909.0)"/><rect x="126.2" y="894.2" width="1" height="1"/><rect x="81.7" y="883.8" width="4.2" height="0.9" transform="rotate(122,81.7,883.8)"/><rect x="75.9" y="889.7" width="1" height="1"/><rect x="56.1" y="908.3" width="3.5" height="0.9" transform="rotate(55,56.1,908.3)"/><rect x="74.9" y="934.6" width="1" height="1"/><rect x="105.2" y="903.4" width="1" height="1"/><rect x="11.3" y="906.2" width="1" height="1"/><rect x="135.9" y="946.6" width="1" height="1"/><rect x="12.2" y="908.9" width="1" height="1"/><rect x="86.3" y="930.8" width="1" height="1"/><rect x="115.7" y="896.0" width="4.0" height="0.9" transform="rotate(96,115.7,896.0)"/><rect x="55.3" y="951.8" width="2.2" height="0.9" transform="rotate(9,55.3,951.8)"/><rect x="19.2" y="938.0" width="1" height="1"/><rect x="69.5" y="951.0" width="1" height="1"/><rect x="11.5" y="913.6" width="2.3" height="0.9" transform="rotate(44,11.5,913.6)"/><rect x="49.0" y="937.7" width="1" height="1"/><rect x="44.7" y="925.9" width="1" height="1"/><rect x="74.5" y="918.4" width="4.0" height="0.9" transform="rotate(99,74.5,918.4)"/><rect x="26.3" y="880.8" width="1.8" height="0.9" transform="rotate(118,26.3,880.8)"/><rect x="82.3" y="914.6" width="3.9" height="0.9" transform="rotate(130,82.3,914.6)"/><rect x="136.7" y="925.4" width="1" height="1"/><rect x="81.1" y="962.2" width="3.1" height="0.9" transform="rotate(60,81.1,962.2)"/><rect x="88.0" y="884.0" width="3.9" height="0.9" transform="rotate(129,88.0,884.0)"/><rect x="67.5" y="895.4" width="3.4" height="0.9" transform="rotate(157,67.5,895.4)"/><rect x="54.9" y="906.7" width="1" height="1"/><rect x="70.1" y="882.1" width="1" height="1"/><rect x="20.3" y="940.0" width="2.6" height="0.9" transform="rotate(62,20.3,940.0)"/><rect x="12.3" y="890.6" width="1.8" height="0.9" transform="rotate(26,12.3,890.6)"/><rect x="10.3" y="905.4" width="1" height="1"/><rect x="15.1" y="946.7" width="1" height="1"/><rect x="30.9" y="923.6" width="1.5" height="0.9" transform="rotate(174,30.9,923.6)"/><rect x="74.1" y="889.8" width="1" height="1"/><rect x="35.9" y="884.0" width="1.5" height="0.9" transform="rotate(175,35.9,884.0)"/><rect x="98.9" y="929.9" width="3.2" height="0.9" transform="rotate(165,98.9,929.9)"/></g>
<rect x="8.4" y="879.4" width="139.3" height="83.8" filter="url(#fw)" opacity="0.4"/>
<g opacity="0.62"><circle cx="32.5" cy="880.6" r="1.9" fill="#5a8cd4"/><circle cx="37.6" cy="882.8" r="1.6" fill="#4a82d0"/><circle cx="43.4" cy="882.8" r="1.3" fill="#4a82d0"/><circle cx="48.8" cy="880.5" r="1.4" fill="#5a8cd4"/><circle cx="52.4" cy="880.8" r="1.7" fill="#5a8cd4"/><circle cx="58.0" cy="882.3" r="1.4" fill="#4080d0"/><circle cx="69.8" cy="880.5" r="1.6" fill="#4080d0"/><circle cx="74.9" cy="884.0" r="1.3" fill="#4080d0"/><circle cx="80.1" cy="883.6" r="1.3" fill="#5a8cd4"/><circle cx="85.9" cy="882.2" r="1.2" fill="#4080d0"/><circle cx="96.6" cy="881.2" r="1.9" fill="#4a82d0"/><circle cx="103.6" cy="881.4" r="1.3" fill="#4a82d0"/><circle cx="110.2" cy="883.0" r="1.5" fill="#5a8cd4"/><circle cx="123.5" cy="881.6" r="1.2" fill="#4a82d0"/><circle cx="131.6" cy="881.1" r="1.8" fill="#5a8cd4"/><circle cx="13.6" cy="885.2" r="1.4" fill="#5a8cd4"/><circle cx="19.7" cy="886.1" r="2.0" fill="#4a82d0"/><circle cx="31.1" cy="885.6" r="1.2" fill="#4080d0"/><circle cx="33.9" cy="888.3" r="1.3" fill="#5a8cd4"/><circle cx="52.2" cy="889.3" r="1.4" fill="#4a82d0"/><circle cx="56.8" cy="888.4" r="1.4" fill="#4080d0"/><circle cx="62.0" cy="886.9" r="2.0" fill="#4a82d0"/><circle cx="74.5" cy="887.2" r="1.8" fill="#4080d0"/><circle cx="89.0" cy="888.4" r="1.3" fill="#4a82d0"/><circle cx="96.3" cy="888.6" r="1.9" fill="#4a82d0"/><circle cx="99.5" cy="885.5" r="1.6" fill="#5a8cd4"/><circle cx="109.3" cy="889.0" r="1.7" fill="#4080d0"/><circle cx="118.2" cy="885.3" r="1.8" fill="#4080d0"/><circle cx="123.6" cy="886.6" r="1.9" fill="#4080d0"/><circle cx="125.9" cy="889.1" r="1.6" fill="#4080d0"/><circle cx="131.8" cy="886.7" r="1.3" fill="#5a8cd4"/><circle cx="137.5" cy="888.0" r="1.8" fill="#4080d0"/><circle cx="13.3" cy="894.0" r="1.6" fill="#4080d0"/><circle cx="23.4" cy="891.8" r="1.8" fill="#4080d0"/><circle cx="26.9" cy="893.3" r="1.8" fill="#4080d0"/><circle cx="34.7" cy="894.3" r="1.2" fill="#5a8cd4"/><circle cx="38.4" cy="893.4" r="2.0" fill="#4080d0"/><circle cx="44.1" cy="891.8" r="1.6" fill="#5a8cd4"/><circle cx="50.7" cy="893.5" r="1.5" fill="#5a8cd4"/><circle cx="54.0" cy="894.7" r="1.7" fill="#5a8cd4"/><circle cx="57.6" cy="893.0" r="1.9" fill="#4080d0"/><circle cx="69.5" cy="891.2" r="1.9" fill="#4080d0"/><circle cx="77.2" cy="894.9" r="1.8" fill="#5a8cd4"/><circle cx="92.9" cy="894.1" r="1.7" fill="#4080d0"/><circle cx="125.8" cy="891.2" r="2.0" fill="#5a8cd4"/><circle cx="139.1" cy="892.7" r="1.9" fill="#4080d0"/><circle cx="15.6" cy="897.1" r="1.8" fill="#5a8cd4"/><circle cx="19.5" cy="899.4" r="1.6" fill="#4a82d0"/><circle cx="24.4" cy="897.4" r="1.3" fill="#5a8cd4"/><circle cx="31.1" cy="896.8" r="1.6" fill="#4a82d0"/><circle cx="35.2" cy="896.7" r="1.4" fill="#5a8cd4"/><circle cx="44.6" cy="899.0" r="1.3" fill="#4080d0"/><circle cx="53.4" cy="896.9" r="1.6" fill="#4a82d0"/><circle cx="58.4" cy="896.4" r="1.6" fill="#4080d0"/><circle cx="60.1" cy="900.5" r="1.5" fill="#4080d0"/><circle cx="67.5" cy="896.0" r="1.7" fill="#4a82d0"/><circle cx="75.4" cy="896.3" r="1.6" fill="#4a82d0"/><circle cx="80.7" cy="896.6" r="1.4" fill="#4a82d0"/><circle cx="85.6" cy="899.8" r="1.8" fill="#4080d0"/><circle cx="89.9" cy="900.0" r="1.8" fill="#4080d0"/><circle cx="96.0" cy="897.0" r="1.8" fill="#5a8cd4"/><circle cx="99.6" cy="897.7" r="1.6" fill="#5a8cd4"/><circle cx="104.3" cy="897.6" r="2.0" fill="#4080d0"/><circle cx="118.8" cy="897.9" r="1.4" fill="#4a82d0"/><circle cx="123.8" cy="900.6" r="1.9" fill="#5a8cd4"/><circle cx="128.2" cy="900.4" r="1.9" fill="#4080d0"/><circle cx="131.7" cy="898.3" r="1.3" fill="#4080d0"/><circle cx="139.0" cy="899.2" r="1.7" fill="#4a82d0"/><circle cx="141.4" cy="899.2" r="1.5" fill="#4a82d0"/><circle cx="10.6" cy="904.4" r="1.9" fill="#5a8cd4"/><circle cx="20.0" cy="901.5" r="1.3" fill="#4080d0"/><circle cx="25.5" cy="902.6" r="1.7" fill="#4a82d0"/><circle cx="33.5" cy="903.5" r="1.4" fill="#4a82d0"/><circle cx="39.3" cy="902.6" r="1.5" fill="#4080d0"/><circle cx="49.7" cy="905.4" r="1.6" fill="#4080d0"/><circle cx="53.6" cy="904.7" r="1.4" fill="#4a82d0"/><circle cx="60.4" cy="904.9" r="1.3" fill="#4a82d0"/><circle cx="67.4" cy="904.9" r="1.9" fill="#5a8cd4"/><circle cx="68.4" cy="904.8" r="1.4" fill="#5a8cd4"/><circle cx="75.5" cy="903.5" r="1.8" fill="#4080d0"/><circle cx="82.0" cy="901.5" r="1.3" fill="#4a82d0"/><circle cx="87.0" cy="903.4" r="1.9" fill="#4a82d0"/><circle cx="93.3" cy="905.2" r="1.7" fill="#4080d0"/><circle cx="96.5" cy="905.1" r="1.4" fill="#4080d0"/><circle cx="100.8" cy="903.7" r="1.7" fill="#5a8cd4"/><circle cx="107.1" cy="902.7" r="1.7" fill="#4a82d0"/><circle cx="113.7" cy="903.5" r="2.0" fill="#4a82d0"/><circle cx="125.7" cy="902.5" r="1.6" fill="#4a82d0"/><circle cx="129.2" cy="903.2" r="1.3" fill="#5a8cd4"/><circle cx="134.8" cy="903.2" r="2.0" fill="#4a82d0"/><circle cx="141.8" cy="906.1" r="1.3" fill="#5a8cd4"/><circle cx="11.7" cy="910.4" r="1.3" fill="#4a82d0"/><circle cx="20.9" cy="911.4" r="2.0" fill="#5a8cd4"/><circle cx="23.0" cy="909.8" r="1.5" fill="#4a82d0"/><circle cx="28.6" cy="909.8" r="1.2" fill="#5a8cd4"/><circle cx="36.5" cy="908.5" r="1.5" fill="#4a82d0"/><circle cx="45.4" cy="906.7" r="1.6" fill="#4080d0"/><circle cx="51.0" cy="908.4" r="1.8" fill="#4080d0"/><circle cx="58.0" cy="910.7" r="1.5" fill="#4080d0"/><circle cx="62.4" cy="908.3" r="1.5" fill="#5a8cd4"/><circle cx="67.1" cy="910.3" r="1.3" fill="#4a82d0"/><circle cx="72.7" cy="906.9" r="1.9" fill="#4080d0"/><circle cx="80.2" cy="908.2" r="1.4" fill="#4080d0"/><circle cx="82.6" cy="910.8" r="1.4" fill="#5a8cd4"/><circle cx="89.2" cy="911.3" r="1.2" fill="#4a82d0"/><circle cx="102.1" cy="911.2" r="1.4" fill="#4080d0"/><circle cx="106.2" cy="907.1" r="1.5" fill="#5a8cd4"/><circle cx="111.6" cy="908.5" r="1.9" fill="#4a82d0"/><circle cx="115.5" cy="908.4" r="1.7" fill="#4080d0"/><circle cx="121.2" cy="907.2" r="2.0" fill="#4080d0"/><circle cx="128.3" cy="907.2" r="1.9" fill="#5a8cd4"/><circle cx="132.0" cy="911.5" r="1.6" fill="#4a82d0"/><circle cx="143.5" cy="908.0" r="1.7" fill="#5a8cd4"/><circle cx="11.5" cy="914.7" r="1.7" fill="#5a8cd4"/><circle cx="14.4" cy="916.4" r="2.0" fill="#4a82d0"/><circle cx="24.0" cy="916.0" r="1.6" fill="#4a82d0"/><circle cx="28.4" cy="913.4" r="1.6" fill="#5a8cd4"/><circle cx="33.7" cy="913.4" r="1.3" fill="#4a82d0"/><circle cx="37.9" cy="913.9" r="1.8" fill="#4a82d0"/><circle cx="42.4" cy="915.4" r="1.8" fill="#4080d0"/><circle cx="48.3" cy="915.8" r="1.5" fill="#4a82d0"/><circle cx="53.7" cy="912.3" r="1.8" fill="#4a82d0"/><circle cx="60.0" cy="914.3" r="1.8" fill="#4080d0"/><circle cx="65.9" cy="915.5" r="1.9" fill="#4080d0"/><circle cx="70.3" cy="913.6" r="1.5" fill="#4080d0"/><circle cx="77.8" cy="915.3" r="1.8" fill="#4a82d0"/><circle cx="81.0" cy="915.3" r="1.7" fill="#5a8cd4"/><circle cx="85.2" cy="912.4" r="1.4" fill="#4080d0"/><circle cx="89.7" cy="916.5" r="1.3" fill="#5a8cd4"/><circle cx="96.1" cy="916.4" r="1.5" fill="#5a8cd4"/><circle cx="104.8" cy="913.9" r="1.5" fill="#4080d0"/><circle cx="108.3" cy="912.8" r="2.0" fill="#4a82d0"/><circle cx="115.3" cy="916.6" r="1.8" fill="#5a8cd4"/><circle cx="124.3" cy="916.4" r="1.7" fill="#4a82d0"/><circle cx="137.2" cy="915.0" r="1.9" fill="#4080d0"/><circle cx="142.9" cy="912.3" r="1.4" fill="#4a82d0"/><circle cx="145.0" cy="913.3" r="1.3" fill="#5a8cd4"/><circle cx="13.0" cy="919.3" r="1.2" fill="#5a8cd4"/><circle cx="17.6" cy="922.2" r="1.7" fill="#4a82d0"/><circle cx="24.9" cy="919.4" r="1.6" fill="#4080d0"/><circle cx="33.2" cy="921.1" r="1.6" fill="#4080d0"/><circle cx="39.2" cy="918.1" r="1.8" fill="#4a82d0"/><circle cx="47.6" cy="920.0" r="2.0" fill="#4080d0"/><circle cx="52.1" cy="920.4" r="1.8" fill="#5a8cd4"/><circle cx="59.1" cy="919.2" r="1.2" fill="#4a82d0"/><circle cx="60.6" cy="917.9" r="1.4" fill="#4080d0"/><circle cx="70.0" cy="920.1" r="1.3" fill="#5a8cd4"/><circle cx="74.2" cy="921.5" r="1.9" fill="#5a8cd4"/><circle cx="76.3" cy="921.6" r="1.3" fill="#4080d0"/><circle cx="85.1" cy="920.2" r="1.4" fill="#4a82d0"/><circle cx="96.5" cy="921.9" r="1.9" fill="#4a82d0"/><circle cx="100.2" cy="919.4" r="1.6" fill="#4a82d0"/><circle cx="104.1" cy="921.7" r="1.4" fill="#4a82d0"/><circle cx="109.4" cy="921.0" r="1.4" fill="#4a82d0"/><circle cx="117.0" cy="918.3" r="1.4" fill="#4080d0"/><circle cx="123.2" cy="918.6" r="1.9" fill="#4080d0"/><circle cx="127.5" cy="919.5" r="1.7" fill="#4080d0"/><circle cx="132.1" cy="917.6" r="1.2" fill="#4a82d0"/><circle cx="138.2" cy="919.5" r="1.7" fill="#5a8cd4"/><circle cx="141.1" cy="921.3" r="1.8" fill="#5a8cd4"/><circle cx="26.2" cy="924.5" r="1.4" fill="#4a82d0"/><circle cx="33.1" cy="926.7" r="1.9" fill="#4a82d0"/><circle cx="38.6" cy="923.2" r="1.5" fill="#4080d0"/><circle cx="45.7" cy="925.5" r="1.8" fill="#4a82d0"/><circle cx="48.3" cy="926.5" r="1.8" fill="#4a82d0"/><circle cx="56.0" cy="923.4" r="1.9" fill="#4080d0"/><circle cx="59.0" cy="926.7" r="1.9" fill="#4080d0"/><circle cx="63.6" cy="924.3" r="1.8" fill="#4a82d0"/><circle cx="72.8" cy="926.5" r="1.5" fill="#5a8cd4"/><circle cx="75.1" cy="925.4" r="1.3" fill="#4080d0"/><circle cx="83.2" cy="926.6" r="1.7" fill="#5a8cd4"/><circle cx="92.6" cy="925.3" r="1.8" fill="#5a8cd4"/><circle cx="101.9" cy="925.9" r="1.4" fill="#4080d0"/><circle cx="108.2" cy="923.4" r="1.8" fill="#4a82d0"/><circle cx="114.8" cy="927.2" r="1.8" fill="#5a8cd4"/><circle cx="118.2" cy="924.3" r="1.5" fill="#4080d0"/><circle cx="122.6" cy="926.1" r="1.7" fill="#4a82d0"/><circle cx="131.6" cy="923.9" r="1.3" fill="#4080d0"/><circle cx="137.2" cy="927.1" r="1.3" fill="#4080d0"/><circle cx="142.7" cy="925.8" r="1.8" fill="#5a8cd4"/><circle cx="13.3" cy="930.3" r="1.3" fill="#5a8cd4"/><circle cx="25.3" cy="933.1" r="1.8" fill="#5a8cd4"/><circle cx="41.4" cy="928.9" r="1.3" fill="#4080d0"/><circle cx="43.9" cy="930.3" r="1.3" fill="#5a8cd4"/><circle cx="49.7" cy="929.7" r="1.4" fill="#4a82d0"/><circle cx="59.1" cy="932.5" r="1.6" fill="#4a82d0"/><circle cx="64.2" cy="929.1" r="1.2" fill="#4080d0"/><circle cx="68.1" cy="932.9" r="1.9" fill="#5a8cd4"/><circle cx="73.9" cy="929.6" r="1.9" fill="#4080d0"/><circle cx="79.0" cy="928.9" r="1.7" fill="#4a82d0"/><circle cx="90.8" cy="933.1" r="2.0" fill="#4a82d0"/><circle cx="99.0" cy="929.0" r="1.8" fill="#4a82d0"/><circle cx="103.3" cy="933.1" r="1.7" fill="#5a8cd4"/><circle cx="113.0" cy="932.6" r="1.8" fill="#5a8cd4"/><circle cx="117.1" cy="929.8" r="1.7" fill="#4080d0"/><circle cx="120.2" cy="930.8" r="1.6" fill="#4080d0"/><circle cx="124.8" cy="932.6" r="1.5" fill="#4080d0"/><circle cx="130.2" cy="929.4" r="1.7" fill="#4080d0"/><circle cx="141.3" cy="933.1" r="1.7" fill="#4a82d0"/><circle cx="13.5" cy="936.8" r="1.9" fill="#5a8cd4"/><circle cx="16.4" cy="935.7" r="1.8" fill="#4080d0"/><circle cx="22.9" cy="935.1" r="1.7" fill="#5a8cd4"/><circle cx="26.0" cy="935.2" r="1.8" fill="#4080d0"/><circle cx="30.4" cy="938.3" r="1.7" fill="#4080d0"/><circle cx="37.4" cy="935.4" r="1.8" fill="#4a82d0"/><circle cx="41.4" cy="937.6" r="1.9" fill="#4a82d0"/><circle cx="50.5" cy="936.8" r="2.0" fill="#4a82d0"/><circle cx="61.7" cy="936.3" r="1.4" fill="#4a82d0"/><circle cx="66.2" cy="934.5" r="1.6" fill="#4080d0"/><circle cx="72.1" cy="934.4" r="1.3" fill="#4a82d0"/><circle cx="77.4" cy="936.5" r="1.6" fill="#4080d0"/><circle cx="79.9" cy="935.5" r="1.3" fill="#5a8cd4"/><circle cx="87.0" cy="936.1" r="1.9" fill="#4080d0"/><circle cx="99.2" cy="934.2" r="1.5" fill="#4080d0"/><circle cx="105.3" cy="937.9" r="2.0" fill="#4a82d0"/><circle cx="109.1" cy="936.5" r="1.5" fill="#5a8cd4"/><circle cx="113.9" cy="934.0" r="1.3" fill="#4a82d0"/><circle cx="121.2" cy="937.4" r="1.4" fill="#4a82d0"/><circle cx="126.7" cy="935.7" r="1.9" fill="#4a82d0"/><circle cx="129.7" cy="938.1" r="1.5" fill="#5a8cd4"/><circle cx="142.4" cy="935.3" r="1.6" fill="#5a8cd4"/><circle cx="16.2" cy="941.0" r="2.0" fill="#4080d0"/><circle cx="20.4" cy="943.7" r="1.2" fill="#4080d0"/><circle cx="26.6" cy="943.8" r="1.6" fill="#4a82d0"/><circle cx="35.2" cy="939.7" r="1.9" fill="#5a8cd4"/><circle cx="39.4" cy="941.2" r="1.3" fill="#4080d0"/><circle cx="43.8" cy="939.3" r="1.8" fill="#4a82d0"/><circle cx="58.1" cy="942.7" r="1.7" fill="#5a8cd4"/><circle cx="60.2" cy="942.1" r="1.2" fill="#4a82d0"/><circle cx="68.5" cy="943.7" r="1.3" fill="#5a8cd4"/><circle cx="72.8" cy="939.7" r="1.7" fill="#4a82d0"/><circle cx="83.6" cy="943.4" r="1.2" fill="#5a8cd4"/><circle cx="88.4" cy="942.8" r="1.6" fill="#4080d0"/><circle cx="97.8" cy="942.3" r="1.5" fill="#4080d0"/><circle cx="113.0" cy="939.8" r="1.9" fill="#4a82d0"/><circle cx="126.1" cy="942.7" r="1.9" fill="#5a8cd4"/><circle cx="133.1" cy="943.9" r="1.9" fill="#4080d0"/><circle cx="139.8" cy="941.6" r="1.7" fill="#4a82d0"/><circle cx="17.6" cy="944.9" r="1.7" fill="#5a8cd4"/><circle cx="20.4" cy="947.4" r="1.4" fill="#4a82d0"/><circle cx="28.6" cy="945.0" r="1.7" fill="#4080d0"/><circle cx="33.3" cy="948.4" r="1.6" fill="#4a82d0"/><circle cx="37.1" cy="945.5" r="1.9" fill="#5a8cd4"/><circle cx="41.7" cy="945.3" r="1.4" fill="#4a82d0"/><circle cx="54.2" cy="949.3" r="1.3" fill="#4a82d0"/><circle cx="61.5" cy="948.1" r="1.6" fill="#4a82d0"/><circle cx="62.7" cy="945.9" r="1.4" fill="#5a8cd4"/><circle cx="72.8" cy="946.3" r="1.3" fill="#5a8cd4"/><circle cx="74.2" cy="945.7" r="1.9" fill="#4080d0"/><circle cx="88.4" cy="945.5" r="1.3" fill="#4080d0"/><circle cx="94.5" cy="946.6" r="1.5" fill="#5a8cd4"/><circle cx="97.6" cy="946.9" r="1.7" fill="#4080d0"/><circle cx="103.5" cy="944.9" r="1.6" fill="#4a82d0"/><circle cx="106.7" cy="945.7" r="1.3" fill="#4a82d0"/><circle cx="123.5" cy="946.7" r="1.5" fill="#4a82d0"/><circle cx="128.3" cy="945.2" r="1.6" fill="#4a82d0"/><circle cx="136.6" cy="947.9" r="1.5" fill="#5a8cd4"/><circle cx="141.2" cy="948.5" r="1.9" fill="#4080d0"/><circle cx="143.8" cy="947.9" r="1.3" fill="#5a8cd4"/><circle cx="15.6" cy="952.4" r="1.6" fill="#5a8cd4"/><circle cx="23.5" cy="953.6" r="1.5" fill="#4080d0"/><circle cx="35.7" cy="950.7" r="1.9" fill="#5a8cd4"/><circle cx="48.2" cy="952.1" r="1.6" fill="#4080d0"/><circle cx="50.3" cy="952.3" r="1.6" fill="#4a82d0"/><circle cx="54.7" cy="951.4" r="1.4" fill="#5a8cd4"/><circle cx="62.0" cy="951.4" r="1.6" fill="#4a82d0"/><circle cx="72.3" cy="954.6" r="1.6" fill="#5a8cd4"/><circle cx="78.6" cy="954.1" r="1.9" fill="#4a82d0"/><circle cx="87.8" cy="951.8" r="1.2" fill="#5a8cd4"/><circle cx="98.5" cy="952.5" r="1.8" fill="#4080d0"/><circle cx="105.4" cy="953.4" r="1.6" fill="#5a8cd4"/><circle cx="118.2" cy="953.3" r="2.0" fill="#4a82d0"/><circle cx="120.2" cy="954.3" r="1.7" fill="#5a8cd4"/><circle cx="133.6" cy="953.3" r="1.8" fill="#4a82d0"/><circle cx="136.4" cy="954.4" r="1.4" fill="#4a82d0"/><circle cx="14.3" cy="956.5" r="1.4" fill="#4080d0"/><circle cx="21.0" cy="957.0" r="1.7" fill="#4a82d0"/><circle cx="26.9" cy="958.5" r="1.4" fill="#4080d0"/><circle cx="31.9" cy="959.6" r="1.5" fill="#4080d0"/><circle cx="35.8" cy="956.6" r="1.5" fill="#4a82d0"/><circle cx="42.3" cy="957.7" r="1.6" fill="#4a82d0"/><circle cx="48.7" cy="958.9" r="1.6" fill="#5a8cd4"/><circle cx="53.5" cy="956.7" r="2.0" fill="#5a8cd4"/><circle cx="59.1" cy="955.9" r="1.5" fill="#4a82d0"/><circle cx="65.2" cy="955.7" r="1.9" fill="#5a8cd4"/><circle cx="68.2" cy="955.4" r="1.4" fill="#4080d0"/><circle cx="74.2" cy="958.1" r="1.7" fill="#4a82d0"/><circle cx="81.3" cy="957.2" r="1.8" fill="#5a8cd4"/><circle cx="88.3" cy="960.0" r="1.2" fill="#5a8cd4"/><circle cx="94.2" cy="958.2" r="2.0" fill="#5a8cd4"/><circle cx="95.3" cy="960.0" r="1.4" fill="#4a82d0"/><circle cx="100.9" cy="959.1" r="1.5" fill="#4a82d0"/><circle cx="107.3" cy="959.0" r="1.5" fill="#4080d0"/><circle cx="118.0" cy="957.2" r="1.8" fill="#4a82d0"/><circle cx="129.6" cy="958.1" r="1.5" fill="#5a8cd4"/><circle cx="138.7" cy="955.9" r="1.4" fill="#4a82d0"/><circle cx="11.7" cy="960.9" r="1.4" fill="#4a82d0"/><circle cx="36.3" cy="961.5" r="1.5" fill="#4080d0"/><circle cx="49.9" cy="961.8" r="2.0" fill="#5a8cd4"/><circle cx="68.3" cy="961.4" r="1.4" fill="#4080d0"/><circle cx="88.0" cy="962.1" r="1.4" fill="#4080d0"/><circle cx="98.0" cy="961.8" r="1.7" fill="#4080d0"/></g>
</g></g>
<clipPath id="cp6"><rect x="151" y="879.1" width="139.2" height="84.1"/></clipPath>
<g clip-path="url(#cp6)"><g filter="url(#fb)">
<rect x="150.00" y="878.10" width="141.20" height="86.10" fill="#9ea6cc"/>
<rect x="151" y="879.1" width="139.2" height="84.1" filter="url(#fr)" opacity="0.4"/>
<g fill="#fff" opacity="0.6000000000000001"><rect x="229.6" y="941.4" width="3.4" height="0.9" transform="rotate(159,229.6,941.4)"/><rect x="241.8" y="950.2" width="3.5" height="0.9" transform="rotate(144,241.8,950.2)"/><rect x="169.4" y="938.6" width="1" height="1"/><rect x="265.0" y="949.0" width="1" height="1"/><rect x="235.8" y="957.2" width="3.5" height="0.9" transform="rotate(30,235.8,957.2)"/><rect x="244.9" y="960.2" width="1" height="1"/><rect x="226.1" y="954.9" width="4.4" height="0.9" transform="rotate(44,226.1,954.9)"/><rect x="250.4" y="932.7" width="1" height="1"/><rect x="159.8" y="911.3" width="2.9" height="0.9" transform="rotate(45,159.8,911.3)"/><rect x="165.5" y="947.9" width="3.0" height="0.9" transform="rotate(0,165.5,947.9)"/><rect x="188.2" y="897.6" width="1" height="1"/><rect x="239.8" y="950.5" width="1" height="1"/><rect x="189.2" y="924.2" width="2.3" height="0.9" transform="rotate(44,189.2,924.2)"/><rect x="200.0" y="918.9" width="1" height="1"/><rect x="287.0" y="953.4" width="4.3" height="0.9" transform="rotate(44,287.0,953.4)"/><rect x="280.0" y="924.3" width="1.6" height="0.9" transform="rotate(12,280.0,924.3)"/><rect x="282.6" y="944.1" width="1" height="1"/><rect x="238.9" y="908.5" width="1" height="1"/><rect x="181.1" y="939.7" width="1" height="1"/><rect x="233.0" y="889.5" width="3.8" height="0.9" transform="rotate(1,233.0,889.5)"/><rect x="279.7" y="933.8" width="1" height="1"/><rect x="181.1" y="952.3" width="4.2" height="0.9" transform="rotate(142,181.1,952.3)"/><rect x="179.2" y="932.4" width="2.1" height="0.9" transform="rotate(152,179.2,932.4)"/><rect x="227.4" y="922.8" width="2.3" height="0.9" transform="rotate(66,227.4,922.8)"/><rect x="228.0" y="932.0" width="1" height="1"/><rect x="160.1" y="957.2" width="1" height="1"/><rect x="205.3" y="955.2" width="1" height="1"/><rect x="166.3" y="918.4" width="3.3" height="0.9" transform="rotate(137,166.3,918.4)"/><rect x="177.2" y="929.5" width="1" height="1"/><rect x="232.8" y="910.4" width="2.6" height="0.9" transform="rotate(6,232.8,910.4)"/><rect x="268.1" y="911.9" width="4.4" height="0.9" transform="rotate(15,268.1,911.9)"/><rect x="288.3" y="884.5" width="1" height="1"/><rect x="156.5" y="952.4" width="4.0" height="0.9" transform="rotate(84,156.5,952.4)"/><rect x="238.2" y="928.2" width="3.8" height="0.9" transform="rotate(143,238.2,928.2)"/><rect x="237.1" y="883.5" width="2.7" height="0.9" transform="rotate(170,237.1,883.5)"/><rect x="157.5" y="937.8" width="1" height="1"/><rect x="220.4" y="926.5" width="2.8" height="0.9" transform="rotate(164,220.4,926.5)"/><rect x="151.8" y="879.3" width="1" height="1"/><rect x="179.3" y="958.5" width="1" height="1"/><rect x="250.7" y="884.2" width="1" height="1"/><rect x="231.4" y="931.5" width="3.8" height="0.9" transform="rotate(45,231.4,931.5)"/><rect x="215.6" y="942.0" width="1" height="1"/><rect x="205.6" y="882.9" width="2.1" height="0.9" transform="rotate(45,205.6,882.9)"/><rect x="270.5" y="913.2" width="2.8" height="0.9" transform="rotate(0,270.5,913.2)"/><rect x="197.5" y="938.3" width="1" height="1"/><rect x="241.3" y="941.8" width="1" height="1"/><rect x="204.6" y="890.8" width="4.1" height="0.9" transform="rotate(50,204.6,890.8)"/><rect x="174.3" y="932.6" width="1" height="1"/><rect x="226.0" y="935.2" width="4.5" height="0.9" transform="rotate(151,226.0,935.2)"/><rect x="163.3" y="897.7" width="1" height="1"/><rect x="194.9" y="892.5" width="3.1" height="0.9" transform="rotate(124,194.9,892.5)"/><rect x="248.4" y="894.7" width="1" height="1"/><rect x="218.7" y="917.7" width="1" height="1"/><rect x="205.2" y="906.0" width="3.5" height="0.9" transform="rotate(79,205.2,906.0)"/><rect x="151.8" y="933.4" width="1" height="1"/><rect x="203.4" y="927.9" width="1" height="1"/><rect x="287.6" y="889.8" width="1" height="1"/><rect x="219.5" y="925.6" width="2.6" height="0.9" transform="rotate(89,219.5,925.6)"/><rect x="186.3" y="893.0" width="2.9" height="0.9" transform="rotate(25,186.3,893.0)"/><rect x="209.7" y="882.3" width="3.4" height="0.9" transform="rotate(166,209.7,882.3)"/><rect x="267.0" y="910.2" width="1" height="1"/><rect x="178.7" y="935.8" width="1" height="1"/><rect x="275.9" y="937.4" width="2.6" height="0.9" transform="rotate(171,275.9,937.4)"/><rect x="174.7" y="901.2" width="3.2" height="0.9" transform="rotate(72,174.7,901.2)"/><rect x="243.1" y="913.7" width="2.4" height="0.9" transform="rotate(32,243.1,913.7)"/><rect x="189.4" y="906.3" width="1" height="1"/><rect x="229.6" y="900.1" width="1" height="1"/><rect x="227.3" y="889.6" width="3.7" height="0.9" transform="rotate(32,227.3,889.6)"/><rect x="170.6" y="946.9" width="2.3" height="0.9" transform="rotate(176,170.6,946.9)"/><rect x="204.6" y="893.1" width="3.7" height="0.9" transform="rotate(154,204.6,893.1)"/><rect x="161.9" y="908.7" width="2.3" height="0.9" transform="rotate(160,161.9,908.7)"/><rect x="151.9" y="944.8" width="1" height="1"/><rect x="253.9" y="897.1" width="2.6" height="0.9" transform="rotate(118,253.9,897.1)"/><rect x="166.7" y="945.4" width="3.6" height="0.9" transform="rotate(116,166.7,945.4)"/><rect x="283.0" y="934.2" width="1" height="1"/><rect x="202.3" y="961.4" width="1" height="1"/><rect x="232.3" y="954.9" width="3.7" height="0.9" transform="rotate(130,232.3,954.9)"/><rect x="230.7" y="949.9" width="2.2" height="0.9" transform="rotate(164,230.7,949.9)"/><rect x="256.3" y="915.7" width="1" height="1"/><rect x="230.8" y="930.6" width="1" height="1"/><rect x="178.1" y="882.3" width="1" height="1"/><rect x="278.8" y="909.8" width="1" height="1"/><rect x="179.5" y="889.2" width="1" height="1"/><rect x="158.4" y="907.1" width="4.1" height="0.9" transform="rotate(165,158.4,907.1)"/><rect x="203.7" y="932.9" width="3.8" height="0.9" transform="rotate(29,203.7,932.9)"/><rect x="236.7" y="951.1" width="1" height="1"/><rect x="264.6" y="935.9" width="2.8" height="0.9" transform="rotate(73,264.6,935.9)"/><rect x="249.4" y="927.7" width="1" height="1"/><rect x="227.3" y="937.6" width="1" height="1"/><rect x="195.0" y="918.3" width="3.6" height="0.9" transform="rotate(162,195.0,918.3)"/><rect x="224.7" y="894.3" width="1" height="1"/><rect x="195.5" y="931.1" width="1" height="1"/><rect x="250.0" y="919.6" width="3.7" height="0.9" transform="rotate(44,250.0,919.6)"/><rect x="256.2" y="915.0" width="1" height="1"/><rect x="223.1" y="891.6" width="1" height="1"/><rect x="251.3" y="896.1" width="1" height="1"/><rect x="216.1" y="908.5" width="2.8" height="0.9" transform="rotate(55,216.1,908.5)"/><rect x="227.2" y="911.6" width="3.2" height="0.9" transform="rotate(50,227.2,911.6)"/><rect x="234.9" y="957.5" width="1" height="1"/><rect x="208.8" y="889.3" width="1" height="1"/><rect x="231.4" y="958.3" width="1" height="1"/><rect x="163.3" y="962.3" width="1" height="1"/><rect x="283.3" y="882.6" width="4.4" height="0.9" transform="rotate(50,283.3,882.6)"/><rect x="200.0" y="927.6" width="2.2" height="0.9" transform="rotate(69,200.0,927.6)"/><rect x="237.9" y="888.9" width="1" height="1"/><rect x="204.0" y="882.2" width="2.6" height="0.9" transform="rotate(72,204.0,882.2)"/><rect x="279.5" y="941.0" width="1" height="1"/><rect x="245.0" y="892.0" width="1" height="1"/><rect x="272.2" y="887.4" width="2.5" height="0.9" transform="rotate(151,272.2,887.4)"/><rect x="185.8" y="932.5" width="2.3" height="0.9" transform="rotate(122,185.8,932.5)"/><rect x="223.5" y="929.6" width="1" height="1"/><rect x="252.7" y="910.6" width="1" height="1"/><rect x="211.2" y="892.2" width="1" height="1"/><rect x="245.1" y="888.9" width="1" height="1"/><rect x="281.0" y="907.7" width="2.7" height="0.9" transform="rotate(3,281.0,907.7)"/><rect x="205.5" y="880.6" width="2.9" height="0.9" transform="rotate(86,205.5,880.6)"/><rect x="275.2" y="923.4" width="3.0" height="0.9" transform="rotate(179,275.2,923.4)"/><rect x="257.5" y="953.7" width="4.5" height="0.9" transform="rotate(147,257.5,953.7)"/><rect x="268.3" y="881.8" width="3.9" height="0.9" transform="rotate(70,268.3,881.8)"/><rect x="166.6" y="884.4" width="1" height="1"/><rect x="194.7" y="884.4" width="1" height="1"/><rect x="168.3" y="933.9" width="1" height="1"/><rect x="242.2" y="952.7" width="1" height="1"/><rect x="249.1" y="944.4" width="1" height="1"/><rect x="201.1" y="901.5" width="1" height="1"/><rect x="175.7" y="949.3" width="3.3" height="0.9" transform="rotate(133,175.7,949.3)"/><rect x="200.5" y="911.3" width="1" height="1"/><rect x="197.8" y="907.9" width="3.7" height="0.9" transform="rotate(125,197.8,907.9)"/><rect x="155.1" y="891.5" width="3.9" height="0.9" transform="rotate(169,155.1,891.5)"/><rect x="190.4" y="961.5" width="4.3" height="0.9" transform="rotate(84,190.4,961.5)"/><rect x="288.1" y="918.7" width="3.9" height="0.9" transform="rotate(60,288.1,918.7)"/><rect x="251.4" y="948.9" width="1" height="1"/><rect x="196.4" y="889.0" width="1" height="1"/><rect x="247.6" y="933.2" width="4.4" height="0.9" transform="rotate(90,247.6,933.2)"/><rect x="254.5" y="901.9" width="3.0" height="0.9" transform="rotate(119,254.5,901.9)"/><rect x="225.1" y="950.6" width="1" height="1"/><rect x="229.6" y="890.9" width="1" height="1"/><rect x="213.6" y="880.2" width="1" height="1"/><rect x="273.6" y="926.0" width="4.0" height="0.9" transform="rotate(158,273.6,926.0)"/><rect x="151.6" y="958.4" width="1" height="1"/><rect x="210.1" y="904.4" width="1" height="1"/><rect x="226.0" y="889.6" width="1.6" height="0.9" transform="rotate(142,226.0,889.6)"/><rect x="248.1" y="945.9" width="3.4" height="0.9" transform="rotate(64,248.1,945.9)"/></g>
<rect x="151" y="879.1" width="139.2" height="84.1" filter="url(#fw)" opacity="0.4"/>
<g opacity="0.68"><circle cx="154.6" cy="883.0" r="1.5" fill="#4a86d6"/><circle cx="160.0" cy="880.5" r="1.7" fill="#4a86d6"/><circle cx="164.7" cy="883.6" r="1.3" fill="#4a86d6"/><circle cx="171.0" cy="884.0" r="1.5" fill="#4a86cc"/><circle cx="185.6" cy="884.3" r="1.9" fill="#4a86d6"/><circle cx="197.8" cy="882.5" r="1.2" fill="#4a86d6"/><circle cx="201.8" cy="881.8" r="1.6" fill="#5a90d8"/><circle cx="215.6" cy="882.1" r="2.0" fill="#4a86d6"/><circle cx="221.4" cy="882.9" r="1.6" fill="#5a90d8"/><circle cx="223.5" cy="880.1" r="1.6" fill="#4a86cc"/><circle cx="245.5" cy="884.3" r="1.8" fill="#4a86cc"/><circle cx="253.3" cy="881.8" r="1.9" fill="#4a86cc"/><circle cx="264.4" cy="883.7" r="1.6" fill="#5a90d8"/><circle cx="276.0" cy="883.9" r="2.0" fill="#5a90d8"/><circle cx="279.9" cy="882.4" r="1.9" fill="#4a86d6"/><circle cx="287.3" cy="881.9" r="1.8" fill="#4a86cc"/><circle cx="158.3" cy="889.6" r="1.5" fill="#4a86d6"/><circle cx="162.3" cy="887.0" r="1.6" fill="#4a86cc"/><circle cx="174.2" cy="889.3" r="1.6" fill="#4a86d6"/><circle cx="177.1" cy="887.5" r="1.7" fill="#5a90d8"/><circle cx="189.3" cy="886.9" r="2.0" fill="#5a90d8"/><circle cx="192.6" cy="889.1" r="1.3" fill="#4a86d6"/><circle cx="212.3" cy="888.6" r="1.9" fill="#4a86cc"/><circle cx="217.5" cy="885.0" r="1.8" fill="#4a86d6"/><circle cx="222.8" cy="889.4" r="2.0" fill="#4a86cc"/><circle cx="225.8" cy="888.0" r="1.9" fill="#4a86cc"/><circle cx="234.6" cy="887.1" r="1.6" fill="#4a86cc"/><circle cx="248.2" cy="887.0" r="1.8" fill="#4a86d6"/><circle cx="254.3" cy="886.9" r="1.4" fill="#5a90d8"/><circle cx="260.7" cy="886.9" r="1.7" fill="#4a86cc"/><circle cx="265.6" cy="887.0" r="1.4" fill="#5a90d8"/><circle cx="278.3" cy="888.0" r="1.6" fill="#4a86d6"/><circle cx="284.0" cy="889.1" r="1.3" fill="#5a90d8"/><circle cx="156.2" cy="891.7" r="1.7" fill="#5a90d8"/><circle cx="157.3" cy="891.0" r="1.7" fill="#5a90d8"/><circle cx="169.9" cy="892.2" r="1.6" fill="#5a90d8"/><circle cx="173.8" cy="892.4" r="1.8" fill="#5a90d8"/><circle cx="182.4" cy="891.6" r="1.7" fill="#5a90d8"/><circle cx="184.5" cy="892.4" r="1.8" fill="#4a86cc"/><circle cx="194.6" cy="894.3" r="1.5" fill="#4a86cc"/><circle cx="197.4" cy="893.9" r="1.4" fill="#4a86d6"/><circle cx="209.8" cy="894.3" r="1.9" fill="#4a86d6"/><circle cx="212.4" cy="894.8" r="2.0" fill="#5a90d8"/><circle cx="219.8" cy="890.9" r="1.5" fill="#4a86d6"/><circle cx="225.4" cy="893.2" r="1.4" fill="#4a86d6"/><circle cx="229.3" cy="893.6" r="1.4" fill="#4a86cc"/><circle cx="236.2" cy="890.4" r="1.4" fill="#4a86cc"/><circle cx="242.4" cy="893.1" r="1.9" fill="#5a90d8"/><circle cx="253.8" cy="895.3" r="1.2" fill="#4a86cc"/><circle cx="258.6" cy="894.0" r="1.3" fill="#5a90d8"/><circle cx="265.4" cy="892.1" r="1.7" fill="#5a90d8"/><circle cx="271.5" cy="891.3" r="1.8" fill="#4a86d6"/><circle cx="276.3" cy="892.6" r="1.4" fill="#4a86d6"/><circle cx="280.3" cy="894.7" r="1.4" fill="#5a90d8"/><circle cx="286.7" cy="890.5" r="1.4" fill="#4a86cc"/><circle cx="288.9" cy="890.8" r="1.3" fill="#4a86cc"/><circle cx="156.0" cy="897.0" r="1.6" fill="#4a86cc"/><circle cx="162.1" cy="899.1" r="1.9" fill="#4a86d6"/><circle cx="165.7" cy="897.2" r="1.2" fill="#4a86d6"/><circle cx="174.9" cy="898.6" r="1.3" fill="#4a86cc"/><circle cx="179.7" cy="898.5" r="1.7" fill="#5a90d8"/><circle cx="184.9" cy="900.5" r="1.7" fill="#5a90d8"/><circle cx="188.0" cy="900.2" r="1.3" fill="#4a86cc"/><circle cx="194.2" cy="899.6" r="1.6" fill="#4a86cc"/><circle cx="200.7" cy="896.3" r="1.4" fill="#4a86cc"/><circle cx="204.9" cy="897.3" r="1.4" fill="#4a86cc"/><circle cx="212.4" cy="900.4" r="1.6" fill="#5a90d8"/><circle cx="220.6" cy="897.6" r="1.8" fill="#4a86cc"/><circle cx="227.8" cy="897.1" r="1.9" fill="#4a86cc"/><circle cx="234.7" cy="898.8" r="1.8" fill="#4a86d6"/><circle cx="240.2" cy="898.4" r="1.3" fill="#4a86cc"/><circle cx="242.7" cy="896.3" r="1.4" fill="#4a86d6"/><circle cx="251.1" cy="898.1" r="1.8" fill="#5a90d8"/><circle cx="257.8" cy="897.9" r="1.2" fill="#5a90d8"/><circle cx="262.9" cy="897.5" r="1.8" fill="#5a90d8"/><circle cx="268.9" cy="898.6" r="1.7" fill="#4a86d6"/><circle cx="270.2" cy="897.5" r="1.5" fill="#4a86cc"/><circle cx="275.7" cy="896.1" r="1.5" fill="#4a86cc"/><circle cx="283.3" cy="898.7" r="1.7" fill="#4a86d6"/><circle cx="287.8" cy="899.4" r="1.7" fill="#4a86d6"/><circle cx="152.6" cy="904.4" r="1.7" fill="#4a86d6"/><circle cx="159.4" cy="904.1" r="1.7" fill="#4a86cc"/><circle cx="165.3" cy="903.3" r="1.8" fill="#5a90d8"/><circle cx="167.9" cy="902.7" r="1.5" fill="#4a86cc"/><circle cx="178.1" cy="903.8" r="2.0" fill="#4a86cc"/><circle cx="183.0" cy="902.2" r="1.5" fill="#4a86d6"/><circle cx="184.5" cy="904.0" r="1.8" fill="#5a90d8"/><circle cx="193.4" cy="905.7" r="1.6" fill="#5a90d8"/><circle cx="196.5" cy="901.8" r="1.9" fill="#4a86cc"/><circle cx="205.1" cy="903.6" r="1.9" fill="#4a86cc"/><circle cx="209.2" cy="903.3" r="1.3" fill="#4a86d6"/><circle cx="215.0" cy="904.4" r="1.6" fill="#4a86d6"/><circle cx="226.1" cy="903.3" r="1.9" fill="#4a86d6"/><circle cx="228.8" cy="901.8" r="1.2" fill="#4a86cc"/><circle cx="236.0" cy="902.2" r="1.7" fill="#5a90d8"/><circle cx="242.1" cy="902.2" r="1.8" fill="#4a86d6"/><circle cx="245.6" cy="904.4" r="1.6" fill="#4a86d6"/><circle cx="250.7" cy="904.3" r="1.4" fill="#5a90d8"/><circle cx="259.2" cy="902.3" r="1.3" fill="#4a86d6"/><circle cx="261.4" cy="902.4" r="1.9" fill="#5a90d8"/><circle cx="268.0" cy="904.2" r="1.3" fill="#5a90d8"/><circle cx="275.3" cy="903.4" r="1.8" fill="#4a86cc"/><circle cx="279.2" cy="904.4" r="1.8" fill="#4a86cc"/><circle cx="283.9" cy="902.9" r="1.9" fill="#4a86d6"/><circle cx="155.4" cy="909.3" r="1.9" fill="#5a90d8"/><circle cx="162.0" cy="908.5" r="2.0" fill="#5a90d8"/><circle cx="169.3" cy="911.0" r="1.2" fill="#4a86d6"/><circle cx="178.7" cy="907.3" r="1.5" fill="#5a90d8"/><circle cx="183.8" cy="911.8" r="1.8" fill="#4a86d6"/><circle cx="191.4" cy="909.9" r="2.0" fill="#4a86d6"/><circle cx="199.0" cy="907.7" r="1.9" fill="#4a86d6"/><circle cx="215.3" cy="907.6" r="1.6" fill="#4a86cc"/><circle cx="223.5" cy="909.3" r="1.6" fill="#4a86cc"/><circle cx="226.6" cy="907.7" r="1.7" fill="#4a86cc"/><circle cx="232.2" cy="909.5" r="2.0" fill="#5a90d8"/><circle cx="241.2" cy="907.0" r="1.7" fill="#4a86cc"/><circle cx="242.3" cy="907.5" r="1.3" fill="#5a90d8"/><circle cx="249.8" cy="907.2" r="1.7" fill="#5a90d8"/><circle cx="254.8" cy="908.7" r="1.4" fill="#4a86d6"/><circle cx="261.9" cy="910.1" r="1.3" fill="#5a90d8"/><circle cx="267.2" cy="908.3" r="1.6" fill="#4a86d6"/><circle cx="277.7" cy="909.8" r="1.6" fill="#5a90d8"/><circle cx="280.8" cy="908.7" r="1.3" fill="#5a90d8"/><circle cx="286.4" cy="909.5" r="1.7" fill="#4a86cc"/><circle cx="157.7" cy="916.6" r="1.2" fill="#5a90d8"/><circle cx="162.9" cy="916.3" r="1.5" fill="#5a90d8"/><circle cx="174.5" cy="916.3" r="1.2" fill="#4a86d6"/><circle cx="192.1" cy="913.1" r="1.4" fill="#4a86cc"/><circle cx="198.5" cy="914.8" r="1.6" fill="#4a86cc"/><circle cx="202.6" cy="915.2" r="2.0" fill="#5a90d8"/><circle cx="220.7" cy="914.8" r="1.7" fill="#4a86cc"/><circle cx="225.3" cy="916.8" r="1.9" fill="#5a90d8"/><circle cx="233.9" cy="916.9" r="1.3" fill="#5a90d8"/><circle cx="249.4" cy="913.1" r="2.0" fill="#4a86d6"/><circle cx="253.6" cy="915.4" r="1.2" fill="#4a86cc"/><circle cx="260.3" cy="916.5" r="1.6" fill="#4a86cc"/><circle cx="263.5" cy="913.8" r="1.8" fill="#4a86d6"/><circle cx="271.4" cy="917.2" r="1.5" fill="#4a86d6"/><circle cx="274.7" cy="915.8" r="1.8" fill="#4a86d6"/><circle cx="286.3" cy="916.7" r="1.6" fill="#4a86d6"/><circle cx="157.6" cy="919.6" r="1.7" fill="#5a90d8"/><circle cx="163.2" cy="920.7" r="1.6" fill="#4a86cc"/><circle cx="175.5" cy="918.6" r="1.5" fill="#5a90d8"/><circle cx="176.9" cy="922.3" r="1.3" fill="#4a86cc"/><circle cx="188.2" cy="918.7" r="1.4" fill="#4a86cc"/><circle cx="195.6" cy="921.8" r="1.9" fill="#5a90d8"/><circle cx="200.9" cy="918.7" r="1.3" fill="#5a90d8"/><circle cx="224.3" cy="921.6" r="1.8" fill="#5a90d8"/><circle cx="225.8" cy="922.1" r="1.3" fill="#5a90d8"/><circle cx="231.2" cy="918.9" r="1.8" fill="#5a90d8"/><circle cx="239.0" cy="918.0" r="1.7" fill="#4a86cc"/><circle cx="243.9" cy="918.3" r="1.8" fill="#5a90d8"/><circle cx="251.4" cy="921.1" r="1.3" fill="#5a90d8"/><circle cx="263.0" cy="919.7" r="1.4" fill="#5a90d8"/><circle cx="266.7" cy="921.3" r="1.9" fill="#5a90d8"/><circle cx="271.4" cy="919.7" r="1.9" fill="#4a86d6"/><circle cx="279.2" cy="919.1" r="1.4" fill="#4a86d6"/><circle cx="286.2" cy="919.6" r="1.9" fill="#4a86cc"/><circle cx="153.6" cy="927.5" r="2.0" fill="#5a90d8"/><circle cx="158.2" cy="926.0" r="1.5" fill="#4a86d6"/><circle cx="164.4" cy="926.1" r="1.3" fill="#5a90d8"/><circle cx="171.6" cy="923.9" r="1.5" fill="#5a90d8"/><circle cx="173.4" cy="925.0" r="1.3" fill="#4a86cc"/><circle cx="181.4" cy="928.3" r="1.8" fill="#4a86d6"/><circle cx="184.6" cy="928.0" r="1.9" fill="#5a90d8"/><circle cx="192.1" cy="926.8" r="1.9" fill="#5a90d8"/><circle cx="195.4" cy="926.0" r="1.9" fill="#4a86cc"/><circle cx="203.0" cy="926.3" r="1.3" fill="#4a86d6"/><circle cx="224.7" cy="928.1" r="1.4" fill="#4a86d6"/><circle cx="230.9" cy="928.3" r="2.0" fill="#4a86cc"/><circle cx="237.6" cy="925.3" r="1.6" fill="#4a86cc"/><circle cx="240.2" cy="923.4" r="1.2" fill="#4a86d6"/><circle cx="248.1" cy="927.5" r="1.2" fill="#4a86cc"/><circle cx="251.5" cy="927.5" r="1.9" fill="#4a86d6"/><circle cx="258.6" cy="927.3" r="1.7" fill="#4a86cc"/><circle cx="262.9" cy="923.8" r="1.7" fill="#5a90d8"/><circle cx="268.9" cy="924.3" r="1.7" fill="#4a86cc"/><circle cx="272.7" cy="927.5" r="1.7" fill="#4a86d6"/><circle cx="158.7" cy="931.5" r="1.3" fill="#5a90d8"/><circle cx="160.6" cy="929.2" r="1.9" fill="#4a86d6"/><circle cx="171.6" cy="931.5" r="1.4" fill="#4a86d6"/><circle cx="180.3" cy="928.9" r="1.8" fill="#5a90d8"/><circle cx="184.7" cy="930.1" r="1.6" fill="#4a86cc"/><circle cx="193.6" cy="930.3" r="1.5" fill="#5a90d8"/><circle cx="200.0" cy="932.8" r="1.7" fill="#5a90d8"/><circle cx="221.8" cy="932.3" r="1.3" fill="#5a90d8"/><circle cx="225.8" cy="931.4" r="1.9" fill="#5a90d8"/><circle cx="233.4" cy="929.6" r="1.2" fill="#4a86cc"/><circle cx="238.5" cy="931.4" r="2.0" fill="#4a86d6"/><circle cx="244.4" cy="930.6" r="1.3" fill="#4a86cc"/><circle cx="247.8" cy="931.9" r="1.6" fill="#4a86d6"/><circle cx="257.5" cy="933.8" r="1.5" fill="#5a90d8"/><circle cx="259.6" cy="930.2" r="1.6" fill="#4a86cc"/><circle cx="267.8" cy="930.5" r="1.5" fill="#5a90d8"/><circle cx="278.4" cy="931.0" r="1.8" fill="#5a90d8"/><circle cx="283.2" cy="933.0" r="2.0" fill="#4a86cc"/><circle cx="152.6" cy="934.9" r="1.6" fill="#5a90d8"/><circle cx="159.8" cy="934.5" r="1.9" fill="#4a86d6"/><circle cx="165.8" cy="935.0" r="1.6" fill="#4a86cc"/><circle cx="174.6" cy="937.0" r="1.7" fill="#4a86cc"/><circle cx="182.2" cy="936.6" r="1.7" fill="#4a86d6"/><circle cx="202.5" cy="934.4" r="1.3" fill="#4a86d6"/><circle cx="216.1" cy="938.3" r="1.3" fill="#4a86cc"/><circle cx="218.8" cy="937.3" r="1.5" fill="#4a86cc"/><circle cx="231.2" cy="936.9" r="1.3" fill="#4a86d6"/><circle cx="243.3" cy="939.0" r="1.8" fill="#4a86cc"/><circle cx="248.2" cy="935.7" r="1.9" fill="#4a86cc"/><circle cx="254.2" cy="937.7" r="1.9" fill="#4a86d6"/><circle cx="256.0" cy="936.9" r="1.6" fill="#5a90d8"/><circle cx="267.7" cy="936.7" r="1.8" fill="#4a86d6"/><circle cx="279.9" cy="936.8" r="1.3" fill="#5a90d8"/><circle cx="285.7" cy="938.3" r="1.8" fill="#4a86d6"/><circle cx="158.9" cy="940.0" r="1.7" fill="#4a86d6"/><circle cx="163.0" cy="940.9" r="1.3" fill="#4a86cc"/><circle cx="180.8" cy="944.6" r="2.0" fill="#5a90d8"/><circle cx="183.1" cy="940.9" r="1.4" fill="#4a86d6"/><circle cx="189.4" cy="944.4" r="2.0" fill="#4a86cc"/><circle cx="196.2" cy="944.8" r="2.0" fill="#4a86cc"/><circle cx="199.4" cy="942.8" r="1.9" fill="#5a90d8"/><circle cx="207.7" cy="944.0" r="1.9" fill="#4a86d6"/><circle cx="212.8" cy="944.3" r="1.6" fill="#4a86cc"/><circle cx="219.4" cy="941.0" r="1.2" fill="#4a86d6"/><circle cx="223.4" cy="940.8" r="1.5" fill="#5a90d8"/><circle cx="231.8" cy="943.9" r="1.3" fill="#4a86d6"/><circle cx="241.2" cy="944.2" r="1.4" fill="#4a86d6"/><circle cx="245.2" cy="943.4" r="1.5" fill="#4a86cc"/><circle cx="249.5" cy="942.7" r="1.9" fill="#5a90d8"/><circle cx="256.0" cy="942.8" r="1.5" fill="#5a90d8"/><circle cx="261.0" cy="940.9" r="2.0" fill="#4a86d6"/><circle cx="268.7" cy="942.4" r="1.4" fill="#4a86d6"/><circle cx="269.5" cy="942.5" r="1.5" fill="#5a90d8"/><circle cx="275.8" cy="940.1" r="1.7" fill="#5a90d8"/><circle cx="285.2" cy="940.7" r="1.9" fill="#4a86d6"/><circle cx="287.7" cy="943.3" r="1.8" fill="#5a90d8"/><circle cx="152.8" cy="950.0" r="1.9" fill="#4a86d6"/><circle cx="158.2" cy="947.4" r="1.7" fill="#4a86cc"/><circle cx="163.3" cy="948.4" r="1.8" fill="#4a86d6"/><circle cx="169.3" cy="947.6" r="1.3" fill="#5a90d8"/><circle cx="174.5" cy="948.4" r="1.9" fill="#5a90d8"/><circle cx="188.4" cy="949.6" r="1.6" fill="#4a86cc"/><circle cx="191.5" cy="949.5" r="1.3" fill="#4a86cc"/><circle cx="199.8" cy="948.1" r="1.5" fill="#4a86d6"/><circle cx="206.4" cy="950.3" r="1.6" fill="#4a86d6"/><circle cx="212.0" cy="947.8" r="1.4" fill="#5a90d8"/><circle cx="220.5" cy="947.4" r="2.0" fill="#5a90d8"/><circle cx="227.5" cy="947.4" r="1.2" fill="#4a86d6"/><circle cx="241.0" cy="947.0" r="1.4" fill="#4a86d6"/><circle cx="247.0" cy="948.0" r="1.4" fill="#4a86d6"/><circle cx="264.5" cy="947.1" r="1.7" fill="#4a86d6"/><circle cx="268.5" cy="947.0" r="1.3" fill="#4a86cc"/><circle cx="276.8" cy="948.5" r="1.8" fill="#4a86cc"/><circle cx="280.5" cy="947.7" r="1.3" fill="#5a90d8"/><circle cx="285.9" cy="949.7" r="1.7" fill="#5a90d8"/><circle cx="157.0" cy="953.1" r="1.3" fill="#5a90d8"/><circle cx="161.9" cy="955.4" r="1.4" fill="#4a86cc"/><circle cx="166.6" cy="954.9" r="1.4" fill="#5a90d8"/><circle cx="173.4" cy="951.3" r="1.5" fill="#5a90d8"/><circle cx="178.2" cy="952.3" r="1.8" fill="#4a86d6"/><circle cx="184.4" cy="953.5" r="1.2" fill="#4a86d6"/><circle cx="190.4" cy="954.1" r="1.7" fill="#4a86cc"/><circle cx="197.4" cy="954.1" r="1.2" fill="#4a86cc"/><circle cx="200.3" cy="955.3" r="1.2" fill="#4a86cc"/><circle cx="208.1" cy="953.5" r="1.2" fill="#4a86cc"/><circle cx="211.7" cy="954.7" r="1.9" fill="#5a90d8"/><circle cx="217.1" cy="953.2" r="1.4" fill="#4a86d6"/><circle cx="227.9" cy="950.9" r="1.6" fill="#4a86cc"/><circle cx="233.4" cy="954.9" r="1.5" fill="#5a90d8"/><circle cx="241.2" cy="955.8" r="1.3" fill="#4a86d6"/><circle cx="242.4" cy="952.3" r="1.7" fill="#4a86d6"/><circle cx="252.2" cy="954.3" r="1.4" fill="#4a86cc"/><circle cx="253.4" cy="952.5" r="1.9" fill="#5a90d8"/><circle cx="259.0" cy="955.8" r="1.3" fill="#4a86d6"/><circle cx="264.3" cy="953.3" r="1.3" fill="#4a86cc"/><circle cx="274.1" cy="952.4" r="1.4" fill="#4a86cc"/><circle cx="275.6" cy="951.7" r="1.4" fill="#4a86d6"/><circle cx="282.6" cy="951.4" r="2.0" fill="#4a86cc"/><circle cx="288.6" cy="952.7" r="1.4" fill="#5a90d8"/><circle cx="157.6" cy="960.5" r="1.7" fill="#4a86d6"/><circle cx="163.3" cy="960.6" r="1.8" fill="#5a90d8"/><circle cx="168.0" cy="956.5" r="1.7" fill="#4a86d6"/><circle cx="177.5" cy="956.5" r="1.5" fill="#4a86d6"/><circle cx="181.0" cy="957.8" r="1.6" fill="#5a90d8"/><circle cx="189.1" cy="956.4" r="1.6" fill="#5a90d8"/><circle cx="191.5" cy="961.1" r="1.6" fill="#5a90d8"/><circle cx="197.6" cy="959.8" r="1.2" fill="#4a86cc"/><circle cx="204.5" cy="961.0" r="1.9" fill="#4a86cc"/><circle cx="206.7" cy="958.0" r="1.2" fill="#5a90d8"/><circle cx="212.7" cy="956.4" r="1.4" fill="#4a86cc"/><circle cx="225.9" cy="958.6" r="1.9" fill="#4a86d6"/><circle cx="231.3" cy="961.1" r="1.6" fill="#5a90d8"/><circle cx="235.7" cy="956.8" r="1.2" fill="#4a86d6"/><circle cx="244.1" cy="958.1" r="2.0" fill="#5a90d8"/><circle cx="248.0" cy="959.3" r="1.2" fill="#5a90d8"/><circle cx="255.1" cy="957.9" r="1.5" fill="#4a86d6"/><circle cx="260.5" cy="960.0" r="1.3" fill="#4a86cc"/><circle cx="262.7" cy="958.6" r="1.9" fill="#4a86cc"/><circle cx="271.4" cy="960.3" r="1.8" fill="#4a86cc"/><circle cx="272.6" cy="959.1" r="1.2" fill="#5a90d8"/><circle cx="281.8" cy="957.1" r="1.3" fill="#4a86d6"/><circle cx="285.5" cy="957.0" r="1.8" fill="#4a86d6"/><circle cx="268.0" cy="962.0" r="1.5" fill="#4a86cc"/></g>
<line x1="215.00" y1="914.00" x2="223.00" y2="909.00" stroke="#d4e0ee" stroke-width="1.2"/>
<line x1="216.00" y1="921.00" x2="224.00" y2="921.00" stroke="#d4e0ee" stroke-width="1.2"/>
<line x1="207.00" y1="911.00" x2="202.00" y2="905.00" stroke="#d4e0ee" stroke-width="1.2"/>
<line x1="211.00" y1="934.00" x2="213.00" y2="940.00" stroke="#d4e0ee" stroke-width="1.2"/>
<path d="M207.5,910 C210,908.5 213,911 214.5,914.5 C216.5,918 217,922 216,926 C215,930 213,933 210.5,933.5 C208,932.5 206.5,929 207,925.5 C206,920 206,914 207.5,910 Z" fill="#e4e8dc"/>
<ellipse cx="211" cy="924" rx="2.6" ry="4" fill="#d8d8b4" opacity="0.8"/>
</g></g>
<clipPath id="cp7"><rect x="292.4" y="879.1" width="138.9" height="84.1"/></clipPath>
<g clip-path="url(#cp7)"><g filter="url(#fb)">
<rect x="291.40" y="878.10" width="140.90" height="86.10" fill="#9bb0d6"/>
<rect x="292.4" y="879.1" width="138.9" height="84.1" filter="url(#fr)" opacity="0.14"/>
<g fill="#fff" opacity="0.6000000000000001"><rect x="326.5" y="887.0" width="2.2" height="0.9" transform="rotate(148,326.5,887.0)"/><rect x="398.4" y="908.9" width="1.7" height="0.9" transform="rotate(127,398.4,908.9)"/><rect x="411.6" y="931.9" width="3.0" height="0.9" transform="rotate(32,411.6,931.9)"/><rect x="404.9" y="956.8" width="4.3" height="0.9" transform="rotate(63,404.9,956.8)"/><rect x="330.2" y="942.5" width="1" height="1"/><rect x="388.8" y="934.4" width="3.9" height="0.9" transform="rotate(178,388.8,934.4)"/><rect x="411.9" y="937.0" width="1" height="1"/><rect x="364.7" y="886.8" width="4.4" height="0.9" transform="rotate(49,364.7,886.8)"/><rect x="321.7" y="882.4" width="1" height="1"/><rect x="404.2" y="929.3" width="3.1" height="0.9" transform="rotate(33,404.2,929.3)"/><rect x="399.1" y="948.2" width="1.6" height="0.9" transform="rotate(92,399.1,948.2)"/><rect x="422.9" y="942.1" width="2.1" height="0.9" transform="rotate(173,422.9,942.1)"/><rect x="380.7" y="909.1" width="3.8" height="0.9" transform="rotate(118,380.7,909.1)"/><rect x="315.0" y="956.6" width="2.0" height="0.9" transform="rotate(5,315.0,956.6)"/><rect x="293.9" y="959.4" width="1.5" height="0.9" transform="rotate(35,293.9,959.4)"/><rect x="374.1" y="895.6" width="2.2" height="0.9" transform="rotate(83,374.1,895.6)"/><rect x="385.1" y="924.8" width="3.0" height="0.9" transform="rotate(175,385.1,924.8)"/><rect x="381.4" y="889.1" width="4.5" height="0.9" transform="rotate(168,381.4,889.1)"/><rect x="322.7" y="956.3" width="2.8" height="0.9" transform="rotate(128,322.7,956.3)"/><rect x="406.1" y="926.8" width="2.3" height="0.9" transform="rotate(164,406.1,926.8)"/><rect x="398.2" y="931.5" width="4.5" height="0.9" transform="rotate(14,398.2,931.5)"/><rect x="317.1" y="930.7" width="1" height="1"/><rect x="398.3" y="931.3" width="1" height="1"/><rect x="373.6" y="890.5" width="3.4" height="0.9" transform="rotate(65,373.6,890.5)"/><rect x="382.8" y="908.4" width="2.2" height="0.9" transform="rotate(106,382.8,908.4)"/><rect x="404.0" y="944.3" width="3.4" height="0.9" transform="rotate(162,404.0,944.3)"/><rect x="399.2" y="911.0" width="2.3" height="0.9" transform="rotate(173,399.2,911.0)"/><rect x="382.5" y="915.8" width="1" height="1"/><rect x="393.7" y="959.9" width="3.4" height="0.9" transform="rotate(117,393.7,959.9)"/><rect x="347.1" y="942.0" width="2.9" height="0.9" transform="rotate(169,347.1,942.0)"/><rect x="334.0" y="930.4" width="3.8" height="0.9" transform="rotate(85,334.0,930.4)"/><rect x="416.1" y="938.4" width="1" height="1"/><rect x="397.2" y="927.1" width="2.4" height="0.9" transform="rotate(162,397.2,927.1)"/><rect x="352.4" y="887.5" width="2.6" height="0.9" transform="rotate(86,352.4,887.5)"/><rect x="386.9" y="880.8" width="1" height="1"/><rect x="321.5" y="898.5" width="2.1" height="0.9" transform="rotate(139,321.5,898.5)"/><rect x="378.1" y="898.3" width="3.9" height="0.9" transform="rotate(69,378.1,898.3)"/><rect x="315.4" y="908.0" width="1" height="1"/><rect x="341.9" y="921.6" width="2.6" height="0.9" transform="rotate(22,341.9,921.6)"/><rect x="312.5" y="939.0" width="2.3" height="0.9" transform="rotate(149,312.5,939.0)"/><rect x="299.3" y="896.1" width="1.9" height="0.9" transform="rotate(2,299.3,896.1)"/><rect x="396.1" y="886.5" width="1" height="1"/><rect x="351.4" y="917.4" width="2.2" height="0.9" transform="rotate(96,351.4,917.4)"/><rect x="301.1" y="954.9" width="1" height="1"/><rect x="399.9" y="888.6" width="1" height="1"/><rect x="332.4" y="953.0" width="1" height="1"/><rect x="298.3" y="921.5" width="3.5" height="0.9" transform="rotate(42,298.3,921.5)"/><rect x="326.2" y="914.4" width="3.8" height="0.9" transform="rotate(143,326.2,914.4)"/><rect x="307.4" y="886.7" width="1" height="1"/><rect x="403.2" y="899.1" width="2.4" height="0.9" transform="rotate(56,403.2,899.1)"/><rect x="395.8" y="913.6" width="1" height="1"/><rect x="408.8" y="894.4" width="4.0" height="0.9" transform="rotate(152,408.8,894.4)"/><rect x="425.0" y="902.5" width="1" height="1"/><rect x="293.1" y="932.3" width="1" height="1"/><rect x="372.5" y="935.6" width="2.3" height="0.9" transform="rotate(25,372.5,935.6)"/><rect x="317.1" y="939.8" width="1" height="1"/><rect x="353.4" y="956.1" width="1" height="1"/><rect x="363.5" y="885.4" width="1" height="1"/><rect x="360.6" y="882.3" width="2.9" height="0.9" transform="rotate(54,360.6,882.3)"/><rect x="322.3" y="956.1" width="1" height="1"/><rect x="421.8" y="925.0" width="1" height="1"/><rect x="414.7" y="930.5" width="1" height="1"/><rect x="295.6" y="891.1" width="1" height="1"/><rect x="378.6" y="903.8" width="2.5" height="0.9" transform="rotate(146,378.6,903.8)"/><rect x="335.5" y="955.3" width="3.6" height="0.9" transform="rotate(102,335.5,955.3)"/><rect x="306.4" y="882.3" width="1" height="1"/><rect x="343.9" y="900.6" width="4.0" height="0.9" transform="rotate(104,343.9,900.6)"/><rect x="414.2" y="938.6" width="2.2" height="0.9" transform="rotate(125,414.2,938.6)"/><rect x="357.6" y="958.9" width="2.4" height="0.9" transform="rotate(42,357.6,958.9)"/><rect x="331.8" y="920.7" width="4.1" height="0.9" transform="rotate(114,331.8,920.7)"/><rect x="294.5" y="922.1" width="3.6" height="0.9" transform="rotate(156,294.5,922.1)"/><rect x="384.6" y="946.3" width="4.0" height="0.9" transform="rotate(157,384.6,946.3)"/><rect x="388.1" y="905.0" width="2.3" height="0.9" transform="rotate(114,388.1,905.0)"/><rect x="294.3" y="936.2" width="3.2" height="0.9" transform="rotate(93,294.3,936.2)"/><rect x="419.4" y="904.7" width="2.7" height="0.9" transform="rotate(173,419.4,904.7)"/><rect x="324.4" y="952.4" width="1" height="1"/><rect x="335.2" y="939.1" width="1.5" height="0.9" transform="rotate(27,335.2,939.1)"/><rect x="410.0" y="925.9" width="1" height="1"/><rect x="356.2" y="941.8" width="3.8" height="0.9" transform="rotate(73,356.2,941.8)"/><rect x="303.5" y="945.5" width="1" height="1"/><rect x="316.7" y="925.0" width="1" height="1"/><rect x="331.3" y="956.2" width="1" height="1"/><rect x="358.1" y="936.0" width="1" height="1"/><rect x="296.5" y="904.6" width="1" height="1"/><rect x="407.9" y="942.1" width="1" height="1"/><rect x="389.3" y="928.8" width="1" height="1"/><rect x="308.2" y="892.6" width="1" height="1"/><rect x="292.8" y="943.8" width="2.0" height="0.9" transform="rotate(168,292.8,943.8)"/><rect x="300.5" y="893.9" width="4.0" height="0.9" transform="rotate(88,300.5,893.9)"/><rect x="342.6" y="894.3" width="2.3" height="0.9" transform="rotate(134,342.6,894.3)"/><rect x="310.5" y="890.8" width="2.8" height="0.9" transform="rotate(141,310.5,890.8)"/><rect x="369.1" y="894.8" width="1" height="1"/><rect x="350.1" y="952.1" width="1" height="1"/><rect x="411.9" y="918.4" width="1" height="1"/><rect x="332.7" y="892.7" width="1" height="1"/><rect x="417.1" y="880.0" width="2.7" height="0.9" transform="rotate(67,417.1,880.0)"/><rect x="428.0" y="913.3" width="1.9" height="0.9" transform="rotate(123,428.0,913.3)"/><rect x="375.7" y="943.2" width="2.2" height="0.9" transform="rotate(48,375.7,943.2)"/><rect x="427.4" y="907.9" width="1" height="1"/><rect x="360.8" y="906.1" width="1" height="1"/><rect x="321.2" y="941.9" width="1" height="1"/><rect x="356.7" y="895.7" width="3.1" height="0.9" transform="rotate(1,356.7,895.7)"/><rect x="387.3" y="928.4" width="1" height="1"/><rect x="373.1" y="898.8" width="1.7" height="0.9" transform="rotate(169,373.1,898.8)"/><rect x="308.2" y="936.1" width="1.9" height="0.9" transform="rotate(75,308.2,936.1)"/><rect x="321.4" y="880.9" width="3.3" height="0.9" transform="rotate(36,321.4,880.9)"/><rect x="300.6" y="895.5" width="3.8" height="0.9" transform="rotate(11,300.6,895.5)"/><rect x="428.0" y="940.9" width="4.5" height="0.9" transform="rotate(94,428.0,940.9)"/><rect x="316.6" y="899.3" width="2.5" height="0.9" transform="rotate(162,316.6,899.3)"/><rect x="310.5" y="902.2" width="2.8" height="0.9" transform="rotate(5,310.5,902.2)"/><rect x="297.6" y="938.6" width="3.9" height="0.9" transform="rotate(115,297.6,938.6)"/><rect x="416.5" y="904.0" width="1.8" height="0.9" transform="rotate(119,416.5,904.0)"/><rect x="422.1" y="906.6" width="4.3" height="0.9" transform="rotate(47,422.1,906.6)"/><rect x="299.1" y="959.3" width="1" height="1"/><rect x="298.7" y="940.7" width="1" height="1"/><rect x="320.2" y="917.8" width="4.1" height="0.9" transform="rotate(157,320.2,917.8)"/><rect x="380.4" y="887.8" width="1" height="1"/><rect x="306.8" y="944.8" width="1" height="1"/><rect x="401.6" y="948.4" width="1" height="1"/><rect x="293.3" y="923.3" width="1" height="1"/><rect x="319.1" y="929.5" width="1.8" height="0.9" transform="rotate(108,319.1,929.5)"/><rect x="380.6" y="927.6" width="1" height="1"/><rect x="355.4" y="893.4" width="1.7" height="0.9" transform="rotate(38,355.4,893.4)"/><rect x="330.0" y="918.5" width="1.7" height="0.9" transform="rotate(117,330.0,918.5)"/><rect x="335.2" y="881.3" width="3.6" height="0.9" transform="rotate(92,335.2,881.3)"/><rect x="322.7" y="930.3" width="1" height="1"/><rect x="418.6" y="939.2" width="2.0" height="0.9" transform="rotate(171,418.6,939.2)"/><rect x="363.6" y="901.7" width="1" height="1"/><rect x="387.9" y="917.1" width="1" height="1"/><rect x="378.4" y="951.3" width="3.1" height="0.9" transform="rotate(57,378.4,951.3)"/><rect x="292.7" y="940.4" width="3.5" height="0.9" transform="rotate(111,292.7,940.4)"/><rect x="348.9" y="880.4" width="1" height="1"/><rect x="337.0" y="936.5" width="1" height="1"/><rect x="400.8" y="943.7" width="1" height="1"/><rect x="402.3" y="949.1" width="2.6" height="0.9" transform="rotate(36,402.3,949.1)"/><rect x="317.4" y="917.8" width="4.1" height="0.9" transform="rotate(150,317.4,917.8)"/><rect x="342.1" y="927.5" width="3.2" height="0.9" transform="rotate(179,342.1,927.5)"/><rect x="301.3" y="935.2" width="2.8" height="0.9" transform="rotate(45,301.3,935.2)"/><rect x="341.7" y="912.3" width="1" height="1"/><rect x="376.6" y="911.3" width="3.8" height="0.9" transform="rotate(54,376.6,911.3)"/><rect x="420.1" y="953.4" width="1.6" height="0.9" transform="rotate(132,420.1,953.4)"/><rect x="387.3" y="896.9" width="1.9" height="0.9" transform="rotate(111,387.3,896.9)"/></g>
<rect x="292.4" y="879.1" width="138.9" height="84.1" filter="url(#fw)" opacity="0.4"/>
<g opacity="0.72"><circle cx="293.9" cy="880.7" r="1.4" fill="#5a90d8"/><circle cx="299.6" cy="881.1" r="1.6" fill="#4a86d6"/><circle cx="306.3" cy="880.4" r="1.7" fill="#4a86cc"/><circle cx="343.1" cy="882.7" r="1.5" fill="#4a86cc"/><circle cx="348.3" cy="882.1" r="1.3" fill="#4a86d6"/><circle cx="361.6" cy="884.2" r="2.0" fill="#5a90d8"/><circle cx="365.6" cy="881.4" r="1.8" fill="#4a86cc"/><circle cx="377.0" cy="884.5" r="1.6" fill="#4a86cc"/><circle cx="382.2" cy="884.3" r="1.9" fill="#5a90d8"/><circle cx="392.7" cy="881.0" r="1.8" fill="#4a86cc"/><circle cx="401.7" cy="882.8" r="1.5" fill="#4a86d6"/><circle cx="404.3" cy="881.1" r="1.7" fill="#4a86cc"/><circle cx="410.2" cy="880.5" r="1.7" fill="#5a90d8"/><circle cx="419.6" cy="880.4" r="1.5" fill="#4a86d6"/><circle cx="296.3" cy="889.4" r="1.2" fill="#4a86cc"/><circle cx="302.5" cy="886.2" r="1.4" fill="#4a86d6"/><circle cx="311.1" cy="887.8" r="2.0" fill="#5a90d8"/><circle cx="316.5" cy="889.5" r="1.4" fill="#4a86d6"/><circle cx="323.6" cy="889.6" r="1.5" fill="#4a86cc"/><circle cx="342.1" cy="888.7" r="1.6" fill="#4a86d6"/><circle cx="349.9" cy="885.3" r="1.5" fill="#4a86cc"/><circle cx="356.7" cy="886.0" r="1.4" fill="#4a86d6"/><circle cx="361.3" cy="890.2" r="1.3" fill="#4a86d6"/><circle cx="369.6" cy="885.5" r="1.9" fill="#4a86cc"/><circle cx="374.1" cy="888.9" r="1.5" fill="#4a86cc"/><circle cx="383.2" cy="888.7" r="1.4" fill="#4a86d6"/><circle cx="389.7" cy="885.7" r="1.7" fill="#5a90d8"/><circle cx="396.4" cy="889.5" r="1.3" fill="#4a86cc"/><circle cx="403.3" cy="887.4" r="1.6" fill="#4a86cc"/><circle cx="406.2" cy="885.8" r="1.8" fill="#5a90d8"/><circle cx="416.1" cy="887.6" r="1.6" fill="#4a86cc"/><circle cx="418.8" cy="887.3" r="1.3" fill="#4a86d6"/><circle cx="428.0" cy="888.0" r="1.5" fill="#4a86d6"/><circle cx="297.8" cy="891.5" r="1.8" fill="#5a90d8"/><circle cx="300.5" cy="894.5" r="1.3" fill="#5a90d8"/><circle cx="307.1" cy="894.3" r="1.5" fill="#4a86d6"/><circle cx="310.4" cy="892.2" r="2.0" fill="#5a90d8"/><circle cx="317.2" cy="893.4" r="1.4" fill="#4a86cc"/><circle cx="324.7" cy="893.0" r="1.5" fill="#4a86cc"/><circle cx="336.0" cy="895.8" r="1.4" fill="#4a86d6"/><circle cx="343.8" cy="894.4" r="1.8" fill="#4a86cc"/><circle cx="347.5" cy="895.0" r="1.9" fill="#4a86cc"/><circle cx="351.7" cy="891.5" r="1.5" fill="#4a86d6"/><circle cx="360.6" cy="895.6" r="1.9" fill="#4a86d6"/><circle cx="364.9" cy="894.9" r="1.2" fill="#4a86cc"/><circle cx="369.8" cy="892.9" r="1.6" fill="#4a86cc"/><circle cx="376.4" cy="896.2" r="1.6" fill="#5a90d8"/><circle cx="382.8" cy="892.3" r="1.5" fill="#5a90d8"/><circle cx="390.4" cy="893.4" r="1.6" fill="#4a86d6"/><circle cx="396.3" cy="895.2" r="1.7" fill="#5a90d8"/><circle cx="401.4" cy="892.5" r="1.2" fill="#4a86d6"/><circle cx="407.9" cy="893.4" r="1.8" fill="#4a86cc"/><circle cx="411.4" cy="894.4" r="1.8" fill="#5a90d8"/><circle cx="418.0" cy="896.1" r="1.4" fill="#4a86cc"/><circle cx="423.9" cy="894.2" r="1.7" fill="#4a86d6"/><circle cx="427.3" cy="895.8" r="1.6" fill="#4a86d6"/><circle cx="299.4" cy="897.2" r="1.3" fill="#4a86cc"/><circle cx="317.6" cy="899.3" r="1.4" fill="#4a86d6"/><circle cx="320.3" cy="901.2" r="1.7" fill="#5a90d8"/><circle cx="330.4" cy="899.6" r="1.8" fill="#4a86cc"/><circle cx="339.5" cy="899.8" r="1.5" fill="#5a90d8"/><circle cx="345.1" cy="901.8" r="1.8" fill="#4a86d6"/><circle cx="351.0" cy="900.1" r="1.5" fill="#4a86cc"/><circle cx="353.8" cy="901.7" r="1.3" fill="#4a86d6"/><circle cx="359.4" cy="900.6" r="1.4" fill="#5a90d8"/><circle cx="370.2" cy="896.8" r="1.5" fill="#5a90d8"/><circle cx="376.0" cy="897.2" r="1.5" fill="#4a86d6"/><circle cx="380.4" cy="899.6" r="1.4" fill="#5a90d8"/><circle cx="386.0" cy="897.6" r="1.2" fill="#4a86cc"/><circle cx="389.4" cy="901.9" r="1.3" fill="#4a86d6"/><circle cx="398.1" cy="900.4" r="1.7" fill="#5a90d8"/><circle cx="400.6" cy="899.9" r="1.8" fill="#4a86cc"/><circle cx="408.3" cy="900.9" r="1.2" fill="#4a86cc"/><circle cx="413.5" cy="899.0" r="1.4" fill="#4a86cc"/><circle cx="296.1" cy="903.4" r="1.6" fill="#4a86cc"/><circle cx="306.5" cy="907.3" r="1.6" fill="#4a86cc"/><circle cx="311.1" cy="903.3" r="1.2" fill="#4a86d6"/><circle cx="318.0" cy="902.7" r="1.5" fill="#5a90d8"/><circle cx="322.6" cy="906.2" r="1.4" fill="#4a86d6"/><circle cx="330.4" cy="906.9" r="1.9" fill="#4a86cc"/><circle cx="333.6" cy="906.0" r="1.8" fill="#4a86d6"/><circle cx="341.9" cy="905.1" r="1.9" fill="#4a86d6"/><circle cx="346.6" cy="903.2" r="1.9" fill="#5a90d8"/><circle cx="353.0" cy="903.7" r="1.5" fill="#5a90d8"/><circle cx="356.6" cy="906.7" r="1.7" fill="#5a90d8"/><circle cx="366.9" cy="903.7" r="1.8" fill="#4a86d6"/><circle cx="368.9" cy="903.8" r="2.0" fill="#5a90d8"/><circle cx="377.1" cy="905.6" r="1.8" fill="#4a86cc"/><circle cx="383.2" cy="903.9" r="1.2" fill="#4a86d6"/><circle cx="389.8" cy="905.8" r="1.4" fill="#5a90d8"/><circle cx="392.3" cy="905.5" r="1.9" fill="#4a86d6"/><circle cx="404.7" cy="906.4" r="1.3" fill="#4a86d6"/><circle cx="419.2" cy="905.4" r="1.9" fill="#4a86cc"/><circle cx="420.8" cy="906.9" r="1.7" fill="#4a86cc"/><circle cx="429.0" cy="907.2" r="1.6" fill="#5a90d8"/><circle cx="299.4" cy="908.9" r="1.8" fill="#5a90d8"/><circle cx="312.4" cy="910.3" r="1.4" fill="#4a86d6"/><circle cx="320.9" cy="908.8" r="1.8" fill="#5a90d8"/><circle cx="329.3" cy="908.7" r="1.5" fill="#4a86d6"/><circle cx="331.2" cy="912.6" r="1.4" fill="#4a86cc"/><circle cx="337.0" cy="910.7" r="1.8" fill="#4a86d6"/><circle cx="350.3" cy="909.9" r="1.4" fill="#4a86cc"/><circle cx="358.4" cy="911.5" r="1.2" fill="#5a90d8"/><circle cx="361.7" cy="911.4" r="1.4" fill="#4a86d6"/><circle cx="369.6" cy="911.9" r="1.7" fill="#4a86cc"/><circle cx="374.3" cy="908.6" r="1.7" fill="#5a90d8"/><circle cx="381.7" cy="909.7" r="1.4" fill="#4a86d6"/><circle cx="382.9" cy="910.4" r="1.3" fill="#4a86d6"/><circle cx="395.5" cy="908.9" r="1.4" fill="#4a86d6"/><circle cx="401.7" cy="912.3" r="1.5" fill="#4a86d6"/><circle cx="409.5" cy="909.1" r="1.8" fill="#5a90d8"/><circle cx="415.4" cy="911.1" r="1.6" fill="#5a90d8"/><circle cx="422.6" cy="912.5" r="1.3" fill="#4a86cc"/><circle cx="427.6" cy="912.4" r="1.4" fill="#4a86cc"/><circle cx="297.1" cy="917.0" r="2.0" fill="#5a90d8"/><circle cx="304.8" cy="916.7" r="1.3" fill="#4a86d6"/><circle cx="314.6" cy="914.8" r="1.4" fill="#5a90d8"/><circle cx="316.7" cy="915.8" r="1.5" fill="#4a86cc"/><circle cx="321.9" cy="918.2" r="1.9" fill="#5a90d8"/><circle cx="332.1" cy="918.2" r="1.8" fill="#4a86d6"/><circle cx="335.4" cy="918.5" r="1.2" fill="#4a86cc"/><circle cx="343.8" cy="918.9" r="1.7" fill="#4a86cc"/><circle cx="346.3" cy="917.4" r="2.0" fill="#4a86d6"/><circle cx="352.4" cy="918.3" r="1.9" fill="#4a86d6"/><circle cx="377.2" cy="915.4" r="1.2" fill="#5a90d8"/><circle cx="382.0" cy="916.6" r="1.9" fill="#5a90d8"/><circle cx="386.1" cy="915.0" r="1.8" fill="#5a90d8"/><circle cx="396.3" cy="919.2" r="1.3" fill="#4a86d6"/><circle cx="401.0" cy="918.2" r="1.7" fill="#4a86cc"/><circle cx="405.7" cy="917.1" r="1.6" fill="#4a86cc"/><circle cx="412.8" cy="916.6" r="1.7" fill="#4a86d6"/><circle cx="424.0" cy="916.3" r="1.8" fill="#4a86d6"/><circle cx="427.4" cy="917.6" r="1.7" fill="#4a86d6"/><circle cx="305.7" cy="922.2" r="1.9" fill="#4a86cc"/><circle cx="311.1" cy="923.2" r="1.5" fill="#4a86cc"/><circle cx="314.2" cy="923.8" r="1.5" fill="#5a90d8"/><circle cx="325.2" cy="921.2" r="1.3" fill="#4a86cc"/><circle cx="334.0" cy="925.1" r="1.2" fill="#5a90d8"/><circle cx="339.9" cy="921.7" r="1.8" fill="#4a86cc"/><circle cx="347.1" cy="922.3" r="1.7" fill="#4a86d6"/><circle cx="385.6" cy="920.9" r="1.3" fill="#4a86cc"/><circle cx="392.9" cy="922.2" r="2.0" fill="#5a90d8"/><circle cx="401.2" cy="921.8" r="1.6" fill="#4a86d6"/><circle cx="408.5" cy="922.4" r="1.7" fill="#4a86d6"/><circle cx="412.7" cy="922.3" r="1.6" fill="#5a90d8"/><circle cx="419.0" cy="925.1" r="1.3" fill="#5a90d8"/><circle cx="424.4" cy="921.8" r="1.7" fill="#4a86cc"/><circle cx="429.0" cy="920.8" r="1.4" fill="#4a86cc"/><circle cx="295.2" cy="927.6" r="1.5" fill="#4a86cc"/><circle cx="303.3" cy="930.5" r="1.7" fill="#5a90d8"/><circle cx="314.6" cy="927.2" r="2.0" fill="#5a90d8"/><circle cx="316.1" cy="927.9" r="1.4" fill="#4a86d6"/><circle cx="324.9" cy="926.7" r="1.7" fill="#5a90d8"/><circle cx="327.5" cy="929.0" r="1.5" fill="#5a90d8"/><circle cx="339.8" cy="931.0" r="1.7" fill="#4a86cc"/><circle cx="347.4" cy="927.1" r="1.7" fill="#4a86cc"/><circle cx="382.3" cy="926.4" r="1.9" fill="#4a86cc"/><circle cx="387.5" cy="930.8" r="1.8" fill="#4a86cc"/><circle cx="403.5" cy="930.0" r="1.9" fill="#4a86cc"/><circle cx="416.2" cy="929.8" r="1.6" fill="#4a86d6"/><circle cx="421.3" cy="928.8" r="1.8" fill="#4a86d6"/><circle cx="299.6" cy="934.6" r="1.2" fill="#5a90d8"/><circle cx="303.3" cy="936.4" r="1.9" fill="#4a86d6"/><circle cx="312.0" cy="931.8" r="1.8" fill="#4a86cc"/><circle cx="315.4" cy="935.6" r="1.8" fill="#4a86d6"/><circle cx="322.5" cy="936.5" r="1.8" fill="#4a86cc"/><circle cx="329.5" cy="935.5" r="1.7" fill="#4a86cc"/><circle cx="339.8" cy="932.9" r="1.7" fill="#4a86cc"/><circle cx="343.6" cy="934.7" r="1.2" fill="#5a90d8"/><circle cx="348.6" cy="933.6" r="1.8" fill="#5a90d8"/><circle cx="353.8" cy="933.1" r="1.8" fill="#4a86d6"/><circle cx="381.6" cy="933.1" r="1.5" fill="#4a86d6"/><circle cx="384.4" cy="933.0" r="1.3" fill="#4a86cc"/><circle cx="391.7" cy="935.3" r="1.4" fill="#4a86d6"/><circle cx="396.6" cy="936.4" r="1.3" fill="#5a90d8"/><circle cx="402.0" cy="932.1" r="1.3" fill="#4a86cc"/><circle cx="409.0" cy="935.8" r="1.3" fill="#4a86cc"/><circle cx="414.0" cy="936.7" r="1.9" fill="#4a86cc"/><circle cx="428.3" cy="936.1" r="1.5" fill="#5a90d8"/><circle cx="297.0" cy="940.9" r="1.8" fill="#5a90d8"/><circle cx="309.4" cy="940.2" r="1.3" fill="#4a86cc"/><circle cx="314.2" cy="939.3" r="1.9" fill="#5a90d8"/><circle cx="319.1" cy="937.9" r="1.3" fill="#4a86cc"/><circle cx="325.4" cy="938.5" r="1.5" fill="#4a86cc"/><circle cx="331.0" cy="941.9" r="1.6" fill="#4a86d6"/><circle cx="337.1" cy="940.3" r="1.6" fill="#5a90d8"/><circle cx="340.3" cy="939.6" r="1.5" fill="#4a86d6"/><circle cx="347.8" cy="938.5" r="1.3" fill="#5a90d8"/><circle cx="351.4" cy="942.0" r="1.5" fill="#4a86cc"/><circle cx="359.7" cy="938.6" r="1.9" fill="#4a86d6"/><circle cx="369.9" cy="937.9" r="1.4" fill="#4a86d6"/><circle cx="375.8" cy="938.6" r="1.6" fill="#4a86cc"/><circle cx="383.9" cy="941.3" r="1.8" fill="#5a90d8"/><circle cx="390.2" cy="938.9" r="1.8" fill="#4a86d6"/><circle cx="393.3" cy="938.7" r="1.3" fill="#4a86d6"/><circle cx="401.6" cy="940.2" r="1.4" fill="#5a90d8"/><circle cx="410.3" cy="941.0" r="1.2" fill="#5a90d8"/><circle cx="417.0" cy="940.2" r="1.5" fill="#4a86d6"/><circle cx="421.4" cy="938.3" r="1.8" fill="#5a90d8"/><circle cx="305.6" cy="947.4" r="1.6" fill="#4a86cc"/><circle cx="310.5" cy="944.9" r="1.8" fill="#5a90d8"/><circle cx="316.1" cy="946.3" r="1.6" fill="#4a86d6"/><circle cx="321.3" cy="947.0" r="1.2" fill="#4a86cc"/><circle cx="328.5" cy="947.8" r="1.6" fill="#5a90d8"/><circle cx="333.0" cy="946.7" r="1.7" fill="#5a90d8"/><circle cx="342.9" cy="943.2" r="1.3" fill="#4a86d6"/><circle cx="350.0" cy="945.8" r="1.9" fill="#5a90d8"/><circle cx="358.1" cy="945.3" r="1.6" fill="#4a86d6"/><circle cx="363.6" cy="944.0" r="1.4" fill="#4a86d6"/><circle cx="367.8" cy="948.0" r="1.9" fill="#4a86cc"/><circle cx="373.6" cy="948.1" r="1.7" fill="#5a90d8"/><circle cx="386.4" cy="946.6" r="1.8" fill="#4a86cc"/><circle cx="389.9" cy="947.8" r="1.3" fill="#4a86d6"/><circle cx="410.8" cy="944.0" r="1.7" fill="#4a86cc"/><circle cx="412.8" cy="944.3" r="1.3" fill="#5a90d8"/><circle cx="422.3" cy="946.2" r="1.4" fill="#4a86d6"/><circle cx="302.5" cy="949.8" r="1.5" fill="#4a86cc"/><circle cx="316.1" cy="949.5" r="1.8" fill="#4a86d6"/><circle cx="328.9" cy="952.9" r="1.8" fill="#5a90d8"/><circle cx="338.0" cy="953.6" r="1.3" fill="#4a86d6"/><circle cx="343.5" cy="954.2" r="1.4" fill="#4a86cc"/><circle cx="348.8" cy="954.0" r="1.5" fill="#4a86d6"/><circle cx="354.1" cy="952.1" r="1.2" fill="#4a86cc"/><circle cx="357.7" cy="954.2" r="1.5" fill="#4a86cc"/><circle cx="372.6" cy="953.3" r="1.9" fill="#5a90d8"/><circle cx="379.1" cy="951.3" r="1.8" fill="#4a86cc"/><circle cx="380.5" cy="954.1" r="1.2" fill="#4a86cc"/><circle cx="385.6" cy="949.8" r="1.7" fill="#4a86cc"/><circle cx="395.2" cy="950.2" r="2.0" fill="#5a90d8"/><circle cx="402.2" cy="952.6" r="1.6" fill="#4a86cc"/><circle cx="405.4" cy="950.5" r="1.5" fill="#4a86cc"/><circle cx="409.9" cy="954.1" r="1.2" fill="#4a86d6"/><circle cx="417.4" cy="952.9" r="1.5" fill="#4a86d6"/><circle cx="423.2" cy="949.0" r="1.9" fill="#4a86cc"/><circle cx="296.5" cy="955.6" r="1.3" fill="#4a86cc"/><circle cx="305.8" cy="959.6" r="1.8" fill="#4a86d6"/><circle cx="308.7" cy="956.3" r="1.6" fill="#5a90d8"/><circle cx="313.6" cy="957.0" r="1.5" fill="#4a86d6"/><circle cx="329.7" cy="957.6" r="1.7" fill="#4a86cc"/><circle cx="334.6" cy="958.9" r="1.8" fill="#4a86d6"/><circle cx="340.2" cy="957.4" r="1.8" fill="#4a86d6"/><circle cx="344.7" cy="956.8" r="1.5" fill="#4a86cc"/><circle cx="349.0" cy="957.4" r="2.0" fill="#5a90d8"/><circle cx="357.8" cy="955.4" r="1.9" fill="#4a86d6"/><circle cx="361.3" cy="959.7" r="1.4" fill="#4a86d6"/><circle cx="375.4" cy="958.2" r="1.4" fill="#5a90d8"/><circle cx="378.9" cy="958.3" r="1.8" fill="#5a90d8"/><circle cx="386.7" cy="957.6" r="1.6" fill="#4a86d6"/><circle cx="388.4" cy="959.1" r="1.3" fill="#4a86d6"/><circle cx="396.5" cy="959.3" r="1.9" fill="#4a86cc"/><circle cx="404.3" cy="958.6" r="1.5" fill="#5a90d8"/><circle cx="409.2" cy="955.7" r="1.7" fill="#4a86d6"/><circle cx="413.3" cy="958.3" r="1.6" fill="#4a86d6"/><circle cx="420.3" cy="955.4" r="1.8" fill="#5a90d8"/><circle cx="425.2" cy="959.1" r="1.6" fill="#4a86cc"/><circle cx="307.8" cy="962.0" r="1.5" fill="#4a86d6"/><circle cx="348.0" cy="961.5" r="1.2" fill="#5a90d8"/><circle cx="350.8" cy="961.0" r="2.0" fill="#4a86cc"/><circle cx="391.5" cy="961.4" r="1.9" fill="#4a86d6"/><circle cx="399.2" cy="962.0" r="2.0" fill="#4a86d6"/><circle cx="407.5" cy="962.0" r="1.6" fill="#4a86d6"/><circle cx="421.0" cy="960.8" r="1.5" fill="#5a90d8"/></g>
<ellipse cx="366.2" cy="925.6" rx="12" ry="11.5" fill="#c4d4ee" opacity="0.8"/>
<ellipse cx="366.2" cy="925.6" rx="9.8" ry="9.4" fill="#eef3f6"/>
</g></g>
<clipPath id="cp8"><rect x="434.7" y="879.4" width="139.3" height="84.7"/></clipPath>
<g clip-path="url(#cp8)"><g filter="url(#fb)">
<rect x="433.70" y="878.40" width="141.30" height="86.70" fill="#aec3e3"/>
<g fill="#fff" opacity="0.48"><rect x="553.7" y="960.9" width="1" height="1"/><rect x="554.5" y="964.0" width="1" height="1"/><rect x="563.0" y="899.0" width="1" height="1"/><rect x="514.0" y="905.5" width="4.3" height="0.9" transform="rotate(59,514.0,905.5)"/><rect x="541.3" y="904.3" width="1" height="1"/><rect x="451.7" y="889.5" width="1" height="1"/><rect x="555.4" y="908.6" width="1.6" height="0.9" transform="rotate(65,555.4,908.6)"/><rect x="546.6" y="958.2" width="1" height="1"/><rect x="443.4" y="917.7" width="1" height="1"/><rect x="442.0" y="937.2" width="1" height="1"/><rect x="545.2" y="937.3" width="2.2" height="0.9" transform="rotate(65,545.2,937.3)"/><rect x="451.5" y="949.5" width="1" height="1"/><rect x="558.8" y="932.5" width="2.4" height="0.9" transform="rotate(114,558.8,932.5)"/><rect x="487.6" y="886.0" width="1" height="1"/><rect x="522.4" y="913.9" width="1" height="1"/><rect x="536.9" y="911.2" width="2.5" height="0.9" transform="rotate(49,536.9,911.2)"/><rect x="565.7" y="889.8" width="3.9" height="0.9" transform="rotate(5,565.7,889.8)"/><rect x="562.0" y="883.9" width="2.9" height="0.9" transform="rotate(18,562.0,883.9)"/><rect x="568.3" y="898.6" width="1" height="1"/><rect x="538.2" y="914.1" width="4.3" height="0.9" transform="rotate(99,538.2,914.1)"/><rect x="441.6" y="905.2" width="1" height="1"/><rect x="573.1" y="894.0" width="1" height="1"/><rect x="442.1" y="893.5" width="3.0" height="0.9" transform="rotate(134,442.1,893.5)"/><rect x="504.3" y="957.1" width="1" height="1"/><rect x="527.9" y="961.6" width="1" height="1"/><rect x="548.8" y="903.7" width="3.2" height="0.9" transform="rotate(11,548.8,903.7)"/><rect x="534.5" y="933.1" width="1" height="1"/><rect x="510.3" y="944.3" width="2.7" height="0.9" transform="rotate(81,510.3,944.3)"/><rect x="493.4" y="957.6" width="1" height="1"/><rect x="445.6" y="962.3" width="1" height="1"/><rect x="561.7" y="897.8" width="1" height="1"/><rect x="463.1" y="952.2" width="3.4" height="0.9" transform="rotate(172,463.1,952.2)"/><rect x="514.2" y="929.2" width="1" height="1"/><rect x="564.5" y="894.2" width="3.7" height="0.9" transform="rotate(118,564.5,894.2)"/><rect x="545.7" y="914.9" width="1" height="1"/><rect x="561.9" y="961.9" width="1" height="1"/><rect x="443.7" y="947.6" width="2.7" height="0.9" transform="rotate(48,443.7,947.6)"/><rect x="482.9" y="920.5" width="1" height="1"/><rect x="550.4" y="958.0" width="3.8" height="0.9" transform="rotate(99,550.4,958.0)"/><rect x="527.5" y="915.1" width="2.9" height="0.9" transform="rotate(173,527.5,915.1)"/><rect x="468.0" y="939.8" width="1" height="1"/><rect x="556.7" y="938.4" width="3.4" height="0.9" transform="rotate(84,556.7,938.4)"/><rect x="504.3" y="880.8" width="1" height="1"/><rect x="501.1" y="956.5" width="2.1" height="0.9" transform="rotate(93,501.1,956.5)"/><rect x="557.9" y="900.3" width="3.9" height="0.9" transform="rotate(145,557.9,900.3)"/><rect x="566.7" y="946.9" width="1" height="1"/><rect x="564.8" y="953.3" width="1" height="1"/><rect x="517.9" y="906.4" width="1" height="1"/><rect x="435.9" y="933.3" width="1" height="1"/><rect x="514.6" y="915.0" width="1" height="1"/><rect x="448.5" y="887.6" width="1" height="1"/><rect x="505.2" y="910.5" width="1" height="1"/><rect x="444.8" y="887.5" width="3.9" height="0.9" transform="rotate(73,444.8,887.5)"/><rect x="443.6" y="959.1" width="1" height="1"/><rect x="482.0" y="889.9" width="1" height="1"/><rect x="525.4" y="942.6" width="3.3" height="0.9" transform="rotate(159,525.4,942.6)"/><rect x="573.1" y="937.5" width="2.4" height="0.9" transform="rotate(124,573.1,937.5)"/><rect x="492.5" y="888.6" width="1" height="1"/><rect x="548.7" y="885.1" width="1" height="1"/><rect x="537.0" y="887.0" width="2.9" height="0.9" transform="rotate(141,537.0,887.0)"/><rect x="483.6" y="881.9" width="1" height="1"/><rect x="511.4" y="960.7" width="1" height="1"/><rect x="496.8" y="892.0" width="1" height="1"/><rect x="548.6" y="882.8" width="1" height="1"/><rect x="540.1" y="908.5" width="2.6" height="0.9" transform="rotate(149,540.1,908.5)"/><rect x="509.2" y="906.9" width="1" height="1"/><rect x="496.4" y="880.5" width="3.5" height="0.9" transform="rotate(176,496.4,880.5)"/><rect x="459.3" y="963.4" width="1" height="1"/><rect x="572.6" y="903.9" width="1" height="1"/><rect x="448.2" y="916.3" width="2.7" height="0.9" transform="rotate(53,448.2,916.3)"/><rect x="440.7" y="922.4" width="3.7" height="0.9" transform="rotate(91,440.7,922.4)"/><rect x="556.5" y="903.9" width="1" height="1"/><rect x="438.6" y="881.4" width="1" height="1"/><rect x="534.3" y="912.8" width="4.1" height="0.9" transform="rotate(151,534.3,912.8)"/><rect x="515.2" y="884.3" width="1" height="1"/><rect x="481.1" y="894.4" width="2.2" height="0.9" transform="rotate(97,481.1,894.4)"/><rect x="503.2" y="896.0" width="3.0" height="0.9" transform="rotate(134,503.2,896.0)"/><rect x="550.1" y="939.8" width="1" height="1"/><rect x="531.8" y="931.6" width="1" height="1"/><rect x="465.1" y="951.3" width="1" height="1"/><rect x="513.0" y="907.3" width="4.4" height="0.9" transform="rotate(83,513.0,907.3)"/><rect x="455.5" y="945.9" width="4.2" height="0.9" transform="rotate(25,455.5,945.9)"/><rect x="473.7" y="963.8" width="1" height="1"/><rect x="446.4" y="929.1" width="1.8" height="0.9" transform="rotate(97,446.4,929.1)"/><rect x="485.8" y="904.2" width="1" height="1"/><rect x="534.4" y="918.8" width="1" height="1"/><rect x="475.6" y="942.7" width="2.9" height="0.9" transform="rotate(173,475.6,942.7)"/><rect x="476.1" y="936.9" width="1" height="1"/><rect x="551.5" y="905.6" width="1.7" height="0.9" transform="rotate(15,551.5,905.6)"/><rect x="477.9" y="925.1" width="4.2" height="0.9" transform="rotate(169,477.9,925.1)"/><rect x="452.8" y="894.0" width="2.8" height="0.9" transform="rotate(103,452.8,894.0)"/><rect x="554.1" y="902.1" width="3.9" height="0.9" transform="rotate(40,554.1,902.1)"/><rect x="436.0" y="896.7" width="1" height="1"/><rect x="454.6" y="947.6" width="1" height="1"/><rect x="526.8" y="926.8" width="2.8" height="0.9" transform="rotate(15,526.8,926.8)"/><rect x="488.5" y="886.7" width="1" height="1"/><rect x="507.3" y="928.9" width="1" height="1"/><rect x="551.9" y="940.3" width="2.0" height="0.9" transform="rotate(113,551.9,940.3)"/><rect x="451.7" y="898.9" width="1.9" height="0.9" transform="rotate(107,451.7,898.9)"/><rect x="564.6" y="886.0" width="1" height="1"/><rect x="444.6" y="918.1" width="3.0" height="0.9" transform="rotate(69,444.6,918.1)"/><rect x="563.3" y="932.1" width="2.6" height="0.9" transform="rotate(122,563.3,932.1)"/><rect x="515.6" y="947.9" width="1" height="1"/><rect x="536.2" y="948.6" width="1" height="1"/><rect x="450.1" y="936.9" width="1" height="1"/><rect x="555.7" y="903.3" width="2.6" height="0.9" transform="rotate(77,555.7,903.3)"/><rect x="464.3" y="904.9" width="1" height="1"/><rect x="481.8" y="954.8" width="1" height="1"/><rect x="524.9" y="908.7" width="2.6" height="0.9" transform="rotate(2,524.9,908.7)"/><rect x="493.6" y="879.5" width="1" height="1"/><rect x="506.4" y="961.8" width="4.2" height="0.9" transform="rotate(19,506.4,961.8)"/><rect x="521.1" y="940.7" width="1" height="1"/><rect x="440.3" y="950.8" width="1" height="1"/><rect x="521.5" y="916.4" width="1" height="1"/><rect x="462.0" y="883.4" width="1" height="1"/><rect x="479.3" y="961.4" width="1" height="1"/><rect x="567.6" y="900.4" width="1" height="1"/><rect x="535.2" y="956.2" width="1" height="1"/><rect x="470.4" y="917.6" width="1" height="1"/><rect x="541.0" y="896.6" width="1.9" height="0.9" transform="rotate(133,541.0,896.6)"/><rect x="503.6" y="917.5" width="3.3" height="0.9" transform="rotate(76,503.6,917.5)"/><rect x="511.7" y="940.6" width="1" height="1"/><rect x="564.1" y="904.8" width="1" height="1"/><rect x="559.3" y="930.7" width="1" height="1"/><rect x="549.5" y="930.5" width="3.1" height="0.9" transform="rotate(42,549.5,930.5)"/><rect x="446.7" y="935.0" width="3.4" height="0.9" transform="rotate(34,446.7,935.0)"/><rect x="462.8" y="928.4" width="4.5" height="0.9" transform="rotate(124,462.8,928.4)"/><rect x="534.5" y="954.0" width="1" height="1"/><rect x="507.6" y="951.1" width="1" height="1"/><rect x="512.3" y="956.3" width="1" height="1"/><rect x="572.1" y="902.0" width="1" height="1"/><rect x="567.1" y="915.8" width="1" height="1"/><rect x="558.3" y="891.6" width="3.5" height="0.9" transform="rotate(176,558.3,891.6)"/><rect x="474.0" y="945.5" width="3.8" height="0.9" transform="rotate(104,474.0,945.5)"/><rect x="549.4" y="943.7" width="1.7" height="0.9" transform="rotate(96,549.4,943.7)"/><rect x="494.7" y="906.3" width="2.2" height="0.9" transform="rotate(105,494.7,906.3)"/><rect x="547.6" y="942.6" width="1" height="1"/><rect x="524.3" y="913.3" width="1" height="1"/><rect x="461.4" y="922.6" width="4.3" height="0.9" transform="rotate(7,461.4,922.6)"/><rect x="443.5" y="951.9" width="1" height="1"/><rect x="544.8" y="901.0" width="4.1" height="0.9" transform="rotate(91,544.8,901.0)"/><rect x="540.8" y="940.8" width="2.1" height="0.9" transform="rotate(91,540.8,940.8)"/><rect x="438.4" y="945.7" width="3.7" height="0.9" transform="rotate(139,438.4,945.7)"/><rect x="446.2" y="950.9" width="1.9" height="0.9" transform="rotate(32,446.2,950.9)"/><rect x="529.6" y="941.2" width="1" height="1"/></g>
<rect x="434.7" y="879.4" width="139.3" height="84.7" filter="url(#fw)" opacity="0.4"/>
<g opacity="0.55"><circle cx="436.6" cy="884.8" r="1.9" fill="#4e88d0"/><circle cx="447.1" cy="883.1" r="1.9" fill="#6a9edc"/><circle cx="456.4" cy="883.8" r="2.0" fill="#5a92d8"/><circle cx="462.8" cy="880.7" r="1.5" fill="#4e88d0"/><circle cx="474.0" cy="882.8" r="1.4" fill="#5a92d8"/><circle cx="491.6" cy="884.7" r="2.0" fill="#5a92d8"/><circle cx="499.9" cy="883.1" r="1.5" fill="#6a9edc"/><circle cx="504.9" cy="881.4" r="1.4" fill="#4e88d0"/><circle cx="511.4" cy="884.8" r="1.4" fill="#5a92d8"/><circle cx="521.9" cy="880.5" r="1.9" fill="#5a92d8"/><circle cx="527.7" cy="883.6" r="1.3" fill="#4e88d0"/><circle cx="531.2" cy="881.5" r="1.4" fill="#4e88d0"/><circle cx="537.8" cy="881.7" r="1.7" fill="#4e88d0"/><circle cx="547.1" cy="884.8" r="1.4" fill="#6a9edc"/><circle cx="550.4" cy="880.7" r="1.3" fill="#5a92d8"/><circle cx="561.8" cy="884.5" r="1.9" fill="#4e88d0"/><circle cx="440.2" cy="886.3" r="1.4" fill="#5a92d8"/><circle cx="445.9" cy="890.1" r="1.6" fill="#5a92d8"/><circle cx="454.2" cy="887.9" r="1.5" fill="#6a9edc"/><circle cx="456.1" cy="889.6" r="1.5" fill="#5a92d8"/><circle cx="467.0" cy="888.8" r="1.8" fill="#5a92d8"/><circle cx="477.8" cy="887.5" r="1.9" fill="#5a92d8"/><circle cx="480.8" cy="890.8" r="1.3" fill="#5a92d8"/><circle cx="488.2" cy="888.0" r="1.6" fill="#4e88d0"/><circle cx="493.5" cy="891.0" r="1.6" fill="#6a9edc"/><circle cx="508.0" cy="887.7" r="1.6" fill="#4e88d0"/><circle cx="513.3" cy="890.5" r="1.6" fill="#5a92d8"/><circle cx="517.1" cy="889.8" r="1.9" fill="#4e88d0"/><circle cx="524.9" cy="886.6" r="1.8" fill="#6a9edc"/><circle cx="530.0" cy="890.0" r="1.7" fill="#5a92d8"/><circle cx="538.8" cy="886.7" r="1.3" fill="#6a9edc"/><circle cx="544.7" cy="891.0" r="1.3" fill="#6a9edc"/><circle cx="550.9" cy="888.9" r="1.5" fill="#5a92d8"/><circle cx="553.3" cy="886.9" r="1.3" fill="#6a9edc"/><circle cx="566.8" cy="890.7" r="1.6" fill="#5a92d8"/><circle cx="438.7" cy="896.3" r="1.8" fill="#5a92d8"/><circle cx="441.2" cy="897.0" r="1.4" fill="#5a92d8"/><circle cx="452.2" cy="892.1" r="1.3" fill="#6a9edc"/><circle cx="456.9" cy="896.7" r="1.9" fill="#5a92d8"/><circle cx="459.8" cy="892.5" r="1.6" fill="#4e88d0"/><circle cx="465.1" cy="894.2" r="1.4" fill="#6a9edc"/><circle cx="473.3" cy="892.2" r="1.9" fill="#6a9edc"/><circle cx="505.4" cy="893.6" r="1.8" fill="#5a92d8"/><circle cx="512.0" cy="895.7" r="1.4" fill="#4e88d0"/><circle cx="517.3" cy="894.0" r="1.3" fill="#4e88d0"/><circle cx="523.8" cy="893.0" r="1.7" fill="#5a92d8"/><circle cx="532.0" cy="893.4" r="1.8" fill="#5a92d8"/><circle cx="538.2" cy="894.5" r="1.2" fill="#4e88d0"/><circle cx="545.2" cy="893.6" r="2.0" fill="#4e88d0"/><circle cx="550.4" cy="894.3" r="1.8" fill="#6a9edc"/><circle cx="559.1" cy="892.5" r="1.6" fill="#6a9edc"/><circle cx="562.1" cy="892.7" r="1.9" fill="#4e88d0"/><circle cx="567.8" cy="895.6" r="2.0" fill="#4e88d0"/><circle cx="440.7" cy="900.3" r="1.5" fill="#6a9edc"/><circle cx="450.5" cy="900.9" r="1.7" fill="#6a9edc"/><circle cx="456.5" cy="902.8" r="1.8" fill="#4e88d0"/><circle cx="464.8" cy="902.6" r="1.2" fill="#5a92d8"/><circle cx="471.4" cy="899.6" r="1.7" fill="#6a9edc"/><circle cx="476.4" cy="901.8" r="1.9" fill="#4e88d0"/><circle cx="482.9" cy="899.4" r="1.7" fill="#4e88d0"/><circle cx="488.0" cy="899.7" r="1.7" fill="#4e88d0"/><circle cx="496.4" cy="901.2" r="1.9" fill="#4e88d0"/><circle cx="502.1" cy="900.3" r="1.3" fill="#6a9edc"/><circle cx="509.0" cy="899.2" r="1.4" fill="#6a9edc"/><circle cx="510.4" cy="903.0" r="1.9" fill="#5a92d8"/><circle cx="519.6" cy="902.9" r="1.5" fill="#4e88d0"/><circle cx="522.2" cy="898.6" r="1.4" fill="#5a92d8"/><circle cx="531.4" cy="903.0" r="1.5" fill="#5a92d8"/><circle cx="534.2" cy="902.8" r="1.4" fill="#6a9edc"/><circle cx="541.4" cy="902.5" r="1.8" fill="#4e88d0"/><circle cx="546.7" cy="901.8" r="1.4" fill="#5a92d8"/><circle cx="556.1" cy="902.8" r="1.8" fill="#6a9edc"/><circle cx="561.0" cy="897.8" r="1.6" fill="#4e88d0"/><circle cx="437.9" cy="908.1" r="1.8" fill="#4e88d0"/><circle cx="442.3" cy="907.4" r="1.6" fill="#4e88d0"/><circle cx="450.4" cy="906.7" r="2.0" fill="#4e88d0"/><circle cx="453.5" cy="907.6" r="1.7" fill="#6a9edc"/><circle cx="469.6" cy="908.6" r="1.8" fill="#6a9edc"/><circle cx="476.1" cy="905.3" r="1.4" fill="#6a9edc"/><circle cx="478.9" cy="903.7" r="1.5" fill="#4e88d0"/><circle cx="493.5" cy="908.1" r="1.4" fill="#5a92d8"/><circle cx="498.8" cy="904.4" r="1.5" fill="#5a92d8"/><circle cx="509.4" cy="908.4" r="1.5" fill="#4e88d0"/><circle cx="513.1" cy="905.3" r="1.5" fill="#4e88d0"/><circle cx="521.5" cy="905.4" r="1.8" fill="#4e88d0"/><circle cx="526.5" cy="905.1" r="2.0" fill="#4e88d0"/><circle cx="531.7" cy="908.7" r="1.5" fill="#5a92d8"/><circle cx="541.7" cy="908.2" r="1.7" fill="#5a92d8"/><circle cx="550.6" cy="905.2" r="1.3" fill="#4e88d0"/><circle cx="557.3" cy="907.3" r="1.5" fill="#4e88d0"/><circle cx="563.6" cy="905.9" r="1.3" fill="#5a92d8"/><circle cx="570.5" cy="907.8" r="1.6" fill="#4e88d0"/><circle cx="439.8" cy="914.5" r="1.7" fill="#4e88d0"/><circle cx="448.7" cy="912.3" r="1.5" fill="#4e88d0"/><circle cx="451.3" cy="915.1" r="1.4" fill="#6a9edc"/><circle cx="458.4" cy="913.1" r="1.4" fill="#5a92d8"/><circle cx="464.8" cy="912.9" r="1.3" fill="#4e88d0"/><circle cx="468.1" cy="911.9" r="1.9" fill="#6a9edc"/><circle cx="478.7" cy="915.1" r="1.5" fill="#6a9edc"/><circle cx="481.1" cy="910.6" r="1.7" fill="#5a92d8"/><circle cx="490.7" cy="909.9" r="1.5" fill="#5a92d8"/><circle cx="500.6" cy="912.0" r="1.6" fill="#4e88d0"/><circle cx="506.3" cy="912.8" r="1.9" fill="#5a92d8"/><circle cx="520.4" cy="910.6" r="1.2" fill="#4e88d0"/><circle cx="522.5" cy="911.2" r="1.3" fill="#5a92d8"/><circle cx="528.9" cy="910.8" r="1.5" fill="#6a9edc"/><circle cx="535.7" cy="912.8" r="1.4" fill="#4e88d0"/><circle cx="542.9" cy="914.9" r="1.9" fill="#5a92d8"/><circle cx="547.9" cy="910.7" r="1.9" fill="#4e88d0"/><circle cx="552.6" cy="914.6" r="1.8" fill="#5a92d8"/><circle cx="562.9" cy="913.6" r="1.8" fill="#6a9edc"/><circle cx="565.8" cy="911.7" r="1.8" fill="#4e88d0"/><circle cx="446.2" cy="917.5" r="1.8" fill="#4e88d0"/><circle cx="449.0" cy="918.9" r="1.4" fill="#4e88d0"/><circle cx="457.0" cy="920.1" r="1.5" fill="#4e88d0"/><circle cx="460.3" cy="919.5" r="1.6" fill="#5a92d8"/><circle cx="468.1" cy="916.6" r="1.7" fill="#5a92d8"/><circle cx="477.8" cy="917.1" r="1.4" fill="#4e88d0"/><circle cx="484.0" cy="920.3" r="1.8" fill="#4e88d0"/><circle cx="512.4" cy="916.5" r="2.0" fill="#5a92d8"/><circle cx="517.1" cy="916.7" r="1.3" fill="#5a92d8"/><circle cx="520.9" cy="919.4" r="1.9" fill="#6a9edc"/><circle cx="529.9" cy="920.9" r="1.6" fill="#6a9edc"/><circle cx="536.1" cy="917.3" r="1.6" fill="#5a92d8"/><circle cx="541.2" cy="920.8" r="1.6" fill="#4e88d0"/><circle cx="546.1" cy="918.0" r="1.7" fill="#4e88d0"/><circle cx="551.1" cy="919.8" r="1.2" fill="#4e88d0"/><circle cx="558.7" cy="918.3" r="1.8" fill="#6a9edc"/><circle cx="571.9" cy="919.7" r="1.2" fill="#4e88d0"/><circle cx="443.1" cy="926.3" r="1.4" fill="#5a92d8"/><circle cx="446.7" cy="921.9" r="1.5" fill="#5a92d8"/><circle cx="459.1" cy="926.3" r="1.8" fill="#5a92d8"/><circle cx="469.3" cy="926.9" r="1.9" fill="#6a9edc"/><circle cx="479.2" cy="922.8" r="1.5" fill="#5a92d8"/><circle cx="482.4" cy="922.4" r="1.3" fill="#6a9edc"/><circle cx="487.1" cy="922.8" r="1.8" fill="#6a9edc"/><circle cx="513.1" cy="923.7" r="1.2" fill="#4e88d0"/><circle cx="518.0" cy="922.8" r="1.9" fill="#4e88d0"/><circle cx="526.4" cy="921.9" r="1.3" fill="#5a92d8"/><circle cx="531.9" cy="922.6" r="2.0" fill="#6a9edc"/><circle cx="535.9" cy="926.7" r="1.3" fill="#6a9edc"/><circle cx="545.1" cy="923.0" r="1.9" fill="#5a92d8"/><circle cx="549.7" cy="923.8" r="1.6" fill="#4e88d0"/><circle cx="553.2" cy="925.1" r="1.4" fill="#4e88d0"/><circle cx="562.9" cy="926.1" r="1.2" fill="#4e88d0"/><circle cx="569.1" cy="925.8" r="1.4" fill="#5a92d8"/><circle cx="439.1" cy="927.9" r="1.2" fill="#6a9edc"/><circle cx="441.1" cy="929.5" r="1.6" fill="#5a92d8"/><circle cx="451.0" cy="930.7" r="1.2" fill="#5a92d8"/><circle cx="454.1" cy="930.8" r="1.6" fill="#4e88d0"/><circle cx="464.3" cy="932.0" r="1.6" fill="#5a92d8"/><circle cx="468.0" cy="929.3" r="1.5" fill="#4e88d0"/><circle cx="475.1" cy="933.0" r="1.6" fill="#5a92d8"/><circle cx="481.4" cy="928.2" r="1.9" fill="#4e88d0"/><circle cx="486.1" cy="930.9" r="1.5" fill="#5a92d8"/><circle cx="491.4" cy="929.2" r="1.2" fill="#4e88d0"/><circle cx="504.5" cy="932.3" r="1.9" fill="#4e88d0"/><circle cx="522.0" cy="928.0" r="2.0" fill="#4e88d0"/><circle cx="533.3" cy="929.5" r="1.6" fill="#5a92d8"/><circle cx="537.2" cy="932.3" r="1.3" fill="#4e88d0"/><circle cx="548.3" cy="932.1" r="1.3" fill="#6a9edc"/><circle cx="553.0" cy="931.1" r="2.0" fill="#4e88d0"/><circle cx="559.1" cy="930.8" r="1.8" fill="#4e88d0"/><circle cx="565.8" cy="927.9" r="1.5" fill="#4e88d0"/><circle cx="570.3" cy="929.3" r="1.6" fill="#5a92d8"/><circle cx="442.9" cy="938.6" r="1.3" fill="#4e88d0"/><circle cx="449.2" cy="938.9" r="1.6" fill="#5a92d8"/><circle cx="453.4" cy="937.8" r="1.8" fill="#5a92d8"/><circle cx="459.2" cy="937.0" r="1.5" fill="#6a9edc"/><circle cx="466.9" cy="937.9" r="1.7" fill="#4e88d0"/><circle cx="471.4" cy="937.7" r="2.0" fill="#5a92d8"/><circle cx="477.1" cy="937.9" r="1.7" fill="#5a92d8"/><circle cx="481.7" cy="938.4" r="1.4" fill="#4e88d0"/><circle cx="490.6" cy="937.6" r="1.8" fill="#4e88d0"/><circle cx="499.6" cy="936.5" r="1.5" fill="#4e88d0"/><circle cx="504.7" cy="934.3" r="1.5" fill="#5a92d8"/><circle cx="510.3" cy="939.1" r="1.9" fill="#5a92d8"/><circle cx="525.5" cy="934.4" r="1.5" fill="#4e88d0"/><circle cx="533.3" cy="935.2" r="1.6" fill="#5a92d8"/><circle cx="547.2" cy="935.3" r="1.8" fill="#5a92d8"/><circle cx="553.9" cy="934.8" r="1.6" fill="#4e88d0"/><circle cx="563.4" cy="934.7" r="1.4" fill="#6a9edc"/><circle cx="571.3" cy="934.7" r="1.3" fill="#6a9edc"/><circle cx="438.4" cy="940.0" r="1.2" fill="#5a92d8"/><circle cx="445.2" cy="943.3" r="1.5" fill="#5a92d8"/><circle cx="457.4" cy="940.5" r="2.0" fill="#4e88d0"/><circle cx="463.8" cy="942.4" r="1.7" fill="#4e88d0"/><circle cx="469.7" cy="944.2" r="1.3" fill="#6a9edc"/><circle cx="476.2" cy="944.4" r="1.7" fill="#6a9edc"/><circle cx="482.2" cy="942.1" r="1.3" fill="#6a9edc"/><circle cx="486.8" cy="941.3" r="1.8" fill="#6a9edc"/><circle cx="489.8" cy="945.0" r="1.4" fill="#4e88d0"/><circle cx="495.8" cy="942.9" r="1.5" fill="#4e88d0"/><circle cx="517.7" cy="942.8" r="1.8" fill="#5a92d8"/><circle cx="522.7" cy="941.1" r="1.3" fill="#5a92d8"/><circle cx="526.8" cy="942.5" r="1.3" fill="#6a9edc"/><circle cx="532.2" cy="942.9" r="1.2" fill="#4e88d0"/><circle cx="542.3" cy="941.6" r="1.9" fill="#4e88d0"/><circle cx="543.5" cy="941.3" r="1.5" fill="#4e88d0"/><circle cx="555.1" cy="944.9" r="1.7" fill="#5a92d8"/><circle cx="564.8" cy="943.3" r="1.3" fill="#6a9edc"/><circle cx="568.4" cy="945.0" r="1.7" fill="#4e88d0"/><circle cx="445.5" cy="948.3" r="1.3" fill="#4e88d0"/><circle cx="451.6" cy="948.8" r="1.8" fill="#5a92d8"/><circle cx="456.4" cy="949.3" r="1.8" fill="#5a92d8"/><circle cx="464.3" cy="945.8" r="1.3" fill="#5a92d8"/><circle cx="468.3" cy="951.0" r="1.6" fill="#5a92d8"/><circle cx="477.1" cy="947.5" r="1.9" fill="#5a92d8"/><circle cx="488.0" cy="950.3" r="1.5" fill="#6a9edc"/><circle cx="498.6" cy="946.4" r="1.5" fill="#6a9edc"/><circle cx="510.6" cy="950.9" r="1.9" fill="#6a9edc"/><circle cx="517.7" cy="948.9" r="1.6" fill="#5a92d8"/><circle cx="523.5" cy="948.5" r="1.8" fill="#4e88d0"/><circle cx="529.1" cy="949.2" r="1.2" fill="#5a92d8"/><circle cx="543.4" cy="948.8" r="1.3" fill="#5a92d8"/><circle cx="550.0" cy="948.2" r="1.9" fill="#5a92d8"/><circle cx="553.2" cy="950.2" r="1.7" fill="#5a92d8"/><circle cx="558.5" cy="949.5" r="1.7" fill="#4e88d0"/><circle cx="568.9" cy="949.5" r="1.9" fill="#6a9edc"/><circle cx="570.4" cy="950.7" r="1.3" fill="#4e88d0"/><circle cx="436.7" cy="951.9" r="1.7" fill="#4e88d0"/><circle cx="444.8" cy="954.7" r="1.8" fill="#5a92d8"/><circle cx="447.4" cy="952.2" r="1.4" fill="#4e88d0"/><circle cx="455.7" cy="955.4" r="1.5" fill="#6a9edc"/><circle cx="469.5" cy="956.7" r="1.3" fill="#6a9edc"/><circle cx="473.8" cy="955.7" r="1.8" fill="#6a9edc"/><circle cx="479.9" cy="954.8" r="1.6" fill="#4e88d0"/><circle cx="485.2" cy="956.7" r="1.9" fill="#5a92d8"/><circle cx="499.0" cy="955.9" r="1.7" fill="#5a92d8"/><circle cx="504.1" cy="955.3" r="1.3" fill="#6a9edc"/><circle cx="508.6" cy="955.7" r="1.3" fill="#6a9edc"/><circle cx="522.8" cy="952.3" r="2.0" fill="#5a92d8"/><circle cx="527.1" cy="954.0" r="1.8" fill="#5a92d8"/><circle cx="533.1" cy="956.8" r="1.8" fill="#4e88d0"/><circle cx="541.5" cy="956.0" r="2.0" fill="#5a92d8"/><circle cx="544.7" cy="952.5" r="1.9" fill="#6a9edc"/><circle cx="552.3" cy="956.4" r="1.9" fill="#6a9edc"/><circle cx="556.0" cy="954.3" r="1.5" fill="#4e88d0"/><circle cx="562.4" cy="952.3" r="1.4" fill="#6a9edc"/><circle cx="568.3" cy="954.5" r="1.6" fill="#6a9edc"/><circle cx="440.5" cy="960.6" r="1.3" fill="#4e88d0"/><circle cx="446.2" cy="962.3" r="1.9" fill="#4e88d0"/><circle cx="454.6" cy="958.0" r="1.7" fill="#4e88d0"/><circle cx="457.7" cy="958.8" r="1.7" fill="#5a92d8"/><circle cx="464.3" cy="962.3" r="1.7" fill="#5a92d8"/><circle cx="468.4" cy="960.1" r="1.8" fill="#4e88d0"/><circle cx="478.5" cy="961.7" r="1.6" fill="#6a9edc"/><circle cx="480.0" cy="963.0" r="1.4" fill="#6a9edc"/><circle cx="494.6" cy="957.9" r="1.5" fill="#4e88d0"/><circle cx="498.7" cy="960.8" r="1.7" fill="#4e88d0"/><circle cx="507.3" cy="957.8" r="1.9" fill="#6a9edc"/><circle cx="520.1" cy="961.8" r="1.9" fill="#4e88d0"/><circle cx="527.1" cy="962.4" r="2.0" fill="#4e88d0"/><circle cx="532.5" cy="961.9" r="1.7" fill="#5a92d8"/><circle cx="536.4" cy="962.0" r="1.7" fill="#6a9edc"/><circle cx="542.9" cy="960.2" r="1.9" fill="#5a92d8"/><circle cx="551.1" cy="961.0" r="1.5" fill="#4e88d0"/><circle cx="560.6" cy="962.1" r="1.3" fill="#4e88d0"/><circle cx="568.0" cy="957.8" r="1.8" fill="#6a9edc"/></g>
<ellipse cx="496.4" cy="921" rx="6.5" ry="10" fill="#c4bc94" transform="rotate(-20,496.4,921)"/>
<circle cx="494.33" cy="923.07" r="0.70" fill="#8a7a50"/>
<circle cx="496.86" cy="922.41" r="0.70" fill="#8a7a50"/>
<circle cx="496.81" cy="924.93" r="0.70" fill="#8a7a50"/>
<circle cx="497.69" cy="923.99" r="0.70" fill="#b0a070"/>
<circle cx="495.80" cy="918.52" r="0.70" fill="#b0a070"/>
<circle cx="496.70" cy="916.33" r="0.70" fill="#b0a070"/>
<circle cx="499.83" cy="923.63" r="0.70" fill="#e8e0c0"/>
<circle cx="497.66" cy="924.01" r="0.70" fill="#e8e0c0"/>
<circle cx="500.02" cy="924.76" r="0.70" fill="#8a7a50"/>
<circle cx="499.90" cy="918.97" r="0.70" fill="#b0a070"/>
<circle cx="498.11" cy="921.59" r="0.70" fill="#b0a070"/>
<circle cx="495.54" cy="921.20" r="0.70" fill="#8a7a50"/>
<circle cx="496.34" cy="922.73" r="0.70" fill="#8a7a50"/>
<circle cx="500.61" cy="922.81" r="0.70" fill="#e8e0c0"/>
<circle cx="496.24" cy="921.10" r="0.70" fill="#e8e0c0"/>
<circle cx="495.08" cy="915.45" r="0.70" fill="#b0a070"/>
<circle cx="494.94" cy="923.41" r="0.70" fill="#b0a070"/>
<circle cx="494.32" cy="918.98" r="0.70" fill="#8a7a50"/>
<circle cx="491.90" cy="921.73" r="0.70" fill="#e8e0c0"/>
<circle cx="495.76" cy="918.79" r="0.70" fill="#e8e0c0"/>
<circle cx="497.09" cy="921.30" r="0.70" fill="#8a7a50"/>
<circle cx="498.35" cy="918.27" r="0.70" fill="#e8e0c0"/>
<circle cx="494.90" cy="917.97" r="0.70" fill="#b0a070"/>
<circle cx="494.70" cy="919.90" r="0.70" fill="#b0a070"/>
<circle cx="494.36" cy="925.95" r="0.70" fill="#e8e0c0"/>
<circle cx="495.45" cy="914.16" r="0.70" fill="#8a7a50"/>
<circle cx="495.43" cy="918.04" r="0.70" fill="#8a7a50"/>
<circle cx="497.66" cy="925.06" r="0.70" fill="#8a7a50"/>
<circle cx="495.42" cy="919.60" r="0.70" fill="#e8e0c0"/>
<circle cx="496.71" cy="921.20" r="0.70" fill="#b0a070"/>
</g></g>
<text x="78.80" y="973.20" font-size="10" text-anchor="middle" fill="#111">HFAD</text>
<text x="220.60" y="973.20" font-size="10" text-anchor="middle" fill="#111">HFAD-H22B656</text>
<text x="361.80" y="973.20" font-size="10" text-anchor="middle" fill="#111">HFAD-W5S9</text>
<text x="504.50" y="973.20" font-size="10" text-anchor="middle" fill="#111">Control</text>
<text x="576.00" y="874.30" font-size="12.5" font-weight="bold" fill="#111">i</text>
<rect x="608.30" y="932.94" width="12.10" height="29.46" fill="#efb8a9"/>
<rect x="625.90" y="957.46" width="12.10" height="4.94" fill="#c3dce7"/>
<rect x="643.90" y="961.58" width="11.00" height="0.82" fill="#c9d4e7"/>
<line x1="614.00" y1="926.30" x2="614.00" y2="938.90" stroke="#d8634f" stroke-width="1.4"/>
<circle cx="614.10" cy="905.70" r="2.40" fill="#d8634f"/>
<circle cx="610.30" cy="930.80" r="2.40" fill="#d8634f"/>
<circle cx="618.20" cy="933.00" r="2.40" fill="#d8634f"/>
<circle cx="610.30" cy="938.60" r="2.40" fill="#d8634f"/>
<circle cx="618.20" cy="941.40" r="2.40" fill="#d8634f"/>
<circle cx="614.00" cy="946.00" r="2.40" fill="#d8634f"/>
<circle cx="627.90" cy="952.30" r="2.20" fill="#5aa6c6"/>
<circle cx="633.00" cy="952.30" r="2.20" fill="#5aa6c6"/>
<circle cx="627.90" cy="956.50" r="2.20" fill="#5aa6c6"/>
<circle cx="630.40" cy="956.50" r="2.20" fill="#5aa6c6"/>
<circle cx="635.50" cy="957.00" r="2.20" fill="#5aa6c6"/>
<circle cx="627.90" cy="960.20" r="2.20" fill="#5aa6c6"/>
<circle cx="633.00" cy="960.20" r="2.20" fill="#5aa6c6"/>
<circle cx="644.50" cy="961.00" r="2.10" fill="#6e93c6"/>
<circle cx="646.50" cy="960.20" r="2.10" fill="#6e93c6"/>
<circle cx="648.50" cy="961.00" r="2.10" fill="#6e93c6"/>
<circle cx="650.50" cy="960.20" r="2.10" fill="#6e93c6"/>
<circle cx="652.50" cy="961.00" r="2.10" fill="#6e93c6"/>
<circle cx="654.50" cy="960.20" r="2.10" fill="#6e93c6"/>
<rect x="661.3" y="960.2" width="11.3" height="4.4" rx="2.2" fill="#55b49b"/>
<path d="M601.6,880.1 L601.6,962.4 L678.8,962.4 L678.8,880.1 Z" fill="none" stroke="#333" stroke-width="0.9"/>
<line x1="599.10" y1="962.40" x2="601.60" y2="962.40" stroke="#333" stroke-width="0.8"/>
<text x="598.40" y="965.00" font-size="7.2" text-anchor="end" fill="#222">0.0</text>
<line x1="599.10" y1="941.80" x2="601.60" y2="941.80" stroke="#333" stroke-width="0.8"/>
<text x="598.40" y="944.40" font-size="7.2" text-anchor="end" fill="#222">0.1</text>
<line x1="599.10" y1="921.20" x2="601.60" y2="921.20" stroke="#333" stroke-width="0.8"/>
<text x="598.40" y="923.80" font-size="7.2" text-anchor="end" fill="#222">0.2</text>
<line x1="599.10" y1="900.60" x2="601.60" y2="900.60" stroke="#333" stroke-width="0.8"/>
<text x="598.40" y="903.20" font-size="7.2" text-anchor="end" fill="#222">0.3</text>
<line x1="599.10" y1="880.00" x2="601.60" y2="880.00" stroke="#333" stroke-width="0.8"/>
<text x="598.40" y="882.60" font-size="7.2" text-anchor="end" fill="#222">0.4</text>
<text transform="translate(585.40,921.20) rotate(-90)" font-size="7" text-anchor="middle" fill="#222">Lipid area (% liver section)</text>
<path d="M612.8,893 L612.8,890.2 L667.4,890.2 L667.4,893" fill="none" stroke="#333" stroke-width="0.9"/>
<text x="639.70" y="886.90" font-size="7.8" text-anchor="middle" fill="#222"><tspan font-style="italic">p</tspan> &lt; 0.0001</text>
<path d="M612.8,903.6 L612.8,900.8 L649.4,900.8 L649.4,903.6" fill="none" stroke="#333" stroke-width="0.9"/>
<text x="631.50" y="897.30" font-size="7.8" text-anchor="middle" fill="#222"><tspan font-style="italic">p</tspan> = 0.0225</text>
<path d="M632.4,946.7 L632.4,943.9 L668.5,943.9 L668.5,946.7" fill="none" stroke="#333" stroke-width="0.9"/>
<text x="651.30" y="940.60" font-size="7.8" text-anchor="middle" fill="#222"><tspan font-style="italic">p</tspan> = 0.0225</text>
<circle cx="578.70" cy="970.00" r="2.40" fill="#d8634f"/>
<text x="582.10" y="972.50" font-size="7" fill="#222">HFAD</text>
<circle cx="636.30" cy="970.00" r="2.40" fill="#6e93c6"/>
<text x="639.70" y="972.50" font-size="7" fill="#222">HFAD-W5S9</text>
<circle cx="578.70" cy="975.80" r="2.40" fill="#5aa6c6"/>
<text x="582.10" y="978.30" font-size="7" fill="#222">HFAD-H22B656</text>
<circle cx="636.30" cy="975.80" r="2.40" fill="#55b49b"/>
<text x="639.70" y="978.30" font-size="7" fill="#222">Control</text>
</svg></body></html>
